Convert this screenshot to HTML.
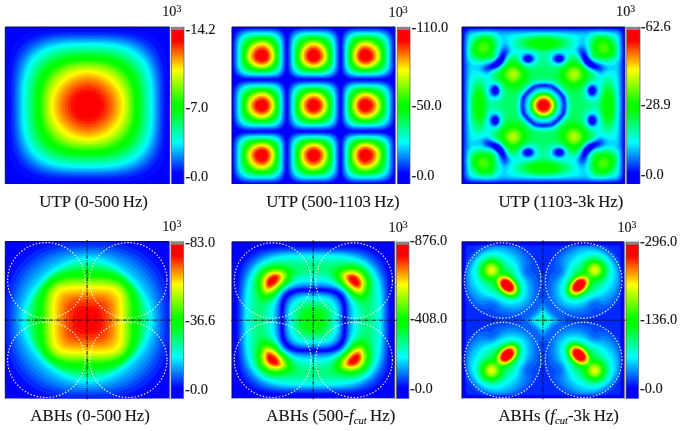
<!DOCTYPE html>
<html><head><meta charset="utf-8"><title>Figure</title>
<style>html,body{margin:0;padding:0;background:#fff}svg{display:block}text{font-family:"Liberation Serif",serif;fill:#141414;stroke:#141414;stroke-width:.12px}</style></head><body>
<svg width="685" height="431" viewBox="0 0 685 431">
<defs><linearGradient id="cb" x1="0" y1="1" x2="0" y2="0">
<stop offset="0.000" stop-color="#00f"/>
<stop offset="0.070" stop-color="#00f"/>
<stop offset="0.270" stop-color="#0ff"/>
<stop offset="0.480" stop-color="#0f0"/>
<stop offset="0.520" stop-color="#0f0"/>
<stop offset="0.740" stop-color="#ff0"/>
<stop offset="0.930" stop-color="#f00"/>
<stop offset="1.000" stop-color="#f00"/>
</linearGradient></defs>
<rect width="685" height="431" fill="#fff"/>
<svg x="5.3" y="27.0" width="164.4" height="157.0" viewBox="0 0 164.4 157.0" overflow="hidden">
<rect width="164.4" height="157.0" fill="#00f"/>
<path fill="#00f" d="M0 .6l.6-.6 163.2 0 .6 .6 0 155.8 -.6 .6 -163.2 0 -.6-.6z"/>
<path fill="#00f" d="M7.3 8.1l2.7-2.5 4-2.5 4-1.8 4-1.3 120.4 0 4 1.3 4 1.8 4 2.5 2 1.7 2.5 2.8 2.7 4 1.8 4 1 3 0 114.8 -1 3 -1.8 4 -2.7 4 -1.8 2 -2.7 2.5 -4 2.5 -4 1.8 -4 1.3 -120.4 0 -4-1.3 -4-1.8 -4-2.5 -2-1.7 -2.5-2.8 -2.7-4 -1.8-4 -1-3 0-114.8 1-3 1.8-4 2.7-4z"/>
<path fill="#000cff" d="M12 13.4l3.8-3.3 3.3-2 4.6-2.1 4.4-1.3 6-1.2 6-.7 8-.5 10-.2 50.2 0 10 .3 8 .6 8 1.2 6.4 1.8 3.7 1.6 2 1 2.2 1.5 2.4 2 3.4 3.7 2 3.2 2 4.4 1.4 4.8 1.2 6 .7 6.1 .3 6 .2 10.1 0 46.3 -.3 10 -.7 8.1 -.9 6 -1.9 6.8 -2.5 5.3 -1.5 2.3 -2 2.4 -3.8 3.3 -3.3 2 -4.6 2.1 -4.4 1.3 -6 1.2 -6 .7 -8 .5 -10 .2 -50.2 0 -10-.3 -8-.6 -8-1.2 -6.4-1.8 -3.7-1.6 -2-1 -2.2-1.5 -2.4-2 -3.4-3.7 -2-3.2 -2-4.4 -1.4-4.8 -1.2-6 -.7-6.1 -.3-6 -.2-10.1 0-46.3 .3-10 .7-8.1 .9-6 1.9-6.8 2.5-5.3 1.5-2.3z"/>
<path fill="#0029ff" d="M18 16.9l4.1-3.2 2-1.2 4-2 6-2.1 6-1.4 6-.8 10-.7 10.1-.2 16-.1 16 .1 10.1 .2 10 .7 6 .8 6 1.4 6 2.1 4 2 2 1.2 4.1 3.2 2.9 3.2 2.8 4.1 1.9 4 2.1 6 1.3 6.1 .7 6 .5 8 .3 10.1 -.1 34.2 -.5 10.1 -.9 8 -1.3 6.1 -2.1 6 -1.9 4 -1.3 2.1 -3.2 4 -3.2 2.9 -4.1 2.7 -4 2 -6 2.1 -6 1.4 -6 .8 -10 .7 -10.1 .2 -38.1-.1 -8-.3 -10-1 -8-1.7 -6-2.1 -4-2 -2-1.2 -4.1-3.2 -2-2.1 -2-2.5 -2.7-4.7 -2.4-6 -1.5-6 -.9-6.1 -.7-10 -.2-8.1 -.1-16.1 .1-16.1 .2-8.1 .7-10 .9-6.1 1.5-6 2.4-6 2.7-4.7 2-2.5z"/>
<path fill="#0046ff" d="M20.1 20.1l4-3.4 2-1.3 4-2.2 6-2.2 6-1.5 6-1 10-.8 10.1-.2 14-.1 14 .1 10.1 .2 10 .8 6 1 6 1.5 6 2.2 4 2.2 2 1.3 4 3.4 3.4 4.1 2.5 4 1.9 4 1.9 6 1.2 6.1 .9 8 .4 10.1 .1 28.2 -.3 10 -.6 8.1 -.8 6 -1.4 6.1 -2.3 6 -2.1 4 -1.4 2 -3.3 4 -4.1 3.5 -2 1.3 -4 2.2 -6 2.2 -6 1.5 -6 1 -10 .8 -8.1 .2 -30 0 -10.1-.2 -10-.8 -6-1 -6-1.5 -6-2.2 -4-2.2 -2-1.3 -4-3.4 -3.4-4.1 -1.4-2 -2.1-4 -2.3-6 -1.4-6.1 -.8-6 -.5-6 -.3-10.1 -.1-14.1 .1-14.1 .3-10.1 .5-6 .8-6 1.4-6.1 2.3-6 2.1-4 1.4-2z"/>
<path fill="#0063ff" d="M22.1 21.8l2-1.9 2.4-1.8 3.2-2 2.4-1.2 6-2.3 6-1.5 6-.9 8-.7 10.1-.4 14 0 14 0 10.1 .4 8 .7 6 .9 6 1.5 6 2.3 2.4 1.2 3.2 2 2.4 1.8 2 1.9 2.1 2.1 1.7 2.3 2.4 4 2.6 6 1.2 4.1 1.2 6 .7 6 .5 8.1 .2 10 -.2 26.2 -.5 8.1 -1 8 -1.5 6.1 -2.2 6 -1.1 2.3 -2 3.3 -1.9 2.4 -1.8 2.1 -2.1 2 -2.3 1.7 -4 2.5 -6 2.6 -6 1.7 -6 1.1 -8 .9 -8.1 .4 -10 .1 -20 0 -10.1-.3 -8-.6 -8-1.1 -6-1.5 -6-2.3 -2.4-1.2 -3.2-2 -2.4-1.8 -2-1.9 -2.1-2.1 -1.7-2.3 -2.4-4 -2.6-6 -1.7-6.1 -1-6 -.7-8.1 -.3-8 -.1-14.1 .1-14.1 .3-8 .7-8.1 1-6 1.7-6.1 2.6-6 2.4-4 1.7-2.3z"/>
<path fill="#0080ff" d="M24.1 23l4-3.3 2.5-1.6 3.5-1.8 6-2.3 6-1.4 6-1 8-.6 8.1-.3 14-.1 14 .1 8.1 .3 8 .6 6 1 6 1.4 6 2.3 3.5 1.8 2.5 1.6 4 3.3 3 3.2 2.8 4 2.3 4.6 1.9 5.5 1.4 6 .8 6 .6 8.1 .2 8 0 18.2 -.2 10 -.6 8.1 -.8 6 -1.4 6 -2.2 6.1 -1.7 3.5 -1.6 2.5 -3.3 4 -3.2 3 -4.5 3.1 -5.5 2.7 -6 1.9 -6 1.3 -6 .8 -8.1 .5 -10 .3 -28-.2 -8.1-.4 -8-1 -4-.8 -4-1 -6-2.3 -3.5-1.8 -2.5-1.6 -4-3.3 -3-3.2 -3.1-4.5 -2.5-5.5 -1.9-6.1 -1.2-6 -.9-8.1 -.3-8 -.1-14.1 .1-14.1 .3-8 .9-8.1 1.2-6 1.9-6.1 2.5-5.5 3.1-4.5z"/>
<path fill="#009dff" d="M28.1 22.3l4-2.7 2.8-1.5 3.2-1.4 6-1.9 6-1.2 8-1 8.1-.4 28-.1 8 .3 6.1 .4 6 .8 6 1.2 6 1.9 4 1.8 4 2.4 4.1 3.3 3.7 4 2.3 3.2 2.4 4.8 1.5 4.1 1.6 6 1 6 .5 6.1 .3 8 .1 18.1 -.2 10.1 -.5 8.1 -.8 6 -1.4 6 -2.1 6.1 -2 4 -1.2 2 -3.3 4.1 -4 3.8 -4 2.7 -4 2 -6 2.2 -6 1.5 -6 .9 -8.1 .6 -8 .3 -28-.1 -8.1-.4 -8-1 -8-1.8 -6-2.2 -4-2 -2-1.3 -4.1-3.3 -2-2 -1.9-2.3 -2.1-2.9 -1.5-2.8 -2.4-6.1 -1.6-6 -1.2-8 -.5-8.1 -.2-10.1 .1-18.1 .3-8 .8-8.1 1.1-6 1.9-6.1 1.7-4 2.3-4 3.3-4.1z"/>
<path fill="#00baff" d="M28.1 24.9l4-3 2.9-1.8 3.1-1.4 6-2.1 6-1.4 8-1.1 8.1-.5 26-.1 8 .2 8.1 .6 6 .9 6 1.4 6 2.1 4 1.9 4 2.7 3.4 2.9 3.5 4 2.6 4 1.9 4 2 6.1 1.3 6 .7 6.1 .5 8 .1 8.1 -.2 22.1 -.6 8.1 -.9 6 -1.5 6 -2.3 6.1 -2.5 4.3 -2 2.8 -2 2.3 -4 3.5 -4 2.7 -4 1.9 -6 2.1 -6 1.4 -6 .9 -8.1 .6 -10 .3 -16 0 -10-.3 -8.1-.6 -8-1.3 -6-1.6 -6-2.4 -4.4-2.5 -2.7-2.1 -2.3-2 -3.5-4 -1.4-2 -2.2-4 -2.3-6.1 -1.5-6 -.9-6 -.6-8.1 -.2-10.1 0-16.1 .3-8 .5-6.1 .9-6 1.5-6 2.3-6.1 2.2-4 3-4z"/>
<path fill="#00d7ff" d="M28.1 27.5l3.9-3.3 4.1-2.6 3-1.5 3-1.2 6-1.7 6-1.2 8.1-.8 8-.4 12 0 12 0 8 .4 8.1 .8 6 1.2 6 1.7 3 1.2 3 1.5 4.1 2.6 3.9 3.3 2 2.1 2 2.6 2 3.2 2.1 4.2 1.6 4.7 1.4 6 .8 6.1 .6 8 .1 8.1 0 14.1 -.2 8 -.7 8.1 -1 6 -1.7 6 -.9 2.7 -1.6 3.4 -2.5 4 -3.3 4 -2.1 2 -2.5 2 -4.1 2.6 -4 1.9 -6 2 -6 1.4 -6 .8 -8.1 .5 -10 .2 -16 0 -8-.3 -8.1-.6 -6-1 -6-1.5 -6-2.4 -3-1.5 -3-2 -4-3.4 -2-2.1 -2-2.6 -2.5-4 -1.8-4.1 -1.9-6 -1.2-6 -.7-6.1 -.4-8 -.1-12.1 .1-12.1 .4-8 .7-6.1 1.2-6 1.9-6 1.8-4.1 2.5-4 2-2.6z"/>
<path fill="#00f4ff" d="M32.1 26.4l4-2.8 2.7-1.5 3.3-1.4 6-1.9 6-1.3 6-.8 8.1-.5 24-.1 8 .3 6.1 .6 6 .9 6 1.4 4 1.4 4 1.8 4 2.4 4.1 3.3 3.7 4 2.2 3.3 2 3.8 2 5 1.1 4 1.1 6 .6 6.1 .4 8 0 16.1 -.1 8.1 -.6 8 -1 6.1 -1.5 6 -2 5 -2.8 5.1 -3.2 4.1 -4 3.7 -3.1 2.2 -3.6 2.1 -5.3 2.2 -6 1.6 -6 1.1 -8.1 .8 -8 .3 -16 0 -10-.2 -8.1-.7 -6-.9 -6-1.4 -6-2.2 -4.9-2.7 -2.9-2 -2.3-2 -2-2 -1.9-2.4 -2-2.9 -1.5-2.7 -2.5-6.1 -1.5-6 -1-6.1 -.6-8 -.1-8.1 0-16.1 .4-8 .6-6.1 1.1-6 1.8-6 1.3-3 1.5-3.1 2.5-3.6 2-2.5z"/>
<path fill="#0fe" d="M32.1 28.8l4-3 2.7-1.6 3.3-1.7 6-2.1 6-1.4 6-.8 8.1-.6 22-.1 8 .2 6.1 .5 6 .8 6 1.4 5.1 1.7 4.9 2.4 4 2.7 3.5 3 3.5 4 2.5 4 1.9 4.1 2 6 1.2 6 .7 6.1 .4 6 .1 8.1 0 12.1 -.3 8 -.6 6 -1 6.1 -1.7 6 -2.2 5 -3 5.1 -3 3.5 -4 3.5 -4 2.7 -4.9 2.4 -5.1 1.7 -6 1.4 -6 .8 -8.1 .6 -8 .1 -14 0 -8-.2 -8.1-.7 -6-1 -6-1.6 -6-2.5 -4.6-2.7 -2.7-2 -2.2-2 -3.5-4 -3-5.1 -2.2-5 -1.7-6 -1-6.1 -.7-8 -.2-8.1 0-14.1 .3-8 .6-6 1-6.1 1.7-6 1.7-4 2.5-4.5 2.6-3.6z"/>
<path fill="#00ffd2" d="M32.1 31.4l3.7-3.2 3.1-2 3.9-2 5.3-2.1 6-1.5 6-.9 6.1-.6 8-.2 14-.1 8 .2 8.1 .7 6 .9 6 1.5 6 2.4 4 2.1 2.3 1.6 2.4 2 3.9 4 2.8 4 2.1 4.1 1.5 4 1.2 4 1.2 6.1 .6 6 .3 8 .1 14.1 -.3 8.1 -.5 6 -.9 6.1 -1.7 6 -1 2.7 -1.5 3.3 -2.5 4.2 -3.2 3.9 -2.8 2.6 -2 1.6 -2.8 1.8 -3.9 2 -5.3 2.1 -4 1.1 -6 1.1 -6.1 .6 -8 .4 -14 .1 -10-.2 -8.1-.7 -6-.9 -6-1.5 -6-2.4 -4-2.1 -2.3-1.6 -2.4-2 -3.9-4 -2.8-4 -2.1-4.1 -1.5-4 -1.7-6 -.9-6.1 -.5-6 -.3-8.1 0-12 .3-8.1 .7-8 1.2-6.1 1.9-6 1.8-4 2.5-4.2 2-2.6z"/>
<path fill="#00ffb7" d="M33.9 32.2l4.2-3.4 4-2.4 5.3-2.2 4.7-1.5 6-1.2 6.1-.8 6-.3 10-.2 10 .1 8 .3 6.1 .6 6 1 6 1.7 5.5 2.3 4.5 2.6 4 3.3 3.8 4.1 2.2 3.4 2.4 4.7 1.5 4 1.1 4 1.1 6.1 .5 6 .3 6 0 12.1 -.2 8.1 -.4 6 -.9 6.1 -1.5 6 -1.9 4.9 -2.8 5.2 -3.2 4.1 -4 3.8 -3 2.1 -3.5 2 -5.5 2.3 -6 1.7 -6 1 -6.1 .6 -8 .3 -14 .1 -8-.3 -8.1-.7 -6-1 -6-1.7 -5.5-2.3 -4.5-2.6 -4-3.3 -3.8-4.1 -2.2-3.4 -2.4-4.7 -1.6-4.5 -1.4-5.5 -.9-6.1 -.4-6 -.2-10.1 0-10.1 .4-8 .7-6 1.3-6.1 2.1-6 2-4 2.6-4.1z"/>
<path fill="#00ff9b" d="M36.1 32.8l4-3.1 4-2.3 6-2.4 6-1.6 6.1-1 8-.6 8-.1 12 0 8 .4 6.1 .6 6 1.2 4 1.1 4 1.5 4 2 4 2.6 3.6 3.1 3.4 4 2.5 4.1 1.9 4 1.3 4 1.1 4 .9 6.1 .5 6 .2 8.1 0 10 -.3 8.1 -.6 6 -1.2 6.1 -1.9 6 -1.9 4 -2.5 4.1 -3 3.5 -4 3.6 -4 2.6 -4.8 2.3 -5.2 1.8 -6 1.4 -6.1 .8 -6 .4 -8 .1 -12 0 -8-.4 -6.1-.6 -6-1.2 -6-1.8 -5.5-2.5 -4.5-2.9 -3.6-3.1 -3.4-4 -2.5-4.1 -1.9-4 -1.9-6 -1.2-6.1 -.6-6 -.3-8.1 0-12 .3-8.1 .6-6 1.2-6.1 1.2-4 1.6-4 2.5-4.5 2.6-3.6z"/>
<path fill="#00ff80" d="M37.2 34.2l2.9-2.3 4-2.5 4-1.9 6-2 6-1.2 6.1-.8 6-.3 10-.1 10 .1 6 .3 6.1 .8 6 1.2 6 2 4 1.9 4 2.5 2.9 2.3 3.1 3.3 2.1 2.8 2.4 4 1.8 4 1.3 4 1.3 6.1 .7 6 .3 6 0 12.1 -.2 8.1 -.6 6 -1 6.1 -1.8 6 -1.8 4 -2.5 4.2 -3.1 3.9 -2.9 2.7 -4 2.9 -4 2.2 -4 1.7 -4 1.2 -6 1.2 -6.1 .8 -8 .4 -12 0 -8-.2 -8-.7 -6.1-1 -6-1.7 -4-1.7 -4-2.2 -2.4-1.6 -2.5-2 -3.8-4 -2.7-4.1 -2.1-4 -2.1-6 -1.3-6.1 -.7-6 -.3-6 -.1-8.1 .1-8.1 .3-6 .7-6 1.3-6.1 2.1-6 2.1-4 2.7-4.1z"/>
<path fill="#00ff64" d="M38.1 35.9l4-3.2 4-2.4 4.9-2.1 5.1-1.6 6.1-1.1 6-.7 6-.2 8-.1 8 .1 6 .2 6 .7 6.1 1.1 5.1 1.6 4.9 2.1 4 2.4 4 3.2 2.3 2.3 3 4.1 2.2 4 1.7 4 1.2 4 1.2 6.1 .6 6 .2 6.1 -.1 16.1 -.5 6 -.9 6 -1.7 6.1 -1.7 4 -2.2 4 -3.3 4.3 -3.9 3.8 -2.8 2 -3.5 2 -5.8 2.4 -4 1.2 -6.1 1.1 -6 .7 -6 .2 -12 .1 -8-.2 -6-.5 -6.1-1 -6-1.6 -5.8-2.4 -4.2-2.5 -4-3.2 -2-2.1 -1.9-2.3 -2.1-3.2 -2.4-4.8 -1.4-4 -1.4-6.1 -.8-6 -.4-6 -.1-8.1 .1-8.1 .4-6 .8-6 1.4-6.1 1.4-4 2.4-4.8 2.1-3.2 1.9-2.3z"/>
<path fill="#00ff48" d="M42.1 34.9l4-2.6 4-2 4-1.4 6-1.5 6.1-.9 6-.4 10-.2 10 .2 6 .4 4 .5 5.7 1.2 4.4 1.3 4 1.7 4 2.3 3.7 2.7 2.1 2 3.3 4.1 2.5 4 1.8 4 1.3 4 .9 4.1 .9 6 .4 6 .1 8.1 -.1 8.1 -.4 6 -.9 6 -.9 4.1 -1.3 4 -1.8 4 -2.5 4 -3.3 4.1 -3.8 3.3 -4 2.6 -4.3 2.1 -5.7 1.9 -6.1 1.3 -6 .7 -6 .3 -8 .1 -8-.1 -6-.3 -6-.7 -6.1-1.3 -5.7-1.9 -4.3-2.1 -4-2.6 -3.8-3.3 -3.3-4.1 -2.5-4 -1.8-4 -1.8-6.1 -1.1-6 -.5-6 -.2-10.1 .2-10.1 .5-6 .7-4 1.5-6.1 1.6-4 2-4 2.5-3.5 2.2-2.6z"/>
<path fill="#00ff2d" d="M42.1 37.2l4-2.9 4-2.2 4-1.5 6-1.7 6.1-.9 6-.5 16-.2 6 .3 6 .6 6.1 1.2 4 1.2 4 1.5 3.9 2.1 2.9 2 3.2 2.8 2.9 3.3 2.7 4 2 4 1.4 4 1 4.1 1 6 .4 6 .1 8.1 -.1 8.1 -.4 6 -1 6 -1 4.1 -1.4 4 -2 4 -2.7 4 -2.9 3.3 -4 3.4 -4 2.5 -4 1.8 -4 1.4 -6.1 1.4 -6 .7 -6 .4 -8 .1 -8-.1 -6-.4 -6-.7 -6.1-1.4 -4-1.4 -4-1.8 -4-2.5 -4-3.4 -2.9-3.3 -2.7-4 -2-4 -2-6.1 -1.1-6 -.6-6 -.2-6.1 0-10 .3-6.1 .8-6 .8-4 1.6-4.9 2-4.4 2-3.3 2.8-3.5z"/>
<path fill="#0f1" d="M42.1 39.5l4-3.2 3.6-2.1 4.4-1.9 4-1.3 4.1-.9 6-.9 6-.4 8-.1 8 .1 6 .4 6 .9 4.1 .9 4 1.3 4.4 1.9 3.6 2.1 4 3.2 2.7 2.8 2.9 4 1.1 2 1.9 4 1.3 4.1 1.3 6 .5 4 .3 6.1 0 10 -.2 6.1 -.6 6 -.8 4 -1.8 6.1 -1.9 4 -2.5 4 -2.2 2.8 -3.4 3.3 -2.8 2 -3.8 2.2 -4.2 1.8 -3.8 1.2 -6.1 1.3 -6 .7 -6 .3 -10 0 -6-.2 -6-.5 -6.1-1.1 -5.8-1.7 -4.2-1.8 -4-2.3 -4-3.2 -2.7-2.8 -2.9-4 -2.1-4 -1.6-4 -1.1-4.1 -1-6 -.5-6 -.2-8.1 .2-8.1 .5-6 1-6 1.1-4.1 1.6-4 2.1-4 2.9-4z"/>
<path fill="#0f0" d="M46.1 38.4l4-2.5 4-1.9 4-1.4 6.1-1.4 4-.6 6-.4 8-.1 8 .1 6 .4 4 .6 4.1 .8 4 1.2 4 1.7 4 2.2 4 2.9 2 1.9 2.1 2.4 2.7 4 2 4 1.4 4.1 1.1 4 .9 6 .4 6.1 0 6 0 6 -.4 6.1 -.9 6 -1.1 4 -1.4 4.1 -2 4 -2.7 4 -2.1 2.4 -4 3.5 -3.4 2.2 -4.6 2.2 -4 1.4 -4.1 1 -6 1 -6 .4 -8 .1 -8-.1 -6-.4 -6-1 -4.1-1 -4-1.4 -4.6-2.2 -3.4-2.2 -4-3.5 -2-2.3 -1.5-2.1 -2.4-4 -1.7-4 -1.2-4.1 -1.1-6 -.6-6 -.1-8.1 .1-8.1 .6-6 .6-4 1.1-4 1.4-4.1 2-4 2.7-4 2.1-2.4z"/>
<path fill="#0f0" d="M46.1 40.6l3.3-2.4 3.6-2 5-2 4.2-1.1 4-.8 6-.6 6-.3 10 .1 6 .3 4 .5 4 .8 4.2 1.1 3.9 1.5 4 2.1 3.6 2.5 2.4 2 2 2.2 2.8 3.8 2.2 4 1.6 4.1 1.1 4 1 6 .5 6.1 0 6 0 6 -.5 6.1 -1 6 -1.1 4 -1.6 4.1 -2.2 4 -2.8 3.8 -2 2.2 -4 3.2 -4 2.4 -4 1.8 -4 1.3 -4.1 .9 -6 .9 -6 .3 -6 .1 -6-.1 -6-.3 -6-.9 -4.1-.9 -4-1.3 -4-1.8 -4-2.4 -4-3.2 -3.5-4 -2.5-4 -1.9-4 -1.3-4.1 -.9-4 -.8-6 -.3-6.1 0-10 .5-6.1 .6-4 .9-4 1.3-4.1 1.9-4 2.5-4 3.5-4z"/>
<path fill="#10ff00" d="M46.6 42.3l3.5-2.7 4-2.2 4-1.7 4.1-1.2 4-.8 6-.7 6-.3 6 0 6 .1 6 .6 4 .7 4.1 1 4 1.4 4 1.9 2.9 1.9 3.1 2.4 2 2 2.9 3.6 2.4 4 1.7 4.1 1.2 4 .8 4 .5 4 .3 6.1 -.1 12.1 -.7 6 -.8 4 -1.2 4 -1.7 4.1 -2.4 4 -3.3 4 -2.1 2 -3.5 2.7 -4 2.2 -4 1.7 -4.1 1.2 -6 1.1 -4 .4 -6 .3 -8 0 -6-.3 -6-.7 -4-.8 -4.1-1.2 -4-1.7 -4-2.2 -4-3.1 -3.4-3.6 -2.6-3.7 -2.2-4.3 -1.4-4.1 -1.1-4 -.8-6 -.3-6.1 -.1-6 .2-6.1 .7-6 .8-4 1.2-4 1.7-4.1 2.4-4 2.9-3.6z"/>
<path fill="#2bff00" d="M50.1 41.5l4-2.4 4-1.8 4.1-1.3 4-1 4-.6 6-.4 12 0 6 .4 4 .6 4 1 4.1 1.3 2.3 .9 3.8 2.1 2.9 2 3 2.6 2.9 3.4 2.6 4 1.9 4.1 1.3 4 .9 4 .6 4 .4 6.1 0 6 -.2 6.1 -.4 4 -.8 4 -1.2 4.4 -1.5 3.7 -2.2 4 -2.3 3.2 -2.7 2.8 -3.3 2.8 -4 2.4 -4 1.8 -4.1 1.3 -4 1 -6 .8 -6 .3 -6 0 -6-.2 -6-.6 -4-.8 -4.1-1.1 -4-1.5 -4-2.1 -3-2.1 -3-2.6 -2.9-3.4 -2.6-4 -1.9-4.1 -1.3-4 -.9-4 -.8-6 -.2-6.1 .1-8 .5-6.1 .8-4 1.1-4 1.6-4.1 2.2-4 2.3-3.2 2.7-2.8z"/>
<path fill="#45ff00" d="M49.1 44.3l3-2.3 4-2.3 4-1.7 4.1-1.2 4-.8 6-.7 6-.2 6 0 6 .4 4 .5 4 .8 4.1 1.2 4 1.7 4 2.3 3 2.3 2.2 2 2.8 3.3 2 3.1 1.8 3.7 1.5 4 1 4 .6 4 .3 4.1 .2 6 -.2 6 -.3 4.1 -.6 4 -1 4 -1.5 4 -1.8 3.7 -2 3.1 -2.8 3.3 -3.2 2.8 -4 2.7 -4 2 -4.1 1.4 -4 1 -4 .7 -6 .5 -6 .1 -6-.1 -6-.5 -4-.7 -4-1 -4.1-1.4 -4-2 -4-2.7 -3.2-2.8 -2.8-3.3 -2-3.1 -1.8-3.7 -1.5-4 -1-4 -.8-6 -.3-6.1 .1-6 .4-6.1 .6-4 1-4 1.3-3.6 2-4.1 1.5-2.4 2.5-3.1z"/>
<path fill="#5fff00" d="M50.1 45.5l2-1.6 4-2.5 4-1.9 4.1-1.3 4-.9 4-.6 6-.4 6 0 6 .2 4 .5 4 .7 4 1.1 4.1 1.6 3.6 1.9 2.9 2 2.4 2 3.1 3.3 2 2.7 2 3.6 1.1 2.5 1.3 4 .9 4 .5 4 .3 6.1 0 6 -.3 4.1 -.5 4 -1.3 5.4 -.9 2.6 -1.9 4.1 -2.6 4 -2.6 3 -3.5 3 -2.9 2 -3.6 1.9 -4.1 1.6 -4 1.1 -4 .7 -4 .5 -6 .2 -6 0 -6-.4 -4-.6 -4-.9 -4.1-1.3 -4-1.9 -4-2.5 -2.9-2.4 -3.1-3.3 -2-2.7 -2.2-4.1 -1.6-4 -1.1-4 -.7-4 -.5-6.1 0-6 .3-6.1 .5-4 .9-4 1.3-4 1.1-2.5 2-3.6 3.1-4z"/>
<path fill="#7aff00" d="M54.1 44.3l4-2.3 4.1-1.7 4-1.2 3.8-.9 4.2-.5 4-.2 6-.1 6 .3 4 .5 4 .9 4 1.2 4.6 2 3.5 2 2.6 2 3.4 3.3 2.1 2.7 2.5 4.1 1.7 4 1.2 4 .8 4 .4 4.1 .2 4 0 6 -.3 4.1 -.6 4 -1 4 -1 2.8 -1.4 3.2 -2.5 4.1 -2.1 2.7 -2 2 -2 1.8 -4 2.7 -4 2 -4.1 1.5 -4 1 -6 .9 -6 .3 -6-.1 -6-.4 -4-.7 -4-1 -4.1-1.5 -2.5-1.2 -3.5-2 -2.6-2 -3.4-3.3 -2.1-2.7 -2.5-4.1 -1.7-4 -1.2-4 -.8-4 -.6-6.1 0-6 .3-6.1 .6-4 1-4 1.5-4 1.5-3.1 1.9-3 2.1-2.7 3.4-3.3z"/>
<path fill="#94ff00" d="M54.1 46.3l3-2 3.9-2 3.2-1.2 4-1.2 4-.7 4-.4 6-.2 6 .2 4 .4 4 .7 4 1.2 3.2 1.2 3.9 2 3 1.9 4 3.6 2.2 2.5 1.8 2.6 1.9 3.5 1.6 4 1.1 4 .7 4 .3 4.1 .1 6 -.2 4 -.5 4.1 -.9 4 -1.3 4 -.9 2 -2.3 4.1 -1.6 2.2 -3.5 3.8 -2.5 2.1 -4 2.5 -4.1 1.9 -4 1.4 -4 .9 -4 .6 -4 .2 -6 .1 -6-.3 -4-.6 -4-.9 -4-1.4 -4.1-1.9 -2-1.2 -4-3 -2-1.9 -2.2-2.5 -2.6-4.1 -2-4 -1.2-3.6 -1-4.4 -.5-4.1 -.2-4 .1-6 .3-4.1 .7-4 1.1-4 1.6-4 1.9-3.5 2-2.8 3.5-3.8z"/>
<path fill="#aeff00" d="M58.1 45.5l2.2-1.2 4.7-2 3.2-1 4-.8 4-.5 4-.2 6 .1 4 .3 4 .7 4 1 5.9 2.4 3.5 2 2.7 2 2.2 2 1.9 2 1.9 2.5 2 3.2 2 4.4 .6 2 1 4 .6 4.1 .2 4 -.1 6 -.4 4.1 -.7 4 -1.2 3.9 -2 4.5 -2.3 3.7 -3.5 4 -2.2 2 -2.7 2 -3.5 2 -3.9 1.7 -4 1.3 -4 .8 -4 .5 -6 .2 -6-.2 -4-.5 -4-.8 -4-1.3 -3.9-1.7 -3.5-2 -2.7-2 -2.2-2 -1.9-2 -1.9-2.5 -2.2-3.6 -1.8-4 -1.2-4 -.8-4.4 -.4-5.7 .1-6 .4-4.1 .7-4 1.2-3.9 1.8-4.1 1.2-2 2.9-4.1 1.9-2 2.2-2z"/>
<path fill="#c9ff00" d="M58.1 47.4l2-1.3 4.1-1.9 4-1.4 4-.9 4-.6 4-.2 4 0 4 .2 6 1 4 1.2 4 1.6 2.3 1.2 3.1 2 2.5 2 2.2 2.1 2 2.4 2 3 2 3.9 1 2.7 1.2 4 .6 4.1 .3 4 0 4 -.3 4 -.6 4.1 -1.2 4 -1 2.7 -1.7 3.3 -2.3 3.6 -2 2.4 -2.2 2.1 -2.5 2 -3.3 2.2 -4.1 1.9 -4 1.4 -4 .9 -4 .6 -4 .2 -4 0 -4-.2 -4-.6 -4-.9 -4-1.4 -4.1-1.9 -2-1.3 -3.8-2.9 -2.2-2.1 -2-2.4 -2.3-3.6 -2-4 -1.4-4 -.8-4 -.5-4.1 -.1-6 .3-4 .6-4.1 1.2-4 1-2.7 2-3.9 2-3 2.1-2.5 2.1-2z"/>
<path fill="#e3ff00" d="M59.8 48.3l3.6-2 5.1-2 3.7-.9 4-.7 4-.3 4 0 4 .3 4 .7 3.7 .9 5.1 2 3.3 1.8 3.1 2.2 2.3 2 2.6 2.8 2 2.7 1.5 2.6 1 2 1.6 4 .9 4 .6 4.1 .1 4 -.1 4 -.6 4.1 -.9 4 -2.1 5.1 -2 3.5 -2 2.7 -2.6 2.8 -2.3 2 -3.1 2.2 -3.3 1.8 -2.8 1.2 -4 1.3 -4 .8 -4 .5 -4 .1 -4-.1 -4-.5 -4-.8 -4-1.3 -2.8-1.2 -3.3-1.8 -3.1-2.2 -2.3-2 -2.6-2.8 -2-2.7 -2-3.5 -1.3-3.1 -1.3-4 -.7-4.1 -.4-4 0-4 .4-4 1.3-6.3 1.5-3.8 2.2-4 2.3-3.3 2-2.2 2.9-2.6z"/>
<path fill="#fdff00" d="M67.8 46.3l4.4-1.3 3.5-.7 6.5-.4 6.5 .4 3.5 .7 4 1.2 4.8 2.1 3.3 2 2.6 2 2.2 2 1.8 2.1 1.5 2 1.9 2.9 2.2 5.1 1.2 4 .6 4.1 .2 4 -.2 4 -1.1 6.1 -.9 2.7 -1.5 3.3 -2.4 4 -1.5 2 -1.8 2.1 -2.8 2.5 -2 1.5 -3.3 2 -4.8 2.1 -4 1.2 -4 .8 -4 .3 -4 0 -4-.3 -4-.8 -4-1.2 -4.8-2.1 -3.3-2 -2.6-2 -3.4-3.3 -2.1-2.8 -1.9-2.9 -2.2-5.1 -1.2-4 -.6-4.1 -.2-4 .2-4.3 .6-3.8 1.4-4.7 1.5-3.3 1.1-2 1.4-2.2 3.2-3.9 2.2-2 2.6-2 3.3-2z"/>
<path fill="#ffe200" d="M68.2 48.2l6-1.8 6-.8 4 0 4 .4 2 .4 4 1.1 2.3 .8 3.7 1.8 4.1 2.7 4 3.7 2 2.4 2.3 3.5 1.7 3.5 .9 2.5 1 4.1 .3 2 .2 6 -.4 3.5 -.5 2.6 -1.3 4 -.9 2 -1.3 2.5 -2 3 -2 2.4 -2.2 2.2 -2.5 2 -3.4 2.2 -3.7 1.8 -2.3 .8 -4 1.1 -4 .7 -4 .1 -4-.1 -3.7-.6 -2.3-.6 -4-1.3 -4.4-2.1 -3.7-2.5 -4-3.7 -2-2.4 -2.3-3.5 -1.7-3.5 -.9-2.5 -1-4.1 -.5-4 0-4 .4-3.5 .5-2.6 1.3-4 2.2-4.5 2-3 2.2-2.5 2-2.1 3.9-2.9 2-1.3z"/>
<path fill="#ffc400" d="M70.2 49.6l4-1.2 2-.4 6-.5 6 .5 2 .4 4 1.2 2 .8 4 2.2 2.5 1.7 2.4 2.1 3.6 4 1.6 2.3 1.9 3.7 .8 2 1.1 4.1 .4 2 .2 4 -.2 4 -.9 4.1 -1.3 3.8 -2.2 4.2 -1.8 2.5 -2 2.4 -4.1 3.5 -2.4 1.7 -3.6 1.9 -2 .8 -4 1.2 -6 .9 -4 0 -4-.5 -2-.4 -4-1.2 -2-.8 -4-2.2 -2.5-1.7 -2.4-2.1 -3.6-4 -1.6-2.3 -1.9-3.7 -.8-2 -1.1-4.1 -.4-2 -.2-4 .2-4 .4-2 1.1-4.1 .8-2 1.9-3.7 1.6-2.3 3.6-4 2.4-2.1 2.5-1.7 4-2.2z"/>
<path fill="#ffa500" d="M72.2 51.2l3.1-.9 2.9-.5 4-.2 2 0 4 .5 2 .5 5 1.7 3 1.6 2 1.3 4.1 3.4 2 2.3 2 2.8 2.3 4.7 1.2 4.1 .4 2 .3 4 -.2 3.6 -.5 2.4 -1.5 4.9 -1.6 3.2 -1.3 2 -1.6 2 -1.8 2 -2.3 2 -2.8 2.1 -4.7 2.4 -4 1.3 -2 .5 -4 .5 -2 0 -2 0 -4-.5 -2-.5 -4-1.3 -4.7-2.4 -2.8-2.1 -2.6-2.2 -2-2.3 -2-2.8 -2.3-4.7 -1.2-4.1 -.6-4 0-4 .2-2 .9-4.1 1.6-4 1.4-2.7 2-2.8 2-2.3 2.1-1.8 4-2.9 3-1.6z"/>
<path fill="#ff8700" d="M78.2 52.1l4-.3 4 .3 4 .9 3.8 1.3 3.7 2.1 2.8 2 2.2 2 1.7 2 2.7 4 1.2 2.6 1.1 3.5 .6 4 0 4 -.6 4 -1.1 3.5 -1.2 2.6 -1.2 2 -1.5 2 -1.7 2 -2.2 2 -2.3 1.7 -4.2 2.4 -3.8 1.3 -4 .9 -4 .3 -4-.3 -4-.9 -3.8-1.3 -3.7-2.1 -2.8-2 -2.2-2 -1.7-2 -2.7-4 -1.2-2.6 -1.1-3.5 -.6-4 0-4 .6-4 1.1-3.5 1.2-2.6 1.2-2 1.5-2 1.7-2 2.2-2 2.3-1.7 4.2-2.4 3.8-1.3z"/>
<path fill="#ff6800" d="M80.2 54.3l4 0 2 .3 4 .9 4 1.7 2 1.1 2 1.4 2.9 2.7 1.7 2 1.5 2.1 2 4.3 .9 3.7 .3 2 0 4 -.3 2 -1.1 4.1 -1.9 4 -1.4 2 -1.7 2 -2.9 2.7 -2 1.4 -2 1.1 -4 1.7 -2 .5 -4 .7 -4 0 -2-.3 -4-.9 -4-1.7 -2-1.1 -2-1.4 -2.9-2.7 -1.7-2 -1.5-2.1 -2-4.3 -.9-3.7 -.3-2 0-4 .3-2 1.1-4.1 1.9-4 1.4-2 1.7-2 2.9-2.7 2-1.4 2-1.1 4-1.7 2-.5z"/>
<path fill="#ff4a00" d="M70.2 60.1l4-1.9 4-1 4-.4 4 .4 4 1 4 1.9 2 1.4 2 1.7 2.8 3.2 1.3 2 1 2 1.2 4.1 .4 4 -.4 4 -1.2 4.1 -1 2 -1.3 2 -1.6 2 -3.2 2.9 -2 1.4 -2 1 -4 1.5 -4 .7 -4 0 -2-.3 -4-1 -4-1.9 -2-1.4 -2-1.7 -2.8-3.2 -1.3-2 -1-2 -1.2-4.1 -.4-4 .4-4 1.2-4.1 1-2 1.3-2 2.8-3.2 2-1.7z"/>
<path fill="#ff2b00" d="M76.2 60.4l4-.8 4 0 3.8 .8 2.2 .8 2.4 1.2 1.6 1 2 1.7 2.8 3.3 1.2 2 .8 2.1 .9 4 0 4 -.9 4 -.8 2.1 -2 3 -2.7 3 -3.3 2.3 -4 1.7 -4 .8 -4 0 -3.8-.8 -2.2-.8 -2.4-1.2 -1.6-1 -2-1.7 -2.8-3.3 -1.2-2 -.8-2.1 -.9-4 0-4 .9-4 .8-2.1 2-3 2.7-3 3.3-2.3z"/>
<path fill="#ff0d00" d="M71.1 66.4l3-2 2.1-.9 2-.6 4-.5 4 .5 2 .6 2 .9 2 1.2 2 1.7 2 2.4 1.6 2.8 .7 2 .4 2 .1 2 -.1 2 -.4 2 -.7 2 -1.6 2.8 -2 2.4 -2 1.7 -2 1.2 -2 .9 -2 .6 -4 .5 -4-.5 -2-.6 -2-.9 -2-1.2 -2-1.7 -2-2.4 -1.6-2.8 -.7-2 -.4-2 -.1-2 .1-2 .4-2 .7-2 1.6-2.8 .9-1.3z"/>
<path fill="#f00" d="M76.2 66.7l2-.7 2-.5 2-.1 2 .1 2 .5 2 .7 2.8 1.7 2 2 1.4 2.1 .9 2 .5 2 .1 2 -.1 2 -.5 2 -1.1 2.3 -2 2.6 -2 1.7 -2 1.2 -2 .7 -2 .5 -2 .1 -2-.1 -2-.5 -2-.7 -2.8-1.7 -2-2 -1.4-2.1 -.9-2 -.5-2 -.1-2 .1-2 .5-2 1.1-2.3 2-2.6 2-1.7z"/>
<path fill="#f00" d="M80.2 68.5l2-.2 2 .2 2 .5 2 1.1 2.6 2.4 1.2 2 .7 2 .2 2 -.2 2 -.7 2 -1.2 2 -2.6 2.4 -2 1.1 -2 .5 -2 .2 -2-.2 -2-.5 -2-1.1 -2.6-2.4 -1.2-2 -.7-2 -.2-2 .2-2 .7-2 1.2-2 2.6-2.4 2-1.1z"/>
<path fill="#f00" d="M79.6 72.5l2.6-.5 2.6 .5 1.4 .7 1.4 1.3 1.1 2 .4 2 -.4 2 -1.1 2 -1.4 1.3 -1.4 .7 -2.6 .5 -2.6-.5 -1.4-.7 -1.4-1.3 -1.1-2 -.4-2 .4-2 1.1-2 1.4-1.3z"/>
</svg>
<path d="M5.3 184.0V27.0H169.7" fill="none" stroke="#0c0c50" stroke-width="1"/>
<path d="M169.7 27.0V184.0" fill="none" stroke="#3c3c46" stroke-width="0.9"/>
<rect x="171.5" y="26.8" width="12.5" height="3.4" fill="#858585"/>
<rect x="171.5" y="30.0" width="12.5" height="154.0" fill="url(#cb)"/>
<path d="M171.5 26.8V184.0M184.0 26.8V184.0" stroke="#5a5a5a" stroke-width="0.7" fill="none"/>
<text transform="translate(185.5 33.7) scale(1.045 1)" font-size="13.8">-14.2</text>
<text transform="translate(185.5 111.7) scale(1.045 1)" font-size="13.8">-7.0</text>
<text transform="translate(185.5 181.0) scale(1.045 1)" font-size="13.8">-0.0</text>
<text transform="translate(162.2 15.9) scale(1.045 1)" font-size="13.6">10<tspan dy="-4.3" font-size="9.4">3</tspan></text>
<text id="cap0" transform="translate(93.6 206.8) scale(1.045 1)" font-size="16.1" text-anchor="middle">UTP (0-500 Hz)</text>
<svg x="232.0" y="27.0" width="163.2" height="157.0" viewBox="0 0 163.2 157.0" overflow="hidden">
<rect width="163.2" height="157.0" fill="#00f"/>
<path fill="#00f" d="M.3 2l2.2-2 50.1 0 1.1 1.1 2 0 1.2-1.1 49.4 0 1.2 1.1 2 0 1.1-1.1 50.1 0 .5 .4 2 2 0 48.2 -2.1 1.7 2.1 2.5 0 47.4 -2.1 2.5 2.1 1.7 0 48.2 -.3 .4 -2.2 2 -50.1 0 -1.1-1.1 -2 0 -1.2 1.1 -49.4 0 -1.2-1.1 -2 0 -1.1 1.1 -50.1 0 -.5-.4 -2-2 0-48.2 2.1-1.7 -2.1-2.5 0-47.4 2.1-2.5 -2.1-1.7 0-48.2zM53 52.3l.7 1 2-.1 .8-.9 -.8-.6 -2 0zM106.7 52.3l.8 .9 2 .1 .7-1 -.7-.6 -2 0zM53 104.7l.7 .6 2 0 .8-.6 -.8-.9 -2-.1zM106.7 104.7l.8 .6 2 0 .7-.6 -.7-1 -2 .1z"/>
<path fill="#00f" d="M2 3.9l2-1.9 2-1.2 2.4-.8 39.5 0 1.9 .8 1.7 1.2 1.6 2 .6 1.2 2-.1 .6-1.1 1.9-2 1.5-1 2.4-1 39 0 2.4 1 1.5 1 1.9 2 .6 1.1 2 .1 .6-1.2 1.6-2 1.7-1.2 1.9-.8 39.5 0 2.4 .8 2.1 1.2 2 2 1.2 2 .7 2 0 38.1 -1.1 2.2 -1.9 2 -1 .7 -2 1 -1.3 .3 1.3 .6 2 1.4 2 1.8 1.5 2.3 .5 1.4 0 37.4 -.5 1.4 -1.5 2.3 -2 1.8 -2 1.4 -1.3 .6 1.3 .3 2 1 1 .7 1.9 2 1.1 2.2 0 38.1 -.7 2 -1.3 2.1 -2 1.9 -2 1.2 -2.4 .8 -39.5 0 -1.9-.8 -1.7-1.2 -1.6-2 -.6-1.2 -2 .1 -.6 1.1 -1.9 2 -1.5 1 -2.4 1 -39 0 -2.4-1 -1.5-1 -1.9-2 -.6-1.1 -2-.1 -.6 1.2 -1.6 2 -1.7 1.2 -1.9 .8 -39.5 0 -2.4-.8 -2.1-1.2 -2-2 -1.2-2 -.7-2 0-38.1 1.1-2.2 1.9-2 1-.7 2-1 1.3-.3 -1.3-.6 -2-1.4 -2-1.8 -1.5-2.3 -.5-1.4 0-37.4 .5-1.4 1.5-2.3 2-1.8 2-1.4 1.3-.6 -1.3-.3 -2-1 -1-.7 -1.9-2 -1.1-2.2 0-38.1 .7-2zM53.7 48.4l-2 2.4 -1.9 1.2 -1.1 .3 1.1 .6 1.9 1.7 1.6 1.8 .4 .8 2 0 .5-.8 1.5-1.7 2-1.6 1.5-.8 -1.5-.5 -2-1.1 -2-2.3zM107.5 48.4l-2 2.3 -2 1.1 -1.5 .5 1.5 .8 2 1.6 1.5 1.7 .5 .8 2 0 .4-.8 1.6-1.8 1.9-1.7 1.1-.6 -1.1-.3 -1.9-1.2 -2-2.4zM53.7 99.8l-.4 .8 -1.6 1.8 -1.9 1.7 -1.1 .6 1.1 .3 1.9 1.2 2 2.4 2 0 2-2.3 2-1.1 1.5-.5 -1.5-.8 -2-1.6 -1.5-1.7 -.5-.8zM107.5 99.8l-.5 .8 -1.5 1.7 -2 1.6 -1.5 .8 1.5 .5 2 1.1 2 2.3 2 0 2-2.4 1.9-1.2 1.1-.3 -1.1-.6 -1.9-1.7 -1.6-1.8 -.4-.8z"/>
<path fill="#000cff" d="M1 10.1l1.6-4.1 1.4-1.6 2-1.7 4-1.6 3.9-.6 6-.2 21.9 .1 4 .5 2 .7 2 1.1 1.4 1.3 1.4 2 .7 2.1 .4 2.6 2-.2 .5-2.4 .8-2.1 1.5-2 1.2-1.1 4-1.8 4-.6 5.9-.2 18 0 3.9 .2 4 .6 4 1.8 1.2 1.1 1.5 2 .8 2.1 .5 2.4 2 .2 .4-2.6 .7-2.1 1.4-2 1.4-1.3 2-1.1 2-.7 2-.4 4-.2 19.9 0 6 .2 3.9 .6 4 1.6 2 1.7 1.4 1.6 1.6 4.1 .5 4 .2 10.1 -.1 14 -.2 4.1 -.4 2 -2.1 4 -.9 .8 -4 2.2 -2 .4 -3.9 .4 -23.9 .2 -8-.4 -2-.5 -2-1.1 -1.9-1.6 -1.6-2.4 -.4-2.3 -2 .1 -.5 2.2 -1.5 2.1 -2 1.7 -2 1.1 -2 .6 -2 .2 -5.9 .2 -18 .1 -5.9-.2 -4-.3 -2-.6 -2-1.1 -2-1.7 -1.5-2.1 -.5-2.2 -2-.1 -.4 2.3 -1.6 2.4 -1.9 1.6 -2 1.1 -2 .5 -6 .3 -17.9 .1 -8-.2 -3.9-.4 -2-.4 -4-2.2 -.9-.8 -2.1-4 -.4-2 -.2-4.1 -.1-14 .2-10.1zM.8 62.4l.7-2 .9-2 1.6-1.8 2-1.6 1.9-.7 2.1-.9 3.9-.7 6-.2 17.9 0 4 .1 4 .5 4 1.8 1.5 1.5 1.5 2 .7 2 .2 1.7 2-.2 .3-1.5 .7-2 1.6-2 1.4-1.2 4-1.9 4-.6 5.9-.2 16 0 7.9 .4 2 .4 4 1.9 1.4 1.2 1.6 2 .7 2 .3 1.5 2 .2 .2-1.7 .7-2 1.5-2 1.5-1.5 4-1.8 4-.5 6-.2 17.9 .1 6 .4 1.9 .5 2.1 .9 1.9 .7 1.8 1.4 1.8 2 .9 2 .7 2 .4 4 .1 12.1 -.1 12.1 -.4 4 -.7 2 -.9 2 -1.6 1.8 -2 1.6 -1.9 .7 -2.1 .9 -3.9 .7 -6 .2 -17.9 0 -4-.1 -4-.5 -4-1.8 -1.5-1.5 -1.5-2 -.7-2 -.2-1.7 -2 .2 -.3 1.5 -.7 2 -1.6 2 -1.4 1.2 -4 1.9 -4 .6 -5.9 .2 -16 0 -7.9-.4 -2-.4 -4-1.9 -1.4-1.2 -1.6-2 -.7-2 -.3-1.5 -2-.2 -.2 1.7 -.7 2 -1.5 2 -1.5 1.5 -4 1.8 -4 .5 -6 .2 -17.9-.1 -6-.4 -1.9-.5 -2.1-.9 -1.9-.7 -1.8-1.4 -1.8-2 -.9-2 -.7-2 -.4-4 -.1-12.1 .1-12.1zM1 112.7l2.1-4 .9-.8 4-2.2 2-.4 3.9-.4 23.9-.2 8 .4 2 .5 2 1.1 1.9 1.6 1.6 2.4 .4 2.3 2-.1 .5-2.2 1.5-2.1 2-1.7 2-1.1 2-.6 2-.2 5.9-.2 18-.1 5.9 .2 4 .3 2 .6 2 1.1 2 1.7 1.5 2.1 .5 2.2 2 .1 .4-2.3 1.6-2.4 1.9-1.6 2-1.1 2-.5 6-.3 17.9-.1 8 .2 3.9 .4 2 .4 4 2.2 .9 .8 2.1 4 .4 2 .2 4.1 .1 14 -.2 10.1 -.5 4 -1.6 4.1 -1.4 1.6 -2 1.7 -4 1.6 -3.9 .6 -6 .2 -21.9-.1 -4-.5 -2-.7 -2-1.1 -1.4-1.3 -1.4-2 -.7-2.1 -.4-2.6 -2 .2 -.5 2.4 -.8 2.1 -1.5 2 -1.2 1.1 -4 1.8 -4 .6 -5.9 .2 -18 0 -3.9-.2 -4-.6 -4-1.8 -1.2-1.1 -1.5-2 -.8-2.1 -.5-2.4 -2-.2 -.4 2.6 -.7 2.1 -1.4 2 -1.4 1.3 -2 1.1 -2 .7 -2 .4 -4 .2 -19.9 0 -6-.2 -3.9-.6 -4-1.6 -2-1.7 -1.4-1.6 -1.6-4.1 -.5-4 -.2-10.1 .1-14 .2-4.1z"/>
<path fill="#0029ff" d="M4.1 6l1.9-1.8 2-1.2 3.9-1.2 2-.3 4-.3 17.9-.1 6 .2 2 .3 2 .5 2 .7 2 1.3 1.5 1.9 1.1 2.1 .8 4 .4 6 0 16.1 -.1 6.1 -.6 4 -.6 2 -1.5 2 -1 1 -2 1 -2 .8 -2 .3 -4 .2 -21.9 0 -6-.4 -1.9-.4 -2-.7 -2-.9 -1.3-.9 -1.6-2 -.9-2 -.5-2 -.3-2 -.2-4.1 0-16.1 .3-6 .3-2 1.1-4zM59.7 4.4l2-1.4 4-1.3 2-.3 3.9-.2 10-.1 10 .1 3.9 .2 2 .3 4 1.3 2 1.4 1.4 1.6 1.1 2.1 .6 2 .5 4 .2 4 .1 16.1 -.2 6.1 -.6 4 -.8 2 -1.5 2 -.8 .7 -2 1.1 -2 .8 -2 .4 -5.9 .3 -10 0 -10 0 -5.9-.3 -2-.4 -2-.8 -2-1.1 -.8-.7 -1.5-2 -.8-2 -.6-4 -.2-6.1 .1-16.1 .2-4 .5-4 .6-2 1.1-2.1zM113.4 4.1l2-1.3 2-.7 2-.5 2-.3 4-.2 13.9 0 8 .2 4 .5 3.9 1.2 2 1.2 1.9 1.8 1.2 2.1 1.1 4 .3 2 .3 4 0 16.1 -.2 6.1 -.3 2 -.5 2 -.9 2 -1.6 2 -1.3 .9 -2 .9 -2 .7 -1.9 .4 -6 .4 -21.9 0 -4-.2 -2-.3 -2-.8 -2-1 -1-1 -1.5-2 -.6-2 -.6-4 -.1-6.1 0-16.1 .4-6 .8-4 1.1-2.1zM4 58.1l2-1.8 2-1 5.9-1.5 4-.3 17.9-.1 6 .2 2 .3 4 1.2 2.1 1.3 1.8 2.3 .9 1.7 .4 2 .6 6 0 10.1 0 10.1 -.6 6 -.4 2 -.9 1.7 -1.8 2.3 -2.1 1.3 -4 1.2 -2 .3 -6 .2 -17.9-.1 -4-.3 -5.9-1.5 -2-1 -2-1.8 -1.3-2.3 -1.1-4 -.4-4 0-10.1 0-10.1 .4-4 1.1-4zM59.7 56.6l2-1.3 4-1.2 2-.4 3.9-.2 10-.1 10 .1 3.9 .2 2 .4 4 1.2 2 1.3 2 2.4 .7 1.4 .5 2 .6 6 .1 10.1 -.1 10.1 -.6 6 -.5 2 -.7 1.4 -2 2.4 -2 1.3 -4 1.2 -2 .4 -3.9 .2 -10 .1 -10-.1 -3.9-.2 -2-.4 -4-1.2 -2-1.3 -2-2.4 -.7-1.4 -.5-2 -.6-6 -.1-10.1 .1-10.1 .6-6 .5-2 .7-1.4zM113.3 56.4l2.1-1.3 4-1.2 2-.3 6-.2 17.9 .1 4 .3 5.9 1.5 2 1 2 1.8 1.3 2.3 1.1 4 .4 4 0 10.1 0 10.1 -.4 4 -1.1 4 -1.3 2.3 -2 1.8 -2 1 -5.9 1.5 -4 .3 -17.9 .1 -6-.2 -2-.3 -4-1.2 -2.1-1.3 -1.8-2.3 -.9-1.7 -.4-2 -.6-6 0-10.1 0-10.1 .6-6 .4-2 .9-1.7zM4.7 108.7l1.3-.9 2-.9 2-.7 1.9-.4 6-.4 21.9 0 4 .2 2 .3 2 .8 2 1 1 1 1.5 2 .6 2 .6 4 .1 6.1 0 16.1 -.4 6 -.8 4 -1.1 2.1 -1.5 1.9 -2 1.3 -2 .7 -2 .5 -2 .3 -4 .2 -13.9 0 -8-.2 -4-.5 -3.9-1.2 -2-1.2 -1.9-1.8 -1.2-2.1 -1.1-4 -.3-2 -.3-4 0-16.1 .2-6.1 .3-2 .5-2 .9-2zM58.9 108.7l.8-.7 2-1.1 2-.8 2-.4 5.9-.3 10 0 10 0 5.9 .3 2 .4 2 .8 2 1.1 .8 .7 1.5 2 .8 2 .6 4 .2 6.1 -.1 16.1 -.2 4 -.5 4 -.6 2 -1.1 2.1 -1.4 1.6 -2 1.4 -4 1.3 -2 .3 -3.9 .2 -10 .1 -10-.1 -3.9-.2 -2-.3 -4-1.3 -2-1.4 -1.4-1.6 -1.1-2.1 -.6-2 -.5-4 -.2-4 -.1-16.1 .2-6.1 .6-4 .8-2zM112.4 108.7l1-1 2-1 2-.8 2-.3 4-.2 21.9 0 6 .4 1.9 .4 2 .7 2 .9 1.3 .9 1.6 2 .9 2 .5 2 .3 2 .2 4.1 0 16.1 -.3 6 -.3 2 -1.1 4 -1.2 2.1 -1.9 1.8 -2 1.2 -3.9 1.2 -2 .3 -4 .3 -17.9 .1 -6-.2 -2-.3 -2-.5 -2-.7 -2-1.3 -1.5-1.9 -1.1-2.1 -.8-4 -.4-6 0-16.1 .1-6.1 .6-4 .6-2z"/>
<path fill="#0046ff" d="M5.4 6l2.6-2 2-.7 1.9-.6 4-.5 6-.2 13.9 0 6 .2 4 .8 2 .8 2 1.6 1.6 2.7 .7 2 .4 2 .4 6 0 20.1 -.3 4.1 -.9 3 -.4 1 -1.5 2 -2 1.2 -2 .7 -2 .4 -6 .4 -13.9 0 -8-.2 -4-.4 -3.9-1.2 -2-1 -1.8-1.9 -1-2 -.9-4 -.2-4.1 0-16.1 .3-6 .8-4 .8-2zM59.7 5.8l2.1-1.8 1.9-.8 2-.5 2-.4 3.9-.3 10-.1 10 .1 3.9 .3 2 .4 2 .5 1.9 .8 2.1 1.8 1.4 2.3 .8 2 .4 2 .5 6 0 20.1 -.4 4.1 -.7 2.6 -.7 1.4 -1.3 1.6 -2 1.3 -2 .8 -2 .5 -5.9 .5 -10 0 -10 0 -5.9-.5 -2-.5 -2-.8 -2-1.3 -1.3-1.6 -.7-1.4 -.7-2.6 -.4-4.1 0-20.1 .5-6 .4-2 .8-2zM113.4 5.4l2-1.6 2-.8 2-.5 6-.5 19.9 .1 6 .6 1.9 .6 2 .7 2 1.5 2 2.6 .8 2 .8 4 .3 4 0 20.1 -.5 4.1 -.6 2 -1 2 -2 2 -1.8 .9 -2 .8 -3.9 .7 -4 .2 -17.9 .1 -6-.2 -4-.6 -2-.7 -2-1.2 -1.5-2 -.4-1 -.9-3 -.3-4.1 0-20.1 .4-6 .4-2 .7-2zM5.1 58.4l.9-.9 1.7-1.1 2.3-.9 3.9-.8 6-.3 15.9-.1 6 .2 4 .8 2 .7 2 1.4 .7 1 1.2 2 .6 2 .3 2 .3 4 .1 10.1 -.1 10.1 -.3 4 -.3 2 -.6 2 -1.2 2 -.7 1 -2 1.4 -2 .7 -2 .5 -6 .4 -19.9 0 -6-.6 -3.9-1.2 -2-1.3 -.9-.9 -1.1-1.5 -1-2.5 -.7-4 -.2-4 -.1-14.1 .3-6.1 .7-4 .7-2zM59.7 57.8l2-1.6 2-.7 2-.5 5.9-.6 10-.1 10 .1 5.9 .6 2 .5 2 .7 2 1.6 1.7 2.6 .7 2 .4 2 .3 4 .1 10.1 -.1 10.1 -.3 4 -.4 2 -.7 2 -1.7 2.6 -2 1.6 -2 .7 -2 .5 -5.9 .6 -10 .1 -10-.1 -5.9-.6 -2-.5 -2-.7 -2-1.6 -1.7-2.6 -.7-2 -.4-2 -.3-4 -.1-10.1 .1-10.1 .3-4 .4-2 .7-2zM113.4 57.4l2-1.4 2-.7 2-.5 6-.4 19.9 0 6 .6 3.9 1.2 2 1.3 .9 .9 1.1 1.5 1 2.5 .7 4 .2 4 .1 14.1 -.3 6.1 -.7 4 -.7 2 -1.4 2 -.9 .9 -1.7 1.1 -2.3 .9 -3.9 .8 -6 .3 -15.9 .1 -6-.2 -4-.8 -2-.7 -2-1.4 -.7-1 -1.2-2 -.6-2 -.3-2 -.3-4 -.1-10.1 .1-10.1 .3-4 .3-2 .6-2 1.2-2zM6 108.8l2-1 3.9-1.2 4-.4 8-.2 13.9 0 6 .4 2 .4 2 .7 2 1.2 1.5 2 .4 1 .9 3 .3 4.1 0 20.1 -.4 6 -.4 2 -.7 2 -1.6 2.7 -2 1.6 -2 .8 -2 .5 -6 .5 -19.9-.1 -6-.6 -1.9-.6 -2-.7 -2-1.5 -2-2.6 -.8-2 -.5-2 -.6-6 -.1-10.1 .1-10 .5-4.1 .6-2 .8-1.7zM59.7 109.1l2-1.3 2-.8 2-.5 5.9-.5 10 0 10 0 5.9 .5 2 .5 2 .8 2 1.3 1.3 1.6 .7 1.4 .7 2.6 .4 4.1 0 20.1 -.5 6 -.4 2 -.8 2 -1.4 2.3 -2.1 1.8 -1.9 .8 -2 .5 -2 .4 -3.9 .3 -10 .1 -10-.1 -3.9-.3 -2-.4 -2-.5 -1.9-.8 -2.1-1.8 -1.4-2.3 -.8-2 -.4-2 -.5-6 0-20.1 .4-4.1 .7-2.6 .7-1.4zM113.4 108.7l2-1.2 2-.7 2-.4 6-.4 13.9 0 8 .2 4 .4 3.9 1.2 2 1 1.8 1.9 1 2 .9 4 .2 4.1 0 16.1 -.3 6 -.8 4 -.8 2 -1.4 2.1 -2.6 2 -2 .7 -1.9 .6 -4 .5 -6 .2 -13.9 0 -6-.2 -4-.8 -2-.8 -2-1.6 -1.6-2.7 -.7-2 -.4-2 -.4-6 0-20.1 .3-4.1 .9-3 .4-1z"/>
<path fill="#0063ff" d="M6 7l2-1.7 2.5-1.3 3.4-.8 6-.5 15.9 0 6 .3 2 .3 2.3 .7 1.7 .9 1.2 1.1 1.4 2.1 .9 2 .4 1.9 .5 4.1 .2 4 0 14.1 -.3 6.1 -.2 2 -.6 2 -1.5 2.7 -2 1.6 -2 .8 -2 .5 -6 .5 -19.9-.1 -4-.3 -2-.3 -3.9-1.4 -2-1.4 -.6-.6 -1.3-2 -.6-2 -.4-2 -.3-4.1 .1-18.1 .4-4 .9-4 1-2zM60.9 6l.8-.7 2-1.1 4-1.1 3.9-.3 10-.1 10 .1 3.9 .3 4 1.1 2 1.1 .8 .7 1.2 1.4 1.3 2.7 .8 4 .3 4 .1 16.1 -.3 6.1 -.3 2 -.6 2 -1.3 2.3 -2 1.7 -2 .9 -2 .5 -2 .4 -3.9 .2 -10 .1 -10-.1 -3.9-.2 -2-.4 -2-.5 -2-.9 -2-1.7 -1.3-2.3 -.6-2 -.3-2 -.3-6.1 .1-16.1 .3-4 .8-4 1.3-2.7zM114.2 6l1.2-1.1 1.7-.9 2.3-.7 4-.5 9.9-.1 10 0 6 .5 3.9 1 2 1.1 1.1 .7 1.7 2.1 1 2 .9 4 .4 4 .1 14.1 -.1 6 -.6 4.1 -.5 1.6 -1.4 2.4 -2.5 2 -2.1 .8 -3.9 .9 -6 .4 -15.9 0 -6-.2 -4-.8 -2.4-1.1 -1.6-1.3 -1.5-2.7 -.6-2 -.2-2 -.3-6.1 0-14.1 .2-4 .5-4.1 .4-1.9 .9-2zM6 58.8l2-1.5 2-.9 1.9-.6 4-.5 6-.3 13.9 0 6 .3 2 .3 2.7 .8 1.3 .6 1.6 1.4 1.4 2 .7 2 .4 2 .4 4 .1 10.1 -.1 10.1 -.4 4 -.4 2 -.7 2 -1.4 2 -1.6 1.4 -1.3 .6 -2.7 .8 -4 .5 -9.9 .1 -10 0 -6-.5 -3.9-.9 -2-.9 -1.6-1.1 -1.6-2 -.9-2 -.8-4 -.3-6.1 0-12 .3-6.1 .9-4.3 .8-1.7zM60.4 58.4l1.3-1 1.9-1 4.1-1 3.9-.3 10-.1 10 .1 3.9 .3 4.1 1 1.9 1 1.3 1 1.4 2 .9 2 .4 2 .4 4 .1 10.1 -.1 10.1 -.4 4 -.4 2 -.9 2 -1.4 2 -1.3 1 -1.9 1 -4.1 1 -3.9 .3 -10 .1 -10-.1 -3.9-.3 -4.1-1 -1.9-1 -1.3-1 -1.4-2 -.9-2 -.4-2 -.4-4 -.1-10.1 .1-10.1 .4-4 .4-2 .9-2zM113.8 58.4l1.6-1.4 1.3-.6 2.7-.8 4-.5 9.9-.1 10 0 6 .5 3.9 .9 2 .9 1.6 1.1 1.6 2 .9 2 .8 4 .3 6.1 0 12 -.3 6.1 -.9 4.3 -.8 1.7 -1.2 1.6 -2 1.5 -2 .9 -1.9 .6 -4 .5 -6 .3 -13.9 0 -6-.3 -2-.3 -2.7-.8 -1.3-.6 -1.6-1.4 -1.4-2 -.7-2 -.4-2 -.4-4 -.1-10.1 .1-10.1 .4-4 .4-2 .7-2zM6 110.1l2-1.4 3.9-1.4 2-.3 4-.3 19.9-.1 6 .5 2 .5 2 .8 2 1.6 1.5 2.7 .6 2 .2 2 .3 6.1 0 14.1 -.2 4 -.5 4.1 -.4 1.9 -.9 2 -1.4 2.1 -1.2 1.1 -1.7 .9 -2.3 .7 -4 .5 -9.9 .1 -10 0 -6-.5 -3.9-1 -2-1.1 -1.1-.7 -1.7-2.1 -1.2-2.6 -.7-3.4 -.5-6 0-14.1 .3-6.1 .4-2 .6-2 1.3-2zM59.7 110.4l2-1.7 2-.9 2-.5 2-.4 3.9-.2 10-.1 10 .1 3.9 .2 2 .4 2 .5 2 .9 2 1.7 1.3 2.3 .6 2 .3 2 .3 6.1 -.1 16.1 -.3 4 -.8 4 -1.3 2.7 -1.2 1.4 -.8 .7 -2 1.1 -4 1.1 -3.9 .3 -10 .1 -10-.1 -3.9-.3 -4-1.1 -2-1.1 -.8-.7 -1.2-1.4 -1.3-2.7 -.8-4 -.3-4 -.1-16.1 .3-6.1 .3-2 .6-2zM113.4 110l2-1.6 2-.8 2-.5 6-.5 19.9 .1 4 .3 2 .3 3.9 1.4 2 1.4 .6 .6 1.3 2 .6 2 .4 2 .3 4.1 -.1 18.1 -.4 4 -.9 4 -1 2 -.8 1.1 -2 1.7 -2.5 1.3 -3.4 .8 -6 .5 -15.9 0 -6-.3 -2-.3 -2.3-.7 -1.7-.9 -1.2-1.1 -1.4-2.1 -.9-2 -.4-1.9 -.5-4.1 -.2-4 0-14.1 .3-6.1 .2-2 .6-2z"/>
<path fill="#0080ff" d="M8 6.6l2-1.3 1.9-.8 2-.4 4-.5 6-.2 11.9 0 6 .4 2 .4 2 .7 2 1.2 1.6 2 1 2 1 4 .3 4 .1 16.1 -.3 6.1 -.4 2 -.6 2 -1.3 2 -1.4 1.3 -1.3 .7 -2.7 .9 -4 .5 -9.9 .2 -10-.1 -6-.5 -3.9-1 -2-1 -1.3-1 -1.5-2 -.8-2 -.5-2 -.3-6.1 0-14.1 .2-4 .7-4 .8-2 .7-1.3zM61.7 6.6l2-1.4 2-.8 2-.4 3.9-.5 10-.1 10 .1 3.9 .5 2 .4 2 .8 2 1.4 1.2 1.5 .8 1.3 1 2.7 .6 4 .2 4 0 14.1 -.3 6.1 -.4 2 -.7 2 -1.4 2 -1 .9 -1.9 1.1 -2.1 .7 -2 .4 -3.9 .4 -10 .1 -10-.1 -3.9-.4 -2-.4 -2.1-.7 -1.9-1.1 -1-.9 -1.4-2 -.7-2 -.4-2 -.3-6.1 0-14.1 .2-4 .6-4 1-2.7 .8-1.3zM115.4 6.1l2-1.2 2-.7 2-.4 6-.4 11.9 0 6 .2 4 .5 2 .4 1.9 .8 2 1.3 2 2.2 .7 1.3 .8 2 .7 4 .2 4 0 14.1 -.3 6.1 -.5 2 -.8 2 -1.5 2 -1.3 1 -2 1 -3.9 1 -6 .5 -10 .1 -9.9-.2 -4-.5 -2.7-.9 -1.3-.7 -1.4-1.3 -1.3-2 -.6-2 -.4-2 -.3-6.1 .1-16.1 .3-4 1-4 1-2zM6 60.4l2-2 2-1.1 1.9-.7 4-.6 4-.3 13.9-.1 6 .2 4.1 .6 1.9 .5 2.3 1.5 1.7 2 .9 2 .5 2 .5 4 .1 10.1 -.1 10.1 -.5 4 -.5 2 -.9 2 -1.7 2 -2.3 1.5 -2 .6 -2 .3 -4 .3 -11.9 .1 -8-.2 -4-.4 -2-.4 -1.9-.7 -2-1.1 -2-2 -1.1-2 -.6-2 -.6-4 -.1-10.1 .1-10.1 .6-4 .6-2zM61.7 58.5l2-1.2 2-.8 2-.4 3.9-.4 10-.1 10 .1 3.9 .4 2 .4 2 .8 2 1.2 2 2.4 .7 1.5 .5 2 .5 4 .2 10.1 -.2 10.1 -.5 4 -.5 2 -.7 1.5 -2 2.4 -2 1.2 -2 .8 -2 .4 -3.9 .4 -10 .1 -10-.1 -3.9-.4 -2-.4 -2-.8 -2-1.2 -2-2.4 -.7-1.5 -.5-2 -.5-4 -.2-10.1 .2-10.1 .5-4 .5-2 .7-1.5zM115.1 58.4l2.3-1.5 2-.6 2-.3 4-.3 11.9-.1 8 .2 4 .4 2 .4 1.9 .7 2 1.1 2 2 1.1 2 .6 2 .6 4 .1 10.1 -.1 10.1 -.6 4 -.6 2 -1.1 2 -2 2 -2 1.1 -1.9 .7 -4 .6 -4 .3 -13.9 .1 -6-.2 -4.1-.6 -1.9-.5 -2.3-1.5 -1.7-2 -.9-2 -.5-2 -.5-4 -.1-10.1 .1-10.1 .5-4 .5-2 .9-2zM6.7 110.7l1.3-1 2-1 3.9-1 6-.5 10-.1 9.9 .2 4 .5 2.7 .9 1.3 .7 1.4 1.3 1.3 2 .6 2 .4 2 .3 6.1 -.1 16.1 -.3 4 -1 4 -1 2 -1.6 2 -2 1.2 -2 .7 -2 .4 -6 .4 -11.9 0 -6-.2 -4-.5 -2-.4 -1.9-.8 -2-1.3 -2-2.2 -.7-1.3 -.8-2 -.7-4 -.2-4 0-14.1 .3-6.1 .5-2 .8-2zM60.7 110.7l1-.9 1.9-1.1 2.1-.7 2-.4 3.9-.4 10-.1 10 .1 3.9 .4 2 .4 2.1 .7 1.9 1.1 1 .9 1.4 2 .7 2 .4 2 .3 6.1 0 14.1 -.2 4 -.6 4 -1 2.7 -.8 1.3 -1.2 1.5 -2 1.4 -2 .8 -2 .4 -3.9 .5 -10 .1 -10-.1 -3.9-.5 -2-.4 -2-.8 -2-1.4 -1.2-1.5 -.8-1.3 -1-2.7 -.6-4 -.2-4 0-14.1 .3-6.1 .4-2 .7-2zM114 110.7l1.4-1.3 1.3-.7 2.7-.9 4-.5 9.9-.2 10 .1 6 .5 3.9 1 2 1 1.3 1 1.5 2 .8 2 .7 4.1 .1 4 0 12.1 -.2 6 -.7 4 -.8 2 -1.2 2 -2.2 2.1 -1.3 .7 -1.9 .8 -4 .7 -4 .3 -13.9 .1 -6-.2 -4-.6 -2-.7 -2-1.2 -1.6-2 -1-2 -1-4 -.3-4 -.1-16.1 .3-6.1 .4-2 .6-2z"/>
<path fill="#009dff" d="M7.8 8.1l2.2-1.7 1.9-.9 2-.6 4-.6 4-.2 13.9 0 6 .4 2 .5 2 .9 2 1.5 1.7 2.7 .7 2 .8 4 .2 6 0 12.1 -.3 6.1 -.5 2 -.6 1.6 -1.7 2.4 -2.3 1.5 -2 .7 -2 .4 -4 .4 -11.9 0 -8-.2 -4-.5 -2-.4 -1.9-.8 -2-1.2 -2-2.4 -.7-1.5 -.6-2 -.4-4.1 0-14.1 .3-6 .9-4 .9-2zM61.7 8l2.5-2 1.5-.7 2-.5 3.9-.6 10-.1 10 .1 3.9 .6 2 .5 1.5 .7 2.5 2 1.4 2.1 .7 2 .5 2 .6 6 0 16.1 -.4 4.1 -.5 2 -.8 2 -1.5 1.8 -2 1.4 -2 .8 -2 .4 -3.9 .5 -10 .1 -10-.1 -3.9-.5 -2-.4 -2-.8 -2-1.4 -1.5-1.8 -.8-2 -.5-2 -.4-4.1 0-16.1 .6-6 .5-2 .7-2zM115.4 7.4l2-1.5 2-.9 2-.5 6-.4 11.9 0 6 .2 4 .6 3.3 1.1 2.6 1.9 1.6 2.2 .9 2 .6 2 .3 2 .3 4 0 16.1 -.4 4.1 -.6 2 -.7 1.5 -2 2.4 -2 1.2 -1.9 .8 -2 .4 -4 .5 -8 .2 -11.9 0 -4-.4 -2-.4 -2-.7 -2.3-1.5 -1.7-2.4 -.6-1.6 -.5-2 -.3-6.1 0-12.1 .2-6 .8-4 .7-2zM7.2 60.4l.8-.7 1.8-1.3 2.1-.9 4-.9 6-.3 13.9 0 6 .3 2 .5 2 .7 2 1.4 1 1.2 1.1 2 .6 2 .4 2 .3 4 .1 8.1 -.1 8.1 -.3 4 -.4 2 -.6 2 -1.1 2 -1 1.2 -2 1.4 -2 .7 -2 .5 -6 .3 -11.9 0 -6-.2 -4-.5 -2-.5 -1.9-.8 -2-1.4 -.8-.7 -1.2-1.9 -.9-2.1 -.7-4 -.1-4.1 0-12 .4-6.1 .4-2 .8-2zM61.7 59.7l2-1.5 2-.9 2-.5 5.9-.5 8 0 8 0 5.9 .5 2 .5 2 .9 2 1.5 1.8 2.7 .7 2 .4 2 .3 4 .1 8.1 -.1 8.1 -.3 4 -.4 2 -.7 2 -1.8 2.7 -2 1.5 -2 .9 -2 .5 -5.9 .5 -8 0 -8 0 -5.9-.5 -2-.5 -2-.9 -2-1.5 -1.8-2.7 -.7-2 -.4-2 -.3-4 -.1-8.1 .1-8.1 .3-4 .4-2 .7-2zM115.4 59.2l2-1.4 2-.7 2-.5 6-.3 11.9 0 6 .2 4 .5 2 .5 1.9 .8 2 1.4 .8 .7 1.2 1.9 .9 2.1 .7 4 .1 4.1 0 12 -.4 6.1 -.4 2 -.8 2 -1.3 2 -.8 .7 -1.8 1.3 -2.1 .9 -4 .9 -6 .3 -13.9 0 -6-.3 -2-.5 -2-.7 -2-1.4 -1-1.2 -1.1-2 -.6-2 -.4-2 -.3-4 -.1-8.1 .1-8.1 .3-4 .4-2 .6-2 1.1-2zM8 110.8l2-1.2 1.9-.8 2-.4 4-.5 8-.2 11.9 0 4 .4 2 .4 2 .7 2.3 1.5 1.7 2.4 .6 1.6 .5 2 .3 6.1 0 12.1 -.2 6 -.8 4 -.7 2 -1.7 2.7 -2 1.5 -2 .9 -2 .5 -6 .4 -11.9 0 -6-.2 -4-.6 -3.3-1.1 -2.6-1.9 -1.6-2.2 -.9-2 -.6-2 -.3-2 -.3-4 0-16.1 .4-4.1 .6-2 .7-1.5zM61.7 110.9l2-1.4 2-.8 2-.4 3.9-.5 10-.1 10 .1 3.9 .5 2 .4 2 .8 2 1.4 1.5 1.8 .8 2 .5 2 .4 4.1 0 16.1 -.6 6 -.5 2 -.7 2 -1.4 2.1 -2.5 2 -1.5 .7 -2 .5 -3.9 .6 -10 .1 -10-.1 -3.9-.6 -2-.5 -1.5-.7 -2.5-2 -1.4-2.1 -.7-2 -.5-2 -.6-6 0-16.1 .4-4.1 .5-2 .8-2zM115.1 110.7l2.3-1.5 2-.7 2-.4 4-.4 11.9 0 8 .2 4 .5 2 .4 1.9 .8 2 1.2 2 2.4 .7 1.5 .6 2 .4 4.1 0 14.1 -.3 6 -.9 4 -.9 2 -1.4 2 -2.2 1.7 -1.9 .9 -2 .6 -4 .6 -4 .2 -13.9 0 -6-.4 -2-.5 -2-.9 -2-1.5 -1.7-2.7 -.7-2 -.8-4 -.2-6 0-12.1 .3-6.1 .5-2 .6-1.6z"/>
<path fill="#00baff" d="M9.2 8.1l2.7-1.7 2-.7 2-.4 6-.5 15.9 0 4 .5 2.4 .7 1.6 .9 1.4 1.2 1.4 2 .9 2 .5 2 .5 4 .2 4 0 12.1 -.2 4 -.3 2.1 -.5 2 -1 2 -.9 1.2 -2 1.5 -2 .8 -2 .5 -6 .5 -11.9 0 -6-.3 -4-.5 -2-.6 -1.9-.9 -2-1.5 -.7-.7 -1.2-2 -.6-2 -.4-2.1 -.2-6 .1-12.1 .3-4 1.1-4 1-2zM62.9 8.1l.8-.7 2-1.2 2-.7 2-.4 3.9-.3 8-.1 8 .1 3.9 .3 2 .4 2 .7 2 1.2 .8 .7 1.6 2 .9 2 1 4 .3 4 .1 12.1 -.3 6 -.3 2.1 -.6 2 -1.5 2.6 -2 1.7 -2 .9 -2 .6 -5.9 .6 -8 .1 -8-.1 -5.9-.6 -2-.6 -2-.9 -2-1.7 -1.5-2.6 -.6-2 -.3-2.1 -.3-6 .1-12.1 .3-4 1-4 .9-2zM116 8.1l1.4-1.2 1.6-.9 2.4-.7 4-.5 15.9 0 6 .5 2 .4 2 .7 2.7 1.7 1.8 2 1 2 1.1 4 .3 4 .1 12.1 -.2 6 -.4 2.1 -.6 2 -1.2 2 -.7 .7 -2 1.5 -1.9 .9 -2 .6 -4 .5 -6 .3 -11.9 0 -6-.5 -2-.5 -2-.8 -2-1.5 -.9-1.2 -1-2 -.5-2 -.3-2.1 -.2-4 0-12.1 .2-4 .5-4 .5-2 .9-2zM8 60.9l2-1.6 1.9-1 2-.6 4-.6 6-.3 11.9 0 6 .5 2 .5 2 .9 2 1.7 1.3 2 .7 2 .5 2 .3 4 .1 8.1 -.1 8.1 -.3 4 -.5 2 -.7 2 -1.3 2 -2 1.7 -2 .9 -2 .5 -4 .4 -9.9 .1 -8-.1 -4-.4 -4-1 -1.9-1 -1.5-1.1 -1.6-2 -.9-2 -.9-4 -.2-4.1 0-12 .2-4.1 .9-4 .9-2zM62.3 60.4l1.4-1.2 1.5-.8 2.5-.9 3.9-.5 10-.2 10 .2 3.9 .5 2.5 .9 1.5 .8 1.4 1.2 1.5 2 .8 2 .5 2 .4 4 .1 8.1 -.1 8.1 -.4 4 -.5 2 -.8 2 -1.5 2 -1.4 1.2 -1.5 .8 -2.5 .9 -3.9 .5 -10 .2 -10-.2 -3.9-.5 -2.5-.9 -1.5-.8 -1.4-1.2 -1.5-2 -.8-2 -.5-2 -.4-4 -.1-8.1 .1-8.1 .4-4 .5-2 .8-2zM115.4 60.4l2-1.7 2-.9 2-.5 4-.4 9.9-.1 8 .1 4 .4 4 1 1.9 1 1.5 1.1 1.6 2 .9 2 .9 4 .2 4.1 0 12 -.2 4.1 -.9 4 -.9 2 -1.1 1.5 -2 1.6 -1.9 1 -2 .6 -4 .6 -6 .3 -11.9 0 -6-.5 -2-.5 -2-.9 -2-1.7 -1.3-2 -.7-2 -.5-2 -.3-4 -.1-8.1 .1-8.1 .3-4 .5-2 .7-2zM8 112l2-1.5 1.9-.9 2-.6 4-.5 6-.3 11.9 0 6 .5 2 .5 2 .8 2 1.5 .9 1.2 1 2 .5 2 .3 2.1 .2 4 0 12.1 -.2 4 -.5 4 -.5 2 -.9 2 -1.4 2 -1.4 1.2 -1.6 .9 -2.4 .7 -4 .5 -15.9 0 -6-.5 -2-.4 -2-.7 -2.7-1.7 -1.8-2 -1-2 -1.1-4 -.3-4 -.1-12.1 .2-6 .4-2.1 .6-2 1.2-2zM61.7 112.1l2-1.7 2-.9 2-.6 5.9-.6 8-.1 8 .1 5.9 .6 2 .6 2 .9 2 1.7 1.5 2.6 .6 2 .3 2.1 .3 6 -.1 12.1 -.3 4 -1 4 -.9 2 -1.6 2 -.8 .7 -2 1.2 -2 .7 -2 .4 -3.9 .3 -8 .1 -8-.1 -3.9-.3 -2-.4 -2-.7 -2-1.2 -.8-.7 -1.6-2 -.9-2 -1-4 -.3-4 -.1-12.1 .3-6 .3-2.1 .6-2zM115.4 111.5l2-1.5 2-.8 2-.5 6-.5 11.9 0 6 .3 4 .5 2 .6 1.9 .9 2 1.5 .7 .7 1.2 2 .6 2 .5 4.1 .1 8 -.1 8.1 -.3 4 -1.1 4 -1.6 2.7 -2 1.9 -2.9 1.5 -3 .7 -6 .5 -11.9 .1 -6-.3 -2-.3 -2-.6 -2-1 -1.4-1.2 -1.4-2 -.9-2 -.5-2 -.5-4 -.2-4 0-12.1 .2-4 .3-2.1 .5-2 1-2z"/>
<path fill="#00d7ff" d="M10 8.6l1.9-1.3 2-.8 2-.5 4-.5 4-.2 11.9 0 4 .3 2 .4 2 .7 2.2 1.4 1.8 2 1 2 .9 4 .4 4 .1 12.1 -.3 6 -.3 2.1 -.6 2 -1.2 2.1 -2.1 1.9 -1.9 .9 -2 .5 -4 .5 -11.9 .1 -8-.3 -4-.7 -2.8-1 -1.1-.7 -1.6-1.3 -1.4-2 -.7-2 -.5-2.1 -.3-6 .1-12.1 .5-4 .4-2 .8-2 1.2-2zM63.7 8.5l2-1.4 2-.8 2-.5 3.9-.4 8-.1 8 .1 3.9 .4 2 .5 2 .8 2 1.4 1.4 1.6 1.1 2 .7 2 .4 2 .4 4 .1 12.1 -.3 6 -.4 2.1 -.6 2 -1.3 2 -1.5 1.4 -.9 .6 -3.1 1.2 -2 .4 -3.9 .3 -8 .1 -8-.1 -3.9-.3 -2-.4 -3.1-1.2 -.9-.6 -1.5-1.4 -1.3-2 -.6-2 -.4-2.1 -.3-6 .1-12.1 .4-4 .4-2 .7-2 1.1-2zM117.2 8.1l2.2-1.4 2-.7 2-.4 4-.3 11.9 0 4 .2 4 .5 2 .5 2 .8 1.9 1.3 1.5 1.5 1.2 2 .8 2 .4 2 .5 4 .1 12.1 -.3 6 -.5 2.1 -.7 2 -1.4 2 -1.6 1.3 -1.1 .7 -2.8 1 -4 .7 -8 .3 -11.9-.1 -4-.5 -2-.5 -1.9-.9 -2.1-1.9 -1.2-2.1 -.6-2 -.3-2.1 -.3-6 .1-12.1 .4-4 .9-4 1-2zM8 62.3l1.8-1.9 2.1-1.3 2-.7 2-.5 4-.4 13.9-.2 6 .3 2 .3 2 .6 2 1.1 .9 .8 1.6 2 .8 2 .8 4 .3 4.1 0 12 -.3 4.1 -.8 4 -1.3 2.8 -2 2 -2 1.1 -2 .6 -2 .3 -4 .3 -11.9 0 -6-.3 -4-.8 -2-.7 -2.1-1.3 -1.9-2 -1.1-2 -.6-2 -.6-4 -.1-8.1 .1-8.1 .6-4 .6-2zM63.4 60.4l2.3-1.5 2-.7 2-.4 3.9-.4 8-.1 8 .1 3.9 .4 2 .4 2 .7 2.3 1.5 1.7 2 .9 2 .6 2 .5 4 .1 8.1 -.1 8.1 -.5 4 -.6 2 -.9 2 -1.7 2 -2.3 1.5 -2 .7 -2 .4 -3.9 .4 -8 .1 -8-.1 -3.9-.4 -2-.4 -2-.7 -2.3-1.5 -1.7-2 -.9-2 -.6-2 -.5-4 -.1-8.1 .1-8.1 .5-4 .6-2 .9-2zM116.5 60.4l.9-.8 2-1.1 2-.6 4-.5 7.9-.1 8 .1 6 .5 2 .5 2 .7 2.1 1.3 1.9 2 1.1 2 .6 2 .6 4 .1 8.1 -.1 8.1 -.6 4 -.6 2 -1.2 2.1 -1.8 1.9 -2.1 1.3 -2 .7 -2 .5 -4 .4 -13.9 .2 -6-.3 -2-.3 -2-.6 -2-1.1 -.9-.8 -1.6-2 -.8-2 -.5-2 -.5-4 -.1-8.1 .1-8.1 .5-4 .5-2 .8-2zM8.4 112.7l1.6-1.3 1.1-.7 2.8-1 4-.7 8-.3 11.9 .1 4 .5 2 .5 1.9 .9 2.1 1.9 1.2 2.1 .6 2 .3 2.1 .3 6 -.1 12.1 -.4 4 -.9 4 -1 2 -1.8 2 -2.2 1.4 -2 .7 -2 .4 -4 .3 -11.9 0 -4-.2 -4-.5 -2-.5 -2-.8 -1.9-1.3 -1.5-1.5 -1.2-2 -.8-2 -.4-2 -.5-4 -.1-12.1 .3-6 .5-2.1 .7-2zM62.2 112.7l1.5-1.4 .9-.6 3.1-1.2 2-.4 3.9-.3 8-.1 8 .1 3.9 .3 2 .4 3.1 1.2 .9 .6 1.5 1.4 1.3 2 .6 2 .4 2.1 .3 6 -.1 12.1 -.4 4 -.4 2 -.7 2 -1.1 2 -1.4 1.6 -2 1.4 -2 .8 -2 .5 -3.9 .4 -8 .1 -8-.1 -3.9-.4 -2-.5 -2-.8 -2-1.4 -1.4-1.6 -1.1-2 -.7-2 -.4-2 -.4-4 -.1-12.1 .3-6 .4-2.1 .6-2zM115.4 112.6l2.1-1.9 1.9-.9 2-.5 4-.5 11.9-.1 8 .3 4 .7 2.8 1 1.1 .7 1.6 1.3 1.4 2 .7 2 .5 2.1 .3 4 0 8 -.1 6.1 -.5 4 -.4 2 -.8 2 -1.2 2 -1.5 1.5 -1.9 1.3 -2 .8 -2 .5 -4 .5 -6 .2 -11.9-.1 -4.1-.6 -1.9-.7 -2.2-1.4 -1.8-2 -1-2 -.9-4 -.4-4 -.1-12.1 .3-6 .3-2.1 .6-2z"/>
<path fill="#00f4ff" d="M10 9.8l2.3-1.7 1.6-.8 2-.6 4-.6 4-.2 11.9 0 4 .4 2 .4 2 .8 2 1.4 1 1.2 1 1.5 .9 2.5 .7 4 .3 4 0 12.1 -.3 4 -.4 2.1 -.7 2 -1.3 2 -1.2 1.1 -1.5 .9 -2.5 .8 -4 .6 -7.9 .1 -8-.1 -6-.5 -2-.5 -2-.8 -2.4-1.6 -1.6-2 -.9-2 -.5-2.1 -.3-4 -.1-10 .2-4.1 .5-4 1.2-3.5zM63.7 9.6l2-1.6 2-.9 2-.6 3.9-.5 8-.1 8 .1 3.9 .5 2 .6 2 .9 2 1.6 1.7 2.5 .8 2 .8 4 .3 6.1 -.1 10 -.3 4 -.4 2.1 -.8 2 -1.4 2 -2.6 1.8 -2 .8 -2 .4 -3.9 .4 -8 .1 -8-.1 -3.9-.4 -2-.4 -2-.8 -2.6-1.8 -1.4-2 -.8-2 -.4-2.1 -.3-4 -.1-10 .3-6.1 .8-4 .8-2zM117.4 8.9l2-1.4 2-.8 2-.4 4-.4 11.9 0 4 .2 4 .6 2 .6 1.6 .8 2.3 1.7 2 2.8 1.2 3.5 .5 4 .2 4.1 -.1 10 -.3 4 -.5 2.1 -.9 2 -1.6 2 -2.4 1.6 -2 .8 -2 .5 -6 .5 -8 .1 -7.9-.1 -4-.6 -2.5-.8 -1.5-.9 -1.2-1.1 -1.3-2 -.7-2 -.4-2.1 -.3-4 0-12.1 .3-4 .7-4 .9-2.5 1-1.5zM8.9 62.4l2.3-2 2.7-1.3 4-.9 4-.3 11.9-.1 6 .4 2 .4 2 .7 2 1.2 1.7 1.9 1 2 .5 2 .6 4 .1 8.1 -.1 8.1 -.6 4 -.5 2 -1 2 -1.7 1.9 -2 1.2 -2 .7 -2 .4 -4 .3 -11.9 0 -6-.3 -4-.9 -2-.8 -1.9-1.4 -1.1-1.1 -.9-1.4 -1.1-2.6 -.4-2 -.3-4.1 0-12 .3-4.1 .4-2 .7-2zM63.7 61.2l2-1.5 2-.8 2-.5 3.9-.4 8-.2 8 .2 3.9 .4 2 .5 2 .8 2 1.5 1.1 1.2 .9 1.6 .8 2.4 .6 4 .2 8.1 -.2 8.1 -.6 4 -.8 2.4 -.9 1.6 -1.1 1.2 -2 1.5 -2 .8 -2 .5 -3.9 .4 -8 .2 -8-.2 -3.9-.4 -2-.5 -2-.8 -2-1.5 -1.1-1.2 -.9-1.6 -.8-2.4 -.6-4 -.2-8.1 .2-8.1 .6-4 .8-2.4 .9-1.6zM117.4 60.5l2-1.2 2-.7 2-.4 4-.3 11.9 0 4 .1 4 .6 2 .5 2 .8 1.9 1.4 1.1 1.1 .9 1.4 1.1 2.6 .4 2 .3 4.1 0 12 -.3 4.1 -.4 2 -.7 2 -1.3 2 -2.3 2 -2.7 1.3 -4 .9 -4 .3 -11.9 .1 -6-.4 -2-.4 -2-.7 -2-1.2 -2-2.4 -.7-1.5 -.5-2 -.6-4 -.1-8.1 .1-8.1 .6-4 .5-2 .7-1.5zM9.5 112.7l2.4-1.6 2-.8 2-.5 6-.5 8-.1 7.9 .1 4 .6 2.5 .8 1.5 .9 1.2 1.1 1.3 2 .7 2 .4 2.1 .3 4 0 12.1 -.3 4 -.7 4 -.9 2.5 -1 1.5 -1 1.2 -2 1.4 -2 .8 -2 .4 -4 .4 -11.9 0 -4-.2 -4-.6 -2-.6 -1.6-.8 -2.3-1.7 -2-2.8 -1.2-3.5 -.5-4 -.2-4.1 .1-10 .3-4 .5-2.1 .9-2zM63.1 112.7l2.6-1.8 2-.8 2-.4 3.9-.4 8-.1 8 .1 3.9 .4 2 .4 2 .8 2.6 1.8 1.4 2 .8 2 .4 2.1 .3 4 .1 10 -.3 6.1 -.8 4 -.8 2 -1.7 2.5 -2 1.6 -2 .9 -2 .6 -3.9 .5 -8 .1 -8-.1 -3.9-.5 -2-.6 -2-.9 -2-1.6 -1.7-2.5 -.8-2 -.8-4 -.3-6.1 .1-10 .3-4 .4-2.1 .8-2zM116.2 112.7l1.2-1.1 1.5-.9 2.5-.8 4-.6 7.9-.1 8 .1 6 .5 2 .5 2 .8 2.4 1.6 1.6 2 .9 2 .5 2.1 .3 4 .1 8 -.2 6.1 -.5 4 -1.2 3.5 -1.6 2.5 -2.3 1.9 -2 .9 -4 1 -4 .3 -11.9 .1 -6-.4 -2-.4 -2-.8 -2-1.4 -1-1.2 -1-1.5 -.9-2.5 -.7-4 -.3-4 0-12.1 .3-4 .4-2.1 .7-2z"/>
<path fill="#0fe" d="M10.9 10.1l1-.9 2-1.1 4-1.1 4-.4 6-.2 7.9 .1 4 .4 2 .5 1.4 .7 2.6 1.8 1.4 2.2 .6 1.1 .8 2.9 .5 4 .1 6.1 0 8 -.4 4 -.4 2.1 -.6 1.6 -1.8 2.4 -2.2 1.5 -2 .8 -2 .4 -6 .4 -9.9-.1 -6-.4 -3.1-.6 -2.9-1.2 -1.9-1.4 -1.2-1.4 -.8-1.5 -.8-2.6 -.4-4 -.1-10 .2-4.1 .6-4 .6-2 1.1-2zM64.4 10.1l1.3-1.1 1.5-.9 2.5-.9 3.9-.6 8-.2 8 .2 3.9 .6 2.5 .9 1.5 .9 1.3 1.1 1.5 2 1.2 2.7 .7 3.3 .3 6.1 0 10 -.4 4 -.6 2.4 -.8 1.7 -1.2 1.5 -2 1.5 -2.2 1 -3.7 .8 -6 .3 -10-.1 -4-.2 -3.9-.9 -2-.9 -1.5-1 -1.7-2 -.9-2 -.5-2.1 -.4-4 -.1-8 .2-6.1 .6-4 .5-2 1-2zM117.4 9.9l2.6-1.8 1.4-.7 2-.5 4-.4 7.9-.1 6 .2 4 .4 4 1.1 2 1.1 1 .9 1.7 2 1.1 2 .6 2 .6 4 .2 4.1 -.1 10 -.4 4 -.8 2.6 -.8 1.5 -1.2 1.4 -1.9 1.4 -2.9 1.2 -3.1 .6 -6 .4 -9.9 .1 -6-.4 -2-.4 -2-.8 -2.2-1.5 -1.8-2.4 -.6-1.6 -.4-2.1 -.4-4 0-8 .1-6.1 .5-4 .8-2.9 .6-1.1zM10 62.4l2.7-2 3.2-1.2 4-.6 4-.2 11.9 0 4 .4 2 .4 2 .8 2 1.5 .8 .9 1.2 2 .6 2 .7 4 .1 8.1 -.1 8.1 -.7 4 -.6 2 -1.2 2 -.8 .9 -2 1.5 -2 .8 -2 .4 -4 .4 -11.9 0 -4-.2 -4-.6 -3.2-1.2 -2.7-2 -1.5-2 -.8-2 -.5-2 -.4-4.1 -.1-6 .1-6 .4-4.1 .5-2 .8-2zM63.7 62.2l2.3-1.8 1.7-.8 2-.6 3.9-.5 8-.1 8 .1 3.9 .5 2 .6 1.7 .8 2.3 1.8 1.4 2.2 .8 2 .4 2 .4 4.1 .1 6 -.1 6 -.4 4.1 -.4 2 -.8 2 -1.4 2.2 -2.3 1.8 -1.7 .8 -2 .6 -3.9 .5 -8 .1 -8-.1 -3.9-.5 -2-.6 -1.7-.8 -2.3-1.8 -1.4-2.2 -.8-2 -.4-2 -.4-4.1 -.1-6 .1-6 .4-4.1 .4-2 .8-2zM117.4 61.5l2-1.5 2-.8 2-.4 4-.4 11.9 0 4 .2 4 .6 3.2 1.2 2.7 2 1.5 2 .8 2 .5 2 .4 4.1 .1 6 -.1 6 -.4 4.1 -.5 2 -.8 2 -1.4 2 -2.8 2 -3.2 1.2 -4 .6 -4 .2 -11.9 0 -4-.4 -2-.4 -2-.8 -2-1.5 -.8-.9 -1.2-2 -.6-2 -.7-4 -.1-8.1 .1-8.1 .7-4 .6-2 1.2-2zM10 113.3l1.9-1.4 2.9-1.2 3.1-.6 6-.4 9.9-.1 6 .4 2 .4 2 .8 2.2 1.5 1.8 2.4 .6 1.6 .4 2.1 .4 4 0 8 -.1 6.1 -.5 4 -.8 2.9 -.6 1.1 -1.4 2.2 -2.6 1.8 -1.4 .7 -2 .5 -4 .4 -7.9 .1 -6-.2 -4-.4 -4-1.1 -2-1.1 -1-.9 -1.7-2 -1.1-2 -.6-2 -.6-4 -.2-4.1 .1-10 .4-4 .8-2.6 .8-1.5zM64.2 112.7l1.5-1 2-.9 3.9-.9 4-.2 10-.1 6 .3 3.7 .8 2.2 1 2 1.5 1.2 1.5 .8 1.7 .6 2.4 .4 4 0 10 -.3 6.1 -.7 3.3 -1.2 2.7 -1.5 2 -1.3 1.1 -1.5 .9 -2.5 .9 -3.9 .6 -8 .2 -8-.2 -3.9-.6 -2.5-.9 -1.5-.9 -1.3-1.1 -1.5-2 -1-2 -.5-2 -.6-4 -.2-6.1 .1-8 .4-4 .5-2.1 .9-2zM117.2 112.7l2.2-1.5 2-.8 2-.4 6-.4 9.9 .1 6 .4 3.1 .6 2.9 1.2 1.9 1.4 1.2 1.4 .8 1.5 .8 2.6 .4 4 0 12.1 -.3 4 -1 4 -1.1 2 -.8 1.1 -1.9 1.8 -2 1.1 -2 .7 -4 .7 -4 .2 -11.9 0 -4-.4 -2-.5 -1.4-.7 -2.6-1.8 -1.4-2.2 -.6-1.1 -.8-2.9 -.5-4 -.1-6.1 0-8 .4-4 .4-2.1 .6-1.6z"/>
<path fill="#00ffd2" d="M11.9 10.2l2-1.2 2-.8 2-.5 4-.6 6-.1 7.9 .1 4 .5 2 .6 2 1 1 .9 1.6 2 1.4 3.1 .6 2.9 .4 6.1 -.1 10 -.4 4 -.5 2.1 -1 2 -1 1.3 -2 1.5 -2 .9 -2 .5 -6 .4 -9.9 0 -4-.3 -4-.6 -2-.7 -2-1 -1.9-1.7 -1.5-2.3 -.6-2.1 -.4-2 -.2-4 .1-10.1 .4-4 .4-2 .8-2 1.1-2zM65.5 10.1l2.2-1.4 2-.8 1.9-.4 4-.4 6-.1 6 .1 4 .4 1.9 .4 2 .8 2.2 1.4 1.8 2 1 2 .7 2 .4 2 .4 4 0 10.1 -.2 4 -.3 2 -.6 2.1 -1.4 2.4 -1.6 1.6 -2.4 1.2 -2 .7 -1.9 .4 -4 .3 -10 0 -6-.3 -1.9-.4 -2-.7 -2.4-1.2 -2-2 -1-2 -.6-2.1 -.5-4 0-8 .2-6.1 .6-4 .7-2 1-2zM118.4 10.1l1-.9 2-1 2-.6 4-.5 7.9-.1 6 .1 4 .6 2 .5 2 .8 2 1.2 1.8 1.9 1.1 2 .8 2 .4 2 .4 4 .1 10.1 -.2 4 -.4 2 -.6 2.1 -1.5 2.3 -1.9 1.7 -2 1 -2 .7 -4 .6 -4 .3 -9.9 0 -6-.4 -2-.5 -2-.9 -2-1.5 -1-1.3 -1-2 -.5-2.1 -.4-4 -.1-10 .4-6.1 .6-2.9 1.4-3.1zM10 63.6l1.9-1.9 2.5-1.3 3.5-1 6-.5 9.9-.1 4 .3 2 .3 3.2 1 .8 .4 1.9 1.6 1.3 2 .8 2 .5 2 .4 4.1 .1 4 -.1 8 -.4 4.1 -.5 2 -.8 2 -1.2 1.9 -2 1.7 -.8 .4 -3.2 1 -4 .5 -11.9 0 -6-.5 -2-.5 -2-.7 -2.8-1.8 -1.7-2 -1-2 -.6-2 -.4-4.1 -.1-10 .2-4.1 .3-2 .6-2zM64.6 62.4l1.1-.9 1.8-1.1 2.2-.7 3.9-.7 8-.2 8 .2 3.9 .7 2.2 .7 1.8 1.1 1.1 .9 1.5 2 .9 2 .5 2 .5 4.1 .1 6 -.1 6 -.5 4.1 -.5 2 -.9 2 -1.5 2 -1.1 .9 -1.8 1.1 -2.2 .7 -3.9 .7 -8 .2 -8-.2 -3.9-.7 -2.2-.7 -1.8-1.1 -1.1-.9 -1.5-2 -.9-2 -.5-2 -.5-4.1 -.1-6 .1-6 .5-4.1 .5-2 .9-2zM117.5 62.4l1.9-1.6 .8-.4 3.2-1 4-.5 5.9-.1 8 .2 4 .4 2 .5 2 .7 2.8 1.8 1.7 2 1 2 .6 2 .4 4.1 .1 10 -.2 4.1 -.3 2 -.6 2 -1.6 2.8 -1.9 1.9 -2.5 1.3 -3.5 1 -6 .5 -9.9 .1 -4-.3 -2-.3 -3.2-1 -.8-.4 -1.9-1.6 -1.3-2 -.8-2 -.5-2 -.4-4.1 -.1-6 .1-6 .4-4.1 .5-2 .8-2zM10 114.4l1.9-1.7 2-1 3.5-1 4.5-.5 9.9-.1 6 .2 4 .7 2 .9 1.2 .8 1.8 2 1 2 .8 4.1 .2 4 0 8 -.4 6.1 -1 4 -1.6 3 -2 1.9 -2.3 1.1 -3.7 .9 -4 .2 -9.9 0 -4-.3 -4-.9 -2-.8 -2-1.2 -1.8-1.9 -1.1-2 -.8-2 -.4-2 -.4-4 -.1-10.1 .2-4 .4-2 .6-2.1zM63.7 114.3l1.6-1.6 2.4-1.2 2-.7 1.9-.4 4-.3 10 0 6 .3 1.9 .4 2 .7 2.4 1.2 2 2 1 2 .6 2.1 .5 4 0 8 -.2 6.1 -.6 4 -.7 2 -1 2 -1.8 2 -2.2 1.4 -2 .8 -1.9 .4 -4 .4 -6 .1 -6-.1 -4-.4 -1.9-.4 -2-.8 -2.2-1.4 -1.8-2 -1-2 -.7-2 -.4-2 -.4-4 0-10.1 .2-4 .3-2 .6-2.1zM117.4 113.4l2-1.5 2-.9 4-.7 4-.2 9.9 0 4 .3 4 .6 2 .7 2 1 2.2 2 1.2 2 .6 2.1 .6 4 0 8 -.2 6.1 -.7 4 -.8 2 -1.1 2 -1.8 1.9 -2 1.2 -2 .8 -2 .5 -4 .6 -9.9 .1 -6-.2 -2-.4 -2-.6 -2-1 -1-.9 -1.6-2 -1.4-3.1 -.6-2.9 -.4-6.1 .1-10 .4-4 .5-2.1 1-2z"/>
<path fill="#00ffb7" d="M11.9 11.3l2-1.4 2-1 4-.9 4-.4 9.9-.1 4 .3 2 .4 2 .8 2 1.2 1.8 1.9 1.1 2 1.1 3.7 .4 4.3 .1 10.1 -.2 4 -.4 2 -.6 2.1 -1.3 2.3 -2 1.8 -2 .9 -2 .6 -4 .5 -9.9 .1 -6-.4 -4-.8 -2.6-1 -1.4-.9 -1.2-1.1 -1.4-2 -.7-2.1 -.5-2 -.3-4 .1-8 .2-4.1 .9-4 1-2.2zM65.7 11l2-1.5 2-.9 1.9-.5 4-.5 6-.1 6 .1 4 .5 1.9 .5 2 .9 2 1.5 1 1.1 1 1.5 1 2.5 .5 2 .4 4 .1 10.1 -.2 4 -.4 2 -.7 2.1 -1.2 2 -1.5 1.4 -2 1.2 -2 .7 -1.9 .4 -4 .4 -10 .1 -4-.2 -3.9-.7 -2-.7 -2-1.2 -2-2.2 -.7-1.2 -.7-2.1 -.6-4 0-6 .1-6.1 .4-4 .5-2 .8-2 1.2-2zM119.4 10.2l2-1.2 2-.8 2-.4 4-.3 9.9 .1 4 .4 4 .9 2 1 2 1.4 1.9 2.6 1 2.2 .9 4 .2 4.1 .1 8 -.3 4 -.5 2 -.7 2.1 -1.4 2 -1.2 1.1 -1.4 .9 -2.6 1 -4 .8 -6 .4 -9.9-.1 -4-.5 -2-.6 -2-.9 -2-1.8 -1.3-2.3 -.6-2.1 -.4-2 -.2-4 .1-10.1 .4-4.3 1.1-3.7 1.1-2zM11.9 62.7l2-1.3 2-.8 2-.6 4-.5 6-.2 7.9 .1 4 .5 2 .7 2 1.1 .9 .7 1.6 2 .9 2 .6 2 .4 4.1 .1 6 -.1 6 -.4 4.1 -.6 2 -.9 2 -1.6 2 -.9 .7 -2 1.1 -2 .7 -4 .5 -7.9 .1 -6-.2 -4-.5 -2-.6 -2-.8 -2-1.3 -1.9-2.3 -.8-1.4 -.7-2 -.6-4.1 -.1-6 .1-6 .6-4.1 .7-2 .8-1.4zM65.6 62.4l2.1-1.3 2-.8 1.9-.5 4-.4 6-.1 6 .1 4 .4 1.9 .5 2 .8 2.1 1.3 1.9 2.3 .8 1.7 .6 2 .5 4.1 .1 6 -.1 6 -.5 4.1 -.6 2 -.8 1.7 -1.9 2.3 -2.1 1.3 -2 .8 -1.9 .5 -4 .4 -6 .1 -6-.1 -4-.4 -1.9-.5 -2-.8 -2.1-1.3 -1.9-2.3 -.8-1.7 -.6-2 -.5-4.1 -.1-6 .1-6 .5-4.1 .6-2 .8-1.7zM118.5 62.4l.9-.7 2-1.1 2-.7 4-.5 7.9-.1 6 .2 4 .5 2 .6 2 .8 2 1.3 1.6 1.7 1.1 2 .7 2 .6 4.1 0 10 -.2 4.1 -.4 2 -.7 2 -1.1 2 -2 2 -1.6 1 -2 .8 -2 .6 -4 .5 -9.9 .2 -6-.3 -2-.3 -2-.7 -2-1.1 -.9-.7 -1.6-2 -.9-2 -.6-2 -.4-4.1 -.1-6 .1-6 .4-4.1 .6-2 .9-2zM11.9 113.6l2-1.2 2-.7 4-.8 4-.3 9.9-.1 4 .3 2 .3 2 .6 2.1 1 1.9 1.7 1.3 2.3 .6 2.1 .4 2 .2 4 -.1 10.1 -.4 4.3 -1.1 3.7 -1.1 2 -1.8 1.9 -2 1.2 -2 .8 -2 .4 -4 .3 -9.9-.1 -4-.4 -4-.9 -2.3-1.2 -2.4-2 -1.4-2 -.8-2 -.5-2 -.5-4 -.2-10.1 .3-4 .5-2 .7-2.1 1.4-2zM65.7 113.3l2-1.2 2-.7 3.9-.7 4-.2 10 .1 4 .4 1.9 .4 2 .7 2 1.2 1.5 1.4 1.2 2 .7 2.1 .4 2 .2 4 -.1 10.1 -.4 4 -.5 2 -1 2.5 -1 1.5 -1 1.1 -2 1.5 -2 .9 -1.9 .5 -4 .5 -6 .1 -6-.1 -4-.5 -1.9-.5 -2-.9 -2-1.5 -1-1.1 -1.2-2 -.8-2 -.5-2 -.4-4 -.1-6.1 0-6 .6-4 .7-2.1 .7-1.2zM117.4 114.4l1.9-1.7 2.1-1 2-.6 2-.3 4-.3 9.9 .1 4 .3 4 .8 2 .7 2 1.2 1.2 1.1 1.4 2 .7 2.1 .5 2 .3 4 -.2 10.1 -.5 4 -.5 2 -.8 2 -1.4 2 -2.4 2 -2.3 1.2 -4 .9 -4 .4 -9.9 .1 -4-.3 -2-.4 -2-.8 -2-1.2 -1.8-1.9 -1.1-2 -1.1-3.7 -.4-4.3 -.1-10.1 .2-4 .4-2 .6-2.1z"/>
<path fill="#00ff9b" d="M12.4 12.1l1.5-1.3 1.3-.7 2.7-1.1 4-.7 4-.2 7.9 0 4 .3 2 .5 2 .8 2 1.5 2 2.6 .9 2.3 .9 4 .2 4.1 .1 8 -.3 4 -.4 2 -.8 2.1 -1.3 2 -1.3 1.2 -1.2 .8 -2.8 1 -4 .6 -5.9 .2 -8-.3 -4-.5 -3.1-1 -3.1-2 -1.7-2.4 -.7-1.7 -.5-2 -.4-4 0-6 .1-4.1 .7-4 .6-2 1-2zM65.7 12.1l2.5-2 1.5-.7 1.9-.6 4-.6 6-.1 6 .1 4 .6 1.9 .6 1.5 .7 2.5 2 1.4 2 .6 1.2 .9 2.8 .5 4 .2 4.1 -.1 6 -.3 4 -.4 2 -.8 2 -1.5 2.1 -2.5 1.9 -2 .8 -3.9 .8 -4 .2 -10 0 -4-.5 -3.7-1.2 -2.2-1.5 -2-2.5 -.8-2.1 -.6-4 -.2-6 .2-6.1 .5-4 .9-2.8 .6-1.2zM119.4 11.2l2-1.5 2-.8 2-.5 4-.3 7.9 0 4 .2 4 .7 2.7 1.1 1.3 .7 1.5 1.3 1.6 2 1 2 .6 2 .7 4 .1 4.1 0 6 -.4 4 -.5 2 -.7 1.7 -1.7 2.4 -3.1 2 -3.1 1 -4 .5 -8 .3 -5.9-.2 -4-.6 -2.8-1 -1.2-.8 -1.3-1.2 -1.3-2 -.8-2.1 -.4-2 -.3-4 .1-8 .2-4.1 .9-4 .9-2.3zM11.9 63.8l1.8-1.4 2.2-1.1 4-1.1 4-.3 9.9-.1 4 .3 2 .4 2 .8 2 1.2 2 2.4 .7 1.5 .7 2 .6 4.1 .1 6 -.1 6 -.6 4.1 -.7 2 -.7 1.5 -2 2.4 -2 1.2 -2 .8 -2 .4 -4 .3 -9.9-.1 -4-.3 -4-1.1 -2.2-1.1 -1.8-1.4 -1.9-2.6 -.8-2 -.7-4.1 -.1-6 .1-6 .7-4.1 .8-2zM65.7 63.4l2-1.5 2-.9 1.9-.6 4-.5 6-.1 6 .1 4 .5 1.9 .6 2 .9 2 1.5 .9 1 1.1 1.8 .8 2.2 .6 4.1 .2 6 -.2 6 -.6 4.1 -.8 2.2 -1.1 1.8 -.9 1 -2 1.5 -2 .9 -1.9 .6 -4 .5 -6 .1 -6-.1 -4-.5 -1.9-.6 -2-.9 -2-1.5 -.9-1 -1.1-1.8 -.8-2.2 -.6-4.1 -.2-6 .2-6 .6-4.1 .8-2.2 1.1-1.8zM119.4 62.5l2-1.2 2-.8 2-.4 4-.3 9.9 .1 4 .3 4 1.1 2.2 1.1 1.8 1.4 1.9 2.6 .8 2 .7 4.1 .1 6 -.1 6 -.7 4.1 -.8 2 -1.9 2.6 -1.8 1.4 -2.2 1.1 -4 1.1 -4 .3 -9.9 .1 -4-.3 -2-.4 -2-.8 -2-1.2 -2-2.4 -.7-1.5 -.7-2 -.6-4.1 -.1-6 .1-6 .6-4.1 .7-2 .7-1.5zM11.7 114.7l3.1-2 3.1-1 4-.5 8-.3 5.9 .2 4 .6 2.8 1 1.2 .8 1.3 1.2 1.3 2 .8 2.1 .4 2 .3 4 -.1 8 -.2 4.1 -.9 4 -.9 2.3 -2 2.6 -2 1.5 -2 .8 -2 .5 -4 .3 -7.9 0 -4-.2 -4-.7 -2.7-1.1 -1.3-.7 -1.5-1.3 -1.6-2 -1-2 -.6-2 -.7-4 -.1-4.1 0-6 .4-4 .5-2 .7-1.7zM65.2 114.7l2.5-1.9 2-.8 3.9-.8 4-.2 10 0 4 .5 3.7 1.2 2.2 1.5 2 2.5 .8 2.1 .6 4 .2 6 -.2 6.1 -.5 4 -.9 2.8 -.6 1.2 -1.4 2 -2.5 2 -1.5 .7 -1.9 .6 -4 .6 -6 .1 -6-.1 -4-.6 -1.9-.6 -1.5-.7 -2.5-2 -1.4-2 -.6-1.2 -.9-2.8 -.5-4 -.2-4.1 .1-6 .3-4 .4-2 .8-2zM118.1 114.7l1.3-1.2 1.2-.8 2.8-1 4-.6 4-.2 7.9 .1 4 .4 2 .3 3.1 1 2.9 1.9 1.9 2.5 .7 1.7 .5 2 .4 4 -.1 10.1 -.7 4 -.8 2.4 -.8 1.6 -1.1 1.6 -2 1.7 -2 1.1 -4 1.1 -4 .4 -9.9 .1 -4-.3 -2-.5 -2-.8 -2-1.5 -2-2.6 -.9-2.3 -.9-4 -.2-4.1 -.1-8 .3-4 .4-2 .8-2.1z"/>
<path fill="#00ff80" d="M13.6 12.1l2.3-1.5 2-.8 2-.6 4-.5 6-.1 3.9 0 4 .5 3 1 1 .5 1.9 1.5 1.4 2 .7 1.2 .9 2.8 .6 4 .1 4.1 0 6 -.4 4 -.4 2 -.8 2 -1.6 2.1 -2.4 1.7 -2 .8 -2 .4 -4 .4 -7.9 0 -6-.5 -3.3-.8 -2.7-1.3 -2-1.6 -.9-1.1 -1-2.1 -.6-2 -.5-4 .1-8 .4-4.1 .6-2.3 .6-1.7 1.1-2zM66.8 12.1l2.9-1.9 1.9-.8 4-.7 6-.1 6 .1 4 .7 1.9 .8 2.9 1.9 1.6 2 1.5 3.2 .6 2.8 .4 4.1 .1 8 -.5 4 -.6 2.3 -.8 1.8 -1.2 1.5 -2 1.6 -1.8 .9 -2.1 .6 -4 .6 -4 .1 -8-.1 -4-.6 -2.1-.6 -1.8-.9 -1.5-1.1 -1.7-2 -.9-2.1 -.5-2 -.5-4 0-6 .2-4.1 .9-4.8 1.5-3.2zM119.5 12.1l1.9-1.5 1-.5 3-1 4-.5 3.9 0 6 .1 4 .5 2 .6 2 .8 2.3 1.5 1.9 2 1.1 2 .6 1.7 .6 2.3 .4 4.1 .1 8 -.5 4 -.6 2 -1 2.1 -.9 1.1 -2 1.6 -2.7 1.3 -3.3 .8 -6 .5 -7.9 0 -4-.4 -3.4-.9 -2.6-1.6 -1.9-2.4 -.9-2.1 -.7-4 -.1-6 .1-6.1 .6-4 .9-2.8 .7-1.2zM12.4 64.4l2.7-2 2.8-1.1 4-.8 4-.2 7.9 0 4 .4 2 .5 2 .8 2 1.5 .8 .9 1.2 1.9 .8 2.1 .4 2 .4 4.1 0 8 -.4 4.1 -.4 2 -.7 2 -1.3 2 -2.2 2 -2.6 1.2 -4 .8 -5.9 .2 -6-.2 -4-.4 -4-1.2 -2-1.1 -1.5-1.3 -1.5-2 -.9-2 -.6-2 -.4-4.1 -.1-4 .1-4 .4-4.1 .6-2 .9-2zM65.7 64.4l2.5-2 1.5-.7 1.9-.7 4-.6 6-.2 6 .2 4 .6 1.9 .7 1.5 .7 2.5 2 1.3 2 .8 2 .5 2 .4 4.1 .1 4 -.1 4 -.4 4.1 -.5 2 -.8 2 -1.3 2 -2.5 2 -1.5 .7 -1.9 .7 -4 .6 -6 .2 -6-.2 -4-.6 -1.9-.7 -1.5-.7 -2.5-2 -1.3-2 -.8-2 -.5-2 -.4-4.1 -.1-4 .1-4 .4-4.1 .5-2 .8-2zM119.4 63.5l2-1.5 2-.8 2-.5 4-.4 7.9 0 4 .2 4 .8 2.8 1.1 2.7 2 1.5 2 .9 2 .6 2 .4 4.1 .1 4 -.1 4 -.4 4.1 -.6 2 -.9 2 -1.5 2 -2.7 2 -2.8 1.1 -4 .8 -4 .2 -7.9 0 -4-.4 -2-.5 -2-.8 -2-1.5 -.8-.9 -1.2-1.9 -.8-2.1 -.7-4.1 -.1-6 .1-6 .7-4.1 .8-2.1 1.2-1.9zM12.9 114.7l3-1.7 4-1.1 4-.4 6-.2 5.9 .2 4 .7 2 .8 2.4 1.7 1.6 2.1 .8 2 .4 2 .4 4 0 6 -.1 4.1 -.6 4 -.9 2.8 -.7 1.2 -1.4 2 -1.9 1.5 -1 .5 -3 1 -4 .5 -3.9 0 -6-.1 -4-.5 -2-.6 -2-.8 -2.3-1.5 -1.9-2 -1.1-2 -.6-1.7 -.9-4.3 -.2-4.1 0-6 .5-4 .6-2 1-2.1zM66.2 114.7l1.5-1.1 1.8-.9 2.1-.6 4-.6 8-.1 4 .1 4 .6 2.1 .6 1.8 .9 2 1.6 1.2 1.5 .8 1.8 .6 2.3 .5 4 -.1 8 -.4 4.1 -.6 2.8 -1.5 3.2 -1.6 2 -2.9 1.9 -1.9 .8 -4 .7 -6 .1 -6-.1 -4-.7 -1.9-.8 -2.9-1.9 -1.6-2 -1.5-3.2 -.9-4.8 -.2-4.1 0-6 .5-4 .5-2 .9-2.1zM119 114.7l2.4-1.7 2-.8 4-.7 5.9-.2 6 .2 4 .4 4 1.1 3 1.7 1.9 2 1 2.1 .6 2 .5 4 -.1 8 -.4 4.1 -.5 2 -.7 2 -1.3 2.3 -2 2 -3.2 1.7 -2.8 .9 -4 .5 -9.9 .1 -4-.5 -3-1 -1-.5 -1.9-1.5 -1.4-2 -.7-1.2 -.9-2.8 -.6-4 -.1-4.1 0-6 .4-4 .4-2 .8-2z"/>
<path fill="#00ff64" d="M13.9 12.9l2-1.5 3.3-1.3 2.7-.6 4-.4 5.9 0 4 .2 2 .4 2 .6 2.8 1.8 1.7 2 1.5 3 .7 3 .4 4.1 .1 8 -.5 4 -.7 2.5 -.8 1.6 -1.2 1.5 -2 1.5 -2 .9 -2 .5 -4 .5 -7.9 0 -4-.3 -4-.8 -2-.8 -1.8-1 -2.2-2 -1.2-2.1 -.7-2 -.3-2 -.3-4 .1-6 .5-3.6 .6-2.5 1.3-2.9zM67.7 12.3l2-1.3 1.9-.9 2-.5 4-.5 4 0 4 0 4 .5 2 .5 1.9 .9 2 1.3 2 2.4 .8 1.4 .8 2 .5 2 .4 4.1 .1 6 -.2 4 -.3 2 -.7 2 -1.4 2.5 -1.5 1.6 -2.5 1.4 -1.9 .7 -2 .4 -4 .4 -8 0 -4-.4 -2-.4 -1.9-.7 -2.5-1.4 -1.9-2 -1-2.1 -.7-2 -.5-4 0-6 .2-4.1 .8-4 .8-2 .8-1.4zM120.6 12.1l2.8-1.8 2-.6 2-.4 4-.2 5.9 0 4 .4 2.7 .6 3.3 1.3 2 1.5 2 2.3 1.3 2.9 .6 2.5 .5 3.6 .1 6 -.3 4 -.3 2 -.7 2 -1.2 2.1 -2 1.9 -2 1.1 -2 .8 -2 .5 -4 .5 -7.9 .1 -4-.2 -4-.8 -2-.9 -1.4-1 -1.8-2 -1-2.1 -.5-2 -.5-4 0-6 .5-6.1 .7-3 1.5-3zM11.9 66.2l1.6-1.8 2.4-1.6 2-.8 4-.9 6-.4 7.9 .2 2 .3 2 .6 2 1 2 1.7 1.3 1.9 .7 1.5 .7 2.5 .5 4.1 0 8 -.5 4.1 -.7 2.5 -.7 1.5 -1.3 1.9 -2 1.7 -2 1 -2 .6 -2 .3 -4 .2 -7.9-.2 -4-.5 -3.1-1 -2.9-1.7 -2-2.1 -1.2-2.2 -.7-2.6 -.5-3.5 -.1-6 .3-4 .4-2.1 .6-2zM66.8 64.4l.9-.8 1.9-1.2 2-.8 4-.7 6-.2 6 .2 4 .7 2 .8 1.9 1.2 .9 .8 1.6 2 1 2 .5 1.9 .5 4.2 .1 4 -.1 4 -.5 4.2 -.5 1.9 -1 2 -1.6 2 -.9 .8 -1.9 1.2 -2 .8 -4 .7 -6 .2 -6-.2 -4-.7 -2-.8 -1.9-1.2 -.9-.8 -1.6-2 -1-2 -.5-1.9 -.5-4.2 -.1-4 .1-4 .5-4.2 .5-1.9 1-2zM119.5 64.4l1.9-1.6 2-1 2-.6 2-.3 4-.2 7.9 .2 4 .5 3.1 1 2.9 1.7 2 2.1 1.2 2.2 .7 2.6 .5 3.5 .1 6 -.3 4 -.4 2.1 -.6 2 -1.2 2.2 -1.6 1.8 -2.4 1.6 -2 .8 -4 .9 -6 .4 -7.9-.2 -2-.3 -2-.6 -2-1 -2-1.7 -1.3-1.9 -.7-1.5 -.7-2.5 -.5-4.1 0-8 .5-4.1 .5-2 .9-2zM11.9 116.7l2-1.9 2-1.1 2-.8 2-.5 4-.5 7.9-.1 4 .2 4 .8 2 .9 1.4 1 1.8 2 1 2.1 .5 2 .3 2 .2 4 -.1 6 -.4 4.1 -.4 2 -.7 2 -1.6 2.7 -2 1.9 -2.8 1.4 -3.2 .8 -4 .2 -7.9-.2 -4-.6 -2-.6 -2-.9 -2-1.5 -2-2.3 -1.3-2.9 -.6-2.5 -.5-3.6 -.1-6 .3-4 .3-2 .7-2zM67.2 114.7l2.5-1.4 1.9-.7 2-.4 4-.4 8 0 4 .4 2 .4 1.9 .7 2.5 1.4 1.5 1.6 1.4 2.5 .7 2 .3 2 .2 4 -.1 6 -.4 4.1 -.5 2 -.8 2 -.8 1.4 -2 2.4 -2 1.3 -1.9 .9 -2 .5 -4 .5 -4 0 -4 0 -4-.5 -2-.5 -1.9-.9 -2-1.3 -2-2.4 -.8-1.4 -.8-2 -.8-4 -.2-4.1 0-6 .5-4 .7-2 1-2.1zM119.4 115.2l2-1.5 2.2-1 3.8-.7 4-.2 7.9 .1 4 .5 2 .5 2 .8 2 1.1 2 1.9 1.2 2.1 .7 2.3 .5 3.7 0 8 -.5 4.1 -.6 2 -.8 2 -1.4 2 -2.1 2 -3 1.6 -2 .6 -4 .6 -7.9 .2 -4-.2 -2-.4 -2-.6 -2.8-1.8 -1.7-2 -1.5-3 -.7-3 -.4-4.1 -.1-8 .5-4 .7-2.5 .8-1.6z"/>
<path fill="#00ff48" d="M13.9 14l2-1.7 2-1 4-1.2 4-.4 5.9-.1 4 .3 2 .4 2 .8 2 1.3 2 2.2 .9 1.5 .8 2 .5 2 .5 4.1 .1 6 -.2 4 -.4 2 -.7 2 -1.5 2.6 -1.6 1.5 -2.4 1.3 -2 .6 -2 .4 -4 .2 -5.9 0 -4.7-.5 -3.3-.9 -2-.8 -2-1.4 -1-.9 -1-1.3 -1.2-2.8 -.7-4 0-4 .1-4 .6-4.1 1.2-3.3zM67.7 13.4l2-1.6 1.9-1 2-.6 4-.5 4-.1 4 .1 4 .5 2 .6 1.9 1 2 1.6 2 2.7 .9 2 .6 2 .5 4.1 .1 6 -.2 4 -.4 2 -.7 2 -1.3 2.1 -2.2 2 -1.3 .7 -1.9 .8 -2 .5 -4 .5 -8 0 -4-.5 -2-.5 -1.9-.8 -2-1.3 -2-2.2 -.8-1.3 -.7-2 -.6-4 .1-8 .5-4.1 .6-2 .9-2zM121.4 12.4l2-1.3 2-.8 2-.4 4-.3 5.9 .1 4 .4 4 1.2 2 1 2 1.7 1.6 2.1 1 2 1 4 .3 4.1 0 6 -.2 2 -.5 2 -.8 2 -1.4 2.1 -2.5 2 -2.5 1.1 -4 1 -6 .4 -5.9-.1 -4-.5 -2-.6 -2-1 -2-1.8 -1.5-2.6 -.7-2 -.4-2 -.2-4 .1-6 .5-4.1 .5-2 .8-2 .9-1.5zM13.9 65.1l2-1.5 2-.9 2-.7 4-.6 4-.2 5.9 0 4 .6 2 .7 2 1.1 .9 .8 1.7 2 1.4 3.3 .5 2.8 .3 6 -.3 6 -.5 2.8 -1.4 3.3 -1.7 2 -.9 .8 -2 1.1 -2 .7 -4 .6 -5.9 0 -4-.2 -4-.6 -2-.7 -2-.9 -2-1.5 -1.2-1.3 -.8-1.2 -1.2-2.8 -.6-4.1 -.1-4 .1-4 .6-4.1 1.2-2.8 .8-1.2zM67.7 64.5l2-1.4 1.9-.8 2-.6 4-.5 4-.1 4 .1 4 .5 2 .6 1.9 .8 2 1.4 2 2.4 .8 1.5 .6 2 .6 4.1 .1 4 -.1 4 -.6 4.1 -.6 2 -.8 1.5 -2 2.4 -2 1.4 -1.9 .8 -2 .6 -4 .5 -4 .1 -4-.1 -4-.5 -2-.6 -1.9-.8 -2-1.4 -2-2.4 -.8-1.5 -.6-2 -.6-4.1 -.1-4 .1-4 .6-4.1 .6-2 .8-1.5zM120.5 64.4l.9-.8 2-1.1 2-.7 4-.6 5.9 0 4 .2 4 .6 2 .7 2 .9 2 1.5 1.2 1.3 1.2 2 .8 2 .6 4.1 .1 6 -.3 4 -.4 2.1 -.8 2 -1.2 2 -2 2 -3.2 1.7 -4 1.1 -4 .4 -5.9 0 -4-.2 -2-.4 -2-.7 -2-1.1 -.9-.8 -1.7-2 -1.4-3.3 -.5-2.8 -.3-6 .3-6 .5-2.8 1.4-3.3zM13.9 115.8l2-1.4 2-.8 3.3-.9 4.7-.5 5.9 0 4 .2 2 .4 2 .6 2.4 1.3 1.6 1.5 1.5 2.6 .7 2 .4 2 .2 4 -.1 6 -.5 4.1 -.5 2 -.8 2 -.9 1.5 -2 2.2 -2 1.3 -2 .8 -2 .4 -4 .3 -5.9-.1 -4-.4 -4-1.2 -2-1 -2-1.7 -2-2.8 -1.2-3.3 -.6-4.1 -.1-4 0-4 .7-4 1.2-2.8 1-1.3zM67.7 115.3l2-1.3 1.9-.8 2-.5 4-.5 8 0 4 .5 2 .5 1.9 .8 1.3 .7 2.2 2 1.3 2.1 .7 2 .4 2 .2 4 -.1 6 -.5 4.1 -.6 2 -.9 2 -2 2.7 -2 1.6 -1.9 1 -2 .6 -4 .5 -4 .1 -4-.1 -4-.5 -2-.6 -1.9-1 -2-1.6 -2-2.7 -.9-2 -.6-2 -.5-4.1 -.1-8 .6-4 .7-2 .8-1.3zM121 114.7l2.4-1.3 2-.6 2-.4 4-.2 7.9 .2 2.7 .3 3.3 .9 2.5 1.1 2.5 2 1.4 2.1 .8 2 .5 2 .2 2 0 6 -.3 4.1 -1 4 -1 2 -1.6 2.1 -2 1.7 -2 1 -4 1.2 -4 .4 -5.9 .1 -4-.3 -2-.4 -2-.8 -2-1.3 -2-2.2 -.9-1.5 -.8-2 -.8-4 -.3-4.1 .1-6 .5-4 .7-2 1.1-2.1z"/>
<path fill="#00ff2d" d="M15 14.1l2.9-2 2-.8 4-.9 4-.3 3.9 0 4 .4 2 .5 2 .9 2 1.4 2 2.5 1 2.3 1 3.8 .2 2.3 .2 6 -.3 4 -.5 2 -.7 2 -1.3 2.1 -2.3 2 -1.3 .7 -2 .7 -4 .6 -3.9 .1 -6-.2 -4-.8 -3.2-1.1 -2.8-2 -2-2.7 -.5-1.4 -.6-2 -.3-4 0-4 .4-4.1 1-3.6 1.3-2.4zM68 14.1l2.7-2 2.9-1.2 4-.7 4-.1 4 .1 4 .7 2.9 1.2 2.7 2 1.5 2 1 2 1.1 4 .3 4.1 .1 4 -.4 4 -.4 2 -.8 2 -1.5 2.1 -2.5 2 -2 .9 -4 .9 -4 .3 -6-.1 -4-.5 -2-.6 -1.9-.9 -2-1.4 -2-2.6 -.9-2.1 -.7-4 -.1-4 .2-4 .6-4.1 .9-2.5 .8-1.5zM120.7 14.1l2.3-2 2.4-1.1 2-.5 2-.3 3.9-.1 6 .3 4 .9 2 .8 2.9 2 1.8 2 1.3 2.4 1 3.6 .4 4.1 0 4 -.3 4 -.6 2 -.5 1.4 -2 2.7 -2 1.5 -2 1 -4 1.1 -4 .4 -5.9 .1 -4-.3 -2-.4 -2-.7 -2-1.2 -2-2.1 -.9-1.5 -.7-2 -.5-2 -.3-4 .2-6 .6-4.1 .6-2 .9-2zM13.9 66.1l2-1.7 2-1 4-1.2 4-.5 5.9-.1 4 .3 2 .5 2 .8 2 1.3 1.8 1.9 1.1 2 .7 2 .7 4.1 0 6 -.3 4 -.4 2.1 -.7 2 -1.1 2 -1.8 1.9 -2 1.3 -2 .8 -4 .7 -5.9 .1 -6-.6 -4-1.2 -2-1 -2.2-2 -1.4-2 -.9-2 -.8-4.1 -.1-6 .4-4 1-3.4zM67.7 65.5l2-1.6 1.9-1 1.6-.5 4.4-.7 4-.1 4 .1 4.4 .7 1.6 .5 1.9 1 2 1.6 .8 .9 1.2 1.9 .8 2.1 .7 4.1 .2 4 -.2 4 -.7 4.1 -.8 2.1 -1.2 1.9 -.8 .9 -2 1.6 -1.9 1 -1.6 .5 -4.4 .7 -4 .1 -4-.1 -4.4-.7 -1.6-.5 -1.9-1 -2-1.6 -.8-.9 -1.2-1.9 -.8-2.1 -.7-4.1 -.2-4 .2-4 .7-4.1 .8-2.1 1.2-1.9zM121.4 64.5l2-1.3 2-.8 2-.5 4-.3 5.9 .1 4 .5 4 1.2 2 1 2 1.7 1.6 2.3 .9 2 .8 4.1 .1 4 -.1 4 -.8 4.1 -.9 2 -1.6 2.3 -2 1.7 -2 1 -4 1.2 -4 .5 -5.9 .1 -4-.3 -2-.5 -2-.8 -2-1.3 -2-2.2 -.9-1.7 -.7-2 -.7-4.1 -.1-4 .1-4 .7-4.1 .7-2 .9-1.7zM13.9 116.7l2-1.5 2-1 4-1.1 4-.4 5.9-.1 4 .3 2 .4 2 .7 2 1.2 2 2.1 .9 1.5 .7 2 .5 2 .3 4 -.2 6 -.6 4.1 -.6 2 -.9 2 -1.4 2 -2.3 2 -2.4 1.1 -2 .5 -2 .3 -3.9 .1 -6-.3 -4-.9 -2-.8 -2.9-2 -1.8-2 -1.3-2.4 -1-3.6 -.4-4.1 0-4 .3-4 .6-2 .5-1.4zM67.7 116.1l2-1.4 1.9-.9 2-.6 4-.5 4-.1 4 .1 4 .5 2 .6 1.9 .9 2 1.4 2 2.6 .9 2.1 .7 4 .1 4 -.2 4 -.6 4.1 -.9 2.5 -.8 1.5 -1.5 2 -2.7 2 -2.9 1.2 -4 .7 -4 .1 -4-.1 -4-.7 -2.9-1.2 -2.7-2 -1.5-2 -.8-1.5 -.9-2.5 -.6-4.1 -.2-4 .1-4 .7-4 .9-2.1zM121.4 115.2l2-1.2 2-.7 2-.4 4-.3 5.9 .1 4 .4 4 1.1 2 1 2 1.5 2 2.7 .5 1.4 .6 2 .3 4 0 4 -.4 4.1 -1 3.6 -1.3 2.4 -1.8 2 -2.9 2 -2 .8 -4 .9 -4 .3 -3.9 0 -4-.4 -2-.5 -2-.9 -2-1.4 -2.1-2.8 -.9-2 -.6-2 -.6-4.1 -.2-4 .1-4 .7-4 .7-2 .9-1.5z"/>
<path fill="#0f1" d="M15.9 14.3l2-1.4 1.7-.8 2.3-.7 4-.7 4-.1 3.9 .2 2 .3 2 .6 2 1 1.8 1.4 1.5 2 1.1 2 1.1 4 .4 4.1 0 4 -.3 4 -.5 2 -.9 2 -1.5 2.1 -2.6 2 -2.1 .8 -4 .8 -3.9 .1 -6-.3 -4-.8 -2-.8 -2.9-1.8 -1.8-2.1 -1.1-2 -.7-2 -.4-4 .1-4 .4-4.1 .6-2 .8-2 1-1.7zM69.1 14.1l2.5-1.8 2-.8 4-.7 4-.2 4 .2 4 .7 2 .8 2.5 1.8 1.8 2 1.6 3.3 .7 2.7 .4 4.1 .1 4 -.4 4 -.8 2.6 -.7 1.4 -1.6 2.1 -2.9 2 -2.7 .9 -4 .7 -4 .1 -4-.1 -4-.7 -2.7-.9 -2.9-2 -1.6-2.1 -.7-1.4 -.8-2.6 -.4-4 .1-4 .4-4.1 .7-2.7 1.6-3.3zM121.4 14.3l2-1.6 2-1 2-.6 2-.3 3.9-.2 4 .1 4 .7 2.3 .7 1.7 .8 2 1.4 1.7 1.8 1.3 2 1 2.4 .7 3.7 .2 6 -.4 4 -.7 2 -1.1 2 -.7 1 -2 1.8 -2.3 1.3 -3.7 1.1 -4 .5 -5.9 .1 -4-.4 -2-.5 -2-.8 -2-1.3 -2-2.4 -1.1-2.4 -.5-2 -.2-2 -.1-4 .1-4 .8-4.1 1-2.9zM14.7 66.4l2.6-2 2.6-1.1 4-.9 4-.3 3.9 0 4 .4 2 .5 2 .9 2 1.5 2 2.5 1 2.5 .5 2.1 .4 4 0 4 -.4 4 -.5 2.1 -.8 2 -1.3 2 -2.1 2 -2.8 1.4 -2.3 .6 -3.7 .3 -5.9-.1 -4-.5 -4-1.4 -2-1.3 -2-1.9 -.8-1.1 -1-2 -.6-2.1 -.4-4 0-4 .4-4 .6-2.1 1-2zM67.7 66.4l2-1.7 1.9-1.1 2-.7 4-.7 6-.1 4 .3 2 .5 2 .7 1.9 1.1 2 1.7 1.3 2 .9 2 .8 4.1 .2 6 -.5 4 -.7 2.6 -.7 1.5 -1.3 2 -2 1.7 -1.9 1.1 -2 .7 -4 .7 -6 .1 -4-.3 -2-.5 -2-.7 -1.9-1.1 -2-1.7 -1.3-2 -.9-2 -.8-4.1 -.2-6 .5-4 .7-2.6 .7-1.5zM121.4 65.4l2-1.5 2-.9 2-.5 4-.4 3.9 0 4 .3 4 .9 2.6 1.1 2.6 2 1.6 2 1.2 2.5 .7 3.6 .2 4 -.2 4 -.7 3.6 -1.2 2.5 -1.6 2 -2.6 2 -2.6 1.1 -4 .9 -4 .3 -3.9 0 -4-.4 -2-.5 -2-.9 -2-1.5 -2-2.5 -1-2.5 -.8-4.1 -.1-4 .1-4 .8-4.1 1-2.5zM15 116.7l2.9-1.8 2-.8 4-.8 6-.3 3.9 .1 4 .8 2.1 .8 2.6 2 1.5 2.1 .9 2 .5 2 .3 4 0 4 -.4 4.1 -1.1 4 -1.1 2 -1.3 1.8 -2 1.6 -2 1 -2 .6 -2 .3 -3.9 .2 -4-.1 -4-.7 -2.3-.7 -1.7-.8 -2-1.4 -2-2.1 -1-1.7 -.8-2 -.6-2 -.4-4.1 -.1-4 .4-4 .7-2 1.1-2zM68 116.7l2.9-2 2.7-.9 4-.7 4-.1 4 .1 4 .7 2.7 .9 2.9 2 1.6 2.1 .7 1.4 .8 2.6 .4 4 -.1 4 -.4 4.1 -.7 2.7 -1.6 3.3 -1.8 2 -2.5 1.8 -2 .8 -4 .7 -4 .2 -4-.2 -4-.7 -2-.8 -2.5-1.8 -1.8-2 -1.6-3.3 -.7-2.7 -.4-4.1 -.1-4 .4-4 .8-2.6 .7-1.4zM120.7 116.7l2.6-2 2.1-.8 4-.8 3.9-.1 6 .3 4 .8 2 .8 2.9 1.8 1.8 2.1 1.1 2 .7 2 .4 4 -.1 4 -.4 4.1 -.6 2 -.8 2 -1.3 2 -1.9 2 -1.8 1.2 -1.7 .8 -2.3 .7 -4 .7 -5.9 .1 -4-.5 -2.9-1 -1.1-.6 -1.8-1.4 -1.5-2 -1.1-2 -1.1-4 -.4-4.1 0-4 .3-4 .5-2 .9-2z"/>
<path fill="#0f0" d="M15.9 15.4l2-1.6 2-1.1 1.7-.6 2.3-.5 4-.5 3.9 0 4 .6 2 .7 2.7 1.7 1.8 2 1.5 2.6 1 3.4 .5 4.1 0 4 -.4 4 -1.1 3.2 -2 2.7 -2 1.5 -2 1 -4 .8 -3.9 .2 -4-.2 -4-.6 -2.1-.5 -1.9-.9 -2-1.2 -2-2 -1.1-2 -.7-2 -.4-2 -.1-4 .2-4 .4-2.1 .6-2 1.1-2.3zM69.7 14.6l1.9-1.4 2.4-1.1 3.6-.8 4-.2 4 .2 3.6 .8 2.4 1.1 1.9 1.4 2 2.3 1.6 3.2 .9 4.1 .2 4 -.1 4 -.6 2.9 -.4 1.1 -1.1 2 -1.8 2.1 -2.6 1.6 -2 .8 -2 .4 -4 .5 -4 0 -4-.5 -3.2-.8 -2.7-1.5 -2-1.9 -1.6-2.7 -.7-2 -.4-4 0-4 .5-4.1 .6-2 1.6-3.2zM122.7 14.1l2.7-1.7 2-.7 4-.6 3.9 0 4 .5 2.3 .5 1.7 .6 2 1.1 2 1.6 2 2.4 1.1 2.3 .6 2 .6 4.1 0 4 -.3 3.4 -.9 2.6 -1.2 2 -2 2.1 -1.9 1.1 -1.9 .9 -2.1 .5 -4 .6 -5.9 .2 -4-.5 -2.7-.8 -1.3-.7 -1.9-1.3 -2.1-2.9 -1.1-3.2 -.4-4 0-4 .5-4.1 1-3.4 1.5-2.6zM15.8 66.4l3-2 3.1-1.1 4-.7 4-.1 3.9 .2 2 .3 2 .7 1.6 .7 2.4 1.9 1.5 2.1 .9 2 .9 4.1 .2 4 -.2 4 -.9 4.1 -.9 2 -1.5 2.1 -2.4 1.9 -1.6 .7 -2 .7 -2 .3 -3.9 .2 -4-.1 -4-.7 -3.1-1.1 -3-2 -1.9-2.1 -1-1.9 -.8-2.1 -.3-2 -.3-4 .3-4 .3-2 .8-2.1 1-1.9zM68.7 66.4l2.7-2 2.2-.9 4-.8 4-.2 4 .2 4 .8 2.2 .9 2.7 2 1.5 2 1.1 2 .4 1.4 .5 2.7 .2 4 -.2 4 -.5 2.7 -.4 1.4 -1.1 2 -1.5 2 -2.7 2 -2.2 .9 -4 .8 -4 .2 -4-.2 -4-.8 -2.2-.9 -2.7-2 -1.5-2 -1.1-2 -.4-1.4 -.5-2.7 -.2-4 .2-4 .5-2.7 .4-1.4 1.1-2zM121.4 66.3l2.4-1.9 1.6-.7 2-.7 2-.3 3.9-.2 4 .1 4 .7 3.1 1.1 2.9 1.9 1.9 2.1 1.1 2 .8 2.1 .3 2 .3 4 -.3 4 -.3 2 -.8 2.1 -1.1 2 -1.8 2 -2.1 1.5 -2 .9 -4 1.1 -4 .4 -5.9-.2 -2-.3 -2-.7 -2-.9 -2-1.7 -1.5-2.1 -.9-2 -.9-4.1 -.2-6 .5-4 1-3.2zM15.9 116.8l2-1.2 1.9-.9 2.1-.5 4-.6 4-.2 3.9 .2 4 .8 2 1 2 1.5 2 2.7 1.1 3.2 .4 4 0 4 -.5 4.1 -1 3.4 -1.5 2.6 -1.8 2 -2.7 1.7 -2 .7 -4 .6 -5.9-.2 -4-.7 -2-.7 -2.5-1.4 -2.2-2 -1.4-2 -1-2 -.6-2 -.6-4.1 0-4 .5-4 .7-2 1.2-2zM69 116.7l2.6-1.6 2-.8 2-.4 4-.5 4 0 4 .5 3.2 .8 2.7 1.5 2 1.9 1.6 2.7 .7 2 .4 4 0 4 -.5 4.1 -.6 2 -1.6 3.2 -2 2.3 -1.9 1.4 -2.4 1.1 -3.6 .8 -4 .2 -4-.2 -3.6-.8 -2.4-1.1 -1.9-1.4 -2-2.3 -1.6-3.2 -.9-4.1 -.2-4 .1-4 .6-2.9 .4-1.1 1.1-2zM121.5 116.7l1.9-1.3 2-1 4-.8 3.9-.2 4 .2 4 .6 2.1 .5 1.9 .9 2 1.2 1.9 2 1.2 2 .7 2 .5 4 0 4 -.6 4.1 -.6 2 -1 2 -1.4 2 -2.2 2 -2.5 1.4 -2 .7 -4 .7 -5.9 .2 -4-.6 -2-.7 -2.7-1.7 -1.8-2 -1.5-2.6 -1-3.4 -.5-4.1 0-4 .4-4 1.1-3.2z"/>
<path fill="#0f0" d="M17.9 14.7l2-1.2 2-.8 2-.6 4-.4 3.9 0 2 .2 2 .4 2 .8 2 1.3 1.7 1.7 1.3 2 .9 2 .5 2 .6 4.1 .1 4 -.5 4 -.7 2 -1.2 2 -1.8 2.1 -2.9 1.7 -2 .6 -2 .4 -3.9 .2 -4-.2 -4-.7 -2-.7 -2.6-1.3 -2.3-2.1 -1.4-2 -.9-2 -.4-2 -.2-4 .3-4 .5-2.1 .7-2 1.1-2 1.6-2zM71.5 14.1l2.1-1.2 2.8-.8 3.2-.4 4 0 3.2 .4 2.8 .8 2.1 1.2 2.3 2 1.5 2.1 .9 1.9 .7 2 .6 4.1 0 4 -.1 2 -.4 2 -.8 2 -1.2 2 -1.7 1.7 -1.9 1.3 -2 .9 -2 .6 -4 .4 -4 0 -4-.4 -2-.6 -2-.9 -1.5-.9 -2.1-2.1 -1.2-2 -.8-2 -.4-2 -.2-4 .3-4 .4-2.1 .7-2 .9-2 2-2.5zM123.4 14.4l2-1.3 2.9-1 3.1-.4 3.9 0 3.6 .4 2.4 .6 3 1.4 2.6 2 1.6 2 1.1 2 .7 2 .7 4.1 .1 4 -.2 2 -.4 2 -.9 2 -1.4 2 -2.3 2.1 -2.6 1.3 -1.9 .7 -2.1 .4 -4 .4 -3.9 .1 -4-.6 -2-.6 -2-1.1 -2-1.7 -1.9-3 -.7-2 -.5-4 .1-4 .6-4.1 .5-2 .9-2 1-1.6zM15.9 67.3l2-1.6 2.6-1.3 3.4-1 4-.4 3.9 0 4 .6 2.3 .8 1.7 1.1 1.1 .9 1.7 2 1 2 .7 2.1 .5 4 0 4 -.5 4 -.7 2.1 -1.8 3 -2 1.9 -2 1.2 -2 .7 -4 .6 -3.9 0 -4-.4 -4-1.2 -3-1.8 -2-2 -1.3-2 -.8-2.1 -.5-2 -.2-2 0-4 .2-2 .5-2 1.1-2.6zM69.7 66.5l1.9-1.4 1.3-.7 2.7-.9 2-.3 4-.3 4 .3 2 .3 2.7 .9 1.3 .7 1.9 1.4 2 2.4 .9 1.5 .7 2.1 .4 2 .3 4 -.3 4 -.4 2 -.7 2.1 -.9 1.5 -2 2.4 -1.9 1.4 -1.3 .7 -2.7 .9 -2 .3 -4 .3 -4-.3 -2-.3 -2.7-.9 -1.3-.7 -1.9-1.4 -2-2.4 -.9-1.5 -.7-2.1 -.4-2 -.3-4 .3-4 .4-2 .7-2.1 .9-1.5zM122.3 66.4l1.1-.9 1.7-1.1 2.3-.8 2-.4 3.9-.3 4 .2 4 .8 2 .7 3 1.8 2 2 1.3 2 .8 2.1 .5 2 .2 2 0 4 -.2 2 -.5 2 -.8 2.1 -1.3 2 -2 2 -3 1.8 -4 1.2 -4 .4 -3.9 0 -4-.6 -2.3-.8 -1.7-1.1 -1.1-.9 -1.7-2 -1.2-2.5 -.9-3.6 -.2-4 .2-4 .9-3.6 1.2-2.5zM15.9 117.8l2-1.4 2-1 1.9-.7 2.1-.4 4-.4 3.9-.1 4 .6 2 .6 2.9 1.7 1.8 2.1 1.2 2 .7 2 .5 4 -.1 4 -.6 4.1 -.5 2 -.9 2 -1.3 2 -2.1 2 -1.6 1 -2 .8 -2 .4 -3.9 .3 -4-.2 -4-.9 -3-1.4 -2.6-2 -1.6-2 -.8-1.3 -1-2.7 -.5-2.1 -.3-4 .2-4 .4-2 1.2-2.7zM69.7 117.1l1.9-1.3 2.5-1.1 3.5-.7 4-.2 4 .2 3.5 .7 2.5 1.1 1.9 1.3 2 2.1 .9 1.6 .8 2 .4 2 .2 4 -.3 4 -.4 2.1 -.7 2 -.9 2 -2 2.5 -1.9 1.6 -2 1.1 -2 .7 -2 .4 -4 .2 -4-.2 -2-.4 -2-.7 -2-1.1 -1.9-1.6 -2-2.5 -.9-2 -.7-2 -.4-2.1 -.3-4 .2-4 .4-2 .8-2 .9-1.6zM122.5 116.7l2.9-1.7 2-.6 4-.6 3.9 .1 4 .4 2.1 .4 1.9 .7 2 1 2 1.4 2 2.3 1.2 2.7 .4 2 .2 4 -.3 4 -.5 2.1 -1 2.7 -.8 1.3 -1.6 2 -2.6 2 -3 1.4 -2.4 .6 -3.6 .4 -3.9 0 -3.1-.4 -2.9-1 -2-1.3 -2-2.1 -1-1.6 -.9-2 -.9-4.1 -.3-4 .2-4 .9-3.8 1.3-2.2z"/>
<path fill="#10ff00" d="M17.4 16.1l2.5-1.8 2-.9 2-.6 4-.6 3.9 0 2 .2 2 .5 2 1 2 1.5 2 2.3 1.2 2.4 .8 2.4 .6 3.7 .1 4 -.2 2 -.5 2 -.7 2 -1.3 2 -2 1.9 -2 1.2 -2 .8 -2 .4 -3.9 .3 -4-.2 -4-.9 -3.4-1.4 -2.6-2 -2-2.8 -.5-1.3 -.6-2 -.2-2 .1-4 .8-4.1 .9-2 1.2-2zM71.6 14.9l2-1.2 2-.8 2-.5 2-.2 4 0 2 .2 2 .5 2 .8 2 1.2 1.9 1.8 1.1 1.4 .9 1.6 1 2.4 .4 2.1 .4 4 -.2 4 -.5 2 -1.1 2.4 -2 2.5 -1.9 1.4 -2 1 -2 .7 -4 .5 -4 0 -3.4-.4 -2.6-.8 -2.4-1.2 -2.3-2.1 -1.4-2 -.9-2 -.5-2 -.2-2 .1-4 .7-4.1 1-2.4 .9-1.6 1.1-1.4zM122.7 16.1l2.3-2 2.4-1.2 2-.5 3.9-.3 4 .3 4 1 2 .9 2.5 1.8 1.8 2 1.2 2 .9 2 .8 4.1 .1 4 -.2 2 -.6 2 -.5 1.3 -2 2.7 -2.6 2.1 -3.4 1.4 -2.2 .6 -3.8 .4 -3.9 0 -3.3-.4 -2.7-1 -2-1.2 -2-1.9 -1.3-2 -.7-2 -.5-2 -.2-2 .1-4 .7-4.1 .7-2 1-2zM17.9 66.6l2-1.2 2-.9 2-.5 4-.6 3.9 0 2 .3 2 .4 2 .9 2.2 1.4 1.8 2 1.2 2 .7 2.1 .5 2 .2 2 0 4 -.6 3.9 -.8 2.2 -1.2 2 -1.8 2 -2.2 1.4 -2 .9 -2 .4 -2 .3 -3.9 0 -4-.6 -2-.5 -2-.9 -1.8-1 -2.2-2 -1.5-2 -.5-1 -1-3.1 -.3-2 0-4 .3-2 .6-2 .9-2.1 1.5-2zM70.9 66.4l2.7-1.6 2-.7 4-.7 4 0 4 .7 2 .7 2 1.1 1.9 1.6 2 2.7 1 2.3 .5 2 .3 4 -.3 4 -.5 2 -1 2.3 -2 2.7 -1.9 1.6 -3 1.5 -3 .7 -4 .3 -4-.3 -3-.7 -3-1.5 -1.9-1.6 -2-2.7 -1-2.3 -.5-2 -.2-2 0-4 .2-2 .5-2 .8-2.1 1.3-2zM123.2 66.4l2.2-1.4 2-.9 2-.4 2-.3 3.9 0 4 .6 2 .5 2 .9 1.8 1 2.2 2 1.5 2 .9 2.1 .6 2 .3 4 -.3 4 -.6 2 -.9 2.1 -1.5 2 -2.2 2 -1.8 1 -2 .9 -2 .5 -4 .6 -3.9 0 -2-.3 -2-.4 -2-.9 -2.2-1.4 -1.8-2 -1.2-2 -.7-2.1 -.5-2 -.3-4 .3-4 .5-2 .7-2.1 1.2-2zM17.9 117.1l2-1.1 2-.7 2-.5 4-.5 3.9 0 3.3 .4 2.7 1 2 1.2 2 1.9 1.3 2 .7 2 .5 2 .2 2 -.1 4 -.6 3.7 -.8 2.4 -1.2 2.4 -2 2.3 -2 1.5 -2 1 -2 .5 -2 .2 -3.9 0 -4-.6 -3.5-1.3 -2.5-1.6 -2-2 -1.5-2.4 -.9-2 -.8-4.1 -.1-4 .2-2 .6-2 .9-2 1.6-2zM71.2 116.7l2.4-1.2 2.6-.8 3.4-.4 4 0 3.4 .4 2.6 .8 2.4 1.2 2.3 2.1 1.4 2 .9 2 .5 2 .2 2 -.1 4 -.7 4.1 -1 2.4 -.9 1.6 -1.1 1.4 -1.9 1.8 -2 1.2 -2 .8 -2 .5 -2 .2 -4 0 -2-.2 -2-.5 -2-.8 -2-1.2 -1.9-1.8 -1.1-1.4 -.9-1.6 -1-2.4 -.7-4.1 -.1-4 .2-2 .5-2 .9-2 1.4-2zM123.4 116.9l2-1.2 2.7-1 3.3-.4 3.9 0 3.8 .4 2.2 .6 3.4 1.4 2.6 2.1 2 2.7 .5 1.3 .6 2 .2 2 -.1 4 -.8 4.1 -.9 2 -1.2 2 -1.8 2 -2.5 1.8 -2 .9 -4 1 -4 .3 -3.9-.3 -2-.5 -2.4-1.2 -2.3-2 -1.5-2 -1-2 -.7-2 -.7-4.1 -.1-4 .2-2 .5-2 .7-2 1.3-2z"/>
<path fill="#2bff00" d="M17.9 16.7l2-1.5 2-1.1 2-.7 2-.5 4-.3 3.9 .4 2 .6 2 1 1.8 1.5 1.7 2 1.1 2 .8 2 .7 4.1 .1 4 -.2 2.1 -.5 1.9 -.9 2 -1.4 2 -2.4 2.1 -2.8 1.3 -2 .5 -3.9 .3 -4-.3 -4-.9 -2.1-.9 -2.9-2.1 -1.8-2 -1.1-2 -.6-2 -.3-2 0-2 .5-4 .6-2.1 1.7-3.2zM71.6 15.8l2-1.4 2-.9 2-.5 4-.4 4 .4 2 .5 2 .9 2.4 1.7 1.5 1.7 1.5 2.3 .9 2 .8 4.1 .1 4 -.2 2 -1.1 3.1 -.5 .9 -1.5 2 -2.7 2.1 -3.2 1.3 -2 .5 -4 .3 -4-.3 -2-.5 -3.2-1.3 -2.7-2.1 -1.5-2 -.5-.9 -1.1-3.1 -.2-2 .1-4 .8-4.1 .9-2 1.5-2.3zM123.6 16.1l1.8-1.5 2-1 2-.6 3.9-.4 4 .3 2 .5 2 .7 2 1.1 2 1.5 1.4 1.4 1.4 2 1.2 2.9 .7 3.2 .1 4 -.3 2 -.6 2 -1.1 2 -.8 1.1 -2 1.8 -1.9 1.2 -2.1 .9 -2 .5 -4 .6 -3.9 0 -2-.2 -2-.5 -2-.9 -2-1.3 -2-2.2 -1.5-3 -.5-2 -.2-4 .4-4 .4-2.1 1.4-3.1zM19.4 66.4l2.5-1.2 2.6-.8 3.4-.5 3.9 0 2 .3 2 .5 2 1 2 1.4 1.2 1.3 1.3 2 .9 2.1 .5 2 .3 2 0 4 -.3 2 -.5 2 -.9 2.1 -1.3 2 -1.2 1.3 -2 1.4 -3 1.3 -3 .5 -3.9 0 -3.4-.5 -2.6-.8 -2-.9 -2-1.4 -2-2 -1.7-3 -.7-2 -.3-2 0-4 .7-3.4 1.3-2.7 1.6-2zM71.6 66.6l2-1.2 2-.8 2-.4 2-.3 4 0 3.1 .5 2.9 1 2 1.2 1.9 1.9 1.5 1.9 .5 1.2 1 2.9 .3 2 0 4 -.3 2 -.6 2 -.9 2.1 -1.5 2 -1.9 1.8 -2 1.2 -2 .8 -2 .4 -2 .3 -4 0 -3.1-.5 -2.9-1 -2-1.2 -1.9-1.9 -1.5-1.9 -.5-1.2 -1-2.9 -.3-2 0-4 .3-2 .6-2 .9-2.1 1.5-2zM124.2 66.4l1.2-.7 2-1 2-.5 2-.3 3.9 0 3.4 .5 2.6 .8 2.5 1.2 2.6 2 1.6 2 1 2.1 .7 2 .3 2 .1 2 -.1 2 -.3 2 -.7 2 -1 2.1 -1.6 2 -2.6 2 -2.5 1.2 -2.6 .8 -3.4 .5 -3.9 0 -3-.5 -3-1.3 -2-1.4 -2-2.4 -1.4-3 -.5-2 -.4-4 .4-4 .5-2 1.4-3 .8-1.1zM19.9 116.7l2-.9 4-.9 4-.3 3.9 .3 2 .5 2.8 1.3 1.2 .9 2 2.2 1.5 3 .5 2 .2 4 -.4 4 -.4 2.1 -.8 2 -1.1 2 -1.5 1.8 -2 1.7 -2 1 -2 .6 -2 .3 -3.9 0 -2-.2 -2-.5 -2-.7 -2-1.1 -2-1.5 -2-2.2 -1.7-3.2 -.6-2.1 -.5-4 0-2 .3-2 .6-2 1.1-2 .8-1.1 2-1.8zM73.6 116.1l2-.7 4-.7 4 0 2 .2 2 .5 2 .7 2 1.1 1.9 1.6 1.5 2 1 2 .6 2 .2 2 -.1 4 -.3 2 -.9 2.9 -1.7 3.2 -1.8 2 -2.4 1.7 -2 .9 -2 .5 -2 .3 -4 0 -2-.3 -3.3-1.1 -2.7-1.7 -1.9-2 -1.5-2.3 -.9-2 -.8-4.1 -.1-4 .2-2 1.1-3.1 .5-.9 1.5-2 1.9-1.6zM125.4 116.3l2-.9 2-.5 2-.2 3.9 0 4 .6 2 .5 2 .9 2 1.2 1 .9 1.8 2 1.1 2 .6 2 .3 2 -.1 4 -.7 3.2 -1.2 2.9 -1.4 2 -2.1 2 -1.3 .9 -2 1.1 -2 .7 -4 .7 -3.9 0 -2-.3 -2-.6 -2-1 -2-1.7 -1.5-1.8 -1.1-2 -.8-2 -.4-2.1 -.4-4 .2-4 .5-2 1.5-3 2-2.2z"/>
<path fill="#45ff00" d="M19.7 16.1l2.2-1.3 2-.8 2-.5 2-.3 3.9 0 2 .3 2 .7 2 1.2 2 1.8 1.9 2.9 .9 2 .6 2.1 .4 4 -.2 4 -.6 2 -1 2 -2 2.4 -2.3 1.7 -1.7 .8 -2 .5 -2 .3 -3.9 0 -4-.7 -2.8-.9 -1.2-.6 -2-1.4 -2-2.1 -1.2-2 -.7-2 -.4-2 .2-4 .4-2 .7-2.1 1-2 1.6-2zM73.6 15.1l2-1 2-.6 2-.3 4 0 2 .3 1.8 .6 2.2 1 2 1.5 1.4 1.5 1.3 2 1 2 .6 2.1 .3 2 .2 4 -.3 2 -.7 2 -1 2 -.9 1.1 -1.9 1.8 -2 1.2 -2 .8 -2 .6 -2 .2 -4 0 -2-.2 -2-.6 -2.1-.8 -1.9-1.2 -1-.9 -1.8-2 -1.1-2.3 -.6-1.7 -.3-2 .2-4 .3-2 .6-2.1 1.8-3.2 1.9-2.3zM125.4 15.4l2-1.2 2-.7 2-.3 3.9 0 4 .8 2 .8 2.2 1.3 2.2 2 1.6 2.1 1 1.9 .7 2.1 .4 2 .2 4 -.4 2 -.7 2 -1.2 2 -2 2 -2 1.5 -2 .9 -2 .6 -2 .5 -4 .3 -3.9-.4 -2-.5 -2-1 -2.4-1.9 -1.6-2 -1-2 -.6-2 -.2-2 .1-4 .3-2 .6-2.1 .9-2 1.9-2.9zM21.9 65.8l2-.7 4-.7 3.9-.1 2 .3 2 .7 2.1 1.1 1.9 1.6 1.9 2.4 1 2.1 .6 2 .3 2 0 4 -.3 2 -.6 2 -1 2.1 -1.9 2.4 -2 1.7 -2 1 -2 .7 -2 .3 -3.9-.1 -2-.2 -2-.5 -2-.7 -2-1 -2.1-1.6 -1.9-2.2 -1.1-1.9 -.7-2 -.4-2 0-4 .4-2 .7-2 1.1-1.9 1.9-2.2 2.1-1.6zM75.6 65.2l2-.6 4-.3 4 .3 2 .6 2 .9 2 1.3 1.1 1 1.6 2 1.2 2.7 .8 3.4 0 4 -.3 2 -.7 2 -1.8 3 -1.9 2.1 -2 1.3 -2 .9 -2 .6 -2 .2 -4 0 -2-.2 -2-.6 -2.5-1.2 -2.6-2 -1.6-2 -1.2-2.7 -.8-3.4 0-4 .3-2 .7-2 1-2.1 1.6-2 2.6-2zM127.4 65.3l2-.7 2-.3 1.9 0 4 .3 2 .5 2 .7 2 1 2.1 1.6 1.9 2.2 1.1 1.9 .7 2 .4 2 0 4 -.4 2 -.7 2 -1.2 2.1 -1.8 2 -2.1 1.6 -2 1 -2 .7 -2 .5 -4 .3 -1.9 0 -2-.3 -2-.7 -2.1-1.1 -1.9-1.6 -1.9-2.4 -1-2.1 -.6-2 -.3-2 0-4 .3-2 .6-2 .9-1.9 1.6-2.2 2.3-2zM17.9 118.8l2-1.5 2-.9 2-.6 2-.5 4-.3 3.9 .4 2 .5 2 1 2.4 1.9 1.6 2 1 2 .6 2 .2 2 -.1 4 -.3 2 -.6 2.1 -.9 2 -1.2 2 -1.8 2 -2.9 1.9 -2 .7 -2 .3 -3.9 0 -4-.8 -2-.8 -2.2-1.3 -2.2-2 -1.6-2.1 -1-1.9 -.7-2.1 -.4-2 -.2-4 .4-2 .7-2 1.2-2zM71.6 117.9l2-1.2 2-.8 2-.6 2-.2 4 0 2 .2 2 .6 2 .8 2 1.2 1.9 1.8 .9 1.1 1 2 .7 2 .3 2 -.2 4 -.9 4.1 -1 2 -1.3 2 -1.4 1.5 -2 1.5 -2 1 -2 .6 -2 .3 -4 0 -2-.3 -1.8-.6 -2.2-1 -2-1.5 -1.4-1.5 -1.3-2 -1-2 -.6-2.1 -.3-2 -.2-4 .3-2 .7-2 1-2 .9-1.1zM123.4 118.4l2-1.5 2-1 2-.5 3.9-.4 4 .3 2 .5 2 .6 2 .9 2 1.5 2 2 1.2 2 .7 2 .4 2 -.2 4 -.4 2 -.7 2.1 -1 1.9 -1.6 2.1 -2.2 2 -2.2 1.3 -2 .8 -4 .8 -3.9 0 -2-.3 -2-.7 -2.9-1.9 -1.8-2 -1.2-2 -.9-2 -.6-2.1 -.4-4 .2-4 .6-2 1-2z"/>
<path fill="#5fff00" d="M21.9 15.5l2-.9 4-.9 3.9 0 2 .4 2 .7 2 1.4 2 1.9 1.4 2 .9 2 .6 2.1 .4 2 .1 4 -.3 2 -.6 2 -1.1 2 -1.4 1.7 -2 1.6 -2 1 -2 .7 -2 .3 -3.9 0 -2-.3 -3.4-.9 -2.6-1.3 -2-1.5 -2-2.3 -.6-1 -.8-2 -.3-2 .1-4 .5-2 1.1-2.8 .8-1.3 1.2-1.5 2-1.8zM75.6 14.7l2-.6 2-.4 4 0 2 .4 2 .6 2.3 1.4 2.3 2 1.4 2 1.1 2 .6 2.1 .5 2 .1 4 -.3 2 -.7 2 -1.4 2.2 -1.7 1.8 -2.2 1.6 -2 .8 -2 .6 -2 .3 -4 0 -2-.3 -2-.6 -2-.8 -2-1.4 -1.9-2 -1.4-2.2 -.7-2 -.3-2 0-2 .4-3.2 .8-2.9 1.2-2.1 1.9-2.5 2-1.6zM127.4 14.8l2-.7 2-.4 3.9 0 2.2 .4 1.8 .5 2 .9 2 1.3 1.5 1.3 1.7 2 1.1 2 .8 2.1 .5 2 .1 4 -.3 2 -.8 2 -.6 1 -2 2.3 -2 1.5 -2.6 1.3 -3.4 .9 -2 .3 -3.9 0 -2-.3 -2-.7 -2-1 -2-1.6 -1.4-1.7 -1.1-2 -.6-2 -.3-2 .1-4 .4-2 .6-2.1 .9-2 1.4-1.9 2-2zM17.9 69.2l2-1.7 2-1.1 2-.8 4-.8 3.9 0 2 .3 2 .7 2 1.2 1.7 1.4 1.6 2 1 2.1 .7 2 .3 2 0 4 -.3 2 -.7 2 -1 2.1 -1.3 1.6 -2 1.8 -2 1.2 -2 .7 -2 .3 -1.9 .1 -4-.4 -2-.5 -2-.8 -2-1.1 -1.2-.9 -1.9-2 -1.3-2.1 -.8-2 -.5-2 -.1-2 .1-2 .5-2 1.2-2.8 .9-1.3zM71.6 68.2l2-1.5 2-1 2-.6 4-.4 4 .4 2 .6 2 1 2.2 1.7 1.7 2 1.2 2.1 .8 2.4 .5 3.6 -.5 3.6 -.8 2.4 -1.2 2.1 -1.7 2 -2.2 1.7 -2 1 -2 .6 -4 .4 -4-.4 -2-.6 -2-1 -2.2-1.7 -1.7-2 -1.2-2.1 -.8-2.4 -.5-3.6 .5-3.6 .8-2.4 1.2-2.1zM123.7 68.4l1.7-1.4 2-1.2 2-.7 2-.3 1.9-.1 4 .4 2 .5 2 .8 2 1.1 1.2 .9 1.9 2 1.3 2.1 .8 2 .5 2 .1 2 -.1 2 -.5 2 -.8 2 -1.3 2.1 -1.1 1.2 -2 1.7 -2 1.1 -2 .8 -2 .5 -2 .3 -3.9 0 -2-.3 -2-.7 -2-1.2 -1.7-1.4 -1.6-2 -1-2.1 -.7-2 -.3-2 0-4 .3-2 .7-2 1-2.1zM19.9 118l2.6-1.3 3.4-.9 2-.3 3.9 0 2 .3 2 .7 2 1 2 1.6 1.4 1.7 1.1 2 .6 2 .3 2 -.1 4 -.4 2 -.6 2.1 -.9 2 -1.4 2 -2 1.9 -2 1.4 -2 .7 -2 .4 -3.9 0 -2-.3 -2-.6 -3-1.5 -2.5-2 -1.7-2 -1.1-2 -.8-2.1 -.5-2 -.1-4 .3-2 .8-2 .6-1 2-2.3zM73.6 117.2l2-.8 2-.6 2-.3 4 0 2 .3 2 .6 2 .8 2.2 1.6 1.9 2 1.2 2 .7 2 .3 2 0 2 -.4 3.2 -.8 2.9 -1.2 2.1 -1.9 2.5 -2 1.6 -2 1.2 -2 .6 -2 .4 -4 0 -2-.4 -2-.6 -2.3-1.4 -2.3-2 -1.3-1.9 -1.2-2.1 -.6-2.1 -.5-2 -.1-4 .3-2 .7-2 1.4-2.2 1.7-1.8zM123.8 118.8l1.6-1.3 2-1 2-.7 2-.3 1.9-.1 4 .4 2 .4 2 .8 2 1 2 1.5 1.3 1.3 1.3 2 .8 2 .3 2 .1 2 -.2 2 -.5 2 -.8 2.1 -1.1 2 -1.2 1.5 -2 1.8 -2 1.3 -2 .9 -4 .9 -3.9 0 -2-.4 -2-.7 -2-1.4 -2-2 -1.4-1.9 -.6-1.4 -.9-2.7 -.5-4 0-2 .3-2 .6-2 1.1-2z"/>
<path fill="#7aff00" d="M25.9 14.6l4-.5 1.9 .1 2 .4 2 .8 2 1.4 2 2.2 .8 1.1 .9 2 .7 2.1 .4 2 .2 4 -.3 2 -.8 2 -1.1 2 -1.9 2 -.9 .8 -2 1 -2 .8 -2 .3 -3.9 0 -2-.3 -4-1.3 -2.2-1.3 -2.3-2 -1.4-2 -.9-2 -.4-2 -.1-2 .2-2 .5-2 .6-1.4 1.5-2.7 1.8-2 2.7-1.9 2-1zM79.6 14.2l2-.2 2 .2 2 .4 2 .7 2 1.2 1.8 1.6 1.6 2 1.1 2 .7 2.1 .7 4 -.1 2 -.3 2 -.8 2 -1.3 2 -2 2 -1.4 1 -2 .9 -2 .7 -2 .3 -4 0 -2-.3 -2-.7 -2-.9 -2-1.4 -1.4-1.6 -1.3-2 -.8-2 -.3-2 .1-4 .5-2 .7-2.1 1.1-2 1.6-2 2.5-2 1.3-.8 2-.7zM131.4 14.2l1.9-.1 4 .5 2 .6 2 1 2 1.3 2 2 1.7 2.6 .9 2.1 .5 2 .2 2 -.1 2 -.4 2 -.9 2 -1.4 2 -2.3 2 -2.2 1.3 -4 1.3 -2 .3 -3.9 0 -2-.3 -2-.8 -2-1 -2-1.8 -.8-1 -1.1-2 -.8-2 -.3-2 .2-4 .8-3.3 1.2-2.8 1.5-2 2.3-2 1-.7 2-.8zM19.9 68.2l2-1.2 2-.9 2-.5 2-.3 3.9-.1 2 .4 2 .8 2 1.2 2 1.9 .7 .9 1.1 2.1 .7 2 .4 2 0 4 -.4 2 -.7 2 -1.1 2.1 -1.7 2 -1 .8 -1.9 1.2 -2.1 .8 -2 .4 -3.9-.1 -2-.3 -2-.5 -2-.9 -2-1.2 -2-1.8 -1.8-2.5 -.9-2 -.4-2 -.2-2 .2-2 .4-2 .9-2 1.4-2.1zM73.6 67.3l2-1 2-.7 2-.4 4 0 2 .4 2 .7 2 1 2 1.6 1.3 1.5 1.3 2.1 .7 2 .5 2 .1 2 -.1 2 -.5 2 -.7 2 -.7 1.1 -1.9 2.5 -2 1.6 -2 1 -2 .7 -2 .4 -4 0 -2-.4 -2-.7 -2-1 -2-1.6 -1.3-1.5 -1.3-2.1 -.7-2 -.5-2 -.1-2 .1-2 .5-2 .7-2 .7-1.1 1.9-2.5zM124.4 68.4l1-.8 1.9-1.2 2.1-.8 2-.4 1.9-.1 4 .5 2 .5 2 .9 2.3 1.4 2.1 2 1.4 2.1 .9 2 .4 2 .2 2 -.2 2 -.4 2 -.9 2 -1.4 2.1 -2.1 2 -2.3 1.4 -2 .9 -2 .5 -2 .3 -3.9 .1 -2-.4 -2-.8 -2-1.2 -2-1.9 -.7-.9 -1.1-2.1 -.7-2 -.4-2 -.1-2 .1-2 .4-2 .7-2 1.1-2.1zM19.7 118.8l2.2-1.3 4-1.3 2-.3 3.9 0 2 .3 2 .8 2 1 2 1.8 .8 1 1.1 2 .8 2 .3 2 -.2 4 -.8 3.3 -1.2 2.8 -1.5 2 -1.3 1.3 -2 1.4 -2 .8 -2 .4 -1.9 .1 -2-.1 -4-1 -1.9-.9 -2.1-1.4 -2-2 -1.7-2.6 -.9-2.1 -.5-2 -.2-2 .1-2 .4-2 .9-2 1.4-2zM73.6 117.8l2-.9 2-.7 2-.3 4 0 2 .3 2 .7 2 .9 2 1.4 1.4 1.6 1.3 2 .8 2 .3 2 -.1 4 -.5 2 -.7 2.1 -1.1 2 -1.6 2 -1.8 1.6 -2 1.2 -2 .7 -2 .4 -2 .2 -2-.2 -2-.4 -2-.7 -1.3-.8 -2.5-2 -1.6-2 -1.1-2 -.7-2.1 -.7-4 .1-2 .3-2 .8-2 .8-1.3 1.9-2.3zM125.4 118l2-1 2-.8 2-.3 3.9 0 2 .3 4 1.3 2.2 1.3 2.3 2 1.4 2 .9 2 .4 2 .1 2 -.2 2 -.5 2 -.9 2.1 -1.7 2.6 -2 2 -2 1.3 -2 1 -2 .6 -4 .5 -1.9-.1 -2-.4 -2-.8 -2-1.4 -1.3-1.3 -1.5-2 -.9-2 -.7-2.1 -.4-2 -.2-4 .3-2 .7-1.9 1.2-2.1 .8-1z"/>
<path fill="#94ff00" d="M19.9 18.3l2-1.5 2-1 2-.7 4-.5 1.9 .1 2 .4 2 1 2 1.4 2 2.4 1.2 2.2 .8 2.1 .4 2 .2 4 -.4 2 -.8 2 -1.4 2.3 -2 1.9 -2 1.2 -2 .7 -2 .4 -1.9 .1 -4-.4 -2-.6 -2-.8 -1.3-.8 -2.5-2 -1.6-2 -.9-2 -.4-2 -.1-2 .3-2 .5-2 .9-2.1 1.3-2zM73.6 17.2l2-1.3 2-.8 2-.4 2-.1 2 .1 2 .4 2 .8 2 1.3 2 1.9 .8 1 1.1 2 .8 2.1 .5 2 .2 2 0 2 -.4 2 -.8 2 -1.4 2 -.8 .9 -2 1.6 -2 1 -2 .6 -2 .4 -2 .1 -2-.1 -2-.4 -2-.6 -2.6-1.5 -2.2-2 -1.4-2 -.8-2 -.4-2 0-2 .2-2 .5-2 .8-2 1.1-2.1 1.8-2zM125.4 17.5l2-1.4 2-1 2-.4 1.9-.1 4 .5 2 .7 2 1 2 1.5 1.8 1.8 1.3 2 .9 2.1 .5 2 .3 2 -.1 2 -.4 2 -.9 2 -1.6 2 -1.8 1.6 -2 1.2 -3.6 1.3 -2.4 .4 -3.9 0 -2-.4 -2-.7 -2.2-1.4 -2-2 -1.2-2 -.8-2 -.4-2 0-2 .2-2 .4-1.9 .8-2.2 1.2-2.2zM21.9 67.6l4-1.6 2-.3 3.9 0 2 .4 2 .8 2 1.3 2.1 2.2 1.2 2.1 .8 2 .4 2 0 4 -.4 2 -.8 2 -1.3 2.2 -2 2.1 -2 1.3 -2 .8 -2 .4 -3.9 0 -3.3-.7 -2.7-1.2 -2-1.3 -2-1.9 -1.2-1.7 -.9-2 -.5-2 -.2-2 .2-2 .6-2.3 .8-1.7 1.2-1.7 2-1.9zM73.6 67.9l2-1.1 2-.7 2-.4 4 0 2.9 .7 3.1 1.5 2.7 2.5 1.3 2.1 .8 2 .5 2 .1 2 -.1 2 -.5 2 -.8 2 -1.3 2.1 -2.1 2 -2.6 1.6 -2 .7 -2 .4 -4 0 -2.9-.7 -3.1-1.5 -2.7-2.5 -1.3-2.1 -.8-2 -.5-2 -.1-2 .1-2 .5-2 .9-2.1 1.2-2zM125.4 68.2l2-1.3 2-.8 2-.4 3.9 0 3.3 .7 2.7 1.2 2 1.3 1.7 1.5 1.5 2.1 .9 2 .5 2 .2 2 -.2 2 -.5 2 -.9 2 -1.5 2.1 -1.7 1.5 -2 1.3 -2.7 1.2 -3.3 .7 -3.9 0 -2-.4 -2-.8 -2.3-1.5 -1.8-2 -1.2-2.1 -.8-2 -.4-2 -.1-2 .1-2 .4-2 .8-2 1.3-2.2zM21.9 118l3.6-1.3 2.4-.4 3.9 0 2 .4 2 .7 2.2 1.4 2 2 1.2 2 .8 2 .4 2 -.2 4 -.4 2 -.8 2.1 -1.2 2.2 -2 2.4 -2 1.4 -2 1 -2 .4 -1.9 .1 -4-.5 -2.7-1 -1.3-.7 -1.8-1.3 -2-2 -1.3-2 -.9-2.1 -.5-2 -.3-2 .1-2 .4-2 .9-2 1.6-2 1.8-1.6zM75.6 117.3l2-.6 2-.4 4 0 2 .4 2 .6 2.6 1.5 2.2 2 1.4 2 .8 2 .4 2 0 2 -.2 2 -.5 2 -.8 2.1 -1.1 2 -.8 1 -2 1.9 -2 1.3 -2 .8 -2 .4 -2 .1 -2-.1 -2-.4 -2.3-1 -1.7-1.1 -1-.9 -1.8-2 -1.1-2 -.8-2.1 -.5-2 -.2-2 0-2 .4-2 .8-2 1.4-2 2.2-2zM127.4 117.4l2-.7 2-.4 3.9 0 2.4 .4 3.6 1.3 1.3 .8 2.5 2 1.6 2 .9 2 .4 2 .1 2 -.3 2 -.5 2 -.9 2.1 -1.3 2 -1.8 1.8 -2 1.5 -2 1 -2 .7 -4 .5 -1.9-.1 -2-.4 -2.1-1 -1.9-1.4 -2.2-2.6 -1-2 -.8-2.1 -.4-2 -.2-4 .4-2 .8-2 1.4-2.3 2-1.9z"/>
<path fill="#aeff00" d="M21.9 17.4l2-1.1 2-.7 2-.4 2-.1 1.9 .1 2 .5 2 1 2 1.5 1.6 1.9 1.1 2 .8 2.1 .5 2.1 .1 3.9 -.3 2 -.8 2 -1.4 2 -1.6 1.6 -2 1.3 -2 .8 -2 .4 -3.9 0 -4-1 -2-.8 -2-1.3 -2-2 -.8-1 -.9-2 -.5-2 0-2 .2-2 .6-2 1.4-2.8 2-2.4zM73.6 17.8l2-1.3 2-.8 2-.5 2-.1 2 .1 2 .5 2 .8 2.3 1.6 1.9 2 1.2 2 .8 2.1 .5 2 .2 2 0 2 -.4 2 -.9 2 -1.6 2.3 -2 1.6 -2 1.1 -2 .7 -1.8 .4 -2.2 .1 -2.2-.1 -1.8-.4 -2-.7 -2-1.1 -2.2-1.9 -1.4-2 -.9-2 -.4-2 0-2 .2-2 .5-2 .8-2.1 1.2-2zM127.4 16.7l2-1 2-.5 1.9-.1 2 .1 2 .4 2 .7 2 1.1 2 1.6 1.1 1.1 1.4 2 .9 2.1 .6 2 .2 2 0 2 -.5 2 -.9 2 -1.7 2 -1.1 1 -2 1.3 -4 1.4 -2 .4 -3.9 0 -2-.4 -2-.8 -2-1.3 -1.6-1.6 -1.4-2 -.8-2 -.3-2 .1-4 .5-2 .8-2.1 .7-1.3 2-2.6zM21.9 68.1l2-.9 2.5-.8 3.5-.4 1.9 .1 2 .5 2 .9 2 1.4 1.5 1.5 1.3 2.1 .8 2 .5 2 .1 2 -.1 2 -.5 2 -.8 2 -1.3 2.1 -2 2 -1.5 .9 -2.6 1.1 -1.4 .3 -3.9 0 -2-.4 -4-1.6 -2-1.4 -2-2.2 -1.5-2.8 -.6-2 -.2-2 .2-2 .6-2 1.5-2.8 2-2.2zM77.6 66.6l2-.5 2-.1 2 .1 2 .5 2 .7 2 1.2 2.1 1.9 1.3 2.1 1 2 .4 2 .2 2 -.2 2 -.4 2 -1 2 -1.3 2.1 -2.1 1.9 -2 1.2 -2 .7 -2 .5 -2 .1 -2-.1 -2-.5 -2-.7 -2-1.2 -2.1-1.9 -1.3-2.1 -1-2 -.4-2 -.2-2 .2-2 .4-2 1-2 1.3-2.1 2.1-1.9 2-1.2zM127.4 67.5l2-.9 2-.5 3.9 0 2 .4 2 .7 2.5 1.2 2.5 2 1.6 2.1 .9 2 .6 2 .2 2 -.2 2 -.6 2 -.9 2 -1.6 2.1 -2.5 2 -2.5 1.2 -2 .7 -2 .4 -3.9 0 -2-.5 -2-.9 -2-1.4 -2-2.2 -.8-1.4 -.8-2 -.5-2 -.1-2 .2-2.4 .4-1.6 .8-2 .8-1.4 2-2.2zM25.9 117.1l2-.4 3.9 0 2 .4 2 .8 2 1.3 1.6 1.6 1.4 2 .8 2 .3 2 -.1 3.9 -.5 2.1 -.8 2.1 -1.1 2 -1.6 1.9 -2 1.5 -2 1 -2 .5 -1.9 .1 -2-.1 -2-.4 -2-.7 -3-1.8 -2.1-2 -1.4-2 -.9-2.1 -.6-2 -.2-2 0-2 .5-2 .9-2 1.7-2 2.7-2 2.4-1.1zM79.6 116.7l4 0 2 .4 2 .7 2 1.1 2.2 1.9 1.4 2 .9 2 .4 2 0 2 -.2 2 -.5 2 -.8 2.1 -1.2 2 -2.2 2.3 -2 1.3 -2 .8 -2 .5 -2 .1 -2-.1 -2-.5 -2-.8 -2-1.3 -2.2-2.3 -1.2-2 -.8-2.1 -.5-2 -.2-2 0-2 .4-2 .9-2 1.4-2 2.2-1.9 2-1.1 2-.7zM129.4 117.1l2-.4 3.9 0 4 1 2 .8 3.1 2.3 1.7 2 .9 2 .5 2 0 2 -.2 2 -.6 2 -.9 2.1 -1.4 2 -1.1 1.1 -2 1.6 -2 1.1 -2 .7 -2 .4 -2 .1 -1.9-.1 -2-.5 -2-1 -2-1.5 -1.6-1.9 -1.1-2 -.8-2.1 -.5-2.1 -.1-3.9 .3-2 .8-2 1.4-2 2.2-2 1.4-.9z"/>
<path fill="#c9ff00" d="M25.9 16.2l2-.5 2-.1 1.9 .1 2 .5 2 1.1 2 1.6 1 1.2 1.2 2 .8 2.1 .5 2 .2 2 0 2 -.4 2 -.8 2 -1.5 2 -1 1 -2 1.4 -2 .8 -2 .4 -1.9 .2 -2-.2 -4-.9 -2-1 -2.4-1.7 -1.8-2 -1-2 -.5-2 0-2 .3-2 .6-2 .9-2.1 1.5-2 2.3-2 2.1-1.2zM75.6 17.1l2-.9 2-.5 2-.1 2 .1 2 .5 2 .9 2 1.4 1.5 1.6 1.3 2 .9 2.1 .5 2 .3 2 -.1 2 -.4 2 -.9 2 -1.1 1.6 -2 1.7 -1.1 .7 -2.9 1.2 -2 .4 -2 .2 -2-.2 -2-.4 -2-.7 -2-1.2 -1.5-1.3 -1.6-2 -.9-2 -.4-2 -.1-2 .6-3.2 1.1-2.9 1.3-2 1.5-1.6zM127.4 17.3l2-1.1 2-.5 1.9-.1 2 .1 2 .5 2 .7 2.1 1.2 2.3 2 1.5 2 .9 2.1 .6 2 .3 2 0 2 -.5 2 -1 2 -2.2 2.4 -2 1.3 -2 1 -4 .9 -2 .2 -1.9-.2 -2-.4 -2-.8 -2-1.4 -1-1 -1.5-2 -.8-2 -.4-2 0-2 .2-2 .5-2 1-2.5 2-2.8zM19.9 70.2l2-1.5 2-1 4-1.1 2-.1 1.9 .1 2 .5 2 .9 2 1.5 .9 .9 1.4 2.1 .8 2 .5 2 .1 2 -.1 2 -.5 2 -.8 2 -1.4 2.1 -.9 .9 -2 1.5 -2 .9 -2 .5 -1.9 .1 -2-.1 -4-1.1 -2-1 -2-1.5 -1.9-2.3 -1.1-2 -.5-2 -.2-2 .2-2 .5-2 1.1-2zM72.2 70.4l1.4-1.3 2-1.2 2-.8 2-.5 2-.1 2 .1 2 .5 2 .8 2 1.2 1.4 1.3 1.5 2.1 .9 2 .5 2 .2 2 -.2 2 -.4 1.7 -1 2.3 -.9 1.4 -2 2 -2 1.2 -2 .8 -2 .5 -2 .1 -2-.1 -2-.5 -2-.8 -2-1.2 -1.4-1.3 -1.5-2.1 -.9-2 -.5-2 -.2-2 .2-2 .5-2 .9-2zM124.5 70.4l.9-.9 2-1.5 2-.9 2-.5 1.9-.1 2 .1 2 .4 2 .7 2 1 2.3 1.7 1.6 2.1 1.1 2 .5 2 .2 2 -.2 2 -.5 2 -1.1 2 -1.6 2.1 -2.3 1.7 -2 1 -2 .7 -2 .4 -2 .1 -1.9-.1 -2-.5 -2.7-1.3 -2.2-2 -1.1-1.6 -1.1-2.5 -.5-2 -.1-2 .1-2 .5-2 .8-2zM19.9 120.4l2-1.3 2-1 4-.9 2-.2 1.9 .2 2 .4 2 .8 2 1.4 1 1 1.5 2 .8 2 .4 2 0 2 -.2 2 -.5 2 -.8 2.1 -2.2 3.2 -2 1.6 -2 1.1 -2 .5 -1.9 .1 -2-.1 -1.8-.4 -2.2-.8 -2-1.1 -2-1.7 -1.9-2.4 -.9-2.1 -.6-2 -.3-2 0-2 .5-2 1-2zM74.7 118.8l2.9-1.2 2-.4 2-.2 2 .2 2 .4 2 .7 2 1.2 1.5 1.3 1.6 2 .9 2 .4 2 .1 2 -.6 3.2 -1.1 2.9 -1.3 2 -1.5 1.6 -2 1.4 -2 .9 -2 .5 -2 .1 -2-.1 -2-.5 -2-.9 -2-1.4 -1.5-1.6 -1.3-2 -.9-2.1 -.5-2 -.3-2 .1-2 .4-2 .9-2 1.1-1.6 2-1.7zM125.4 119.8l2-1.4 2-.8 2-.4 1.9-.2 2 .2 4 .9 2 1 2.4 1.7 1.8 2 1 2 .5 2 0 2 -.3 2 -.6 2 -.9 2.1 -1.9 2.4 -2 1.7 -2 1.1 -2.2 .8 -1.8 .4 -2 .1 -1.9-.1 -2-.5 -2-1.1 -2-1.6 -2.2-3.2 -.8-2.1 -.5-2 -.2-2 0-2 .4-2 .8-2 1.5-2z"/>
<path fill="#e3ff00" d="M27.9 16.3l2-.2 1.9 .1 2 .6 2 1.1 2 1.8 1.7 2.4 .8 2.1 .5 2 .2 2 0 2 -.4 2 -.8 2 -1.6 2 -2.4 1.9 -2 .8 -2 .5 -1.9 .1 -4-.5 -2-.6 -2-1.1 -1.6-1.1 -1.9-2 -1.1-2 -.5-2 0-2 .3-2 .6-2 1-2.1 1.2-1.5 2-1.8 2-1.2 2-.8zM81.6 16.1l2 .2 2 .5 2 .9 2 1.6 2.2 2.8 .9 2.1 .6 2 .3 2 0 2 -.5 2 -1 2 -1.7 2 -2.8 2 -2 .7 -2 .5 -2 .1 -2-.1 -2-.5 -2-.7 -2.8-2 -1.7-2 -1-2 -.5-2 0-2 .3-2 .6-2 .9-2.1 2.2-2.8 2-1.6 2-.9 2-.5zM133.3 16.1l2 .2 2 .5 2 .8 2 1.2 1.6 1.3 1.6 2 1 2.1 .6 2 .3 2 0 2 -.5 2 -1.1 2 -1.9 2 -3.6 2.2 -2 .6 -4 .5 -1.9-.1 -2-.5 -2-.8 -2.4-1.9 -1.6-2 -.8-2 -.4-2 0-2 .2-2 .5-2 .8-2.1 1.7-2.4 2-1.8 2-1.1 2-.6zM20.4 70.4l1.5-1 2-1.2 2-.6 2-.4 2-.2 1.9 .1 2 .5 2 .9 2 1.6 1.8 2.4 .8 2 .5 2 .2 2 -.2 2 -.5 2 -.8 2 -1.5 2.1 -2.3 1.9 -2 .9 -2 .5 -1.9 .1 -2-.2 -2-.4 -2-.6 -2-1.2 -1.5-1 -1.7-2.1 -1.2-2 -.5-2 -.2-2 .2-2 .5-2 1.2-2zM75.5 68.4l2.1-.8 2-.5 2-.1 2 .1 2 .5 2 .8 2 1.4 2.3 2.7 1 2 .5 2 .2 2 -.2 2 -.5 2 -1.3 2.6 -2 2.1 -1.9 1.4 -2.1 .8 -2 .5 -2 .1 -2-.1 -2-.5 -2-.8 -2-1.4 -2.3-2.7 -1-2 -.5-2 -.2-2 .2-2 .5-2 1.3-2.6 2-2.1zM125.1 70.4l2.4-2 1.9-.8 2-.5 1.9-.1 2 .2 2 .4 2 .6 2 1.2 1.5 1 1.7 2.1 1.2 2 .5 2 .2 2 -.2 2 -.5 2 -1.2 2 -1.7 2.1 -1.5 1 -2 1.2 -2 .6 -2 .4 -2 .2 -1.9-.1 -2-.5 -2-.9 -2-1.6 -1.8-2.4 -.8-2 -.5-2 -.2-2 .2-2 .5-2 .8-2zM20.3 120.8l3.6-2.2 2-.6 4-.5 1.9 .1 2 .5 2 .8 2 1.5 2 2.4 .8 2 .4 2 0 2 -.2 2 -.5 2 -.8 2.1 -1.7 2.4 -2 1.8 -2 1.1 -2 .6 -1.9 .1 -2-.2 -2-.5 -2-.8 -2-1.2 -1.6-1.3 -1.6-2 -1-2.1 -.6-2 -.3-2 0-2 .5-2 1.1-2zM73.6 120.1l2-1.3 2-.7 2-.5 2-.1 2 .1 2 .5 2 .7 2.8 2 1.7 2 1 2 .5 2 0 2 -.3 2 -.6 2 -.9 2.1 -2.2 2.8 -2 1.6 -2 .9 -2 .5 -2 .2 -2-.2 -2-.5 -2.5-1.3 -2.3-2 -1.4-2 -.9-2.1 -.6-2 -.2-1.5 -.1-2.5 .5-2 1-2 1.7-2zM127.4 118.9l2-.8 2-.5 1.9-.1 4 .5 2 .6 2 1.1 1.6 1.1 1.9 2 1.1 2 .5 2 0 2 -.3 2 -.6 2 -1 2.1 -1.6 2 -1.6 1.3 -2 1.2 -2 .8 -2 .5 -1.6 .2 -2.3-.1 -2-.6 -2-1.1 -2.4-2.2 -1.3-2 -.8-2.1 -.5-2 -.2-2 0-2 .4-2 .8-2 1.6-2z"/>
<path fill="#fdff00" d="M21.9 19.5l2-1.3 2-.8 2-.5 2-.2 1.9 .2 2 .5 2 1.2 1.7 1.5 1.4 2 .9 2.1 .5 2 .2 2 0 2 -.4 2 -1 2 -1.5 2 -1.8 1.3 -2 1 -2 .4 -1.9 .1 -2-.1 -2.9-.7 -3.1-1.5 -2-1.6 -.8-.9 -1.2-2 -.5-2 0-2 .3-2 .6-2 1.6-2.7zM73.6 20l2.5-1.9 1.5-.7 2-.5 2-.2 2 .2 2 .5 2 1 2 1.6 1.6 2.1 1 2.1 .5 2 .3 2 0 2 -.5 2 -1 2 -1.8 2 -2.1 1.4 -2 .9 -2 .4 -2 .1 -2-.1 -2-.4 -2-.9 -2-1.2 -1.9-2.2 -1-2 -.5-2 0-2 .3-2 .5-2 1-2.1zM127.4 18.6l2-1.2 2-.5 1.9-.2 2 .2 2 .5 2 .8 2 1.3 2 2 1.6 2.7 .6 2 .3 2 0 2 -.5 2 -1.2 2 -2 2 -2.8 1.6 -1.1 .4 -2.9 .7 -2 .1 -1.9-.1 -2-.4 -2-1 -2-1.5 -1.3-1.8 -1-2 -.4-2 0-2 .2-2 .5-2 .9-2.1 1.1-1.6zM21.9 70l2-1.2 2-.7 2-.4 2-.2 1.9 .1 2 .5 2 1.1 2 1.7 1.1 1.6 1 2 .5 2 .2 2 -.2 2 -.5 2 -1 2 -1.5 2.1 -1.6 1.2 -2 1.1 -2 .5 -1.9 .1 -2-.2 -3.1-.7 -2.9-1.6 -2-1.8 -1.7-2.7 -.7-2 -.1-2 .1-2 .7-2 1.2-2zM73.6 70.4l2-1.4 2-.9 2-.4 2-.2 2 .2 2 .4 2 .9 2 1.4 1.7 2.1 1 2 .6 2 .1 2 -.1 2 -.6 2 -1 2 -1.7 2.1 -2 1.4 -2 .9 -2 .4 -2 .2 -2-.2 -2-.4 -2-.9 -2-1.4 -1.7-2.1 -1-2 -.6-2 -.1-2 .1-2 .6-2 1-2zM125.8 70.4l1.6-1.2 2-1.1 2-.5 1.9-.1 2 .2 3.1 .7 3.5 2 1.9 2.1 1.2 2 .7 2 .1 2 -.1 2 -.7 2 -1.2 2 -1.9 2.1 -2.6 1.6 -2 .7 -2 .4 -2 .2 -1.9-.1 -2-.5 -2-1.1 -2-1.7 -1.1-1.6 -1-2 -.5-2 -.2-2 .2-2 .5-2 1-2zM23.9 119.2l2-.7 4-.5 1.9 .1 2 .4 2 1 2 1.5 1.3 1.8 1 2 .4 2 0 2 -.2 2 -.5 2 -.9 2.1 -1.1 1.6 -2 1.9 -2 1.2 -2 .5 -1.9 .2 -2-.2 -2-.5 -2-.8 -2-1.3 -2-2 -1.6-2.7 -.6-2 -.3-2 0-2 .5-2 1.2-2 2-2zM77 118.8l2.6-.7 2-.1 2 .1 2.6 .7 1.4 .6 2.1 1.4 1.8 2 1 2 .5 2 0 2 -.3 2 -1.1 3.4 -2 2.8 -2 1.6 -2 1 -2 .5 -2 .2 -2-.2 -2-.5 -1.5-.7 -2.6-2 -1.5-2 -1-2.1 -.5-2 -.3-2 0-2 .5-2 1-2 1.8-2 2.1-1.4zM127.4 119.5l2-1 2-.4 1.9-.1 4 .5 2 .7 2.8 1.6 2 2 1.2 2 .5 2 0 2 -.3 2 -.6 2 -1.1 2.1 -2.5 2.6 -2 1.3 -2 .8 -2 .5 -2 .2 -1.9-.2 -2-.5 -2-1.2 -2-1.9 -2-3.7 -.5-2 -.2-2 0-2 .4-2 1-2 1.5-2z"/>
<path fill="#ffe200" d="M25.6 18.1l2.3-.6 2-.2 1.9 .2 2 .6 2 1.2 .9 .8 1.5 2 1 2.1 .6 2 .3 2 -.1 2 -.4 2 -1.1 2 -.7 .9 -2 1.8 -2 1 -2 .5 -1.9 .1 -2-.1 -2-.4 -2-.8 -2-1.1 -2.1-1.9 -1.1-2 -.7-2 0-2 .3-2 .8-2 1.1-2.1 1.7-1.8 2-1.3zM75.6 19.2l2-1.2 2-.5 2-.2 2 .2 2.1 .6 1.9 1.1 2 1.8 2 3.2 .5 2 .3 2 0 2 -.8 2.7 -.8 1.3 -2 2 -3.2 1.7 -1.1 .3 -2.9 .4 -2-.2 -2-.5 -2-.9 -2-1.4 -1.2-1.4 -1.1-2 -.5-2 0-2 .3-2 .5-2 1.2-2.1 .8-1.1zM127.4 19.3l2-1.2 2-.6 1.9-.2 2 .2 2 .5 2 1 2 1.3 1.7 1.8 1.1 2.1 .8 2 .3 2 0 2 -.7 2 -1.2 2.1 -2 1.8 -2 1.1 -2 .8 -2 .4 -2 .1 -2.8-.3 -1.1-.3 -2.9-1.7 -1.8-2 -1.1-2 -.4-2 -.1-2 .3-2 .6-2 1.4-2.7zM22.3 70.4l1.6-.9 2.8-1.1 3.2-.4 1.9 .2 2 .5 2 1.2 2 1.9 1.6 2.7 .4 1.5 .3 2.5 -.2 2 -.5 2 -1.1 2 -1.7 2.1 -2.8 1.7 -2 .5 -1.9 .2 -2-.2 -2-.5 -2-.8 -2-1.2 -1.8-1.8 -1.2-2 -.7-2 -.3-2 .3-2 .7-2 1-1.7zM77.6 68.7l2-.5 2-.2 2 .2 2 .5 2 1 2 1.6 .9 1.2 1.2 2 .6 2 .2 2 -.2 2 -.6 2 -1.2 2 -.9 1.2 -2 1.6 -2 1 -2 .5 -2 .2 -2-.2 -2-.5 -2-1 -2-1.6 -.9-1.2 -1.2-2 -.6-2 -.2-2 .2-2 .6-2 1.2-2 .9-1.2 2-1.6zM129.4 68.7l2-.5 1.9-.2 2 .2 2 .5 3.6 1.7 2.4 2.4 1 1.7 .7 2 .3 2 -.3 2 -.7 2 -1 1.7 -2.4 2.4 -1.6 .9 -2.8 1.1 -3.2 .4 -1.9-.2 -2-.5 -2-1.2 -.8-.5 -1.7-2.1 -1.1-2 -.5-2 -.2-2 .3-2.5 .4-1.5 1.6-2.7 2-1.9zM25.9 119l2-.4 2-.1 1.9 .1 2 .5 2 1 2 1.8 .7 .9 1.1 2 .4 2 .1 2 -.3 2 -.6 2 -1 2.1 -1.5 2 -.9 .8 -2 1.2 -2 .6 -1.9 .2 -2-.2 -2.3-.6 -1.7-.9 -2-1.3 -1.7-1.8 -1.1-2.1 -.8-2 -.3-2 0-2 .7-2 1.1-2 2.1-1.9 2-1.1zM77.6 119.1l2-.5 2-.2 2 .2 2 .5 2 .9 2 1.4 1.2 1.4 1.1 2 .5 2 0 2 -.3 2 -.5 2.1 -1.2 2 -1.7 2 -1.1 .9 -2 1.2 -2 .5 -2 .2 -2-.2 -2-.5 -2-1.2 -1.1-.9 -1.7-2 -1.2-2.1 -.5-2 -.3-2 0-2 .5-2 1.1-2 1.2-1.4 2-1.4zM129.4 119.1l2-.5 1.9-.1 2 .1 2 .4 2 .8 2 1.1 2.1 1.9 1.1 2 .7 2 0 2 -.3 2 -.8 2 -1.1 2.1 -1.7 1.8 -2 1.3 -1.7 .9 -2.3 .6 -2 .2 -1.9-.2 -2-.6 -2-1.2 -.9-.8 -1.5-2 -1-2.1 -.6-2 -.3-2 .1-2 .4-2 1.1-2 .7-.9 2-1.8z"/>
<path fill="#ffc400" d="M27.9 18.2l2-.2 1.9 .1 2 .7 2 1.3 2 2.5 .8 1.6 .6 2 .3 2 0 2 -.6 2 -1 2 -2.1 2.1 -2 1 -2 .6 -1.9 .1 -2-.1 -2-.5 -2.7-1.2 -2.5-2 -1.3-2 -.6-2 -.1-2 .4-2 .7-2 1.3-2.1 .8-.8 2-1.6 2-.9zM79.6 18.1l2-.1 2 .1 2 .7 2 1.2 2.1 2.1 1.1 2.1 .8 2 .2 2 0 2 -.6 2 -1.2 2 -2.4 2.2 -2 .9 -2 .6 -2 .1 -2-.1 -2-.6 -2-.9 -2.4-2.2 -1.2-2 -.6-2 0-2 .2-2 .8-2 1.1-2.1 2.1-2.1 2-1.2zM129.4 18.8l2-.7 1.9-.1 2 .2 2 .6 2 .9 2 1.6 2 2.7 .8 2.2 .4 2 -.1 2 -.6 2 -1.3 2 -2.5 2 -2.7 1.2 -2 .5 -2 .1 -1.9-.1 -2-.6 -2-1 -2.1-2.1 -1-2 -.6-2 0-2 .3-2 .6-2 1.1-2.1 1.7-2zM21 72.5l2.9-2.3 2-.9 2-.5 2-.2 1.9 .2 2 .6 2 1.1 2 2.2 .9 1.8 .6 2 .2 2 -.2 2 -.6 2 -1.1 2 -1.9 2.1 -1.9 1 -2 .6 -1.9 .2 -2-.2 -2-.5 -2.5-1.1 -2.4-2.1 -1.4-2 -.7-2 -.2-2 .2-2 .7-2zM75.5 70.4l2.1-1 2-.6 2-.2 2 .2 2 .6 2 1 2.2 2.1 1.2 2 .7 2 .2 2 -.2 2 -.7 2 -1.2 2 -2.1 2.1 -2.1 1 -2 .6 -2 .2 -2-.2 -2-.6 -2-1 -2.2-2.1 -1.2-2 -.7-2 -.2-2 .2-2 .7-2 1.2-2zM125.6 72.5l1.9-2.1 1.9-1 2-.6 1.9-.2 2 .2 2 .5 2 .9 2.9 2.3 1.4 2 .7 2 .2 2 -.2 2 -.7 2 -1.4 2 -.9 .9 -2 1.4 -2 .9 -2 .5 -2 .2 -1.9-.2 -2-.6 -2-1.1 -1.8-2 -1.1-2 -.6-2 -.2-2 .2-2 .6-2zM20.7 122.8l1.2-1.1 2-1.3 2-.8 2-.5 2-.1 1.9 .1 2 .6 2 1 2.1 2.1 1 2 .6 2 0 2 -.3 2 -.6 2 -1.1 2.1 -1.7 2 -2 1.3 -2 .7 -1.9 .1 -2-.2 -2-.6 -2.6-1.3 -2.2-2 -1.3-2.1 -.7-2 -.4-2 .1-2 .6-2zM75.4 120.8l2.2-1.1 2-.6 2-.1 2 .1 2 .6 2 .9 2.4 2.2 1.2 2 .6 2 0 2 -.2 2 -.8 2 -1.1 2.1 -2.1 2.1 -2 1.2 -2 .7 -2 .1 -2-.1 -2-.7 -2-1.2 -2-2 -1.2-2.2 -.8-2 -.2-2 0-2 .6-2 1.2-2zM125.4 122.7l2-2 2-1 2-.6 1.9-.1 2 .1 2 .5 2.7 1.2 2.5 2 1.3 2 .6 2 .1 2 -.4 2 -.8 2.2 -2 2.7 -2 1.6 -2 .9 -2 .6 -2 .2 -1.9-.1 -2-.7 -2-1.3 -1.7-2 -1.1-2.1 -.6-2 -.3-2 0-2 .6-2z"/>
<path fill="#ffa500" d="M22.1 22.1l2.6-2 1.2-.6 2-.6 2-.2 1.9 .1 2 .8 2 1.5 .9 1 1.2 2.1 .7 2 .3 2 -.1 2 -.5 2 -1.2 2 -1.3 1.3 -2 1.2 -2 .6 -1.9 .2 -2-.2 -2-.6 -2-.8 -2-1.5 -1.7-2.2 -.7-2 0-2 .3-2 .9-2zM75.6 20.9l2-1.3 2-.7 2-.2 2 .2 2 .7 2 1.3 1.2 1.2 1.3 2.1 .8 2 .3 2 -.1 2 -.6 2 -1.3 2 -1.6 1.5 -2 1 -2 .6 -2 .2 -2-.2 -2-.6 -2-1 -1.6-1.5 -1.3-2 -.6-2 -.1-2 .3-2 .8-2 1.3-2.1zM127.4 21.1l2-1.5 2-.8 1.9-.1 2 .2 2 .6 2 1.1 1.8 1.5 1.4 2.1 .9 2 .3 2 0 2 -.7 2 -1.4 2 -2.3 1.7 -2 .8 -2 .6 -2 .2 -1.9-.2 -2-.6 -2-1.2 -1.3-1.3 -1.2-2 -.5-2 -.1-2 .3-2 .7-2 1.2-2.1zM22 72.5l1.9-1.5 2-1 2-.5 2-.2 1.9 .1 2 .7 2 1.3 1 1.1 1.3 2 .6 2 .2 2 -.2 2 -.6 2 -1.3 2 -1 1.1 -2 1.3 -2 .7 -1.9 .1 -2-.2 -2-.5 -2-1 -1.9-1.5 -1.5-2 -.8-2 -.3-2 .3-2 .8-2zM75.6 71.2l2-1.1 2-.7 2-.2 2 .2 2 .7 2 1.1 1.3 1.3 1.4 2 .7 2 .2 2 -.2 2 -.7 2 -1.4 2 -1.3 1.3 -2 1.1 -2 .7 -2 .2 -2-.2 -2-.7 -2-1.1 -1.3-1.3 -1.4-2 -.7-2 -.2-2 .2-2 .7-2 1.4-2zM126.4 72.5l1-1.1 1.3-1 2.7-1 1.9-.1 2 .2 2 .5 2 1 2 1.5 1.4 2 .8 2 .3 2 -.3 2 -.8 2 -1.5 2 -1.9 1.5 -2 1 -2 .5 -2 .2 -1.9-.1 -2.7-1 -1.3-1 -1-1.1 -1.3-2 -.6-2 -.2-2 .2-2 .6-2zM23.9 121.1l2-.8 2-.6 2-.2 1.9 .2 2 .6 2 1.2 1.3 1.3 1.2 2 .5 2 .1 2 -.3 2 -.7 2 -1.2 2.1 -.9 1 -2 1.5 -2 .8 -1.9 .1 -2-.2 -2-.6 -2-1.1 -1.8-1.5 -1.4-2.1 -.9-2 -.3-2 0-2 .7-2 1.4-2zM76.6 120.8l3-1.1 2-.2 2 .2 2 .6 2 1 1.6 1.5 1.3 2 .6 2 .1 2 -.3 2 -.8 2 -1.3 2.1 -1.2 1.2 -2 1.3 -2 .7 -2 .2 -2-.2 -2-.7 -2-1.3 -1.2-1.2 -1.3-2.1 -.8-2 -.3-2 .1-2 .6-2 .9-1.6 2-1.9zM127.4 121.5l2-1.2 2-.6 1.9-.2 2 .2 2 .6 2 .8 2.3 1.7 1.4 2 .7 2 0 2 -.3 2 -.9 2 -1.4 2.1 -1.8 1.5 -2 1.1 -2 .6 -2 .2 -1.9-.1 -2-.8 -2-1.5 -.9-1 -1.2-2.1 -.7-2 -.3-2 .1-2 .5-2 1.2-2z"/>
<path fill="#ff8700" d="M25.9 20.3l2-.6 2-.3 1.9 .2 2 .8 2 1.7 1.4 2.1 .8 2 .3 2 -.1 2 -.6 2 -1.3 2 -2.5 1.9 -2 .6 -1.9 .2 -2-.2 -2-.6 -2-1 -1.3-.9 -1.6-2 -.7-2 -.1-2 .4-2 .9-2 1.7-2.1zM77.6 20.4l2-.8 2-.2 2 .2 2 .8 2 1.4 1.7 2.4 .8 2 .4 2 0 2 -.7 2 -1.5 2 -.7 .7 -2 1.2 -2 .6 -2 .2 -2-.2 -1.5-.5 -2.5-1.3 -.7-.7 -1.5-2 -.7-2 0-2 .4-2 .8-2 1.4-2.1zM129.4 20.4l2-.8 1.9-.2 2 .3 2 .6 2 1.2 .7 .6 1.7 2.1 .9 2 .4 2 -.1 2 -.7 2 -1.6 2 -1.3 .9 -2.4 1.1 -1.6 .5 -2 .2 -1.9-.2 -2-.6 -2.5-1.9 -1.3-2 -.6-2 -.1-2 .3-2 .8-2 1.3-2.1zM23.9 71.8l2-1.1 2-.6 2-.2 1.9 .2 2 .7 2.2 1.7 1.4 2 .7 2 .2 2 -.2 2 -.7 2 -1.6 2.2 -2 1.5 -2 .7 -1.9 .2 -2-.2 -2-.6 -2-1.1 -2-1.9 -.6-.8 -.9-2 -.2-2 .2-2 .9-2 1.7-2zM77.6 70.8l2-.7 2-.2 2 .2 2 .7 2 1.3 1.9 2.4 .8 2 .3 2 -.3 2 -.8 2 -1.5 2 -2.4 1.7 -2 .7 -2 .2 -2-.2 -2-.7 -2-1.3 -1.9-2.4 -.8-2 -.3-2 .3-2 .8-2 1.5-2zM129.4 70.8l2-.7 1.9-.2 3.2 .5 .8 .3 2 1.1 .9 .7 1.7 2 .9 2 .2 2 -.2 2 -.9 2 -1.7 2 -.9 .7 -2 1.1 -2 .6 -2 .2 -1.9-.2 -2-.7 -2-1.5 -1.6-2.2 -.7-2 -.2-2 .2-2 .7-2 1.4-2zM23.9 121.9l2.4-1.1 1.6-.5 2-.2 1.9 .2 2 .6 2.5 1.9 1.3 2 .6 2 .1 2 -.3 2 -.8 2 -1.3 2.1 -2.1 1.7 -2 .8 -1.9 .2 -2-.3 -2-.6 -2-1.2 -.7-.6 -1.7-2.1 -.9-2 -.4-2 .1-2 .7-2 1.6-2zM77.6 120.9l2-.6 2-.2 2 .2 1.5 .5 2.5 1.3 .7 .7 1.5 2 .7 2 0 2 -.4 2 -.8 2 -1.4 2.1 -2.3 1.7 -2 .8 -2 .2 -2-.2 -2-.8 -2-1.4 -1.7-2.4 -.8-2 -.4-2 0-2 .7-2 1.5-2 .7-.7zM129.4 120.9l2-.6 1.9-.2 2 .2 2 .6 2 1 1.3 .9 1.6 2 .7 2 .1 2 -.4 2 -.9 2 -1.7 2.1 -2.7 1.8 -2 .6 -2 .3 -1.9-.2 -2-.8 -2-1.7 -1.4-2.1 -.8-2 -.3-2 .1-2 .6-2 1.3-2z"/>
<path fill="#ff6800" d="M29.9 20.1l1.9 .2 2 .9 1.1 .9 1.6 2.1 .8 2 .4 2 -.1 2 -.6 2 -1.2 1.6 -2 1.6 -2 .7 -1.9 .2 -2-.3 -2-.5 -2.2-1.3 -1.9-2 -.8-2 -.1-2 .5-2 1-2 1.5-1.7 2-1.4 2-.7zM81.6 20.1l2 .3 2 .8 1.2 .9 1.7 2.1 .9 2 .4 2 0 2 -.8 2 -1.4 1.9 -2 1.3 -2 .7 -2 .2 -2-.2 -2-.7 -2-1.3 -1.4-1.9 -.8-2 0-2 .4-2 .9-2 1.7-2.1 1.2-.9 2-.8zM133.3 20.1l2 .3 2 .7 2 1.4 1.5 1.7 1 2 .5 2 -.1 2 -.8 2 -1.9 2 -2.2 1.3 -2 .5 -2 .3 -1.9-.2 -2-.7 -2-1.6 -1.2-1.6 -.6-2 -.1-2 .4-2 .8-2 1.6-2.1 1.1-.9 2-.9zM22.2 74.5l1.9-2 1.8-1.1 2-.6 2-.3 1.9 .2 2 .8 2 1.7 .9 1.3 .8 2 .2 2 -.2 2 -.8 2 -1.6 2 -1.3 1 -2 .8 -1.9 .2 -2-.3 -2-.6 -2-1.2 -1.7-1.9 -1-2 -.3-2 .3-2zM75.6 73l2-1.5 2-.7 2-.3 2 .3 2 .7 2 1.5 1.2 1.5 .8 1.8 .3 2.2 -.3 2.2 -.8 1.8 -1.2 1.5 -2 1.5 -2 .7 -2 .3 -2-.3 -2-.7 -2-1.5 -1.2-1.5 -.8-1.8 -.3-2.2 .3-2.2 .8-1.8zM126.5 74.5l1.6-2 1.3-1 2-.8 1.9-.2 2 .3 2 .6 2 1.2 1.7 1.9 1 2 .3 2 -.3 2 -1 2 -1.7 1.9 -2 1.2 -2 .6 -2 .3 -1.9-.2 -2-.8 -1.3-1 -1.6-2 -.8-2 -.2-2 .2-2zM29.9 120.7l1.9 .2 2 .7 2 1.6 1.2 1.6 .6 2 .1 2 -.4 2 -.8 2 -1.6 2.1 -1.1 .9 -2 .9 -1.9 .2 -2-.3 -2-.7 -2-1.4 -1.5-1.7 -1-2 -.5-2 .1-2 .8-2 1.9-2 2.2-1.3 2-.5zM81.6 120.7l2 .2 2 .7 2 1.3 1.4 1.9 .8 2 0 2 -.4 2 -.9 2 -1.7 2.1 -1.2 .9 -2 .8 -2 .3 -2-.3 -2-.8 -1.2-.9 -1.7-2.1 -.9-2 -.4-2 0-2 .8-2 1.4-1.9 2-1.3 2-.7zM133.3 120.7l2 .3 2 .5 2.2 1.3 1.9 2 .8 2 .1 2 -.5 2 -1 2 -1.5 1.7 -2 1.4 -2 .7 -2 .3 -1.9-.2 -2-.9 -1.1-.9 -1.6-2.1 -.8-2 -.4-2 .1-2 .6-2 1.2-1.6 2-1.6 2-.7z"/>
<path fill="#ff4a00" d="M25.9 21.9l2-.7 2-.3 1.9 .2 2 .9 2 2.2 .9 2 .3 2 0 2 -.7 2 -1.8 2 -.7 .5 -2 .8 -1.9 .2 -2-.3 -2-.6 -1.1-.6 -2.1-2 -.9-2 -.1-2 .5-2 1.1-2zM77.6 22l2-.9 2-.2 2 .2 2 .9 2.1 2.2 1 2 .4 2 0 2 -.8 2 -1.9 2 -.8 .5 -2 .7 -2 .3 -2-.3 -2-.7 -.8-.5 -1.9-2 -.8-2 0-2 .4-2 1.1-2.3zM129.2 22.1l2.2-1 1.9-.2 2 .3 2 .7 2 1.6 .6 .7 1.1 2 .5 2 -.2 2.3 -.8 1.7 -1.2 1.3 -2 1.3 -2 .6 -2 .3 -1.9-.2 -2-.8 -2-1.8 -.5-.7 -.7-2 0-2 .3-2 .9-2zM23.9 73.6l2-1.4 2-.7 2-.3 1.9 .2 2.3 1.1 1.9 2 .8 2 .3 2 -.3 2 -1 2.3 -2 2 -2 .8 -1.9 .2 -2-.3 -2.5-1 -2.3-2 -1.1-2 -.4-2 .4-2 1.1-2zM77.3 72.5l2.3-1 2-.3 2 .3 2.3 1 2.1 2 .9 2 .3 2 -.3 2 -.9 2 -2.1 2 -2.3 1 -2 .3 -2-.3 -2.3-1 -2.1-2 -.9-2 -.3-2 .3-2 .9-2zM127.4 74.2l2-2 2-.8 1.9-.2 2 .3 2.5 1 2.3 2 1.1 2 .4 2 -.3 1.6 -1.2 2.4 -2.3 2 -2.5 1 -2 .3 -1.9-.2 -2-.8 -2.2-2.3 -.8-2 -.3-2 .3-2zM23.9 123.5l2-1.3 2-.6 2-.3 1.9 .2 2 .8 2 1.8 .5 .7 .7 2 0 2 -.3 2 -.9 2 -1.8 2.1 -2.2 1 -1.9 .2 -2-.3 -2-.7 -2-1.6 -.6-.7 -1.1-2 -.5-2 .2-2.3 .8-1.7zM76.8 122.8l.8-.5 2-.7 2-.3 2 .3 2 .7 .8 .5 1.9 2 .8 2 0 2 -.4 2 -1.1 2.3 -2 1.9 -2 .9 -2 .2 -2-.2 -2-.9 -2.1-2.2 -1-2 -.4-2 0-2 .8-2zM127.4 124.1l2-1.8 2-.8 1.9-.2 2 .3 2 .6 1.1 .6 2.1 2 .9 2 .1 2 -.5 2 -1.1 2 -2.3 2.1 -2.3 .9 -2 .3 -1.9-.2 -2-.9 -2-2.2 -.9-2 -.3-2 0-2 .7-2z"/>
<path fill="#ff2b00" d="M25.9 22.9l2-1 2-.3 1.9 .2 2 1.2 1.1 1.2 1.1 2 .4 2 -.1 2 -.8 2 -1.7 1.8 -2 .8 -1.9 .2 -2-.2 -2-.7 -2.3-1.9 -1-2 -.1-2 .6-2 .8-1.5zM79.6 21.9l2-.3 2 .3 2 1.1 1.2 1.2 1.2 2 .4 2 -.1 2 -.8 2 -2.3 2 -1.6 .6 -2 .2 -2-.2 -2-.8 -2-1.9 -.7-1.9 -.1-2 .4-2 1.2-2 1.2-1.2zM131.4 21.8l1.9-.2 2.6 .5 1.4 .8 1.5 1.3 1.3 2 .6 2 -.1 2 -1 2 -2.3 1.9 -2 .7 -2 .2 -1.9-.2 -2-.8 -1.7-1.8 -.8-2 -.1-2 .4-2 1.1-2 1.1-1.2zM25.9 73l2-.8 2-.3 1.9 .2 2 1 1.3 1.4 1.1 2 .2 2 -.2 2 -1.1 2 -1.3 1.4 -2 1 -1.9 .2 -2-.3 -2-.8 -2-1.6 -1.1-1.9 -.3-2 .3-2 1.2-2zM79.6 72.1l2-.2 2 .2 2 1 1.5 1.4 1.1 2 .3 2 -.3 2 -1.1 2 -1.5 1.4 -2 1 -2 .2 -2-.2 -2-1 -1.5-1.4 -1.1-2 -.3-2 .3-2 1.1-2 1.5-1.4zM129.4 73.1l2-1 1.9-.2 2 .3 2 .8 1.9 1.5 1.2 2 .3 2 -.3 2 -1.2 2 -1.9 1.5 -2 .8 -2 .3 -1.9-.2 -2-1 -1.3-1.4 -1.1-2 -.2-2 .2-2 1.1-2zM25.9 122.9l2-.7 2-.2 1.9 .2 2 .8 1.7 1.8 .8 2 .1 2 -.4 2 -1.1 2 -1.1 1.2 -2 1.2 -1.9 .2 -2.6-.5 -1.4-.8 -1.5-1.3 -1.3-2 -.6-2 .1-2 1-2zM78 122.8l1.6-.6 2-.2 2 .2 2 .8 2 1.9 .7 1.9 .1 2 -.4 2 -1.2 2 -1.2 1.2 -2 1.1 -2 .3 -2-.3 -2-1.1 -1.2-1.2 -1.2-2 -.4-2 .1-2 .8-2zM129.4 123l2-.8 1.9-.2 2 .2 2 .7 2.3 1.9 1 2 .1 2 -.6 2 -1.3 2 -1.5 1.3 -1.4 .8 -2.6 .5 -1.9-.2 -2-1.2 -1.1-1.2 -.9-1.5 -.6-2.5 .1-2 .8-2z"/>
<path fill="#ff0d00" d="M25.6 24.2l2.3-1.3 2-.4 1.9 .3 2 1.2 1.3 2.2 .6 2 -.1 2 -1 2 -.8 .8 -2 1.2 -1.9 .2 -2-.3 -2-1 -1.2-.9 -1.2-2 -.1-2 .6-2zM77.5 24.2l2.1-1.3 2-.5 2 .5 2 1.1 1.5 2.2 .6 2 -.1 2 -1.1 2 -.9 .8 -2 1.1 -2 .3 -2-.3 -2-1.1 -.9-.8 -1.1-1.9 -.1-2.1 .6-2zM129.2 24.2l2.2-1.4 1.9-.3 2 .4 2.3 1.3 1.6 2 .6 2 -.1 2 -1.2 2 -1.2 .9 -2 1 -2 .3 -1.9-.2 -2-1.2 -.8-.8 -1-2 -.1-2 .6-2zM23.9 76.2l1.3-1.7 2.7-1.5 2-.4 1.9 .3 2 1.2 1.6 2.4 .4 2 -.4 2 -1.6 2.4 -2 1.2 -1.9 .3 -2-.4 -2.7-1.5 -1.5-2 -.3-2zM77.2 74.5l2.4-1.5 2-.4 2 .4 2 1.1 1.8 2.4 .3 2 -.3 2 -1.4 2 -2.4 1.5 -2 .4 -2-.4 -2-1.1 -1.8-2.4 -.3-2 .3-2zM127.8 76.5l1.6-2.4 2-1.2 1.9-.3 2 .4 2.7 1.5 1.3 1.7 .5 2.3 -.3 2 -1.5 2 -2.7 1.5 -2 .4 -1.9-.3 -2-1.2 -1.6-2.4 -.4-2zM27.9 122.9l2-.3 1.9 .2 2 1.2 .8 .8 1 2 .1 2 -.6 2 -1.3 2.2 -2 1.2 -1.9 .3 -2-.4 -2.3-1.3 -1.7-2.2 -.5-1.8 .1-2 .4-.8 .8-1.2 1.2-.9zM79.6 122.9l2-.3 2 .3 2 1.1 .9 .8 1.1 2 .1 2 -.6 2 -1.5 2.2 -2 1.1 -2 .5 -2-.5 -2-1.1 -1.5-2.2 -.6-2 .1-2.1 1.1-1.9 .9-.8zM131.4 122.8l1.9-.2 2 .3 2 1 1.2 .9 1.2 2 .1 2 -.6 2 -1.6 2 -2.3 1.3 -2 .4 -1.9-.3 -2-1.2 -1.3-2.2 -.6-2 .1-2 1-2 .8-.8z"/>
<path fill="#f00" d="M25.9 25.4l2-1.4 2-.5 1.9 .4 .5 .3 1.5 1.4 1 2.6 -.1 2 -.9 1.6 -.3 .4 -1.7 1 -1.9 .3 -2-.4 -1.8-.9 -1.5-2 -.1-2 .8-2zM77.6 25.6l2-1.7 2-.4 2 .4 2 1.7 .4 .6 .7 2 -.2 2 -.9 1.7 -2 1.2 -2 .4 -2-.4 -1.7-.9 -1.2-2 -.2-2 .7-2zM129.4 25.6l2-1.7 1.9-.4 2 .5 2 1.4 .6 .8 .8 2 -.1 2 -1.5 2 -1.8 .9 -2 .4 -1.9-.3 -1.7-1 -1.2-2 -.1-2zM25.9 75.3l1-.8 1-.5 2-.4 1.9 .3 1 .6 1 1 .6 1 .4 2 -.4 2 -.6 1 -1 1 -1 .6 -1.9 .3 -2-.4 -1-.5 -1-.8 -1-1.2 -.5-2 .5-2zM78.7 74.5l.9-.5 2-.4 2 .4 .9 .5 1.1 .9 .7 1.1 .4 2 -.4 2 -.7 1.1 -1.1 .9 -.9 .5 -2 .4 -2-.4 -.9-.5 -1.1-.9 -.7-1.1 -.4-2 .4-2 .7-1.1zM129.4 75.5l1-1 1-.6 1.9-.3 2 .4 1 .5 1 .8 1 1.2 .5 2 -.5 2 -1 1.2 -1 .8 -1 .5 -2 .4 -1.9-.3 -1-.6 -1-1 -.6-1 -.4-2 .4-2zM24.6 126.8l1.5-2 1.8-.9 2-.4 1.9 .3 1.7 1 1.2 2 .1 2 -.6 2 -.4 .6 -2 1.7 -1.9 .4 -2-.5 -2-1.4 -.6-.8 -.8-2zM77.6 125.1l2-1.2 2-.4 2 .4 1.7 .9 1.2 2 .2 2 -.7 2 -.4 .6 -2 1.7 -2 .4 -2-.4 -2-1.7 -.4-.6 -.7-2 .2-2zM129.4 125.2l.3-.4 1.7-1 1.9-.3 2 .4 1.8 .9 1.5 2 .1 2 -.8 2 -.6 .8 -2 1.4 -2 .5 -1.9-.4 -.5-.3 -1.5-1.4 -1-2.6 .1-2z"/>
<path fill="#f00" d="M25.8 28.2l1.1-2 1-.8 2-.6 1.9 .5 1 .9 1 2 -.2 2 -1.8 2 -1.9 .3 -2-.5 -2-1.8zM77.6 28.2l1.1-2 .9-.8 2-.6 2 .6 .9 .8 1.1 2 -.2 2 -1.8 1.9 -2 .4 -2-.4 -1.8-1.9zM129.4 28.2l1-2 1-.9 1.9-.5 2 .6 1 .8 1.1 2 -.1 2 -2 1.8 -2 .5 -1.9-.3 -1.8-2zM26.4 76.5l1.5-1.2 2-.6 1.9 .4 1.4 1.4 .6 1.9 -.6 2.1 -1.4 1.4 -1.9 .4 -2-.6 -1.5-1.2 -.7-2zM78.3 76.5l1.3-1.3 2-.5 2 .5 1.3 1.3 .7 1.8 0 .4 -.7 1.8 -1.3 1.3 -2 .5 -2-.5 -1.3-1.3 -.7-1.8 0-.4zM130 76.5l1.4-1.4 1.9-.4 2 .6 1.5 1.2 .7 2 -.7 2 -1.5 1.2 -2 .6 -1.9-.4 -1.4-1.4 -.6-1.9zM27.9 125l2-.5 1.9 .3 1.8 2 .2 2 -1 2 -1 .9 -1.9 .5 -2-.6 -1-.8 -1-1.7 0-2.3zM79.6 124.9l2-.4 2 .4 1.8 1.9 .2 2 -1.1 2 -.9 .8 -2 .6 -2-.6 -.9-.8 -1.1-2 .2-2zM131.4 124.8l1.9-.3 2 .5 2 1.8 0 2.3 -1 1.7 -1 .8 -2 .6 -1.9-.5 -1-.9 -1-2 .2-2z"/>
<path fill="#f00" d="M27.6 28.2l.3-.5 2-1.3 1.9 1 .4 .8 -.1 2 -.3 .2 -1.9 .7 -2-.9zM79.3 28.2l.3-.6 2-1.2 2 1.2 .3 .6 -.2 2 -2.1 .9 -2-.8zM131.4 27.4l1.9-1 2 1.3 .3 .5 -.2 2 -2.1 .9 -1.9-.7 -.3-.2 -.1-2zM29 76.5l.9-.3 1.1 .3 .8 .6 .6 1.4 -.6 1.4 -.8 .6 -1.1 .3 -.9-.3 -1.1-1 -.4-1 .4-1zM80.6 76.5l1-.3 1 .3 1 .9 .4 1.1 -.4 1.1 -1 .9 -1 .3 -1-.3 -1-.9 -.4-1.1 .4-1.1zM132.2 76.5l1.1-.3 .9 .3 1.1 1 .4 1 -.4 1 -1.1 1 -.9 .3 -1.1-.3 -.8-.6 -.6-1.4 .6-1.4zM27.8 126.8l2.1-.9 1.9 .7 .3 .2 .1 2 -.4 .8 -1.9 1 -2-1.3 -.3-.5zM79.5 126.8l2.1-.9 2 .8 .3 2.1 -.3 .6 -2 1.2 -2-1.2 -.3-.6zM131.1 126.8l.3-.2 1.9-.7 2 .9 .3 2 -.3 .5 -2 1.3 -1.9-1 -.4-.8z"/>
</svg>
<path d="M232.0 184.0V27.0H395.2" fill="none" stroke="#0c0c50" stroke-width="1"/>
<path d="M395.2 27.0V184.0" fill="none" stroke="#3c3c46" stroke-width="0.9"/>
<rect x="397.3" y="26.8" width="12.7" height="3.4" fill="#858585"/>
<rect x="397.3" y="30.0" width="12.7" height="154.0" fill="url(#cb)"/>
<path d="M397.3 26.8V184.0M410.0 26.8V184.0" stroke="#5a5a5a" stroke-width="0.7" fill="none"/>
<text transform="translate(411.6 31.7) scale(1.045 1)" font-size="13.8">-110.0</text>
<text transform="translate(411.6 109.5) scale(1.045 1)" font-size="13.8">-50.0</text>
<text transform="translate(411.6 179.7) scale(1.045 1)" font-size="13.8">-0.0</text>
<text transform="translate(388.6 17.1) scale(1.045 1)" font-size="13.6">10<tspan dy="-4.3" font-size="9.4">3</tspan></text>
<text id="cap1" transform="translate(332.9 206.8) scale(1.045 1)" font-size="16.1" text-anchor="middle">UTP (500-1103 Hz)</text>
<svg x="462.0" y="27.0" width="163.0" height="157.0" viewBox="0 0 163.0 157.0" overflow="hidden">
<rect width="163.0" height="157.0" fill="#00f"/>
<path fill="#00f" d="M.9 2l1.1-1.1 2-.4 5.9-.3 143.2 0 3.9 .1 4 .6 1.1 1.1 .4 2 .3 6.1 0 136.8 -.1 4.1 -.6 4 -1.1 1.1 -2 .4 -5.9 .3 -143.2 0 -3.9-.1 -4-.6 -1.1-1.1 -.4-2 -.3-6.1 0-136.8 .1-4.1zM39.8 30.9l-2 .9 -4.6 4.4 -1.4 2 2 .5 2-.4 2-1.7 2-2.4 .4-2zM63.4 32.2l.2 .3 2 .6 2-.2 .6-.7 -.6-1.7 -.4-.3 -1.6-.3 -.9 .3 -1.1 1.4zM99.6 32.2l-.2-.6 -1.1-1.4 -.9-.3 -1.6 .3 -.4 .3 -.6 1.7 .6 .7 2 .2 2-.6zM123.2 30.9l-.4 1.3 .4 2 2 2.4 2 1.7 2 .4 2-.5 -1.4-2 -4.6-4.4zM31.8 61.7l-.5 .7 0 2 .5 .8 2 .2 .6-1 0-2 -.6-.8zM63.4 124.8l.2 .6 1.1 1.4 .9 .3 1.6-.3 .4-.3 .6-1.7 -.6-.7 -2-.2 -2 .6zM94.8 124.8l.6 1.7 .4 .3 1.6 .3 .9-.3 1.1-1.4 .2-.6 -.2-.3 -2-.6 -2 .2zM131.2 118.8l-2-.5 -2 .4 -2 1.7 -2 2.4 -.4 2 .4 1.3 2-.9 4.6-4.4zM129.2 61.6l-.6 .8 0 2 .6 1 2-.2 .5-.8 0-2 -.5-.7zM31.8 91.8l-.5 .8 0 2 .5 .7 2 .1 .6-.8 0-2 -.6-1zM129.2 91.6l-.6 1 0 2 .6 .8 2-.1 .5-.7 0-2 -.5-.8zM31.8 118.8l1.4 2 4.6 4.4 2 .9 .4-1.3 -.4-2 -2-2.4 -2-1.7 -2-.4z"/>
<path fill="#00f" d="M2 2.2l2-.9 4-.5 15.9-.2 129.2 .1 3.9 .2 2 .4 1.8 .7 .9 2 .4 2 .2 4.1 .1 12 -.1 124.8 -.2 4.1 -.4 2 -.7 1.8 -2 .9 -4 .5 -15.9 .2 -129.2-.1 -3.9-.2 -2-.4 -1.8-.7 -.9-2 -.4-2 -.2-4.1 -.1-12 .1-124.8 .2-4.1 .4-2zM40.5 30.2l-.7-.6 -.5 .6 -1.5 1.1 -5.2 4.9 -.8 1.2 -1 .8 1 1.1 2-.1 2-.6 2-1.5 2.3-2.9 .6-2zM63.7 30.2l-.7 2 .6 .8 2 1 2-.5 1.2-1.3 -.7-2 -.5-.3 -2-.4zM94.2 32.2l1.2 1.3 2 .5 2-1 .6-.8 -.7-2 -1.9-.7 -2 .4 -.5 .3zM122.5 30.2l-.2 2 .6 2 2.3 2.9 2 1.5 2 .6 2 .1 1-1.1 -1-.8 -.8-1.2 -5.2-4.9 -1.5-1.1 -.5-.6zM31.8 61l-.9 1.4 0 2 .9 1.6 2 .4 1.3-2 -.1-2 -1.2-1.7zM63 124.8l.7 2 1.9 .7 2-.4 .5-.3 .7-2 -1.2-1.3 -2-.5 -2 1zM94.2 124.8l.7 2 .5 .3 2 .4 1.9-.7 .7-2 -.6-.8 -2-1 -2 .5zM131.2 117.7l-2 .1 -2 .6 -2.8 2.4 -1.5 2 -.6 2 .2 2 .7 .6 .5-.6 1.5-1.1 5.2-4.9 .8-1.2 1-.8zM131.2 61l-2-.3 -1.2 1.7 -.1 2 1.3 2 2-.4 .9-1.6 0-2zM33.8 90.6l-2 .4 -.9 1.6 0 2 .9 1.4 2 .3 1.2-1.7 .1-2zM129.2 90.6l-1.3 2 .1 2 1.2 1.7 2-.3 .9-1.4 0-2 -.9-1.6zM30.8 118.8l1 .8 .8 1.2 5.2 4.9 1.5 1.1 .5 .6 .7-.6 .2-2 -.6-2 -2.3-2.9 -2-1.5 -2-.6 -2-.1z"/>
<path fill="#000cff" d="M2.1 4l2.1-2 1.8-.5 3.9-.3 111.4 0 19.8-.1 13.9 .2 2 .2 2 .7 2 2 .5 1.8 .3 4.1 0 106.6 .1 20.2 -.2 12 -.2 2.1 -.6 2 -2.1 2 -1.8 .5 -3.9 .3 -111.4 0 -19.8 .1 -13.9-.2 -2-.2 -2-.7 -2-2 -.5-1.8 -.3-4.1 0-106.6 -.1-20.2 .2-12 .2-2.1zM41.7 28.4l-1.9 .3 -1.3 1.5 -.7 .5 -4 4 -4 3.5 -.4 2.1 2.4 0 4-1.4 2-1.4 1.2-1.3 1.5-2 1.3-4zM62.5 32.2l1.1 1.3 2 .9 2-.2 1.8-2 -.7-2 -1.1-.7 -2-.4 -2 .7 -.5 .4zM93.6 32.2l1.8 2 2 .2 2-.9 1.1-1.3 -.6-2 -.5-.4 -2-.7 -2 .4 -1.1 .7zM121.3 28.4l-.1 1.8 1.3 4 1.5 2 1.2 1.3 2 1.4 4 1.4 2.4 0 -.4-2.1 -4-3.5 -4-4 -.7-.5 -1.3-1.5zM29.4 116.7l.4 2.1 4 3.5 4 4 .7 .5 1.3 1.5 1.9 .3 .1-1.8 -1.3-4 -1.5-2 -1.2-1.3 -2-1.4 -4-1.4zM31.8 60.3l-1.4 2.1 0 2 1.4 2.2 2 .2 .6-.4 1.4-2 -.2-2 -1.8-2.2zM62.5 124.8l.6 2 .5 .4 2 .7 2-.4 1.1-.7 .7-2 -1.8-2 -2-.2 -2 .9zM100.5 124.8l-1.1-1.3 -2-.9 -2 .2 -1.8 2 .7 2 1.1 .7 2 .4 2-.7 .5-.4zM129.2 60.2l-1.8 2.2 -.2 2 1.4 2 .6 .4 2-.2 1.4-2.2 0-2 -1.4-2.1zM31.8 90.4l-1.4 2.2 0 2 1.4 2.1 2 .1 1.8-2.2 .2-2 -1.4-2 -.6-.4zM129.2 90.2l-.6 .4 -1.4 2 .2 2 1.8 2.2 2-.1 1.4-2.1 0-2 -1.4-2.2zM133.6 116.7l-2.4 0 -4 1.4 -2 1.4 -1.2 1.3 -1.5 2 -1.3 4 .1 1.8 1.9-.3 1.3-1.5 .7-.5 4-4 4-3.5z"/>
<path fill="#0029ff" d="M3.4 4l.6-.6 2-1.2 2-.4 15.9-.3 17.8 .2 79.6 0 15.9-.2 15.9 .2 3.2 .3 .7 .2 2 1.2 .6 .6 1.2 2 .4 2.1 .2 14 -.2 18.2 0 76.4 .3 16.1 -.2 14.1 -.1 2 -.4 2.1 -1.2 2 -.6 .6 -2 1.2 -2 .4 -15.9 .3 -17.8-.2 -79.6 0 -15.9 .2 -15.9-.2 -3.2-.3 -.7-.2 -2-1.2 -.6-.6 -1.2-2 -.4-2.1 -.2-14 .2-18.2 0-76.4 -.3-16.1 .2-14.1 .1-2 .4-2.1zM41.7 25.9l-1.9 1.7 -.3 .6 -3.6 4 -4.1 3.8 -2 1.6 -1.1 .6 -.9 1.3 -.9 .8 .9 .5 2 .1 2-.2 2-.6 2-.8 2-1.4 2-2 1-1.7 .9-2 .5-2 .3-2 -.5-2zM61.6 69.8l-.3 .6 0 2.1 .3 1.2 .6-3.3zM62.1 32.2l1.5 1.9 2 .6 2-.2 .7-.3 1.6-2 -.6-2 -1.7-1.2 -2-.2 -2 .5 -1 .9zM72.4 60.4l-.8-.4 -.7 .4 .7 .5zM75.5 58.4l2 .3 4 .1 4-.1 2-.3 -6-.4zM90.6 60.4l.8 .5 .7-.5 -.7-.4zM93.7 30.2l-.6 2 1.6 2 .7 .3 2 .2 1.7-.5 1.8-2 -.5-2 -1-.9 -2-.5 -2 .2zM101.4 69.8l-.6 .6 .6 3.3 .3-1.2 0-2.1zM121.3 25.9l-.3 .3 -.5 2 .3 2 .5 2 .9 2 1 1.7 2 2 2 1.4 2 .8 2 .6 2 .2 2-.1 .9-.5 -.9-.8 -.9-1.3 -1.1-.6 -2-1.6 -4.1-3.8 -3.6-4 -.3-.6zM26.9 116.7l.9 .8 .9 1.3 1.1 .6 2 1.6 4.1 3.8 3.6 4 .3 .6 1.9 1.7 .3-.3 .5-2 -.3-2 -.5-2 -.9-2 -1-1.7 -2-2 -2-1.4 -2-.8 -2-.6 -2-.2 -2 .1zM31.8 59.9l-.6 .5 -1.2 2 -.1 2 1.1 2 .8 .7 2 .2 1.2-.9 .8-1.1 .3-.9 -.1-2 -1.3-2 -.9-.6zM61.6 83.3l-.3 1.2 0 2.1 .3 .6 .6-.6zM63.6 67.8l-.4 .6 .4 .4 .3-.4zM63.6 122.9l-1.5 1.9 .5 2 1 .9 2 .5 2-.2 1.7-1.2 .6-2 -1.6-2 -.7-.3 -2-.2zM69.8 62.4l-.2-.4 -.6 .4 .6 .2zM70.9 96.6l.7 .4 .8-.4 -.8-.5zM75.5 98.6l6 .4 6-.4 -2-.3 -4-.1 -4 .1zM92.1 96.6l-.7-.5 -.8 .5 .8 .4zM93.2 62.4l.2 .2 .6-.2 -.6-.4zM93.1 124.8l.6 2 1.7 1.2 2 .2 2-.5 1-.9 .5-2 -1.5-1.9 -2-.6 -2 .2 -.7 .3zM99.4 67.8l-.3 .6 .3 .4 .4-.4zM101.4 83.3l-.6 3.3 .6 .6 .3-.6 0-2.1zM129.2 59.8l-.9 .6 -1.1 1.5 -.2 .5 -.1 2 .3 .9 .8 1.1 1.2 .9 2-.2 .8-.7 1.1-2 -.1-2 -1.2-2 -.6-.5zM31.8 89.9l-.8 .7 -1.1 2 .1 2 1.2 2 .6 .5 2 .1 .9-.6 1.1-1.5 .2-.5 .1-2 -.3-.9 -.8-1.1 -1.2-.9zM63.6 88.2l-.4 .4 .4 .6 .3-.6zM69.8 94.6l-.2-.2 -.6 .2 .6 .4zM93.2 94.6l.2 .4 .6-.4 -.6-.2zM99.4 88.2l-.3 .4 .3 .6 .4-.6zM129.2 89.7l-1.2 .9 -.8 1.1 -.3 .9 .1 2 1.3 2 .9 .6 2-.1 .6-.5 1.2-2 .1-2 -1.1-2 -.8-.7zM136.1 116.7l-.9-.5 -2-.1 -2 .2 -2 .6 -2 .8 -2 1.4 -2 2 -1 1.7 -.9 2 -.5 2 -.3 2 .5 2 .3 .3 1.9-1.7 .3-.6 3.6-4 4.1-3.8 2-1.6 1.1-.6 .9-1.3z"/>
<path fill="#0046ff" d="M4 4.8l.8-.8 1.2-.8 2-.7 1.9-.3 14-.2 17.8 .4 39.8-.2 39.8 .2 11.1-.4 11.6 0 9.1 .2 1.9 .3 2 .7 1.2 .8 1.6 2 .7 2.1 .2 2 .3 12 -.5 18.2 .3 38.2 -.3 38.2 .4 12.1 .1 8.1 -.3 10 -.2 2 -.7 2.1 -.8 1.2 -.8 .8 -1.2 .8 -2 .7 -1.9 .3 -14 .2 -17.8-.4 -39.8 .2 -39.8-.2 -11.1 .4 -11.6 0 -9.1-.2 -1.9-.3 -2-.7 -1.2-.8 -1.6-2 -.7-2.1 -.2-2 -.3-12 .5-18.2 -.3-38.2 .3-38.2 -.4-12.1 -.1-8.1 .3-10 .2-2 .7-2.1zM41.7 24.2l-1.9 2.4 -.9 1.6 -1.6 2 -3.5 3.7 -4 3.2 -2.1 1.1 -2.6 2.1 .7 1.2 2 .4 4-.8 2-.6 2-.9 2-1.3 2-2 1.4-2.1 .9-2 1.1-4 .3-2zM62.1 30.2l-.4 2 1.5 2 2.4 .8 2-.1 1.4-.7 .6-.6 .8-1.4 -.5-2 -2.3-1.6 -2-.2 -2 .5zM73.3 60.4l-1.7-.9 -1.4 .9 -.6 .7 -2 1.3 -2.2 2 -1.8 2 -1.3 2 -.7 .6 -.8 1.4 -.1 2.1 .1 2 .8 2.8 .3-2.8 .8-4.1 2.9-3.5 2-2 4-3.4zM73.6 58.4l1.9 .9 2 0 10 0 1.9-.9 -3.9-.6 -4-.1 -4 .1zM89.7 60.4l1.7 1.1 4 3.4 2 2 2.9 3.5 .8 4.1 .3 2.8 .8-2.8 .1-2 -.1-2.1 -.8-1.4 -.7-.6 -1.3-2 -1.8-2 -2.2-2 -2-1.3 -.6-.7 -1.4-.9zM92.6 32.2l.8 1.4 .6 .6 1.4 .7 2 .1 2.4-.8 1.5-2 -.4-2 -1.5-1.3 -2-.5 -2 .2 -2 1.2 -.3 .4zM121.3 24.2l-1.8 2 .3 2 1.1 4 .9 2 1.4 2.1 2 2 2 1.3 2 .9 2 .6 4 .8 2-.4 .7-1.2 -2.6-2.1 -2.1-1.1 -4-3.2 -3.5-3.7 -1.6-2 -.9-1.6zM25.8 115.5l-.7 1.2 2.6 2.1 2.1 1.1 4 3.2 3.5 3.7 1.6 2 .9 1.6 1.9 2.4 1.8-2 -.3-2 -1.1-4 -.9-2 -1.4-2.1 -2-2 -2-1.3 -2-.9 -2-.6 -4-.8zM31.8 59.5l-1.2 .9 -1.1 2 0 2 .9 2 1.4 1.2 2 .1 2-1.6 .6-1.7 0-2 -.6-1.3 -.6-.7 -1.4-1zM61.6 79.7l-.8 2.8 -.1 2 .1 2.1 .8 1.4 .7 .6 1.3 2 1.8 2 2.2 2 2 1.3 .6 .7 1.4 .9 1.7-.9 -1.7-1.1 -4-3.4 -2-2 -2.9-3.5 -.8-4.1zM73.6 98.6l3.9 .6 4 .1 4-.1 3.9-.6 -1.9-.9 -2 0 -10 0zM101.4 79.7l-.3 2.8 -.8 4.1 -2.9 3.5 -2 2 -4 3.4 -1.7 1.1 1.7 .9 1.4-.9 .6-.7 2-1.3 2.2-2 1.8-2 1.3-2 .7-.6 .8-1.4 .1-2.1 -.1-2zM129.2 59.4l-1.4 1 -.6 .7 -.6 1.3 0 2 .8 2 1.8 1.3 2-.1 1.4-1.2 .9-2 0-2 -1.1-2 -1.2-.9zM31.8 89.4l-1.4 1.2 -.9 2 0 2 1.1 2 1.2 .9 2 .1 1.4-1 .6-.7 .6-1.3 0-2 -.8-2 -1.8-1.3zM61.7 124.8l.4 2 1.5 1.3 2 .5 2-.2 2-1.2 .3-.4 .5-2 -.8-1.4 -.6-.6 -1.4-.7 -2-.1 -2.4 .8zM92.6 124.8l.5 2 .3 .4 2 1.2 2 .2 2-.5 1.5-1.3 .4-2 -1.5-2 -2.4-.8 -2 .1 -1.4 .7 -.6 .6zM129.2 89.3l-2 1.6 -.6 1.7 0 2 .6 1.3 .6 .7 1.4 1 2-.1 1.2-.9 1.1-2 0-2 -.9-2 -1.4-1.2zM137.2 115.5l-2-.4 -4 .8 -2 .6 -2 .9 -2 1.3 -2 2 -1.4 2.1 -.9 2 -1.1 4 -.3 2 1.8 2 1.9-2.4 .9-1.6 1.6-2 3.5-3.7 4-3.2 2.1-1.1 2.6-2.1z"/>
<path fill="#0063ff" d="M4.2 6l1.8-1.8 2-.8 1.9-.4 12-.4 7.9 0 11.9 .6 39.8-.4 39.8 .4 11.9-.6 7.9 0 12 .4 1.9 .4 2 .8 1.8 1.8 .8 2.1 .3 2 .5 12 -.2 8.1 -.5 10.1 .3 38.2 -.3 40.3 .3 2 .4 14.1 -.5 12 -.3 2 -.8 2.1 -1.8 1.8 -2 .8 -1.9 .4 -12 .4 -7.9 0 -11.9-.6 -39.8 .4 -39.8-.4 -11.9 .6 -7.9 0 -12-.4 -1.9-.4 -2-.8 -1.8-1.8 -.8-2.1 -.3-2 -.5-12 .2-8.1 .5-10.1 -.3-38.2 .3-40.3 -.3-2 -.4-14.1 .5-12 .3-2zM43.7 23.1l-2-.2 -1.9 2.4 -1.5 2.9 -1.4 2 -1.8 2 -3.3 3 -2 1.3 -3.5 1.7 -2.6 2.1 .2 2 1.9 .5 2-.1 2-.6 4-1.3 2-.9 2.4-1.7 2-2 1.3-2 .9-2 1.5-4 .4-2 0-2zM63.6 28.4l-2 1.8 -.3 2 1.4 2 .9 .6 2 .5 2-.1 2.1-1 1.1-2 -.4-2 -.8-.9 -2-1.1 -2-.2zM73.5 58l-1.9 1 -2 1.3 -4 3.4 -4.1 4.7 -1.1 2 -.8 4.1 -.2 4 .2 4 .8 4.1 1.1 2 4.1 4.7 4 3.4 3.1 1.9 .8 .4 2 .3 4 .4 6-.1 4-.6 1.9-1 2-1.3 4-3.4 4.1-4.7 1.1-2 .8-4.1 .2-4 -.2-4 -.8-4.1 -1.1-2 -4.1-4.7 -4-3.4 -3.1-1.9 -.8-.4 -2-.3 -4-.4 -6 .1zM99.4 28.4l-2-.4 -2 .2 -2 1.1 -.8 .9 -.4 2 1.1 2 2.1 1 2 .1 2-.5 .9-.6 1.4-2 -.3-2zM119.3 23.1l-.6 1.1 0 2 .4 2 1.5 4 .9 2 1.3 2 2 2 2.4 1.7 2 .9 4 1.3 2 .6 2 .1 1.9-.5 .2-2 -2.6-2.1 -3.5-1.7 -2-1.3 -3.3-3 -1.8-2 -1.4-2 -1.5-2.9 -1.9-2.4zM23.9 114.7l-.2 2 2.6 2.1 3.5 1.7 2 1.3 3.3 3 1.8 2 1.4 2 1.5 2.9 1.9 2.4 2-.2 .6-1.1 0-2 -.4-2 -1.5-4 -.9-2 -1.3-2 -2-2 -2.4-1.7 -2-.9 -4-1.3 -2-.6 -2-.1zM31.8 59l-1.8 1.4 -.9 2 0 2 .8 2 1.9 1.6 2 .2 2-1.4 .3-.4 .7-2 -.1-2 -.9-2 -2-1.4zM61.3 124.8l.3 2.1 2 1.7 2 .4 2-.2 2-1.1 .8-.9 .4-2 -1.2-2.1 -2-.9 -2-.1 -2 .5 -.9 .6zM92.2 124.8l.4 2 .8 .9 2 1.1 2 .2 2-.4 2-1.7 .3-2.1 -1.4-2 -.9-.6 -2-.5 -2 .1 -2 .9zM129.2 59l-2 1.4 -.9 2 -.1 2 1 2.4 2 1.4 2-.2 2-1.7 .7-1.9 0-2 -.9-2 -1.8-1.4zM139.1 114.7l-1.9-.5 -2 .1 -2 .6 -4 1.3 -2 .9 -2.4 1.7 -2 2 -1.3 2 -.9 2 -1.5 4 -.4 2 0 2 .6 1.1 2 .2 1.9-2.4 1.5-2.9 1.4-2 1.8-2 3.3-3 2-1.3 3.5-1.7 2.6-2.1zM31.8 89l-2 1.7 -.7 1.9 0 2 .9 2 1.8 1.4 2 0 2-1.4 .9-2 .1-2 -1-2.4 -2-1.4zM129.2 88.8l-2 1.4 -.3 .4 -.7 2 .1 2 .9 2 2 1.4 2 0 1.8-1.4 .9-2 0-2 -.8-2 -1.9-1.6zM73.5 60.8l2-.6 2-.3 4-.2 4 .2 2 .3 2 .6 1.9 1.2 4 3.4 2 2.2 2.3 2.8 .6 2.1 .3 2 .4 4 -.4 4 -.3 2 -.6 2.1 -2.3 2.8 -2 2.2 -4 3.4 -1.9 1.2 -2 .6 -2 .3 -4 .2 -4-.2 -2-.3 -2-.6 -1.9-1.2 -4-3.4 -2-2.2 -2.3-2.8 -.6-2.1 -.3-2 -.4-4 .4-4 .3-2 .6-2.1 2.3-2.8 2-2.2 4-3.4z"/>
<path fill="#0080ff" d="M5.2 6l.8-.7 2-1.1 1.9-.5 14-.6 13.9 .6 2 .4 9.9-.3 31.8-.3 31.8 .3 9.9 .3 2-.4 10-.5 5.9 0 12 .5 1.9 .5 2 1.1 .8 .7 1 2.1 .4 2 .5 14.1 -.5 12 -.5 2 .3 10.1 .3 30.2 -.3 30.2 -.3 10.1 .5 2 .4 8 .1 6.1 -.5 12 -.4 2 -1 2.1 -.8 .7 -2 1.1 -1.9 .5 -14 .6 -13.9-.6 -2-.4 -9.9 .3 -31.8 .3 -31.8-.3 -9.9-.3 -2 .4 -10 .5 -5.9 0 -12-.5 -1.9-.5 -2-1.1 -.8-.7 -1-2.1 -.4-2 -.5-14.1 .5-12 .5-2 -.3-10.1 -.3-30.2 .3-30.2 .3-10.1 -.5-2 -.4-8 -.1-6.1 .5-12 .4-2zM44.4 22.1l-.7-.5 -2 0 -1.9 2.3 -2.1 4.3 -1.2 2 -1.8 2 -2.9 2.6 -4 2.3 -2.9 1.1 -1 .8 -1.4 1.3 0 2 1.4 1.1 1.9 .2 2-.4 6-2 2-.9 2.8-2.1 1.9-2 1.4-2 2.5-6 .6-2 .3-2zM61.1 30.2l-.2 2 1.3 2 1.4 .9 2 .5 2-.1 2-.8 .6-.5 1.1-2 -.3-2 -1.4-1.5 -2-.9 -2-.3 -2 .5 -2 1.4zM73.5 57.7l-1.9 .8 -2 1.4 -4 3.4 -4 4.5 -1.6 2.6 -.8 4.1 -.2 4 .2 4 .8 4.1 1.1 2 3.4 4 3.1 2.9 2 1.6 2.3 1.5 1.6 .7 6 .7 6-.1 4-.6 1.9-.8 2-1.4 4-3.4 4-4.5 1.6-2.6 .8-4.1 .2-4 -.2-4 -.8-4.1 -1.1-2 -3.4-4 -3.1-2.9 -2-1.6 -2.3-1.5 -1.6-.7 -6-.7 -6 .1zM92 30.2l-.3 2 1.1 2 .6 .5 2 .8 2 .1 2-.5 1.4-.9 1.3-2 -.2-2 -.5-.8 -2-1.4 -2-.5 -2 .3 -2 .9zM118.6 22.1l-.9 2.1 .3 2 .6 2 2.5 6 1.4 2 1.9 2 2.8 2.1 2 .9 6 2 2 .4 1.9-.2 1.4-1.1 0-2 -1.4-1.3 -1-.8 -2.9-1.1 -4-2.3 -2.9-2.6 -1.8-2 -1.2-2 -2.1-4.3 -1.9-2.3 -2 0zM22.5 114.7l0 2 1.4 1.3 1 .8 2.9 1.1 4 2.3 2.9 2.6 1.8 2 1.2 2 2.1 4.3 1.9 2.3 2 0 .7-.5 .9-2.1 -.3-2 -.6-2 -2.5-6 -1.4-2 -1.9-2 -2.8-2.1 -2-.9 -6-2 -2-.4 -1.9 .2zM31.8 58.6l-2 1.3 -.4 .5 -.8 2 0 2 .7 2 .5 .7 2 1.4 2 .1 2-1.2 .7-1 .6-2 -.1-2 -.8-2 -.4-.5 -2-1.3zM60.9 124.8l.2 2 .5 .8 2 1.4 2 .5 2-.3 2-.9 1.4-1.5 .3-2 -1.1-2 -.6-.5 -2-.8 -2-.1 -2 .5 -1.4 .9zM91.7 124.8l.3 2 1.4 1.5 2 .9 2 .3 2-.5 2-1.4 .5-.8 .2-2 -1.3-2 -1.4-.9 -2-.5 -2 .1 -2 .8 -.6 .5zM129.2 58.6l-2 1.3 -.4 .5 -.8 2 -.1 2 .6 2 .7 1 2 1.2 2-.1 2-1.4 .5-.7 .7-2 0-2 -.8-2 -.4-.5 -2-1.3zM31.8 88.5l-2 1.4 -.5 .7 -.7 2 0 2 .8 2 .4 .5 2 1.3 2 0 2-1.3 .4-.5 .8-2 .1-2 -.6-2 -.7-1 -2-1.2zM129.2 88.4l-2 1.2 -.7 1 -.6 2 .1 2 .8 2 .4 .5 2 1.3 2 0 2-1.3 .4-.5 .8-2 0-2 -.7-2 -.5-.7 -2-1.4zM140.5 114.7l-1.4-1.1 -1.9-.2 -2 .4 -6 2 -2 .9 -2.8 2.1 -1.9 2 -1.4 2 -2.5 6 -.6 2 -.3 2 .9 2.1 .7 .5 2 0 1.9-2.3 2.1-4.3 1.2-2 1.8-2 2.9-2.6 4-2.3 2.9-1.1 1-.8 1.4-1.3zM73.5 61.4l4-1 4-.2 4 .2 4 1 3.9 2.8 2 1.8 2.2 2.4 1.8 2.8 .4 1.3 .3 2 .4 4 -.4 4 -.3 2 -.4 1.3 -1.8 2.8 -2.2 2.4 -2 1.8 -3.9 2.8 -4 1 -4 .2 -4-.2 -4-1 -3.9-2.8 -2-1.8 -2.2-2.4 -1.8-2.8 -.4-1.3 -.3-2 -.4-4 .4-4 .3-2 .4-1.3 1.8-2.8 2.2-2.4 2-1.8z"/>
<path fill="#009dff" d="M6.4 6l1.6-.9 1.9-.6 14-.8 3.9 .1 8 .5 4 .8 11.9-.4 29.8-.5 29.8 .5 11.9 .4 4-.8 8-.5 3.9-.1 14 .8 1.9 .6 1.6 .9 1.2 2.1 .6 2 .5 8 .2 6.1 -.6 10 -.5 2 -.3 2 .5 12.1 .4 28.2 -.4 28.2 -.5 12.1 .3 2 .5 2 .5 6 .1 6.1 -.7 12 -.6 2 -1.2 2.1 -1.6 .9 -1.9 .6 -14 .8 -3.9-.1 -8-.5 -4-.8 -11.9 .4 -29.8 .5 -29.8-.5 -11.9-.4 -4 .8 -8 .5 -3.9 .1 -14-.8 -1.9-.6 -1.6-.9 -1.2-2.1 -.6-2 -.5-8 -.2-6.1 .6-10 .5-2 .3-2 -.5-12.1 -.4-28.2 .4-28.2 .5-12.1 -.3-2 -.5-2 -.5-6 -.1-6.1 .7-12 .6-2zM45.7 22.1l-2-1.8 -2 .1 -1.9 2.1 -2.5 5.7 -1.3 2 -1.6 2 -2.6 2.2 -2 1.2 -6.4 2.6 -2.2 2.1 -.1 2 .8 .8 2 1.3 1.9 0 4-1.3 6-2.5 2-1.3 3.1-3.1 1.3-2 3.5-8 .5-2zM60.6 30.2l-.1 2 1.2 2 1.9 1.2 2 .5 2 0 2-.7 1.2-1 1-2 -.3-2 -1.8-2 -2.1-.9 -2-.2 -2 .3 -2 1.3zM91.5 30.2l-.3 2 1 2 1.2 1 2 .7 2 0 2-.5 1.9-1.2 1.2-2 -.1-2 -1-1.5 -2-1.3 -2-.3 -2 .2 -2.1 .9zM117.3 22.1l-.5 2.1 .5 2 3.5 8 1.3 2 3.1 3.1 2 1.3 6 2.5 4 1.3 1.9 0 2-1.3 .8-.8 -.1-2 -2.2-2.1 -6.4-2.6 -2-1.2 -2.6-2.2 -1.6-2 -1.3-2 -2.5-5.7 -1.9-2.1 -2-.1zM21.1 114.7l.1 2 2.2 2.1 6.4 2.6 2 1.2 2.6 2.2 1.6 2 1.3 2 2.5 5.7 1.9 2.1 2 .1 2-1.8 .5-2.1 -.5-2 -3.5-8 -1.3-2 -3.1-3.1 -2-1.3 -6-2.5 -4-1.3 -1.9 0 -2 1.3zM31.8 58.1l-2 1.1 -1 1.2 -.6 2 0 2 .6 2 1 1.4 2 1.3 2 0 2-1.1 1.1-1.6 .5-2 -.1-2 -.7-2 -.8-1 -2-1.2zM71.6 58.1l-4 2.9 -3.6 3.4 -3.4 4 -1 2 -.8 4.1 -.2 4 .2 4 .8 4.1 1 2 1 1.2 4 4.4 4 3.4 2 1.3 1.9 .8 6 .7 4 0 6-.7 1.9-.8 4-2.9 3.6-3.4 3.4-4 1-2 .8-4.1 .2-4 -.2-4 -.8-4.1 -1-2 -1-1.2 -4-4.4 -4-3.4 -2-1.3 -1.9-.8 -6-.7 -4 0 -6 .7zM129.2 58.2l-2 1.2 -.8 1 -.7 2 -.1 2 .5 2 1.1 1.6 2 1.1 2 0 2-1.3 1-1.4 .6-2 0-2 -.6-2 -1-1.2 -2-1.1zM141.9 114.7l-.8-.8 -2-1.3 -1.9 0 -4 1.3 -6 2.5 -2 1.3 -3.1 3.1 -1.3 2 -3.5 8 -.5 2 .5 2.1 2 1.8 2-.1 1.9-2.1 2.5-5.7 1.3-2 1.6-2 2.6-2.2 2-1.2 6.4-2.6 2.2-2.1zM31.8 87.9l-2 1.3 -1 1.4 -.6 2 0 2 .6 2 1 1.2 2 1.1 2-.1 2-1.2 .8-1 .7-2 .1-2 -.5-2 -1.1-1.6 -2-1.1zM60.5 124.8l.1 2 1 1.5 2 1.3 2 .3 2-.2 2.1-.9 1.8-2 .3-2 -1-2 -1.2-1 -2-.7 -2 0 -2 .5 -1.9 1.2zM92.2 122.8l-1 2 .3 2 1.8 2 2.1 .9 2 .2 2-.3 2-1.3 1-1.5 .1-2 -1.2-2 -1.9-1.2 -2-.5 -2 0 -2 .7zM129.2 87.9l-2 1.1 -1.1 1.6 -.5 2 .1 2 .7 2 .8 1 2 1.2 2 .1 2-1.1 1-1.2 .6-2 0-2 -.6-2 -1-1.4 -2-1.3zM73.5 62l2-.6 2-.4 4-.3 4 .3 2 .4 2 .6 3.4 2.4 2.5 2.3 3 3.7 .9 2.1 .6 4 .1 2 -.1 2 -.6 4 -.9 2.1 -3 3.7 -2.5 2.3 -3.4 2.4 -2 .6 -2 .4 -4 .3 -4-.3 -2-.4 -2-.6 -3.4-2.4 -2.5-2.3 -3-3.7 -.9-2.1 -.6-4 -.1-2 .1-2 .6-4 .9-2.1 3-3.7 2.5-2.3z"/>
<path fill="#00baff" d="M7.9 6l2-.7 8-.7 6-.3 5.9 .2 6 .6 2 .9 2 .1 13.9-.6 27.8-.7 27.8 .7 13.9 .6 2-.1 2-.9 6-.6 5.9-.2 6 .3 8 .7 2 .7 1.8 2.1 .6 2 .8 8 .2 6.1 -.1 4 -.6 6 -1.1 2 -.2 2 .7 10.1 .7 20.1 .1 10.1 -.1 10.1 -.7 20.1 -.7 10.1 .2 2 1.1 2 .6 6 .1 6.1 -.2 4 -.8 8 -.6 2 -1.8 2.1 -2 .7 -8 .7 -6 .3 -5.9-.2 -6-.6 -2-.9 -2-.1 -13.9 .6 -27.8 .7 -27.8-.7 -13.9-.6 -2 .1 -2 .9 -6 .6 -5.9 .2 -6-.3 -8-.7 -2-.7 -1.8-2.1 -.6-2 -.8-8 -.2-6.1 .1-4 .6-6 1.1-2 .2-2 -.7-10.1 -.7-20.1 -.1-10.1 .1-10.1 .7-20.1 .7-10.1 -.2-2 -1.1-2 -.6-6 -.1-6.1 .2-4 .8-8 .6-2zM45.7 20.4l-2-1.8 -2 .2 -1.9 2.3 -1.5 3.1 -1.5 4 -1.2 2 -1.6 2 -2.2 1.8 -2 1.2 -5.9 2.1 -1.8 .9 -2.5 2.1 -.2 2 2.5 2.2 2 .9 1.9-.1 10-4.3 2-1.4 2-1.8 1.4-1.6 1.4-2 3.8-8 .7-2 -.3-2.1zM60.1 30.2l0 2 1.1 2 2.4 1.6 2 .4 2 0 2-.6 1.8-1.4 .9-2 -.2-2 -.5-.9 -1-1.1 -1-.7 -2-.7 -2-.2 -2 .3 -2 1zM71.6 57.6l-4 3 -4 3.7 -3.4 4.1 -1.1 2 -.6 4.1 -.2 4 .2 4 .6 4.1 1.1 2 3.4 4.1 4 3.7 4 3 1.9 .7 2 .3 6 .5 6-.5 2-.3 1.9-.7 4-3 4-3.7 3.4-4.1 1.1-2 .6-4.1 .2-4 -.2-4 -.6-4.1 -1.1-2 -3.4-4.1 -4-3.7 -4-3 -1.9-.7 -2-.3 -6-.5 -6 .5 -2 .3zM90.9 30.2l-.2 2 .9 2 1.8 1.4 2 .6 2 0 2-.4 2.4-1.6 1.1-2 0-2 -1.3-2 -2.2-1.3 -2-.3 -2 .2 -2 .7 -1 .7zM117.3 20.4l-1.1 1.7 -.3 2.1 .7 2 3.8 8 1.4 2 1.4 1.6 2 1.8 2 1.4 10 4.3 1.9 .1 2-.9 2.5-2.2 -.2-2 -2.5-2.1 -1.8-.9 -5.9-2.1 -2-1.2 -2.2-1.8 -1.6-2 -1.2-2 -1.5-4 -1.5-3.1 -1.9-2.3 -2-.2zM19.4 114.7l.2 2 2.5 2.1 1.8 .9 5.9 2.1 2 1.2 2.2 1.8 1.6 2 1.2 2 1.5 4 1.5 3.1 1.9 2.3 2 .2 2-1.8 1.1-1.7 .3-2.1 -.7-2 -3.8-8 -1.4-2 -1.4-1.6 -2-1.8 -2-1.4 -10-4.3 -1.9-.1 -2 .9zM31.8 57.7l-2 .8 -1.6 1.9 -.5 2 .1 2 .5 2 1.5 2.2 2 1 2 0 2-1 1.5-2.2 .5-2 -.2-2 -.7-2 -1.1-1.5 -2-1.1zM60.1 124.8l0 2 1.3 2 2.2 1.3 2 .3 2-.2 2-.7 1-.7 1.5-2 .2-2 -.9-2 -1.8-1.4 -2-.6 -2 0 -2 .4 -2 1.2 -.4 .4zM91.6 122.8l-.9 2 .2 2 1.5 2 1 .7 2 .7 2 .2 2-.3 2-1 1.5-2.3 0-2 -1.1-2 -2.4-1.6 -2-.4 -2 0 -2 .6zM129.2 57.8l-2 1.1 -1.1 1.5 -.7 2 -.2 2 .5 2 1.5 2.2 2 1 2 0 2-1 1.5-2.2 .5-2 .1-2 -.5-2 -1.6-1.9 -2-.8zM31.8 87.4l-2 1 -1.5 2.2 -.5 2 -.1 2 .5 2 1.6 1.9 2 .8 2-.1 2-1.1 1.1-1.5 .7-2 .2-2 -.5-2 -1.5-2.2 -2-1zM129.2 87.4l-2 1 -1.5 2.2 -.5 2 .2 2 .7 2 1.1 1.5 2 1.1 2 .1 2-.8 1.6-1.9 .5-2 -.1-2 -.5-2 -1.5-2.2 -2-1zM141.5 112.7l-2.4-1.1 -1.9 .1 -10 4.3 -2 1.4 -1.5 1.4 -1.9 2 -1.4 2 -3.8 8 -.7 2 .3 2.1 1.1 1.7 2 1.8 2-.2 1.9-2.3 1.5-3.1 1.5-4 1.2-2 1.8-2.2 2-1.6 2-1.2 5.9-2.1 1.8-.9 2.5-2.1 .2-2zM74.1 62.4l1.4-.5 2-.3 4-.3 4 .3 2 .3 1.4 .5 3.1 2 2.3 2 3.4 4 .9 2.1 .8 4 0 4.3 -.8 3.7 -.9 2.1 -2.3 2.8 -3.4 3.2 -3.1 2 -1.4 .5 -2 .3 -4 .3 -4-.3 -2-.3 -1.4-.5 -3.1-2 -2.3-2 -3.4-4 -.9-2.1 -.8-4 0-4.3 .8-3.7 .9-2.1 2.3-2.8 3.4-3.2z"/>
<path fill="#00d7ff" d="M8 7.3l1.9-1.1 8-1 6-.4 5.9 .3 6 .7 2 1.5 2 .4 1.9 0 8-1 6-.4 13.9-.7 11.9-.2 9.9 .1 14 .6 7.9 .6 8 1 1.9 0 2-.4 2-1.5 6-.7 5.9-.3 6 .4 8 1 1.9 1.1 .7 .8 1 2 1 8 .3 6.1 -.2 4 -.8 5.9 -1.6 2.1 -.3 2 0 2.1 1 8 .5 8.1 .6 12 .2 10.1 -.2 10.1 -.5 10 -.6 10.1 -1 8 0 2.1 .3 2 1.6 2.1 .8 5.9 .2 6.1 -.5 6 -.8 6 -1 2 -.7 .8 -1.9 1.1 -8 1 -6 .4 -5.9-.3 -6-.7 -2-1.5 -2-.4 -1.9 0 -8 1 -6 .4 -13.9 .7 -11.9 .2 -9.9-.1 -14-.6 -7.9-.6 -8-1 -1.9 0 -2 .4 -2 1.5 -6 .7 -5.9 .3 -6-.4 -8-1 -1.9-1.1 -.7-.8 -1-2 -1-8 -.3-6.1 .2-4 .8-5.9 1.6-2.1 .3-2 0-2.1 -1-8 -.5-8.1 -.6-12 -.2-10.1 .2-10.1 .5-10 .6-10.1 1-8 0-2.1 -.3-2 -1.6-2.1 -.8-5.9 -.2-6.1 .5-6 .8-6 1-2zM45.7 18.4l-2-2 -2 .1 -1.9 2.9 -1.4 2.7 -2 6.1 -1.2 2 -1.4 1.7 -2 1.7 -2 1.2 -2 .7 -3.9 1.1 -3.6 1.6 -3.3 2.1 .1 2 2.4 2 2.4 1.4 2 .8 1.9-.4 2-.9 1.5-.9 6.5-3 2-1.3 2-1.8 1.7-2 1.4-2 5.2-10 -.1-2.1zM60.5 28.2l-.9 2 .1 2 1 2 .9 .8 2 1.1 2 .5 2 0 2-.5 2-1.3 .5-.6 .8-2 -.1-2 -1.3-2 -1.9-1.3 -2-.6 -2-.2 -2 .2 -2 .7zM71.6 57.2l-4 2.9 -4 3.6 -2.4 2.7 -1.4 2 -1.1 2 -.6 4.1 -.2 4 .2 4 .6 4.1 1.1 2 1.4 2 2.4 2.7 4 3.6 4 2.9 1.9 .7 4 .6 4 .2 4-.2 4-.6 1.9-.7 4-2.9 4-3.6 2.4-2.7 1.4-2 1.1-2 .6-4.1 .2-4 -.2-4 -.6-4.1 -1.1-2 -1.4-2 -2.4-2.7 -4-3.6 -4-2.9 -1.9-.7 -4-.6 -4-.2 -4 .2 -4 .6zM102.5 28.2l-1.1-1.2 -2-.7 -2-.2 -2 .2 -2 .6 -1.9 1.3 -1.3 2 -.1 2 .8 2 .5 .6 2 1.3 2 .5 2 0 2-.5 2-1.1 .9-.8 1-2 .1-2zM117.3 18.4l-2.3 3.7 -.1 2.1 5.2 10 1.4 2 1.7 2 2 1.8 2 1.3 6.5 3 1.5 .9 2 .9 1.9 .4 2-.8 2.4-1.4 2.4-2 .1-2 -3.3-2.1 -3.6-1.6 -3.9-1.1 -2-.7 -2-1.2 -2-1.7 -1.4-1.7 -1.2-2 -2-6.1 -1.4-2.7 -1.9-2.9 -2-.1zM17.1 114.7l-.1 2 3.3 2.1 3.6 1.6 3.9 1.1 2 .7 2 1.2 2 1.7 1.4 1.7 1.2 2 2 6.1 1.4 2.7 1.9 2.9 2 .1 2-2 2.3-3.7 .1-2.1 -5.2-10 -1.4-2 -1.7-2 -2-1.8 -2-1.3 -6.5-3 -1.5-.9 -2-.9 -1.9-.4 -2 .8 -2.4 1.4zM29.8 57.8l-.9 .6 -1.1 1.5 -.7 2.5 0 2 .7 2.3 1 1.7 1 1 2 .8 2-.1 2-.8 .8-.9 1.1-2 .5-2 -.1-2 -.8-2 -1.5-2 -2-1.1 -2-.1zM60.7 122.8l-1 2 -.1 2 .9 2 1.1 1.2 2 .7 2 .2 2-.2 2-.6 1.9-1.3 1.3-2 .1-2 -.8-2 -.5-.6 -2-1.3 -2-.5 -2 0 -2 .5 -2 1.1zM90.9 122.8l-.8 2 .1 2 1.3 2 1.9 1.3 2 .6 2 .2 2-.2 2-.7 1.1-1.2 .9-2 -.1-2 -1-2 -.9-.8 -2-1.1 -2-.5 -2 0 -2 .5 -2 1.3zM129.2 57.3l-2 1.1 -1.5 2 -.8 2 -.1 2 .5 2 1.1 2 .8 .9 2 .8 2 .1 2-.8 1-1 1.1-2 .6-2 0-2 -.5-2 -1.3-2 -.9-.6 -2-.6zM145.9 114.7l-2.4-2 -2.4-1.4 -2-.8 -1.9 .4 -2 .9 -1.5 .9 -6.5 3 -2 1.3 -2 1.8 -1.7 2 -1.4 2 -5.2 10 .1 2.1 2.3 3.7 2 2 2-.1 1.9-2.9 1.4-2.7 2-6.1 1.2-2 1.4-1.7 2-1.7 2-1.2 2-.7 3.9-1.1 3.6-1.6 3.3-2.1zM31.8 86.8l-2 .8 -1 1 -1.1 2 -.6 2 0 2 .5 2 1.3 2 .9 .6 2 .6 2-.1 2-1.1 1.5-2 .8-2 .1-2 -.5-2 -1.1-2 -.8-.9 -2-.8zM127.2 87.7l-.8 .9 -1.1 2 -.5 2 .1 2 .8 2 1.5 2 2 1.1 2 .1 2-.6 .9-.6 1.1-1.5 .7-2.5 0-2 -.7-2.3 -1-1.7 -1-1 -2-.8 -2 .1zM75.5 62.6l2-.4 4-.2 4 .2 2 .4 3.4 1.8 2.6 2 1.9 2.1 1.4 1.9 1 2.1 .8 4 .1 2 -.4 4 -.5 2 -.4 1.1 -2 3 -2 2 -2.5 2 -3.4 1.8 -2 .4 -4 .2 -4-.2 -2-.4 -3.4-1.8 -2.6-2 -1.9-2.1 -1.4-1.9 -1-2.1 -.8-4 -.1-2 .4-4 .5-2 .4-1.1 2-3 2-2 2.5-2z"/>
<path fill="#00f4ff" d="M39.5 10.1l.6 2 .1 2 -.9 4 -1.6 4 -1.8 6.1 -1.1 2 -1.8 2 -1.2 1 -2 1.1 -2 .7 -3.9 1 -4 1.5 -4 1.1 -2 .2 -2-.3 -2-.8 -1.8-3.5 -1.6-2 -.8-6 -.1-4.1 .5-6 1.2-6 .7-1.2 .7-.8 1.2-.9 6-1.2 6-.6 5.9 .1 6 .8 2.4 1.8zM47.7 8.5l1.7-.4 4.3-.6 11.9-1 11.9-.5 10 .1 9.9 .4 13.9 1.2 2.3 .4 1.7 .4 3.1 1.6 -.2 2 -.5 2 -.8 2 -3.3 6 0 2.1 3.7 5.3 2.4 4.7 1.4 2 2.1 2.4 4 3.1 5.4 2.6 3.3 2 1.3 1.1 1.9 .5 6-3 4-1.5 2-.4 2 .3 1.1 3 .8 3.7 1.2 12.4 .5 12.1 0 10 -.5 10.1 -1.2 12.4 -.8 3.7 -1.1 3 -2 .3 -2-.4 -2-.7 -8-3.8 -1.9 .5 -1.3 1.1 -3.3 2 -5.4 2.6 -4 3.1 -2.1 2.4 -1.4 2 -2.4 4.7 -3.7 5.3 0 2.1 2.3 4 1.8 4 .5 2 .2 2 -3.1 1.6 -1.7 .4 -4.3 .6 -11.9 1 -11.9 .5 -10-.1 -9.9-.4 -13.9-1.2 -2.3-.4 -1.7-.4 -3.1-1.6 .2-2 .5-2 .8-2 3.3-6 0-2.1 -3.7-5.3 -2.4-4.7 -1.4-2 -2.1-2.4 -4-3.1 -5.4-2.6 -3.3-2 -1.3-1.1 -1.9-.5 -6 3 -4 1.5 -2 .4 -2-.3 -1.1-3 -.8-3.7 -1.2-12.4 -.5-12.1 0-10 .5-10.1 1.2-12.4 .8-3.7 1.1-3 2-.3 2 .4 2 .7 8 3.8 1.9-.5 1.3-1.1 3.3-2 5.4-2.6 4-3.1 2.1-2.4 1.4-2 2.4-4.7 3.7-5.3 0-2.1 -2.3-4 -1.8-4 -.5-2 -.2-2zM99.4 25.6l-2-.1 -2 .2 -2 .6 -2 1 -.9 .9 -.9 2 0 2 .6 2 1.2 1.3 2 1.1 2 .5 2 0 2-.6 2-1 1.4-1.3 1-2 .2-2 -.6-2 -2-2zM129.2 56.9l-2 .9 -1.9 2.6 -.8 2 -.2 2 .4 2 1 2 1.5 1.6 2 .7 2 .1 2-.6 2-2.1 .8-1.7 .5-2 .1-2 -.3-2 -1.1-2.1 -2-1.3 -2-.3zM29.8 57l-2 1.3 -1.1 2.1 -.3 2 .1 2 .5 2 1 2 1.8 1.8 2 .6 2-.1 2-.7 1.5-1.6 1-2 .4-2 -.2-2 -.8-2 -1.9-2.6 -2-.9 -2-.2zM59.6 28.2l-.6 2 .2 2 1 2 1.4 1.3 2 1 2 .6 2 0 2-.5 2-1.1 1.2-1.3 .6-2 0-2 -.9-2 -.9-.9 -2-1 -2-.6 -2-.2 -2 .1 -2 .6zM71.6 56.7l-4 2.8 -4 3.6 -2.9 3.3 -1.5 2 -.9 2 -.6 4.1 -.2 4 .2 4 .6 4.1 .9 2 1.5 2 2.9 3.3 4 3.6 4 2.8 3.9 1 6 .4 6-.4 3.9-1 4-2.8 4-3.6 2.9-3.3 1.5-2 .9-2 .6-4.1 .2-4 -.2-4 -.6-4.1 -.9-2 -1.5-2 -2.9-3.3 -4-3.6 -4-2.8 -3.9-1 -6-.4 -6 .4zM129.2 86.3l-2 .7 -1.5 1.6 -1 2 -.4 2 .2 2 .8 2 1.9 2.6 2 .9 2 .2 2-.3 2-1.3 1.1-2.1 .3-2 -.1-2 -.5-2 -1-2 -1.8-1.8 -2-.6zM33.8 86.3l-2-.1 -2 .6 -1.8 1.8 -1 2 -.5 2 -.1 2 .3 2 1.1 2.1 2 1.3 2 .3 2-.2 2-.9 1.9-2.6 .8-2 .2-2 -.4-2 -1-2 -1.5-1.6zM59.2 124.8l-.2 2 .6 2 2 2 2 .6 2 .1 2-.2 2-.6 2-1 .9-.9 .9-2 0-2 -.6-2 -1.2-1.3 -2-1.1 -2-.5 -2 0 -2 .6 -2 1 -1.4 1.3zM90.2 122.8l-.6 2 0 2 .9 2 .9 .9 2 1 2 .6 2 .2 2-.1 2-.6 2-2 .6-2 -.2-2 -1-2 -1.4-1.3 -2-1 -2-.6 -2 0 -2 .5 -2 1.1zM123.5 10.1l3.3-2 2.4-1.8 6-.8 5.9-.1 6 .6 6 1.2 1.2 .9 .7 .8 .7 1.2 1.2 6 .5 6 -.1 4.1 -.8 6 -1.6 2 -1.8 3.5 -2 .8 -2 .3 -2-.2 -4-1.1 -4-1.5 -3.9-1 -2-.7 -2-1.1 -1.2-1 -1.8-2 -1.1-2 -1.8-6.1 -1.6-4 -.9-4 .1-2zM73.5 64.5l2-1 2-.5 2-.3 4 0 2 .3 2 .5 2 1 1.9 1.4 2 1.7 2 2.4 1.6 2.5 .8 4 .1 2 -.1 2 -.8 4 -2.8 4.1 -2.1 2 -2.6 1.9 -2 1 -2 .5 -2 .3 -4 0 -2-.3 -2-.5 -2-1 -1.9-1.4 -2-1.7 -2-2.4 -1.6-2.5 -.8-4 -.1-2 .1-2 .8-4 2.8-4.1 2.1-2zM9.9 119.3l2-.8 2-.3 2 .2 4 1.1 4 1.5 3.9 1 2 .7 2 1.1 1.2 1 1.8 2 1.1 2 1.8 6.1 1.6 4 .9 4 -.1 2 -.6 2 -3.3 2 -2.4 1.8 -6 .8 -5.9 .1 -6-.6 -6-1.2 -1.2-.9 -.7-.8 -.7-1.2 -1.2-6 -.5-6 .1-4.1 .8-6 1.6-2zM153.1 119.3l1.8 3.5 1.6 2 .8 6 .1 4.1 -.5 6 -1.2 6 -.7 1.2 -.7 .8 -1.2 .9 -6 1.2 -6 .6 -5.9-.1 -6-.8 -2.4-1.8 -3.3-2 -.6-2 -.1-2 .9-4 1.6-4 1.8-6.1 1.1-2 1.8-2 1.2-1 2-1.1 2-.7 3.9-1 4-1.5 4-1.1 2-.2 2 .3z"/>
<path fill="#0fe" d="M33.8 7.1l1.1 1 .9 1.2 1.1 .8 .9 2 .6 2 .1 2 -.3 2 -1.3 4 -1.5 6.1 -1.1 2 -.5 .7 -2 1.8 -2 1.1 -2 .7 -3.9 .8 -4 1.3 -2 .4 -2 .1 -2-.2 -2-.7 -2-1.1 -.5-.9 -1.4-1.2 -.7-.8 -1-6 -.1-4.1 .3-4 .7-4 1.2-4 1.5-1.7 .8-.3 5.2-1.4 4-.6 4-.2 3.9 .2zM128.1 8.1l1.1-1 2-.4 4-.6 3.9-.2 4 .2 4 .6 4 1 2 .7 1.5 1.7 1.2 4 .7 4 .3 6.1 -.3 4 -.8 4 -.7 .8 -1.4 1.2 -.5 .9 -2 1.1 -2 .7 -2 .2 -2-.1 -2-.4 -4-1.3 -3.9-.8 -2-.7 -2-1.1 -2-1.8 -.5-.7 -1.1-2 -1.5-6.1 -1.3-4 -.3-2 .1-2 .6-2 .9-2 1.1-.8zM49.7 10.1l4-1.3 4.3-.7 3.6-.5 10-.8 9.9-.2 9.9 .2 10 .8 3.6 .5 4.3 .7 4 1.3 1.3 2 .5 2 -.2 2 -.6 2 -1 2 -1.5 2 -.2 2.1 3.7 3.4 2 2.8 2.1 3.8 1.3 2 2.5 2.8 2 1.7 2 1.3 4.5 2.3 2.9 2 .6 .8 1.4 1.2 .6 .9 1.9 .7 2.3-1.6 1.7-.9 2-.8 2-.4 2 0 2 .6 2 1.9 1.3 5.6 .8 6.1 .7 8 .3 10.1 -.3 10.1 -.7 8 -.8 6.1 -1.3 5.6 -2 1.9 -2 .6 -2 0 -2-.4 -2-.8 -1.7-.9 -2.3-1.6 -1.9 .7 -.6 .9 -1.4 1.2 -.6 .8 -2.9 2 -4.5 2.3 -2 1.3 -2 1.7 -2.5 2.8 -1.3 2 -2.1 3.8 -2 2.8 -3.7 3.4 .2 2.1 1.5 2 1 2 .6 2 .2 2 -.5 2 -1.3 2 -4 1.3 -4.3 .7 -3.6 .5 -10 .8 -9.9 .2 -9.9-.2 -10-.8 -3.6-.5 -4.3-.7 -4-1.3 -1.3-2 -.5-2 .2-2 .6-2 1-2 1.5-2 .2-2.1 -3.7-3.4 -2-2.8 -2.1-3.8 -1.3-2 -2.5-2.8 -2-1.7 -2-1.3 -4.5-2.3 -2.9-2 -.6-.8 -1.4-1.2 -.6-.9 -1.9-.7 -2.3 1.6 -1.7 .9 -2 .8 -2 .4 -2 0 -2-.6 -2-1.9 -1.3-5.6 -.8-6.1 -.7-8 -.3-10.1 .3-10.1 .7-8 .8-6.1 1.3-5.6 2-1.9 2-.6 2 0 2 .4 2 .8 1.7 .9 2.3 1.6 1.9-.7 .6-.9 1.4-1.2 .6-.8 2.9-2 4.5-2.3 2-1.3 2-1.7 2.5-2.8 1.3-2 2.1-3.8 2-2.8 3.7-3.4 -.2-2.1 -1.5-2 -1-2 -.6-2 -.2-2 .5-2zM59.4 26.2l-.9 2 -.1 2 .3 2 1 2 1.9 1.7 2 1 2 .6 2 0 2-.3 1.9-1 2-2 .7-2 .1-2 -.7-2 -2-1.8 -2-.8 -2-.6 -2-.2 -2-.1 -2 .3zM88.7 30.2l.1 2 .7 2 2 2 1.9 1 2 .3 2 0 2-.6 2-1 1.9-1.7 1-2 .3-2 -.1-2 -.9-2 -2.2-1.2 -2-.3 -4 .3 -4 1.4 -2 1.8zM133.2 56.2l-2-.1 -2 .3 -2 .9 -1.1 1.1 -1.4 2 -.7 2 -.2 2 .3 2 .9 2 2.2 2.3 2 .8 2 .1 2-.4 2-1.7 1.5-3.1 .6-4 -.1-2 -.4-2 -1.6-1.8zM27.8 56.6l-1.6 1.8 -.4 2 -.1 2 .2 2 .4 2 .9 2 .6 1.1 2 1.7 2 .4 2-.1 2-.8 2-1.9 1.1-2.4 .3-2 -.2-2 -.7-2 -1.4-2 -1.1-1.1 -2-.9 -2-.3 -2 .1zM71.6 56.2l-4 2.8 -3.9 3.4 -1.9 2 -3.2 4 -.8 2 -.7 4.1 -.2 4 .2 4 .7 4.1 .8 2 3.2 4 1.9 2 3.9 3.4 4 2.8 1.9 .6 2 .4 6 .4 6-.4 2-.4 1.9-.6 4-2.8 3.9-3.4 1.9-2 3.2-4 .8-2 .7-4.1 .2-4 -.2-4 -.7-4.1 -.8-2 -3.2-4 -1.9-2 -3.9-3.4 -4-2.8 -1.9-.6 -2-.4 -6-.4 -6 .4 -2 .4zM127.2 86.3l-2 1.9 -1.1 2.4 -.3 2 .2 2 .7 2 1.4 2 1.1 1.1 2 .9 2 .3 2-.1 2-.4 1.6-1.8 .4-2 .1-2 -.2-2 -.4-2 -.9-2 -.6-1.1 -2-1.7 -2-.4 -2 .1zM31.8 85.4l-2 .4 -2 1.7 -1.5 3.1 -.4 2 -.2 2 .1 2 .4 2 1.6 1.8 2 .4 2 .1 2-.3 2-.9 1.1-1.1 1.4-2 .7-2 .2-2 -.3-2 -1.1-2.4 -2-1.9 -2-.8zM58.7 124.8l-.3 2 .1 2 .9 2 2.2 1.2 2 .3 4-.3 4-1.4 2-1.8 .7-2 -.1-2 -.7-2 -2-2 -1.9-1 -2-.3 -2 0 -2 .6 -2 1 -1.9 1.7zM89.5 122.8l-.7 2 -.1 2 .7 2 2 1.8 2 .8 2 .6 2 .2 2 .1 2-.3 2.2-1.2 .9-2 .1-2 -.3-2 -1-2 -1.9-1.7 -2-1 -2-.6 -2 0 -2 .3 -1.9 1zM73.5 65.3l4-1.5 2-.4 2-.1 2 .1 2 .4 4 1.5 1.9 1.5 1.8 1.6 1.7 2 1.1 2.1 .8 2 .4 4 -.4 4 -.8 2 -1.1 2.1 -1.7 2 -1.8 1.6 -1.9 1.5 -4 1.5 -2 .4 -2 .1 -2-.1 -2-.4 -4-1.5 -1.9-1.5 -1.8-1.6 -1.7-2 -1.1-2.1 -.8-2 -.4-4 .4-4 .8-2 1.1-2.1 1.7-2 1.8-1.6zM9.9 121.9l2-1.1 2-.7 2-.2 2 .1 2 .4 4 1.3 3.9 .8 2 .7 2 1.1 2 1.8 .5 .7 1.1 2 1.5 6.1 1.3 4 .3 2 -.1 2 -.6 2 -.9 2 -1.1 .8 -.9 1.2 -1.1 1 -2 .4 -4 .6 -3.9 .2 -4-.2 -4-.6 -4-1 -2-.7 -1.5-1.7 -1.2-4 -.7-4 -.3-6.1 .3-4 .8-4 .7-.8 1.4-1.2zM153.1 121.9l.5 .9 1.4 1.2 .7 .8 .8 4 .3 4 -.3 6.1 -.7 4 -1.2 4 -1.5 1.7 -2 .7 -4 1 -4 .6 -4 .2 -3.9-.2 -4-.6 -2-.4 -1.1-1 -.9-1.2 -1.1-.8 -.9-2 -.6-2 -.1-2 .3-2 1.3-4 1.5-6.1 1.1-2 .5-.7 2-1.8 2-1.1 2-.7 3.9-.8 4-1.3 2-.4 2-.1 2 .2 2 .7z"/>
<path fill="#00ffd2" d="M9.9 9.8l2-1.1 2-.8 4-.9 4-.5 5.9 .2 4 .7 2.1 .7 2.4 4 .8 2 .3 2 -.1 2 -1.5 5.8 -.4 2.3 -.6 2 -1 2.1 -2 2 -2 1 -2 .7 -3.9 .6 -4 1.1 -2 .3 -2-.1 -2-.4 -2-.8 -3.5-2.5 -.4-.5 -.4-1.5 -.7-4 -.2-2 .2-4.1 .2-2 .9-3.8 .8-2.2zM54.6 10.1l7-1.6 8-.9 7.9-.4 10 0 7.9 .6 8 1.1 5 1.2 2.9 2 1.4 2 .3 2 -.5 2 -1.2 2.1 -4 3.3 -1.9 .3 -6 .1 -4 .5 -2 .4 -3.2 1.4 -2.1 2 -.4 2 .2 2 .6 2 1.7 2 1.2 .8 2 .8 2 .2 2-.1 2-.5 2-1.1 2.4-2.1 1-2 .8-4 1.7-2.6 2-.1 2 .6 2 .9 2 1.6 2 2.6 1.6 3 1.4 2 1.8 2 3.1 3 2 1.3 3.5 1.8 2.7 2 1.6 2 1 2 .3 2 -1.2 2 -1.9 .8 -4 .7 -2 .9 -1.7 1.7 -1.3 2 -.6 2 -.2 2 .1 2 .7 2 1 1.6 2 1.7 2 .5 2 .2 2-.1 2-1.3 1.5-2.6 1.1-4 .4-4 0-4 .3-2.1 .6-.7 .6-1.3 1.4-1.7 2-1.4 2-.8 2-.2 2 .6 2 1.6 1.2 1.9 .8 1.7 1.2 6.4 .9 8 .4 8.1 -.1 8 -.6 8.1 -1.3 8 -.5 2.4 -.8 1.7 -1.2 1.9 -2 1.6 -2 .6 -2-.2 -2-.8 -2-1.4 -1.4-1.7 -.6-1.3 -.6-.7 -.3-2.1 -.1-6 -.7-4 -.7-2 -1.5-2.6 -2-1.3 -2-.1 -2 .2 -2 .5 -2 1.7 -1 1.6 -.7 2 -.1 2 .2 2 .6 2 1.3 2 1.7 1.7 2 .9 4 .7 1.9 .8 1.2 2 -.3 2 -1 2 -1.6 2 -2.7 2 -3.5 1.8 -2 1.3 -3.1 3 -1.8 2 -1.4 2 -1.6 3 -2 2.6 -2 1.6 -2 .9 -2 .6 -2-.1 -1.7-2.6 -.8-4 -1-2 -2.4-2.1 -2-1.1 -2-.5 -2-.1 -2 .2 -2 .8 -1.2 .8 -1.7 2 -.6 2 -.2 2 .4 2 2.1 2 3.2 1.4 2 .4 4 .5 6 .1 1.9 .3 4 3.3 1.2 2.1 .5 2 -.3 2 -1.4 2 -2.9 2 -7 1.6 -8 .9 -7.9 .4 -10 0 -7.9-.6 -8-1.1 -5-1.2 -2.9-2 -1.4-2 -.3-2 .5-2 1.2-2.1 4-3.3 1.9-.3 6-.1 4-.5 2-.4 3.2-1.4 2.1-2 .4-2 -.2-2 -.6-2 -1.7-2 -1.2-.8 -2-.8 -2-.2 -2 .1 -2 .5 -2 1.1 -2.4 2.1 -1 2 -.8 4 -1.7 2.6 -2 .1 -2-.6 -2-.9 -2-1.6 -2-2.6 -1.6-3 -1.4-2 -1.8-2 -3.1-3 -2-1.3 -3.5-1.8 -2.7-2 -1.6-2 -1-2 -.3-2 1.2-2 1.9-.8 4-.7 2-.9 1.7-1.7 1.3-2 .6-2 .2-2 -.1-2 -.7-2 -1-1.6 -2-1.7 -2-.5 -2-.2 -2 .1 -2 1.3 -1.5 2.6 -1.1 4 -.4 4 0 4 -.3 2.1 -.6 .7 -.6 1.3 -1.4 1.7 -2 1.4 -2 .8 -2 .2 -2-.6 -2-1.6 -1.2-1.9 -.8-1.7 -1.2-6.4 -.9-8 -.4-8.1 .1-8 .6-8.1 1.3-8 .5-2.4 .8-1.7 1.2-1.9 2-1.6 2-.6 2 .2 2 .8 2 1.4 1.4 1.7 .6 1.3 .6 .7 .3 2.1 .1 6 .7 4 .7 2 1.5 2.6 2 1.3 2 .1 2-.2 2-.5 2-1.7 1-1.6 .7-2 .1-2 -.2-2 -.6-2 -1.3-2 -1.7-1.7 -2-.9 -4-.7 -1.9-.8 -1.2-2 .3-2 1-2 1.6-2 2.7-2 3.5-1.8 2-1.3 3.1-3 1.8-2 1.4-2 1.6-3 2-2.6 2-1.6 2-.9 2-.6 2 .1 1.7 2.6 .8 4 1 2 2.4 2.1 2 1.1 2 .5 2 .1 2-.2 2-.8 1.2-.8 1.7-2 .6-2 .2-2 -.4-2 -2.1-2 -3.2-1.4 -2-.4 -4-.5 -6-.1 -1.9-.3 -4-3.3 -1.2-2.1 -.5-2 .3-2 1.4-2zM71.6 55.6l-4 2.8 -4 3.4 -2.5 2.6 -3.1 4 -.8 2 -.4 2.1 -.4 6 .4 6 .4 2.1 .8 2 3.1 4 2.5 2.6 4 3.4 4 2.8 3.9 .9 6 .3 6-.3 3.9-.9 4-2.8 4-3.4 2.5-2.6 3.1-4 .8-2 .4-2.1 .4-6 -.4-6 -.4-2.1 -.8-2 -3.1-4 -2.5-2.6 -4-3.4 -4-2.8 -3.9-.9 -6-.3 -6 .3zM129.1 8.1l2.1-.7 4-.7 5.9-.2 4 .5 4 .9 2 .8 2 1.1 1.1 2.3 .8 2.2 .9 3.8 .2 2 .2 4.1 -.2 2 -.7 4 -.4 1.5 -.4 .5 -3.5 2.5 -2 .8 -2 .4 -2 .1 -2-.3 -4-1.1 -3.9-.6 -2-.7 -2.2-1.1 -1.9-2 -.9-2 -2.5-10.1 -.1-2 .3-2 .8-2zM75.5 64.9l4-.8 2-.2 2 .2 4 .8 3.9 2.6 1 .9 1.7 2 1.2 2.1 .8 2 .5 2 .1 2 -.1 2 -.5 2 -2 4.1 -1.7 2 -1 .9 -3.9 2.6 -4 .8 -2 .2 -2-.2 -4-.8 -3.9-2.6 -1-.9 -1.7-2 -1.2-2.1 -.8-2 -.5-2 -.1-2 .1-2 .5-2 2-4.1 1.7-2 1-.9zM8.4 124.8l3.5-2.5 2-.8 2-.4 2-.1 2 .3 4 1.1 3.9 .6 2 .7 2.2 1.1 1.9 2 .9 2 2.5 10.1 .1 2 -.3 2 -.8 2 -2.4 4 -2.1 .7 -4 .7 -5.9 .2 -4-.5 -4-.9 -2-.8 -2-1.1 -1.1-2.3 -.8-2.2 -.9-3.8 -.2-2 -.2-4.1 .2-2 .7-4 .4-1.5zM129.2 126.7l2-2 2-1 2-.7 3.9-.6 4-1.1 2-.3 2 .1 2 .4 2 .8 3.5 2.5 .4 .5 .9 3.5 .2 2 .2 4.1 -.4 4 -.9 4 -1.7 4 -2.2 1.4 -1.6 .6 -4.4 1.1 -4 .5 -5.9-.2 -2-.3 -4-1 -2.5-4.1 -.8-2 -.3-2 .1-2 1.5-5.8 .4-2.3 .6-2z"/>
<path fill="#00ffb7" d="M11.5 10.1l2.4-1.3 2.2-.7 3.8-.8 4-.3 3.9 .3 4 .9 1.8 1.9 1.4 2 .9 2 .5 2 0 2 -2.1 10.1 -1 2 -1.5 1.5 -2 1.1 -2 .6 -3.9 .5 -4 1 -2 .2 -2-.2 -2-.6 -2-.9 -2-1.5 -1.6-1.7 -.5-2 -.5-4 .1-4.1 .3-2 1.2-4 .9-2zM58.9 10.1l6.7-1.4 7.9-.8 8-.2 8 .2 7.9 .8 6.7 1.4 3.2 1.5 2 1.6 .8 .9 .7 2 -.3 2 -1.5 2 -1.7 1.1 -3.9 1.3 -6 .8 -4 .8 -2 .7 -3.1 1.4 -1.9 2 -.1 2 1.1 4 1.4 2 2.6 1.7 2 .6 2 .1 2-.3 2-.5 2-.9 2-1.6 1-1.1 1.7-4 1.2-2 2-.9 2 .1 2 .7 2 1.5 2 2.5 1.1 2.1 1.5 2 1.7 2 3.6 3.4 2 1.4 2.5 1.3 2.7 2 1.4 2 .6 2 -.2 2 -1 1.2 -1 .8 -3 .9 -2.3 1.2 -2 2 -1.2 2 -.7 2 -.4 2 .1 2 .7 2 1.1 2 .7 .9 2 1.5 4 1 2 .1 2-1.1 2-3.4 .9-3 1.8-10 .7-2.1 1.3-2 1.2-1.1 2-.9 2 .1 2 1 2 2.4 1.2 2.6 .7 2 1.1 6 .8 8.1 .1 8 -.4 8.1 -.8 6 -.8 4 -.7 2 -1.2 2.6 -2 2.4 -2 1 -2 .1 -2-.9 -1.2-1.1 -1.3-2 -.7-2.1 -1.3-8 -1.1-4 -.9-2 -1.4-2.4 -2-1.1 -2 .1 -2 .5 -2 .5 -2 1.5 -.7 .9 -1.1 2 -.7 2 -.1 2 .4 2 .7 2 1.2 2 2 2 2.3 1.2 3 .9 1 .8 1 1.2 .2 2 -.6 2 -1.4 2 -2.7 2 -2.5 1.3 -2 1.4 -3.6 3.4 -1.7 2 -1.5 2 -1.1 2.1 -2 2.5 -2 1.5 -2 .7 -2 .1 -2-.9 -1.2-2 -1.7-4 -1-1.1 -2-1.6 -2-.9 -2-.5 -2-.3 -2 .1 -2 .6 -2.6 1.7 -1.4 2 -1.1 4 .1 2 1.9 2 3.1 1.4 2 .7 4 .8 6 .8 2 .5 1.9 .8 1.7 1.1 1.5 2 .3 2 -.7 2 -2 2 -4 2 -6.7 1.4 -7.9 .8 -8 .2 -8-.2 -7.9-.8 -6.7-1.4 -3.2-1.5 -2-1.6 -.8-.9 -.7-2 .3-2 1.5-2 1.7-1.1 3.9-1.3 6-.8 4-.8 2-.7 3.1-1.4 1.9-2 .1-2 -1.1-4 -1.4-2 -2.6-1.7 -2-.6 -2-.1 -2 .3 -2 .5 -2 .9 -2 1.6 -1 1.1 -1.7 4 -1.2 2 -2 .9 -2-.1 -2-.7 -2-1.5 -2-2.5 -1.1-2.1 -1.5-2 -1.7-2 -3.6-3.4 -2-1.4 -2.5-1.3 -2.7-2 -1.4-2 -.6-2 .2-2 1-1.2 1-.8 3-.9 2.3-1.2 2-2 1.2-2 .7-2 .4-2 -.1-2 -.7-2 -1.1-2 -.7-.9 -2-1.5 -4-1 -2-.1 -2 1.1 -2 3.4 -.9 3 -1.8 10 -.7 2.1 -1.3 2 -1.2 1.1 -2 .9 -2-.1 -2-1 -2-2.4 -1.2-2.6 -.7-2 -1.1-6 -.8-8.1 -.1-8 .4-8.1 .8-6 .8-4 .7-2 1.2-2.6 2-2.4 2-1 2-.1 2 .9 1.2 1.1 1.3 2 .7 2.1 1.3 8 1.1 4 .9 2 1.4 2.4 2 1.1 2-.1 2-.5 2-.5 2-1.5 .7-.9 1.1-2 .7-2 .1-2 -.4-2 -.7-2 -1.2-2 -2-2 -2.3-1.2 -3-.9 -1-.8 -1-1.2 -.2-2 .6-2 1.4-2 2.7-2 2.5-1.3 2-1.4 3.6-3.4 1.7-2 1.5-2 1.1-2.1 2-2.5 2-1.5 2-.7 2-.1 2 .9 1.2 2 1.7 4 1 1.1 2 1.6 2 .9 2 .5 2 .3 2-.1 2-.6 2.6-1.7 1.4-2 1.1-4 -.1-2 -1.9-2 -3.1-1.4 -2-.7 -4-.8 -6-.8 -2-.5 -1.9-.8 -1.7-1.1 -1.5-2 -.3-2 .7-2 2-2zM71.6 54.9l-4 2.7 -4 3.5 -3.2 3.3 -3.1 4 -.7 2 -.4 2.1 -.4 6 .4 6 .4 2.1 .7 2 3.1 4 3.2 3.3 4 3.5 4 2.7 5.9 1 4 .2 4-.2 5.9-1 4-2.7 4-3.5 3.2-3.3 3.1-4 .7-2 .4-2.1 .4-6 -.4-6 -.4-2.1 -.7-2 -3.1-4 -3.2-3.3 -4-3.5 -4-2.7 -5.9-1 -4-.2 -4 .2zM131.2 8.2l2-.6 4-.5 1.9-.1 4 .3 3.8 .8 2.2 .7 2.4 1.3 1.6 1.7 1 2.3 .7 2 .5 2 .4 4 -.2 4.1 -.5 2.7 -.3 1.3 -1.6 1.7 -2 1.5 -2 .9 -2 .6 -2 .2 -2-.2 -4-1 -3.9-.5 -2-.6 -2-1.1 -1.5-1.5 -1-2 -.5-2 -.2-2 -1.1-4.1 -.3-2 0-2 .5-2 .9-2 1.4-2zM75.5 65.4l2-.5 4-.4 4 .4 2 .5 3.9 2.8 2 2.2 1.4 2.1 1.3 4 .2 2 -.2 2 -1.3 4 -1.4 2.1 -2 2.2 -3.9 2.8 -2 .5 -4 .4 -4-.4 -2-.5 -3.9-2.8 -2-2.2 -1.4-2.1 -1.3-4 -.2-2 .2-2 1.3-4 1.4-2.1 2-2.2zM9.9 125.1l2-1.5 2-.9 2-.6 2-.2 2 .2 4 1 3.9 .5 2 .6 2 1.1 1.5 1.5 1 2 .5 2 .2 2 1.1 4.1 .3 2 0 2 -.5 2 -.9 2 -1.4 2 -1.8 1.9 -2 .6 -4 .5 -1.9 .1 -4-.3 -3.8-.8 -2.2-.7 -2.4-1.3 -1.6-1.7 -1-2.3 -.7-2 -.5-2 -.4-4 .2-4.1 .5-2.7 .3-1.3zM153.1 125.1l1.6 1.7 .3 1.3 .5 2.7 .2 4.1 -.4 4 -.5 2 -.7 2 -1 2.3 -1.6 1.7 -2.4 1.3 -2.2 .7 -3.8 .8 -4 .3 -1.9-.1 -4-.5 -2-.6 -1.8-1.9 -1.4-2 -.9-2 -.5-2 0-2 .3-2 1.1-4.1 .2-2 .5-2 1-2 1.5-1.5 2-1.1 2-.6 3.9-.5 4-1 2-.2 2 .2 2 .6 2 .9z"/>
<path fill="#00ff9b" d="M13.3 10.1l2.6-1.2 2-.6 2-.4 4-.3 3.9 .3 2 .5 2 .7 .9 1 2.2 4 .5 2 .1 2 -.2 2 -1 4.1 -.5 4 -1.2 2 -.8 .8 -2 1.3 -2 .5 -3.9 .4 -4 .9 -2 .1 -2-.3 -2-.6 -4-2.3 -.7-.8 -.7-2 -.6-4 .1-3.2 .4-2.9 .5-2 1-2.5 2-2.4zM131.2 9.1l2-.7 2-.5 2-.2 3.9-.1 3 .5 3 .8 2.6 1.2 1.4 1.1 2.2 2.9 .8 2 .9 4 .1 4.1 -.2 2 -.4 2 -.7 2 -.7 .8 -4 2.3 -2 .6 -2 .3 -2-.1 -4-.9 -3.9-.4 -2-.5 -2-1.3 -.8-.8 -1.2-2 -.5-4 -1-4.1 -.2-2 .1-2 .5-2 2.2-4zM62.8 10.1l6.8-1.2 5.9-.5 8-.1 7.9 .4 6 .8 4 1 3.7 1.6 2.5 2 1 2 -.4 2 -1.9 2 -2.9 1.2 -8 1.7 -4.6 1.2 -4.9 2 -2.2 2 .6 2 1.1 2 .4 2 1.7 2.4 2 1.5 1.9 .9 2 .4 2 .1 2-.4 4-1.7 1.6-1.2 2-2 2.3-4.3 2-1.2 2-.1 2 .5 2 1.4 4.2 5.7 3.7 4.1 4 3.3 1.4 .7 2.7 2 1.3 2 .4 2 -.5 2 -1.3 1.2 -1.5 .8 -2.5 1 -2 1.8 -1.1 1.3 -1.1 2 -.9 2 -.3 2 0 2 .4 2 .9 2 2.1 2.6 2 1.3 2 .4 4 1.7 2-1.1 2-3.7 1.1-3.2 1-4 1.3-6 .5-1.9 1.3-2.2 .7-.8 2-1.1 2 .2 2.3 1.7 1.7 2.6 1.3 3.5 .6 2 .9 6 .5 6.1 0 8 -.5 6.1 -.8 5.9 -.7 2.1 -1.3 3.5 -2 2.9 -2 1.4 -2 .2 -2-1.1 -.7-.8 -1.3-2.2 -.5-1.9 -1.7-8 -1.7-5.2 -2-3.7 -2-1.1 -4 1.7 -2 .4 -2 1.3 -2.1 2.6 -.9 2 -.4 2 0 2 .3 2 2 4 1.1 1.3 2 1.8 2.5 1 1.5 .8 1.3 1.2 .5 2 -.4 2 -1.3 2 -2.7 2 -1.4 .7 -2 1.6 -3.9 3.7 -3.4 4.1 -.6 1.2 -2 2.5 -2 1.4 -2 .5 -2-.1 -2-1.2 -2.3-4.3 -2-2 -1.6-1.2 -4-1.7 -2-.4 -2 .1 -2 .4 -1.9 .9 -2.4 1.9 -1.3 2 -.4 2 -1.1 2 -.6 2 2.2 2 5.5 2.2 4 1 6 1.2 4 1.2 .9 .5 1.9 2 .4 2 -1 2 -2.5 2 -1.7 .9 -3.2 1.1 -6.8 1.2 -5.9 .5 -8 .1 -7.9-.4 -6-.8 -4-1 -3.7-1.6 -2.5-2 -1-2 .4-2 1.9-2 2.9-1.2 8-1.7 4.6-1.2 4.9-2 2.2-2 -.6-2 -1.1-2 -.4-2 -1.7-2.4 -2-1.5 -1.9-.9 -2-.4 -2-.1 -2 .4 -4 1.7 -1.6 1.2 -2 2 -2.3 4.3 -2 1.2 -2 .1 -2-.5 -2-1.4 -4.2-5.7 -3.7-4.1 -4-3.3 -1.4-.7 -2.7-2 -1.3-2 -.4-2 .5-2 1.3-1.2 1.5-.8 2.5-1 2-1.8 1.1-1.3 1.1-2 .9-2 .3-2 0-2 -.4-2 -.9-2 -2.1-2.6 -2-1.3 -2-.4 -4-1.7 -2 1.1 -2 3.7 -1.1 3.2 -1 4 -1.3 6 -.5 1.9 -1.3 2.2 -.7 .8 -2 1.1 -2-.2 -2.3-1.7 -1.7-2.6 -1.3-3.5 -.6-2 -.9-6 -.5-6.1 0-8 .5-6.1 .8-5.9 .7-2.1 1.3-3.5 2-2.9 2-1.4 2-.2 2 1.1 .7 .8 1.3 2.2 .5 1.9 1.7 8 1.7 5.2 2 3.7 2 1.1 4-1.7 2-.4 2-1.3 2.1-2.6 .9-2 .4-2 0-2 -.3-2 -2-4 -1.1-1.3 -2-1.8 -2.5-1 -1.5-.8 -1.3-1.2 -.5-2 .4-2 1.3-2 2.7-2 1.4-.7 2-1.6 3.9-3.7 3.4-4.1 .6-1.2 2-2.5 2-1.4 2-.5 2 .1 2 1.2 2.3 4.3 2 2 1.6 1.2 4 1.7 2 .4 2-.1 2-.4 1.9-.9 2.4-1.9 1.3-2 .4-2 1.1-2 .6-2 -2.2-2 -5.5-2.2 -4-1 -6-1.2 -4-1.2 -.9-.5 -1.9-2 -.4-2 1-2 2.5-2 1.7-.9zM71.6 54.3l-2 1.1 -2 1.5 -4 3.5 -4 4 -3.2 4 -.5 2 -.7 4.1 -.2 4 .2 4 .7 4.1 .5 2 3.2 4 4 4 4 3.5 2 1.5 2 1.1 3.9 .9 6 .4 6-.4 3.9-.9 2-1.1 2-1.5 4-3.5 4-4 3.2-4 .5-2 .7-4.1 .2-4 -.2-4 -.7-4.1 -.5-2 -3.2-4 -4-4 -4-3.5 -2-1.5 -2-1.1 -3.9-.9 -6-.4 -6 .4zM75.5 65.9l2-.7 2-.3 4 0 2 .3 2 .7 2 1.2 1.9 1.6 1.6 1.7 1.4 2.1 .7 2 .5 2 .2 2 -.2 2 -.5 2 -.7 2 -1.4 2.1 -1.6 1.7 -1.9 1.6 -2 1.2 -2 .7 -2 .3 -4 0 -2-.3 -2-.7 -2-1.2 -1.9-1.6 -1.6-1.7 -1.4-2.1 -.7-2 -.5-2 -.2-2 .2-2 .5-2 .7-2 1.4-2.1 1.6-1.7 1.9-1.6zM9.9 126l4-2.3 2-.6 2-.3 2 .1 4 .9 3.9 .4 2 .5 2 1.3 .8 .8 1.2 2 .5 4 1 4.1 .2 2 -.1 2 -.5 2 -2.2 4 -.9 1 -2 .7 -2 .5 -2 .2 -3.9 .1 -3-.5 -3-.8 -2.6-1.2 -1.4-1.1 -2.2-2.9 -.8-2 -.9-4 -.1-4.1 .2-2 .4-2 .7-2zM131.2 126l2-1.3 2-.5 3.9-.4 4-.9 2-.1 2 .3 2 .6 4 2.3 .7 .8 .7 2 .4 2 .2 2 -.1 4.1 -.9 4 -.8 2 -2.2 2.9 -1.4 1.1 -2.6 1.2 -3 .8 -3 .5 -3.9-.1 -2-.2 -2-.5 -2-.7 -.9-1 -2.2-4 -.5-2 -.1-2 .2-2 1-4.1 .5-4 1.2-2z"/>
<path fill="#00ff80" d="M11.9 12.7l2-1.8 2-1.2 2-.7 4-.8 3.9 .1 2 .3 2 .6 2 .9 .8 2 1.2 2 .7 2 .2 2 -.2 2 -.5 2 -1 6.1 -1.1 2 -2.1 1.4 -2 .6 -3.9 .3 -4 .9 -2 0 -2-.4 -2-.7 -2-1.4 -2-1 -.6-1.7 -.5-2 -.3-2 .2-4.1 .3-2 .9-2.7zM56.6 16.1l1.2-2 1.8-1.3 2-1.1 4-1.4 4-.7 3.9-.5 8-.3 8 .3 3.9 .5 4 .7 4 1.4 2 1.1 1.8 1.3 1.2 2 -.5 2 -2.5 2.1 -4 1.1 -8 1.9 -7.9 2.5 -2 .2 -2-.2 -7.9-2.5 -8-1.9 -4-1.1 -2.5-2.1zM131.2 10.1l2-.9 2-.6 2-.3 3.9-.1 4 .8 2 .7 2 1.2 1.4 1.2 1.7 2 .9 1.3 .9 2.7 .3 2 .2 4.1 -.3 2 -.5 2 -.6 1.7 -2 1 -2 1.4 -2 .7 -2 .4 -2 0 -4-.9 -3.9-.3 -2-.6 -2-1.3 -1.2-2.1 -1-6.1 -.5-2 -.2-2 .2-2 .7-2 1.2-2zM49.7 30.1l2-.4 2 .3 2 1.5 1.5 2.7 2 2 2.4 1.8 2 1.1 2 .7 4 .7 2-.2 1.9-.5 2.8-1.6 2.4-2 .8-1.2 1.3-.8 .7-1.3 .7 1.3 1.3 .8 .8 1.2 3.2 2.5 2 1.1 1.9 .5 2 .2 4-.7 2-.7 2-1.1 2.4-1.8 2-2 1.5-2.7 2-1.5 2-.3 2 .4 2 1.4 3.6 4.7 2.4 2.7 3.9 3.7 4.9 3.7 1.4 2 .2 2 -.8 2 -3.7 2.2 -2.1 1.9 -1.7 2 -1.3 2 -1.4 4 -.3 2 .3 2 .7 2 1.1 2.1 2.7 3.2 1.3 .8 .7 1.1 1.9 .9 -1.9 .9 -.7 1.1 -1.3 .8 -2.7 3.2 -1.1 2.1 -.7 2 -.3 2 .3 2 1.4 4 1.3 2 1.8 2.2 2 1.7 3.7 2.2 .8 2 -.2 2 -1.4 2 -4.9 3.7 -2 1.7 -4.3 4.7 -3.6 4.7 -2 1.4 -2 .4 -2-.3 -2-1.5 -1.5-2.7 -2-2 -2.4-1.8 -2-1.1 -2-.7 -4-.7 -2 .2 -1.9 .5 -2.8 1.6 -2.4 2 -.8 1.2 -1.3 .8 -.7 1.3 -.7-1.3 -1.3-.8 -.8-1.2 -3.2-2.5 -2-1.1 -1.9-.5 -2-.2 -4 .7 -2 .7 -2 1.1 -2.4 1.8 -2 2 -1.5 2.7 -2 1.5 -2 .3 -2-.4 -2-1.4 -3.6-4.7 -2.4-2.7 -3.9-3.7 -4.9-3.7 -1.4-2 -.2-2 .8-2 3.7-2.2 2.1-1.9 1.7-2 1.3-2 1.4-4 .3-2 -.3-2 -.7-2 -1.1-2.1 -2.7-3.2 -1.3-.8 -.7-1.1 -1.9-.9 1.9-.9 .7-1.1 1.3-.8 2.7-3.2 1.1-2.1 .7-2 .3-2 -.3-2 -1.4-4 -1.3-2 -1.8-2.2 -2-1.7 -3.7-2.2 -.8-2 .2-2 1.4-2 4.9-3.7 2-1.7 4.3-4.7 3.6-4.7zM71.6 53.3l-2 1.2 -2 1.5 -5 4.4 -4 4 -1.7 2 -1.4 2 -.6 2 -.3 2.1 -.4 6 .4 6 .3 2.1 .6 2 1.4 2 1.7 2 4 4 5 4.4 2 1.5 2 1.2 3.9 .7 6 .4 6-.4 3.9-.7 2-1.2 2-1.5 5-4.4 4-4 1.7-2 1.4-2 .6-2 .3-2.1 .4-6 -.4-6 -.3-2.1 -.6-2 -1.4-2 -1.7-2 -4-4 -5-4.4 -2-1.5 -2-1.2 -3.9-.7 -6-.4 -6 .4zM17.9 54.6l2 1.3 1.4 2.5 .6 1.5 2 8.2 2.8 8.4 .3 2 -.3 2 -2.8 8.4 -2 8.2 -.6 1.5 -1.4 2.5 -2 1.3 -2-.2 -2-1.6 -1.2-2 -1-2 -1.2-4 -.6-2.4 -.6-5.7 -.2-6 .2-6 .6-5.7 .6-2.4 1.2-4 1-2 1.2-2 2-1.6zM145.1 54.6l2 .2 2 1.6 1.2 2 1 2 1.2 4 .6 2.4 .6 5.7 .2 6 -.2 6 -.6 5.7 -.6 2.4 -1.2 4 -1 2 -1.2 2 -2 1.6 -2 .2 -2-1.3 -1.4-2.5 -.6-1.5 -2-8.2 -2.8-8.4 -.3-2 .3-2 2.8-8.4 2-8.2 .6-1.5 1.4-2.5zM73.5 67.5l4-1.9 2-.4 4 0 2 .4 4 1.9 1.9 1.7 1.2 1.2 1.4 2.1 .8 2 .4 2 .2 2 -.2 2 -.4 2 -.8 2 -1.4 2.1 -1.2 1.2 -1.9 1.7 -4 1.9 -2 .4 -4 0 -2-.4 -4-1.9 -1.9-1.7 -1.2-1.2 -1.4-2.1 -.8-2 -.4-2 -.2-2 .2-2 .4-2 .8-2 1.4-2.1 1.2-1.2zM9.9 127.1l2-1 2-1.4 2-.7 2-.4 2 0 4 .9 3.9 .3 2 .6 2 1.3 1.2 2.1 1 6.1 .5 2 .2 2 -.2 2 -.7 2 -1.2 2 -.8 2 -2 .9 -2 .6 -2 .3 -3.9 .1 -4-.8 -2-.7 -2-1.2 -1.4-1.2 -1.7-2 -.9-1.3 -.9-2.7 -.3-2 -.2-4.1 .3-2 .5-2zM131.2 126.7l2-1.3 2-.6 3.9-.3 4-.9 2 0 2 .4 2 .7 2 1.4 2 1 .6 1.7 .5 2 .3 2 -.2 4.1 -.3 2 -.9 2.7 -2 2.7 -2 1.8 -2 1.2 -2 .7 -4 .8 -3.9-.1 -2-.3 -2-.6 -2-.9 -.8-2 -1.2-2 -.7-2 -.2-2 .2-2 .5-2 1-6.1zM56.6 140.9l.5-2 2.5-2.1 4-1.1 8-1.9 7.9-2.5 2-.2 2 .2 7.9 2.5 8 1.9 4 1.1 2.5 2.1 .5 2 -1.2 2 -1.8 1.3 -2 1.1 -4 1.4 -4 .7 -3.9 .5 -8 .3 -8-.3 -3.9-.5 -4-.7 -4-1.4 -2-1.1 -1.8-1.3z"/>
<path fill="#00ff64" d="M11.9 14.1l2-2.1 2-1.4 2-.9 2-.5 4-.4 1.9 .1 2 .4 2.2 .8 2.8 4 .8 2 .3 2 -.1 2 -.9 4.1 -.2 2 -.5 2 -.4 .8 -1 1.2 -1 .6 -2 .6 -3.9 .4 -4 .8 -2 0 -2-.5 -2-.9 -2-1.4 -2-1.9 -.5-1.7 -.2-2 -.1-2.1 .2-2 .6-2.7 .7-1.3zM58.9 16.1l1.3-2 3.4-2 2-.7 6-1.4 3.9-.4 6-.2 6 .2 3.9 .4 6 1.4 2 .7 3.4 2 1.3 2 -.5 2 -3.1 2 -13 3.5 -4 .8 -2 .2 -2-.2 -4-.8 -13-3.5 -3.1-2zM133 10.1l2.2-.8 2-.4 3.9 0 2 .3 3 .9 3 2 2 2 1.3 2 .9 2 .4 2 .1 4.1 -.2 2 -.7 2 -3.8 3 -2 .9 -2 .5 -2 0 -4-.8 -3.9-.4 -2-.6 -1-.6 -1-1.2 -.4-.8 -1.6-8.1 -.1-2 .3-2 .8-2zM47.7 32.5l2-1.3 2-.4 2 .5 2 1.8 .6 1.1 3.3 3.1 4 2.5 4 1.9 2 .4 2 .2 1.9-.2 2-.6 4-2 2-.4 2 .4 4 2 2 .6 1.9 .2 2-.2 2-.4 4-1.9 4-2.5 1.3-1.1 2-2 .6-1.1 2-1.8 2-.5 2 .4 2 1.3 3 3.7 4.9 5.3 2 1.9 1.2 .9 .8 .9 1.6 1.1 1.3 2 .1 2 -1.3 2 -1.7 1 -2 1.8 -2.8 3.3 -2.5 4 -1.3 4 -.1 2 .5 2 .7 2.1 2.2 4 .5 2 -.5 2 -2.2 4 -.7 2.1 -.5 2 .1 2 1.3 4 2.5 4 1.6 2 3.2 3.1 1.7 1 1.3 2 -.1 2 -1.3 2 -1.6 1.1 -.8 .9 -1.2 .9 -2 1.9 -4.9 5.3 -3 3.7 -2 1.3 -2 .4 -2-.5 -2-1.8 -.6-1.1 -3.3-3.1 -4-2.5 -4-1.9 -2-.4 -2-.2 -1.9 .2 -2 .6 -4 2 -2 .4 -2-.4 -4-2 -2-.6 -1.9-.2 -2 .2 -2 .4 -4 1.9 -4 2.5 -1.3 1.1 -2 2 -.6 1.1 -2 1.8 -2 .5 -2-.4 -2-1.3 -3-3.7 -4.9-5.3 -2-1.9 -1.2-.9 -.8-.9 -1.6-1.1 -1.3-2 -.1-2 1.3-2 1.7-1 2-1.8 2.8-3.3 2.5-4 1.3-4 .1-2 -.5-2 -.7-2.1 -2.2-4 -.5-2 .5-2 2.2-4 .7-2.1 .5-2 -.1-2 -1.3-4 -2.5-4 -1.6-2 -3.2-3.1 -1.7-1 -1.3-2 .1-2 1.3-2 1.6-1.1 .8-.9 1.2-.9 2-1.9 4.9-5.3zM73.5 51.6l-3.9 1.6 -10.1 9.2 -3.7 4 -1.6 2 -.5 3.2 -.8 2.9 -.3 4 .3 4 .8 2.9 .5 3.2 1.6 2 3.7 4 10.1 9.2 3.9 1.6 2 .5 2 .2 4 .2 4-.2 2-.2 2-.5 3.9-1.6 10.1-9.2 3.7-4 1.6-2 .5-3.2 .8-2.9 .3-4 -.3-4 -.8-2.9 -.5-3.2 -1.6-2 -3.7-4 -10.1-9.2 -3.9-1.6 -2-.5 -2-.2 -4-.2 -4 .2 -2 .2zM17.9 56.8l2 1.5 2 4.8 3.1 11.4 .4 2 .1 2 -.1 2 -.4 2 -3.1 11.4 -2 4.8 -2 1.5 -2-.2 -2-1.8 -2-4 -1-3.6 -.7-4 -.4-4.1 -.1-4 .1-4 .4-4.1 .7-4 1-3.6 2-4 2-1.8zM145.1 56.8l2 .2 2 1.8 2 4 1 3.6 .7 4 .4 4.1 .1 4 -.1 4 -.4 4.1 -.7 4 -1 3.6 -2 4 -2 1.8 -2 .2 -2-1.5 -2-4.8 -3.1-11.4 -.4-2 -.1-2 .1-2 .4-2 3.1-11.4 2-4.8zM73.5 67.9l2-1.1 2-.9 2-.4 2-.1 2 .1 2 .4 2 .9 2 1.1 2.7 2.5 1.3 2.1 1 2 .4 2 .2 2 -.2 2 -.4 2 -1 2 -1.3 2.1 -2.7 2.5 -2 1.1 -2 .9 -2 .4 -2 .1 -2-.1 -2-.4 -2-.9 -2-1.1 -2.7-2.5 -1.3-2.1 -1-2 -.4-2 -.2-2 .2-2 .4-2 1-2 1.3-2.1zM10.1 128.8l3.8-3 2-.9 2-.5 2 0 4 .8 3.9 .4 2 .6 1 .6 1 1.2 .4 .8 1.6 8.1 .1 2 -.3 2 -.8 2 -2.8 4 -2.2 .8 -2 .4 -3.9 0 -2-.3 -3-.9 -3-2 -2-2 -1.3-2 -.9-2 -.4-2 -.1-4.1 .2-2zM149.1 125.8l3.8 3 .7 2 .2 2 -.1 4.1 -.4 2 -.9 2 -1.3 2 -2 2 -2 1.5 -2 .9 -2 .5 -4 .4 -1.9-.1 -2-.4 -2.2-.8 -2.8-4 -.8-2 -.3-2 .1-2 .9-4.1 .2-2 .5-2 .4-.8 1-1.2 1-.6 2-.6 3.9-.4 4-.8 2 0 1.8 .4zM58.9 140.9l.5-2 3.1-2 13-3.5 4-.8 2-.2 2 .2 4 .8 13 3.5 3.1 2 .5 2 -1.3 2 -3.4 2 -2 .7 -6 1.4 -3.9 .4 -6 .2 -6-.2 -3.9-.4 -6-1.4 -2-.7 -3.4-2z"/>
<path fill="#00ff48" d="M13.9 13.2l2-1.6 2-1.1 2-.7 2-.3 3.9 .1 2.2 .5 1.8 1 2.1 3 .8 2 .4 2 -.1 2 -.9 4.1 -.3 2.2 -.6 1.8 -1.4 1.6 -2 .7 -3.9 .6 -2 .5 -2 .3 -2-.1 -2-.5 -2-1.1 -2.7-2 -1-2 -.4-2 -.1-2.1 .2-2 .6-2 1-2zM61.1 16.1l1.5-2 3-1.6 2-.7 5.9-1.3 4-.4 4-.1 4 .1 4 .4 5.9 1.3 2 .7 3 1.6 1.5 2 -.7 2 -3.6 2 -10.1 2.7 -4 .7 -2 .1 -2-.1 -4-.7 -10.1-2.7 -3.6-2zM133.2 11.1l1.8-1 2.2-.5 3.9-.1 2 .3 2 .7 2 1.1 2 1.6 2.4 2.9 1 2 .6 2 .2 2 -.1 2.1 -.4 2 -1 2 -2.7 2 -2 1.1 -2 .5 -2 .1 -2-.3 -2-.5 -3.9-.6 -2-.7 -1.4-1.6 -.6-1.8 -.3-2.2 -.9-4.1 -.1-2 .4-2 .8-2zM51.7 32l2 .7 3.7 3.5 4.2 3.3 6 4.1 1.4 .7 .6 .5 2 1.2 1 .3 0 2 -1 .7 -1.2 1.3 -.8 .6 -1 1.4 -1.9 2 -7.1 6.7 -3.9 3.3 -3.3 2.1 -.7 .8 -2 1.2 -2-1.7 -1.4-2.3 -.6-.6 -2.4-3.4 -5.5-6.6 -1.5-1.5 -1.5-2 -.1-2 1.1-2 1.8-2 10.1-10.5 2-1.4zM111.3 32l2 .4 2 1.4 10.1 10.5 1.8 2 1.1 2 -.1 2 -1.5 2 -1.5 1.5 -5.5 6.6 -2.4 3.4 -.6 .6 -1.4 2.3 -2 1.7 -2-1.2 -.7-.8 -3.3-2.1 -3.9-3.3 -7.1-6.7 -1.9-2 -1-1.4 -.8-.6 -1.2-1.3 -1-.7 0-2 1-.3 2-1.2 .6-.5 1.4-.7 6-4.1 4.2-3.3 3.7-3.5zM17.9 59l2 1.8 2 5.2 2.1 8.5 .5 4 -.5 4 -2.1 8.5 -2 5.2 -2 1.8 -2-.2 -2-2.1 -1.4-3.1 -.7-2 -.8-4 -.5-4.1 -.1-4 .1-4 .5-4.1 .8-4 .7-2 1.4-3.1 2-2.1zM145.1 59l2 .2 2 2.1 1.4 3.1 .7 2 .8 4 .5 4.1 .1 4 -.1 4 -.5 4.1 -.8 4 -.7 2 -1.4 3.1 -2 2.1 -2 .2 -2-1.8 -2-5.2 -2.1-8.5 -.5-4 .5-4 2.1-8.5 2-5.2zM77.5 66.3l2-.5 2-.1 2 .1 2 .5 2 .8 2 1.2 2.3 2.1 1.4 2.1 .9 2 .5 2 .2 2 -.2 2 -.5 2 -.9 2 -1.4 2.1 -2.3 2.1 -2 1.2 -2 .8 -2 .5 -2 .1 -2-.1 -2-.5 -2-.8 -2-1.2 -2.3-2.1 -1.4-2.1 -.9-2 -.5-2 -.2-2 .2-2 .5-2 .9-2 1.4-2.1 2.3-2.1 2-1.2zM49.7 88.6l2 1.2 .7 .8 3.3 2.1 3.9 3.3 7.1 6.7 1.9 2 1 1.4 .8 .6 1.2 1.3 1 .7 0 2 -1 .3 -2 1.2 -.6 .5 -1.4 .7 -6 4.1 -4.2 3.3 -3.7 3.5 -2 .7 -2-.4 -2-1.4 -10.1-10.5 -1.8-2 -1.1-2 .1-2 1.5-2 1.5-1.5 5.5-6.6 2.4-3.4 .6-.6 1.4-2.3zM113.3 88.6l2 1.7 1.4 2.3 .6 .6 2.4 3.4 5.5 6.6 1.5 1.5 1.5 2 .1 2 -1.1 2 -1.8 2 -10.1 10.5 -2 1.4 -2 .4 -2-.7 -3.7-3.5 -4.2-3.3 -6-4.1 -1.4-.7 -.6-.5 -2-1.2 -1-.3 0-2 1-.7 1.2-1.3 .8-.6 1-1.4 1.9-2 7.1-6.7 3.9-3.3 3.3-2.1 .7-.8zM11.2 128.8l2.7-2 2-1.1 2-.5 2-.1 2 .3 2 .5 3.9 .6 2 .7 1.4 1.6 .6 1.8 .3 2.2 .9 4.1 .1 2 -.4 2 -.8 2 -2.1 3 -1.8 1 -2.2 .5 -3.9 .1 -2-.3 -2-.7 -2-1.1 -2-1.6 -2.4-2.9 -1-2 -.6-2 -.2-2 .1-2.1 .4-2zM133.2 127.2l2-.7 3.9-.6 2-.5 2-.3 2 .1 2 .5 2 1.1 2.7 2 1 2 .4 2 .1 2.1 -.2 2 -.6 2 -1 2 -2.4 2.9 -2 1.6 -2 1.1 -2 .7 -2 .3 -3.9-.1 -2.2-.5 -1.8-1 -2.1-3 -.8-2 -.4-2 .1-2 .9-4.1 .3-2.2 .6-1.8zM61.1 140.9l.7-2 3.6-2 10.1-2.7 4-.7 2-.1 2 .1 4 .7 10.1 2.7 3.6 2 .7 2 -1.5 2 -3 1.6 -2 .7 -5.9 1.3 -4 .4 -4 .1 -4-.1 -4-.4 -5.9-1.3 -2-.7 -3-1.6z"/>
<path fill="#00ff2d" d="M12.5 16.1l1.7-2 1.7-1.5 2-1.2 2-.8 2-.4 2-.1 1.9 .2 2 .7 1.7 1.1 2.3 3.9 .4 2.1 0 2 -1.3 6.1 -.9 2 -2.2 1.4 -5.9 1.2 -2 .3 -2-.2 -2-.5 -2-1.1 -1.5-1.1 -1.2-2 -.6-2 -.1-2.1 .3-2 .6-2zM63.4 16.1l1.7-2 4.7-2 5.7-1 6-.4 6 .4 5.7 1 4.7 2 1.7 2 -.8 2 -4.1 2 -9.2 2.3 -4 .3 -4-.3 -9.2-2.3 -4.1-2zM133.5 12.1l1.7-1.1 2-.7 1.9-.2 2 .1 2 .4 2 .8 2 1.2 1.7 1.5 1.7 2 1.1 2 .6 2 .3 2 -.1 2.1 -.6 2 -1.2 2 -1.5 1.1 -2 1.1 -2 .5 -2 .2 -2-.3 -5.9-1.2 -2-1.2 -1.1-2.2 -1.3-6.1 0-2 .4-2.1zM51.7 33.6l2 .7 2 1.4 8.2 6.6 1.9 2 1.4 2 .4 2 -.4 2 -1.1 2 -1.4 2 -3.1 3.3 -2 1.8 -3.9 2.6 -2 1 -2 .6 -2-.1 -2-1 -2-1.4 -2-1.9 -5.8-6.9 -1.2-2 -.2-2 .7-2 1.3-2 7.2-7.6 2-1.8 2-1.1zM111.3 33.6l2 .2 2 1.1 2 1.8 7.2 7.6 1.3 2 .7 2 -.2 2 -1.2 2 -5.8 6.9 -2 1.9 -2 1.4 -2 1 -2 .1 -2-.6 -2-1 -3.9-2.6 -2-1.8 -3.1-3.3 -1.4-2 -1.1-2 -.4-2 .4-2 1.4-2 1.9-2 8.2-6.6 2-1.4zM17.9 61.2l2 2.2 2 5.4 1.3 5.7 .3 4 -.3 4 -1.3 5.7 -2 5.4 -2 2.2 -2-.3 -2-2.3 -1.6-4.6 -.5-2 -.5-4.1 -.2-4 .2-4 .5-4.1 .5-2 1.6-4.6 2-2.3zM145.1 61.2l2 .3 2 2.3 1.6 4.6 .5 2 .5 4.1 .2 4 -.2 4 -.5 4.1 -.5 2 -1.6 4.6 -2 2.3 -2 .3 -2-2.2 -2-5.4 -1.3-5.7 -.3-4 .3-4 1.3-5.7 2-5.4zM77.5 66.6l2-.5 2-.1 2 .1 2 .5 2 .8 2 1.3 1.9 1.7 1.4 2.1 1 2 .5 2 .2 2 -.2 2 -.5 2 -1 2 -1.4 2.1 -1.9 1.7 -2 1.3 -2 .8 -2 .5 -2 .1 -2-.1 -2-.5 -2-.8 -2-1.3 -1.9-1.7 -1.4-2.1 -1-2 -.5-2 -.2-2 .2-2 .5-2 1-2 1.4-2.1 1.9-1.7 2-1.3zM51.7 93.4l2 .6 2 1 3.9 2.6 2 1.8 3.1 3.3 1.4 2 1.1 2 .4 2 -.4 2 -1.4 2 -1.9 2 -8.2 6.6 -2 1.4 -2 .7 -2-.2 -2-1.1 -2-1.8 -7.2-7.6 -1.3-2 -.7-2 .2-2 1.2-2 5.8-6.9 2-1.9 2-1.4 2-1zM111.3 93.4l2 .1 2 1 2 1.4 2 1.9 5.8 6.9 1.2 2 .2 2 -.7 2 -1.3 2 -7.2 7.6 -2 1.8 -2 1.1 -2 .2 -2-.7 -2-1.4 -8.2-6.6 -1.9-2 -1.4-2 -.4-2 .4-2 1.1-2 1.4-2 3.1-3.3 2-1.8 3.9-2.6 2-1zM12.4 128.8l1.5-1.1 2-1.1 2-.5 2-.2 2 .3 5.9 1.2 2 1.2 1.1 2.2 1.3 6.1 0 2 -.4 2.1 -2.3 3.9 -1.7 1.1 -2 .7 -1.9 .2 -2-.1 -2-.4 -2-.8 -2-1.2 -1.7-1.5 -1.7-2 -1.1-2 -.6-2 -.3-2 .1-2.1 .6-2zM145.1 126.1l2 .5 2 1.1 1.5 1.1 1.2 2 .6 2 .1 2.1 -.3 2 -.6 2 -1.1 2 -1.7 2 -1.7 1.5 -2 1.2 -2 .8 -2 .4 -2 .1 -1.9-.2 -2-.7 -2-1.4 -2-3.7 -.4-2 0-2 1.3-6.1 .9-2 2.2-1.4 7.9-1.5zM63.4 140.9l.8-2 4.1-2 9.2-2.3 4-.3 4 .3 9.2 2.3 4.1 2 .8 2 -1.7 2 -4.7 2 -5.7 1 -6 .4 -6-.4 -5.7-1 -4.7-2z"/>
<path fill="#0f1" d="M15.9 13.6l2-1.3 2-.8 2-.4 2-.1 1.9 .3 2 .8 1.9 2 1.2 2 .5 2 0 2 -1.5 6.1 -1.6 2 -2.5 .9 -3.9 1 -2 .2 -2-.2 -2-.7 -2.3-1.2 -1.4-2 -.6-2 -.2-2.1 .3-2 .7-2 1.1-2zM65.9 16.1l1.9-2 3.8-1.4 3.9-.8 6-.4 6 .4 3.9 .8 3.8 1.4 1.9 2 -1 2 -4.4 2 -6.2 1.4 -4 .3 -4-.3 -6.2-1.4 -4.4-2zM135.2 12.1l2-.8 1.9-.3 2 .1 2 .4 2 .8 2 1.3 2 2 1.5 2.5 .7 2 .3 2 -.2 2.1 -.6 2 -1.4 2 -2.3 1.2 -2 .7 -2 .2 -2-.2 -3.9-1 -2.5-.9 -1.6-2 -1.5-6.1 0-2 .5-2 1.1-1.8zM49.7 35.1l2-.2 2 .6 2 1.2 4.5 3.6 2.2 2 1.6 2 1 2 .3 2 -.2 2 -.9 2 -1.3 2 -1.9 2.1 -3.4 2.7 -1.9 1.1 -2 .8 -2 .3 -2-.2 -2-.7 -2-1.1 -2-1.7 -3-3.3 -1.5-2 -1-2 -.3-2 .5-2 1.1-2 1.6-2 4.6-4.8 2-1.5zM111.3 34.9l2 .2 2 .9 2 1.5 2 1.9 2.6 2.9 1.6 2 1.1 2 .5 2 -.3 2 -1 2 -1.5 2 -3 3.3 -2 1.7 -2 1.1 -2 .7 -2 .2 -2-.3 -2-.8 -1.9-1.1 -3.4-2.7 -1.9-2.1 -1.3-2 -.9-2 -.2-2 .3-2 1-2 1.6-2 2.2-2 4.5-3.6 2-1.2zM17.9 63.7l2 2.4 2 6 .4 2.4 .4 4 -.4 4 -.4 2.4 -2 6 -2 2.4 -2-.2 -2-2.8 -1.5-5.8 -.5-6 .5-6 1.5-5.8 2-2.8zM145.1 63.7l2 .2 2 2.8 1.5 5.8 .5 6 -.5 6 -1.5 5.8 -2 2.8 -2 .2 -2-2.4 -2-6 -.4-2.4 -.4-4 .4-4 .4-2.4 2-6zM79.5 66.4l2-.1 2 .1 2 .5 2 .8 1.1 .7 2.4 2 1.5 2.1 1 2 .5 2 .2 2 -.2 2 -.5 2 -1 2 -1.1 1.5 -1.9 2 -2 1.3 -2 .8 -2 .5 -2 .1 -2-.1 -2-.5 -2-.8 -1.1-.7 -2.4-2 -1.5-2.1 -1-2 -.5-2 -.2-2 .2-2 .5-2 1-2 1.1-1.5 1.9-2 2-1.3 2-.8zM51.7 95.7l2 .3 2 .8 1.9 1.1 3.4 2.7 1.9 2.1 1.3 2 .9 2 .2 2 -.3 2 -1 2 -1.6 2 -2.2 2 -4.5 3.6 -2 1.2 -2 .6 -2-.2 -2-.9 -2-1.5 -2-1.9 -2.6-2.9 -1.6-2 -1.1-2 -.5-2 .3-2 1-2 1.5-2 3-3.3 2-1.7 2-1.1 2-.7zM111.3 95.7l2 .2 2 .7 2 1.1 2 1.7 3 3.3 1.5 2 1 2 .3 2 -.5 2 -1.1 2 -1.6 2 -2.6 2.9 -2 1.9 -2 1.5 -2 .9 -2 .2 -2-.6 -2-1.2 -4.5-3.6 -2.2-2 -1.6-2 -1-2 -.3-2 .2-2 .9-2 1.3-2 1.9-2.1 3.4-2.7 1.9-1.1 2-.8zM13.6 128.8l2.3-1.2 2-.7 2-.2 2 .2 3.9 1 2.5 .9 1.6 2 1.5 6.1 0 2 -.5 2 -1.1 1.8 -2 2.2 -2 .8 -1.9 .3 -2-.1 -2-.4 -2-.8 -2-1.3 -2-2 -1.5-2.5 -.7-2 -.3-2 .2-2.1 .6-2zM149.1 128.6l1.7 2.2 .6 2 .2 2.1 -.3 2 -.7 2 -1.5 2.5 -2 2 -2 1.3 -2 .8 -2 .4 -2 .1 -1.9-.3 -2-.8 -2-2.2 -1.1-1.8 -.5-2 0-2 1.5-6.1 1.6-2 2.5-.9 3.9-1 2-.2 2 .2zM65.9 140.9l1-2 4.4-2 6.2-1.4 4-.3 4 .3 6.2 1.4 4.4 2 1 2 -1.9 2 -3.8 1.4 -3.9 .8 -6 .4 -6-.4 -3.9-.8 -3.8-1.4z"/>
<path fill="#0f0" d="M27.8 13.3l.8 .8 1.3 2 .6 2 0 2 -1 4.1 -.9 2 -.8 .9 -2 1.1 -3.9 1 -2 .2 -2-.3 -2-.8 -2-1.4 -.5-.7 -.8-2 -.3-2.1 .3-2 .7-2 .6-1 2-2.3 2-1.5 2-.9 2-.5 2 0 1.9 .4zM135.2 13.3l2-1 1.9-.4 2 0 2 .5 2 .9 2 1.5 2 2.3 .6 1 .7 2 .3 2 -.3 2.1 -.8 2 -.5 .7 -2 1.4 -2 .8 -2 .3 -2-.2 -3.9-1 -2-1.1 -.8-.9 -.9-2 -1-4.1 0-2 .6-2 1.3-2zM68.8 16.1l2.4-2 4.3-1.1 6-.5 6 .5 4.3 1.1 2.4 2 -1.1 2 -5.1 2 -2.5 .5 -4 .3 -4-.3 -2.5-.5 -5.1-2zM51.7 36.2l2 .5 2 1 3.3 2.6 2.1 2 1.4 2 .8 2 .3 2 -.2 2 -.8 2 -1.4 2 -1.6 1.7 -2 1.6 -1.9 1.1 -2 .7 -2 .2 -2-.1 -2-.6 -2-1.1 -2-1.6 -1.7-1.9 -1.5-2 -1-2 -.4-2 .4-2 1-2 1.4-2 1.8-2.1 2-1.8 2-1.4 2-.7zM111.3 36.2l2 .1 2 .7 2 1.4 2 1.8 1.8 2.1 1.4 2 1 2 .4 2 -.4 2 -1 2 -1.5 2 -1.7 1.9 -2 1.6 -2 1.1 -2 .6 -2 .1 -2-.2 -2-.7 -1.9-1.1 -2-1.6 -1.6-1.7 -1.4-2 -.8-2 -.2-2 .3-2 .8-2 1.4-2 2.1-2 3.3-2.6 2-1zM17.9 66.5l2 2.8 1.4 5.2 .5 4 -.5 4 -1.4 5.2 -2 2.8 -2-.2 -2-3.7 -.7-4.1 -.2-4 .2-4 .7-4.1 2-3.7zM72.4 70.4l1.1-1 2-1.3 2-.9 2-.5 2-.1 2 .1 2 .5 2 .9 2 1.3 1.1 1 1.5 2.1 1 2 .6 2 .2 2 -.2 2 -.6 2 -1.7 3 -1.9 2.1 -2 1.3 -2 .9 -2 .5 -2 .1 -2-.1 -2-.5 -2-.9 -2-1.3 -1.9-2.1 -1.7-3 -.6-2 -.2-2 .2-2 .6-2 1-2zM145.1 66.5l2 .2 2 3.7 .7 4.1 .2 4 -.2 4 -.7 4.1 -2 3.7 -2 .2 -2-2.8 -1.4-5.2 -.5-4 .5-4 1.4-5.2zM49.7 97.5l2-.1 2 .2 2 .7 1.9 1.1 1.6 1.2 2 2.1 1.4 2 .8 2 .2 2 -.3 2 -.8 2 -1.4 2 -2.1 2 -3.3 2.6 -2 1 -2 .5 -2-.1 -2-.7 -2-1.4 -2-1.8 -1.8-2.1 -1.4-2 -1-2 -.4-2 .4-2 1-2 1.5-2 1.7-1.9 2-1.6 2-1.1zM109.3 97.6l2-.2 2 .1 2 .6 2 1.1 2 1.6 1.7 1.9 1.5 2 1 2 .4 2 -.4 2 -1 2 -1.4 2 -1.8 2.1 -2 1.8 -2 1.4 -2 .7 -2 .1 -2-.5 -2-1 -1.9-1.5 -3.5-3.1 -1.4-2 -.8-2 -.3-2 .2-2 .8-2 1.4-2 1.6-1.7 2-1.6 1.9-1.1zM13.9 130.1l2-1.4 2-.8 2-.3 2 .2 3.9 1 2 1.1 .8 .9 .9 2 1 4.1 0 2 -.6 2 -1.3 2 -.8 .8 -2 1 -1.9 .4 -2 0 -2-.5 -2-.9 -2-1.5 -2-2.3 -.6-1 -.7-2 -.3-2 .3-2.1 .8-2zM135.2 129.9l2-1.1 3.9-1 2-.2 2 .3 2 .8 2 1.4 .5 .7 .8 2 .3 2.1 -.3 2 -.7 2 -1.3 2 -1.3 1.3 -2 1.5 -2 .9 -2 .5 -2 0 -1.9-.4 -2-1 -.8-.8 -1.3-2 -.6-2 0-2 1-4.1 .9-2zM68.8 140.9l1.1-2 5.1-2 2.5-.5 4-.3 4 .3 2.5 .5 5.1 2 1.1 2 -2.4 2 -4.3 1.1 -6 .5 -6-.5 -4.3-1.1z"/>
<path fill="#0f0" d="M17.9 14.4l2-1 2-.5 2 0 1.9 .5 1.3 .7 .7 .7 .9 1.3 .8 2 .1 2 -1.2 4.1 -.6 1.1 -.7 .9 -1.3 .8 -3.9 1.4 -2 .1 -2.1-.3 -1.9-1 -1.2-1 -1.1-2 -.3-2.1 .3-2 .8-2 1.4-2zM72.7 16.1l2.8-1.6 1.1-.4 4.9-.4 4.9 .4 1.1 .4 2.8 1.6 -1.3 2 -3.5 1 -4 .5 -4-.5 -3.5-1zM135.2 14.8l.7-.7 1.3-.7 1.9-.5 2 0 2 .5 1.5 .7 2.5 1.9 1.5 2.1 .8 2 .3 2 -.3 2.1 -1.1 2 -1.2 1 -1.9 1 -2.1 .3 -2-.1 -3.9-1.4 -1.3-.8 -.7-.9 -.6-1.1 -1.2-4.1 .1-2 .8-2zM49.7 37.3l2-.1 2 .5 2 1 1.9 1.4 2.3 2.2 1.3 2 .8 2 .2 2 -.3 2 -.8 2 -1.5 2 -2 1.8 -1.9 1.2 -2 .7 -2 .2 -2-.1 -2-.5 -2-1.1 -2.5-2.2 -1.5-2 -1-2 -.4-2 .2-2 .9-2 1.4-2 2.9-3 2-1.3zM111.3 37.2l2 .1 2 .7 2 1.3 2.9 3 1.4 2 .9 2 .2 2 -.4 2 -1 2 -2 2.6 -2 1.6 -2 1.1 -2 .5 -2 .1 -2-.2 -2-.7 -1.9-1.2 -2-1.7 -1.5-2.1 -.8-2 -.3-2 .2-2 .8-2 1.3-2 2.1-2 2.1-1.6 2-1zM75.5 68.4l2-.9 2-.5 2-.1 2 .1 2 .5 2 .9 2.7 2 1.6 2.1 1 2 .6 2 .2 2 -.2 2 -.6 2 -1.4 2.5 -1.9 2.2 -2 1.4 -2 .9 -2 .5 -2 .1 -2-.1 -2-.5 -2-.9 -2.7-2 -1.6-2.1 -1-2 -.6-2 -.2-2 .2-2 .6-2 1.4-2.5 1.9-2.2zM17.9 70.2l2 3.7 .5 4.6 -.5 4.6 -2 3.7 -2-.4 -1.2-3.9 -.5-4 .5-4 1.2-3.9zM145.1 70.2l2 .4 1.2 3.9 .5 4 -.5 4 -1.2 3.9 -2 .4 -2-3.7 -.5-4.6 .5-4.6zM49.7 98.9l2-.1 2 .2 2 .7 1.9 1.2 2 1.8 1.5 2 .8 2 .3 2 -.2 2 -.8 2 -1.3 2 -2.1 2 -2.1 1.6 -2 1 -2 .5 -2-.1 -2-.7 -2-1.3 -2.9-3 -1.4-2 -.9-2 -.2-2 .4-2 1-2 2-2.6 2-1.6 2-1.1zM107.3 99.7l2-.7 2-.2 2 .1 2 .5 2 1.1 2 1.6 2 2.6 1 2 .4 2 -.2 2 -.9 2 -1.4 2 -2.9 3 -2 1.3 -2 .7 -2 .1 -2-.5 -2-1 -1.9-1.4 -2.3-2.2 -1.3-2 -.8-2 -.2-2 .3-2 .8-2 1.5-2.1 2-1.7zM14.7 130.8l1.2-1 1.9-1 2.1-.3 2 .1 3.9 1.4 1.3 .8 .7 .9 .6 1.1 1.2 4.1 -.1 2 -.8 2 -.9 1.3 -.7 .7 -1.3 .7 -1.9 .5 -2 0 -2-.5 -1.5-.7 -2.5-1.9 -1.5-2.1 -.8-2 -.3-2 .3-2.1zM145.1 128.8l2 1 1.2 1 1.1 2 .3 2.1 -.3 2 -.8 2 -1.5 2.1 -2 1.6 -2 1 -2 .5 -2 0 -1.9-.5 -1.3-.7 -.7-.7 -.9-1.3 -.8-2 -.1-2 1.2-4.1 .6-1.1 .7-.9 1.3-.8 3.2-1.2 2.7-.3zM72.7 140.9l1.3-2 3.5-1 4-.5 4 .5 3.5 1 1.3 2 -2.8 1.6 -1.1 .4 -4.9 .4 -4.9-.4 -1.1-.4z"/>
<path fill="#10ff00" d="M25.8 14.7l1.5 1.4 1 2 .2 2 -.4 2 -.9 2.1 -1.4 1.5 -.7 .5 -3.2 1.1 -2 .1 -2-.5 -1.6-.7 -.4-.4 -1-1.6 -.4-2.1 .3-2 1.1-2.4 2-2.1 2-1.1 1.4-.4 2.6-.1zM135.7 16.1l1.5-1.4 1.9-.7 2 0 2 .5 2.6 1.6 1.7 2 .8 2 .3 2 -.4 2.1 -1 1.6 -2 1.1 -2 .5 -2-.1 -2-.6 -1.9-1 -1.4-1.5 -.6-1.4 -.7-2.7 .2-2zM49.7 38.3l2-.1 2 .5 2.8 1.6 2.2 2 1.4 2 .8 2 .1 2 -.4 2 -.9 2 -2.1 2.4 -1.9 1.3 -2 .8 -2 .3 -2-.1 -2-.6 -2-1.1 -2-1.8 -.9-1.2 -1-2 -.5-2 .2-2 .8-2 1.4-2 2-2 2-1.3zM111.3 38.2l2 .1 2 .7 2 1.3 2 2 1.4 2 .8 2 .2 2 -.5 2 -1 2 -1.8 2 -1.1 1 -2 1.1 -2 .6 -2 .1 -2-.3 -2-.8 -2.3-1.7 -1.7-2 -.9-2 -.4-2 .1-2 .8-2 1.4-2 3-2.6 2-1zM75.5 68.7l2-.9 2-.5 2-.1 2 .1 2 .5 2 .9 2.2 1.7 1.7 2.1 1.1 2 .6 2 .2 2 -.2 2 -.6 2 -1.1 2 -1.7 2.1 -2.2 1.7 -2 .9 -2 .5 -2 .1 -2-.1 -2-.5 -2-.9 -2.2-1.7 -1.7-2.1 -1.1-2 -.6-2 -.2-2 .2-2 .6-2 1.1-2 1.7-2.1zM49.7 100l2-.1 2 .3 2 .8 1.9 1.3 2.1 2.4 .9 2 .4 2 -.1 2 -.8 2 -1.4 2 -3 2.6 -2 1 -2 .5 -2-.1 -2-.7 -2-1.3 -2-2 -1.4-2 -.8-2 -.2-2 .5-2 1-2 .9-1.2 2-1.8 2-1.1zM109.3 100.2l2-.3 2 .1 2 .6 2 1.1 2 1.8 .9 1.2 1 2 .5 2 -.2 2 -.8 2 -1.4 2 -2 2 -2 1.3 -2 .7 -2 .1 -2-.5 -2.8-1.6 -2.2-2 -1.4-2 -.8-2 -.1-2 .4-2 .9-2 2.1-2.4 1.9-1.3zM15.9 131.2l2-1.1 2-.5 2 .1 2 .6 1.9 1 1.4 1.5 .6 1.4 .7 2.7 -.2 2 -1 2 -1.5 1.4 -1.9 .7 -2 0 -2-.5 -2.6-1.6 -1.7-2 -.8-2 -.3-2 .4-2.1zM137.2 131.3l1.9-1 2-.6 2-.1 2 .5 2 1.1 1 1.6 .4 2.1 -.3 2 -.8 2 -1.7 2 -2.6 1.6 -2 .5 -2 0 -1.9-.7 -1.5-1.4 -1-2 -.2-2 .7-2.7 .6-1.4z"/>
<path fill="#2bff00" d="M23.9 15.5l1.5 .6 .4 .4 1 1.6 .4 2 -.5 2 -.9 1.7 -1.9 1.5 -2 .8 -2 .1 -2-.8 -1.4-1.2 -.7-2.1 .3-2 1-2 .8-.8 2-1.4 2-.5zM137.2 16.5l.4-.4 1.5-.6 2-.1 2 .5 2 1.4 .8 .8 1 2 .3 2 -.7 2.1 -1.4 1.2 -2 .8 -2-.1 -2-.8 -1.6-1.1 -1.2-2.1 -.5-2 .4-2zM47.7 39.9l2-.7 2-.1 2 .5 2 1.1 1.8 1.6 1.5 2 .7 2 .2 2 -.5 2 -1.1 2 -.7 .8 -1.9 1.6 -2 .9 -2 .4 -2-.1 -2-.6 -2-1.3 -1.7-1.7 -1.2-2 -.5-2 .2-2 .8-2 1.5-2 .9-1zM109.3 39.6l2-.5 2 .1 2 .7 2 1.4 .9 1 1.5 2 .8 2 .2 2 -.5 2 -.9 1.6 -2 2.1 -2 1.3 -2 .6 -2 .1 -2-.4 -2-.9 -1.9-1.6 -.7-.8 -1.1-2 -.5-2 .2-2 .7-2 1.5-2 1.8-1.6zM75.5 69.1l2-1 2-.5 2-.2 2 .2 2 .5 2 1 2 1.5 1.6 1.9 1.1 2 .6 2 .2 2 -.2 2 -.6 2 -1.1 2 -1.6 1.9 -2 1.5 -2 1 -2 .5 -2 .2 -2-.2 -2-.5 -2-1 -2-1.5 -1.6-1.9 -1.1-2 -.6-2 -.2-2 .2-2 .6-2 1.1-2 1.6-1.9zM45.7 103l2-1.3 2-.6 2-.1 2 .4 2 .9 1.9 1.6 .7 .8 1.1 2 .5 2 -.2 2 -.7 2 -1.5 2 -2.6 2 -1.2 .7 -2 .5 -2-.1 -2-.7 -2-1.4 -.9-1 -1.5-2 -.8-2 -.2-2 .5-2 .9-1.6zM107.3 102.3l2-.9 2-.4 2 .1 2 .6 2 1.3 1.7 1.7 1.2 2 .5 2 -.2 2 -.8 2 -1.5 2 -.9 1 -2 1.4 -2 .7 -2 .1 -2-.5 -2-1.1 -1.8-1.6 -1.5-2 -.7-2 -.2-2 .5-2 1.1-2 .7-.8zM16.5 132.8l1.4-1.2 2-.8 2 .1 2 .8 1.6 1.1 1.2 2.1 .5 2 -.4 2 -1 1.6 -.4 .4 -1.5 .6 -2 .1 -2-.5 -2-1.4 -.8-.8 -1-2 -.3-2zM145.1 131.6l1.4 1.2 .7 2.1 -.3 2 -1 2 -.8 .8 -1.5 1.2 -2.5 .7 -2-.1 -1.5-.6 -.4-.4 -1-1.6 -.4-2 .5-2 1.2-2.1 1.6-1.1 2-.8 2-.1z"/>
<path fill="#45ff00" d="M21.9 17.4l2 .3 .4 .4 .8 2 -.6 2 -.6 .9 -1.8 1.2 -2.2 0 -2-2 .2-2.1 1.5-2zM138.7 18.1l.4-.4 2-.3 2 .5 1.8 2.2 .2 2.1 -1.9 2 -2.3 0 -1.8-1.2 -.6-.9 -.6-2zM49.7 40.1l2 0 2 .5 2 1.2 2.2 2.5 .8 2 .1 2 -.5 2 -1.4 2 -1.2 1.2 -1.7 .8 -2.3 .6 -2-.1 -2-.7 -2-1.3 -1.8-2.5 -.6-2 .2-2 .8-2 1.4-1.9 2-1.5zM111.3 40.1l2.3 .2 1.7 .6 1.9 1.4 1.5 2 .8 2 .2 2 -.6 2 -1.4 2 -2.4 1.8 -2 .7 -2 .1 -2-.4 -2-1 -1.2-1.2 -1.4-2 -.5-2 .1-2 .8-2 1.6-2 2.6-1.7zM77.5 68.5l2-.6 2-.2 2 .2 2 .6 2 .9 2 1.6 1.2 1.5 1.2 2 .6 2 .2 2 -.2 2 -.6 2 -1.2 2 -1.2 1.5 -2 1.6 -2 .9 -2 .6 -2 .2 -2-.2 -2-.6 -2-.9 -2-1.6 -1.2-1.5 -1.2-2 -.6-2 -.2-2 .2-2 .6-2 1.2-2 1.2-1.5 2-1.6zM47.7 102.9l2-.7 2-.1 2 .4 2 1 1.2 1.2 1.4 2 .5 2 -.1 2 -.8 2 -1.6 2 -2.6 1.7 -2 .5 -2 0 -2-.8 -2-1.5 -1.4-1.9 -.8-2 -.2-2 .6-2 1.4-2zM111.3 102.1l2 .1 2 .7 2 1.3 1.8 2.5 .6 2 -.2 2 -.8 2 -1.4 1.9 -2 1.5 -2 .8 -2 0 -2-.5 -2-1.2 -2.2-2.5 -.8-2 -.1-2 .5-2 1.4-2 1.2-1.2 1.7-.8zM19.8 132.8l2.3 0 1.8 1.2 .6 .9 .6 2 -.8 2 -.4 .4 -2 .3 -2-.5 -1.8-2.2 -.2-2.1zM143.1 132.8l2 2 -.2 2.1 -1.8 2.2 -2 .5 -2-.3 -.4-.4 -.8-2 .6-2 .6-.9 1.8-1.2z"/>
<path fill="#5fff00" d="M47.2 42.3l2.5-1.2 2-.1 2 .6 1.1 .7 1.9 2 .9 2 .1 2 -.7 2 -1.6 2 -1.7 1.1 -2 .4 -2-.1 -2-.7 -2-1.7 -.7-1 -.6-2 .1-2 .8-2zM107.3 43l2-1.4 2-.6 2 .1 2.5 1.2 1.9 2 .8 2 .1 2 -.6 2 -.7 1 -2 1.7 -2 .7 -2 .1 -2-.4 -1.7-1.1 -1.6-2 -.7-2 .1-2 .9-2zM77.5 68.8l2-.6 2-.2 2 .2 2 .6 2 .9 2 1.7 .9 1.1 1.1 2 .7 2 .2 2 -.2 2 -.7 2 -1.1 2 -.9 1.1 -2 1.7 -2 .9 -2 .6 -2 .2 -2-.2 -2-.6 -2-.9 -2-1.7 -.9-1.1 -1.1-2 -.7-2 -.2-2 .2-2 .7-2 1.1-2 .9-1.1 2-1.7zM45.7 105.7l2-1.7 2-.7 2-.1 2 .4 1.7 1.1 1.6 2 .7 2 -.1 2 -.9 2 -1.9 2 -1.1 .7 -2 .6 -2-.1 -2-.8 -2.4-2.4 -.8-2 -.1-2 .6-2zM107.6 104.7l1.7-1.1 2-.4 2 .1 2 .7 2 1.7 .7 1 .6 2 -.1 2 -.8 2 -1.9 2 -2.5 1.2 -2 .1 -2-.6 -1.1-.7 -1.9-2 -.9-2 -.1-2 .7-2z"/>
<path fill="#7aff00" d="M47.7 43.2l2-1.1 2-.1 2 .7 1.8 1.6 1 2 0 2 -.7 2 -2.1 1.9 -2 .6 -2-.1 -2-1 -1.4-1.4 -.9-2 .1-2 1.1-2zM111.3 42l2 .1 2 1.1 1.1 1.1 1.1 2 .1 2 -.9 2 -1.4 1.4 -2 1 -2 .1 -2-.6 -2.1-1.9 -.7-2 0-2 1-2 1.8-1.6zM79.5 68.5l2-.2 2 .2 2 .6 2 1 2.5 2.4 1.2 2 .7 2 .2 2 -.2 2 -.7 2 -1.2 2 -2.5 2.4 -2 1 -2 .6 -2 .2 -2-.2 -2-.6 -2-1 -2.5-2.4 -1.2-2 -.7-2 -.2-2 .2-2 .7-2 1.2-2 2.5-2.4 2-1zM47.7 105.3l2-1 2-.1 2 .6 2.1 1.9 .7 2 0 2 -1 2 -1.8 1.6 -2 .7 -2-.1 -2-1.1 -1.1-1.1 -1.1-2 -.1-2 .9-2zM111.3 104.2l2 .1 2 1 1.4 1.4 .9 2 -.1 2 -1.1 2 -1.1 1.1 -2 1.1 -2 .1 -2-.7 -1.8-1.6 -1-2 0-2 .7-2 2.1-1.9z"/>
<path fill="#94ff00" d="M47.7 44.6l2-1.2 2-.2 2.3 1.1 1.2 2 .1 2 -1.2 2 -.4 .4 -2 .8 -2-.1 -1.9-1.1 -1.1-2 .1-2zM109 44.3l2.3-1.1 2 .2 1.7 .9 1.2 2 .1 2 -1.1 2 -1.9 1.1 -2 .1 -2-.8 -.4-.4 -1.2-2 .1-2zM75.5 70.4l2-1 2-.6 2-.2 2 .2 2 .6 2 1 2.2 2.1 1.2 2 .7 2 .2 2 -.2 2 -.7 2 -1.2 2 -2.2 2.1 -2 1 -2 .6 -2 .2 -2-.2 -2-.6 -2-1 -2.2-2.1 -1.2-2 -.7-2 -.2-2 .2-2 .7-2 1.2-2zM47.8 106.7l1.9-1.1 2-.1 2 .8 .4 .4 1.2 2 -.1 2 -1.2 2 -2.3 1.1 -2-.2 -1.7-.9 -1.2-2 -.1-2zM108.9 106.7l.4-.4 2-.8 2 .1 1.9 1.1 1.1 2 -.1 2 -.9 1.7 -2 1.2 -2 .2 -2.3-1.1 -1.2-2 -.1-2z"/>
<path fill="#aeff00" d="M48.4 46.3l1.3-1.4 2-.2 2 1.6 .1 2 -2.1 1.8 -2-.3 -1.4-1.5zM109.3 46.3l2-1.6 2 .2 1.3 1.4 .1 2 -1.4 1.5 -2 .3 -2.1-1.8zM75.5 70.8l2-1.1 2-.6 2-.2 2 .2 2 .6 1.4 .7 2.6 2.3 1 1.8 .8 2 .2 2 -.2 2 -.8 2 -1 1.8 -2 1.9 -2 1.1 -2 .6 -2 .2 -2-.2 -2-.6 -1.4-.7 -2.6-2.3 -1-1.8 -.8-2 -.2-2 .2-2 .8-2 1-1.8zM48.3 108.7l1.4-1.5 2-.3 2.1 1.8 -.1 2 -2 1.6 -2-.2 -1.3-1.4zM109.2 108.7l2.1-1.8 2 .3 1.4 1.5 -.1 2 -1.3 1.4 -2 .2 -2-1.6z"/>
<path fill="#c9ff00" d="M76.7 70.4l2.8-1 2-.2 2 .2 2 .6 2 1.2 1.3 1.3 1.4 2 .7 2 .3 2 -.3 2 -.7 2 -.7 1.2 -2 2.1 -1.2 .8 -2.8 1 -2 .2 -2-.2 -2-.6 -2-1.2 -1.3-1.3 -1.4-2 -.7-2 -.3-2 .3-2 .7-2 .7-1.2 2-2.1z"/>
<path fill="#e3ff00" d="M77.3 70.4l2.2-.6 2-.2 2 .2 2 .5 2 1.3 .9 .9 1.4 2 .8 2 .2 2 -.2 2 -.8 2 -1.4 2 -2.7 2.1 -2.2 .6 -2 .2 -2-.2 -2-.5 -2-1.3 -.9-.9 -1.4-2 -.8-2 -.2-2 .2-2 .8-2 1.4-2z"/>
<path fill="#fdff00" d="M77.5 70.7l2-.6 2-.2 2 .2 2 .6 2 1.4 2 2.4 .7 2 .2 2 -.2 2 -.7 2 -1.6 2 -2.4 1.8 -2 .6 -2 .2 -2-.2 -2-.6 -2-1.4 -2-2.4 -.7-2 -.2-2 .2-2 .7-2 1.6-2z"/>
<path fill="#ffe200" d="M79.5 70.4l2-.2 2 .2 2 .8 2 1.3 1.5 2 .8 2 .3 2 -.3 2 -.8 2 -1.6 2 -1.9 1.3 -2 .8 -2 .2 -2-.2 -2-.8 -2-1.3 -1.5-2 -.8-2 -.3-2 .3-2 .8-2 1.6-2 1.9-1.3z"/>
<path fill="#ffc400" d="M75.5 73.1l2-1.5 2-.8 2-.2 2 .2 2 .8 1.3 .9 1.8 2 .9 2 .2 2 -.2 2.1 -.9 1.9 -1.1 1.4 -2 1.5 -2 .8 -2 .2 -2-.2 -2-.8 -1.3-.9 -1.8-2 -.9-2 -.2-2 .2-2.1 .9-1.9z"/>
<path fill="#ffa500" d="M76.8 72.5l.7-.5 2-.8 2-.2 2 .2 2 .8 .7 .5 1.9 2 .9 2 .4 2 -.4 2 -.9 2 -1.9 2 -.7 .5 -2 .8 -2 .2 -2-.2 -2-.8 -.7-.5 -1.9-2 -.9-2 -.4-2 .4-2 .9-2z"/>
<path fill="#ff8700" d="M77.5 72.5l2-.9 2-.2 2 .2 2 .9 2.2 2 .9 2 .3 2 -.3 2 -.9 2 -2.2 2 -2 .9 -2 .2 -2-.2 -2-.9 -2.2-2 -.9-2 -.3-2 .3-2 .9-2z"/>
<path fill="#ff6800" d="M79.5 72l2-.2 2 .2 2 1 1.6 1.5 1 2 .4 2 -.4 2 -1 2 -1.6 1.5 -2 1 -2 .2 -2-.2 -2-1 -1.6-1.5 -1-2 -.4-2 .4-2 1-2 1.6-1.5z"/>
<path fill="#ff4a00" d="M79.5 72.5l2-.3 2 .3 2 1.1 .9 .9 1.3 2 .3 2 -.3 2 -1.3 2 -.9 .9 -2 1.1 -2 .3 -2-.3 -2-1.1 -.9-.9 -1.3-2 -.3-2 .3-2 1.3-2 .9-.9z"/>
<path fill="#ff2b00" d="M77.2 74.5l2.3-1.4 2-.4 2 .4 2.3 1.4 1.3 2 .4 2 -.4 2 -1.3 2 -2.3 1.4 -2 .4 -2-.4 -2.3-1.4 -1.3-2 -.4-2 .4-2z"/>
<path fill="#ff0d00" d="M78.1 74.5l1.4-.8 2-.4 2 .4 1.4 .8 .6 .5 .9 1.5 .5 2 -.5 2 -.9 1.5 -.6 .5 -1.4 .8 -2 .4 -2-.4 -1.4-.8 -.6-.5 -.9-1.5 -.5-2 .5-2 .9-1.5z"/>
<path fill="#f00" d="M79.5 74.3l2-.3 2 .3 2 1.7 .3 .5 .4 2 -.4 2 -.3 .5 -2 1.7 -2 .3 -2-.3 -2-1.7 -.3-.5 -.4-2 .4-2 .3-.5z"/>
<path fill="#f00" d="M78.3 76.5l1.2-1.1 2-.7 2 .7 1.2 1.1 .8 1.8 -.8 2.2 -1.2 1.1 -2 .7 -2-.7 -1.2-1.1 -.8-1.8z"/>
<path fill="#f00" d="M79.9 76.5l1.6-.5 1.6 .5 .4 .3 .6 1.7 -.6 1.7 -.4 .3 -1.6 .5 -1.6-.5 -.4-.3 -.6-1.7 .6-1.7z"/>
</svg>
<path d="M462.0 184.0V27.0H625.0" fill="none" stroke="#0c0c50" stroke-width="1"/>
<path d="M625.0 27.0V184.0" fill="none" stroke="#3c3c46" stroke-width="0.9"/>
<rect x="626.7" y="26.8" width="13.3" height="3.4" fill="#858585"/>
<rect x="626.7" y="30.0" width="13.3" height="154.0" fill="url(#cb)"/>
<path d="M626.7 26.8V184.0M640.0 26.8V184.0" stroke="#5a5a5a" stroke-width="0.7" fill="none"/>
<text transform="translate(640.8 31.1) scale(1.045 1)" font-size="13.8">-62.6</text>
<text transform="translate(640.8 109.2) scale(1.045 1)" font-size="13.8">-28.9</text>
<text transform="translate(640.8 178.7) scale(1.045 1)" font-size="13.8">-0.0</text>
<text transform="translate(616.1 15.9) scale(1.045 1)" font-size="13.6">10<tspan dy="-4.3" font-size="9.4">3</tspan></text>
<text id="cap2" transform="translate(560.9 206.8) scale(1.045 1)" font-size="16.1" text-anchor="middle">UTP (1103-3k Hz)</text>
<svg x="5.3" y="241.5" width="164.0" height="157.1" viewBox="0 0 164.0 157.1" overflow="hidden">
<rect width="164.0" height="157.1" fill="#00f"/>
<path fill="#00f" d="M0 0l164 0 0 157.1 -164 0z"/>
<path fill="#00f" d="M5.4 9.9l2.6-2.5 3.9-3.4 5.4-4 129.4 0 3.3 2.3 4 3.2 4.6 4.4 3.4 4 2 2.7 0 123.9 -3.7 4.7 -3.7 3.9 -2.6 2.5 -4 3.2 -3.3 2.3 -129.4 0 -3.3-2.3 -4-3.2 -4.6-4.4 -3.4-4 -2-2.7 0-123.9 2-2.7z"/>
<path fill="#000cff" d="M14 15.3l4-3.7 6-4.4 4-2.4 4-2 4-1.7 3.2-1.1 85.6 0 3.2 1.1 4 1.7 4 2 6 3.8 6 4.8 4.5 4.5 4.6 6 3.5 5.9 1.9 4 1.5 3.8 0 81.9 -1.5 3.8 -3 6 -2.4 3.9 -4.6 6 -2.5 2.6 -3.6 3.4 -6.4 4.7 -4 2.4 -4 2 -4 1.7 -3.2 1.1 -85.6 0 -3.2-1.1 -4-1.7 -4-2 -6-3.8 -6-4.8 -4.5-4.5 -4.6-6 -3.5-5.9 -1.9-4 -1.5-3.8 0-81.9 2.4-5.8 3.3-5.9 4.2-6z"/>
<path fill="#0029ff" d="M22 15.7l6-4.4 6.1-3.3 3.9-1.8 4-1.4 8-2.3 8-1.4 10-.9 3.7-.2 20.6 0 9.7 .6 8 1.1 8 1.8 6 1.9 6 2.6 6 3.3 6 4.4 4 3.6 4 4.6 2.9 3.9 3.4 6 2.6 6 1.9 5.9 1.8 8 1 7.9 .4 7.1 0 19.7 -.3 5.1 -.5 5.9 -.6 4 -1.8 8 -1.2 3.9 -1.5 4 -2.9 6 -3.7 5.9 -3.1 4 -2.4 2.6 -4 3.6 -6 4.4 -6 3.3 -6 2.6 -6 1.9 -8 1.8 -8 1.1 -9.7 .6 -20.6 0 -5.7-.3 -10-1.1 -8-1.6 -8-2.4 -4-1.7 -4-1.9 -4-2.3 -3.8-2.6 -2.5-2 -3.7-3.4 -2.4-2.6 -3.1-4 -3.7-5.9 -2.9-6 -1.5-4 -1.2-3.9 -1.8-8 -.6-4 -.5-5.9 -.3-5.1 0-19.7 .6-9 1.2-8 2-8 2.1-5.9 2.9-6 3.7-5.9 3.1-4 1.9-2z"/>
<path fill="#0046ff" d="M30 15.8l6-3.5 4-1.9 4-1.6 6-1.9 8-1.7 8-1 10-.5 12 0 10 .5 6 .7 8 1.5 8 2.4 4 1.6 6 2.9 6 3.9 4 3.3 4 4 2.8 3.3 2.8 4 3.3 6 2.5 5.9 1.9 6 1.7 8 .7 5.9 .4 10 0 11.9 -.6 10 -.9 5.9 -1.9 8 -2 5.9 -1.8 4 -2.1 4 -2.5 4 -3.1 3.9 -5.2 5.4 -3.1 2.6 -2.9 2.1 -6 3.5 -4 1.9 -4 1.6 -6 1.9 -8 1.7 -8 1 -10 .5 -14 0 -10-.7 -6-.8 -8-1.7 -6-1.9 -6-2.5 -6-3.2 -6-4.3 -3.5-3.1 -2.5-2.6 -2.8-3.3 -2.8-4 -3.3-6 -2.5-5.9 -1.3-4 -1.1-4 -1.4-8 -.7-7.9 -.3-13.9 .5-12 .7-5.9 1.7-8 2.6-7.9 2.8-6 1.1-2 2.5-4 4.3-5.3 4.7-4.6z"/>
<path fill="#0063ff" d="M32 19l6-3.7 6-2.9 4-1.5 4-1.2 6-1.5 6-1 8-.7 10-.2 10 .2 8 .7 6 1 6 1.5 6.7 2.2 5.3 2.4 6 3.4 5.7 4.2 4.3 4 2 2.1 3 3.8 3.8 6 2.9 5.9 2.3 6.4 1.8 7.6 1.2 7.9 .4 8 0 9.9 -.4 8 -.8 5.9 -1.7 8 -2 6 -2.6 5.9 -3.5 6 -4.4 5.8 -4 4.1 -6 4.9 -6 3.7 -4 2 -4 1.7 -6 1.9 -8 1.8 -8 1.1 -8 .5 -10 0 -8-.3 -8-.9 -8-1.6 -8-2.5 -6-2.7 -6-3.4 -5.7-4.2 -4.3-4 -2-2.1 -3-3.8 -3.8-6 -2-4 -1.7-3.9 -2-6 -1.7-8 -.9-7.9 -.4-10 .4-11.9 .9-7.9 1.7-8 2-6 2.6-5.9 3.5-6 4.4-5.8 4-4.1z"/>
<path fill="#0080ff" d="M36.8 19.9l5.2-3 6.4-3 5.8-2 8.4-2 7.4-1 8-.4 10 0 8 .6 6 1 7.8 1.8 5.8 2 4.6 2 3.8 2 6.1 4 4.8 4 5.1 5.2 4 5.2 3.2 5.5 2.8 5.8 2.1 6.1 1.8 7.9 .8 6 .5 8 -.2 9.9 -.8 8 -1.1 5.9 -1.6 6 -2.3 6 -3.2 6.2 -3.8 5.7 -4.2 5 -4 3.8 -6 4.6 -6 3.5 -6.4 3 -7.6 2.5 -8 1.7 -8 .9 -8 .4 -10-.2 -8-.8 -8-1.5 -3.8-1 -4.2-1.4 -6-2.5 -4-2.1 -6.1-4 -4.8-4 -5.1-5.2 -4-5.2 -2-3.2 -2-3.7 -2.8-6.5 -1.2-3.7 -1.1-4.3 -1.4-7.9 -.6-8 0-9.9 .6-8 1.4-7.9 1.6-6 2.3-6 3.2-6.2 3.8-5.7 4.2-5 5.3-4.9z"/>
<path fill="#009dff" d="M48 17.6l6-2.5 6-1.9 6-1.3 8-1.1 6-.3 8 .1 8 .9 6 1.2 6 1.7 6 2.3 6.3 3.2 5.7 3.6 5.5 4.3 4.1 4 4.4 5.3 3.2 4.7 3.3 5.9 2.5 6 1.8 6 1.6 7.9 .5 6 .1 7.9 -.6 8 -1.1 6 -1.7 5.9 -2.2 6 -3 6 -2.5 3.9 -3.9 5.2 -4.4 4.8 -4.5 3.9 -5.5 4 -3.3 2 -3.7 2 -6.6 2.8 -6 1.9 -8 1.7 -8 .9 -8 .1 -8-.5 -6.4-.9 -7.6-1.9 -6-2.1 -6-2.7 -6-3.5 -5.1-3.8 -4.9-4.3 -5-5.6 -4.2-6 -3.3-5.9 -1.7-4 -1.4-4 -1.7-5.9 -1.3-8 -.5-8 .3-7.9 1.1-8 1.4-5.9 2.1-6 2.7-6 3.6-5.9 4.5-6 3.8-4 5.6-4.8 6-4.1z"/>
<path fill="#00baff" d="M64 14.8l8-1.7 6-.6 6-.1 6 .4 8 1.5 5.8 1.6 6.2 2.4 6 2.9 6 3.7 4 3 6 5.4 4 4.5 4.4 5.9 3.5 6 2.7 6 2.1 5.9 1.4 6 .8 6 .2 5.9 -.4 6 -.6 4 -.9 4 -1.8 5.9 -2.5 6 -2.9 5.5 -4 5.9 -4 4.9 -4 4 -6 5 -4 2.8 -6 3.4 -6 2.8 -6 2.1 -8 1.9 -6 .8 -6 .2 -8-.4 -8-1.5 -5.8-1.6 -6.2-2.4 -6-2.9 -6-3.7 -4-3 -6-5.4 -4-4.5 -4.4-5.9 -3.5-6 -2.7-6 -2.1-5.9 -1-4 -.7-4 -.6-6 0-5.9 .6-6 1.2-6 1.8-5.9 2.5-6 3.2-6 3.7-5.4 4-4.9 4-4 6-5 6-4 6-3.2 6-2.5z"/>
<path fill="#00d7ff" d="M76 14.5l6-.4 6 .4 6 1 6 1.7 6 2.2 6 2.9 6 3.6 6 4.4 6 5.5 3.7 4 4.5 5.9 3.6 6 2.9 6 2.2 5.9 1.4 6 .8 6 .1 3.9 -.5 6 -1.3 6 -1.9 5.9 -2.6 6 -3.4 6 -4.2 5.9 -3.4 4 -3.9 4 -6 5.1 -6 4.1 -6 3.4 -6 2.6 -6 2.1 -6 1.4 -6 .8 -6 .1 -6-.6 -8-1.7 -6-2.1 -6-2.6 -6-3.4 -6-4.1 -3.8-3.1 -4.2-4 -5.3-6 -4.2-5.9 -2.3-4 -2.9-6 -2.2-5.9 -1.4-6 -.8-6 -.1-3.9 .5-6 1.3-6 1.9-5.9 2.6-6 3.4-6 4.2-5.9 3.4-4 3.9-4 6-5.1 6-4.1 4-2.3 6-2.9 6-2.2 6-1.7z"/>
<path fill="#00f4ff" d="M82 15.8l4 .3 6 .9 6 1.6 6 2.2 4 1.8 4 2.2 4 2.5 4 2.8 6 5.1 4.5 4.6 4.9 5.9 3.9 6 2.1 4 1.9 4 2.1 5.9 1.4 6 .7 6 -.4 5.9 -1.2 6 -1.1 4 -1.5 3.9 -1.9 4 -2.1 4 -3.9 6 -4.9 5.9 -3.9 4 -6.6 5.7 -4 2.8 -4 2.5 -4 2.2 -4 1.8 -6 2.2 -6 1.6 -6 .9 -4 .3 -4-.3 -6-.9 -6-1.6 -6-2.2 -4-1.8 -4-2.2 -4-2.5 -4-2.8 -6-5.1 -4.5-4.6 -4.9-5.9 -3.9-6 -2.1-4 -1.9-4 -2.1-5.9 -1.4-6 -.7-6 .4-5.9 1.2-6 1.1-4 1.5-3.9 1.9-4 2.1-4 3.9-6 4.9-5.9 3.9-4 6.6-5.7 4-2.8 4-2.5 4-2.2 4-1.8 6-2.2 6-1.6 6-.9z"/>
<path fill="#0fe" d="M82 17.5l4 .2 6 .9 6 1.7 6 2.2 4 1.9 4 2.2 4 2.6 4 2.9 6 5.3 2.3 2.4 5.1 5.9 4 6 2.2 4 1.9 4 2.1 5.9 1.5 6 .7 6 -.2 3.9 -.9 6 -1.7 6 -2.4 5.9 -3.2 6 -2.6 4 -3 4 -5.8 6.3 -6 5.3 -4 2.9 -4 2.6 -4 2.2 -4 1.9 -6 2.2 -6 1.7 -6 .9 -4 .2 -4-.2 -6-.9 -6-1.7 -6-2.2 -4-1.9 -4-2.2 -4-2.6 -4-2.9 -6-5.3 -2.3-2.4 -5.1-5.9 -4-6 -2.2-4 -1.9-4 -2.1-5.9 -1.5-6 -.7-6 .2-3.9 .9-6 1.7-6 2.4-5.9 3.2-6 2.6-4 3-4 5.8-6.3 6-5.3 4-2.9 4-2.6 4-2.2 4-1.9 6-2.2 6-1.7 6-.9z"/>
<path fill="#00ffd2" d="M78 19.2l6-.2 6 .7 6 1.3 6 2 4 1.7 4 2 6 3.7 6 4.7 4.9 4.7 3.5 3.9 3.1 4 3.7 6 2 4 1.6 3.9 1.3 4 1.4 6 .7 6 -.2 3.9 -.8 6 -1.7 6 -2.3 5.9 -2 4 -3.7 6 -4.7 5.9 -2.8 3 -4 3.7 -6 4.7 -6 3.7 -4 2 -4 1.7 -6 2 -6 1.3 -6 .7 -4 0 -6-.7 -6-1.3 -6-2 -4-1.7 -4-2 -4-2.4 -6-4.4 -4-3.4 -4.8-4.9 -4.7-5.9 -3.7-6 -2-4 -1.6-3.9 -1.9-6 -.8-4 -.7-6 .2-3.9 .8-6 1.7-6 2.3-5.9 2-4 3.7-6 3.1-4 3.5-3.9 4.9-4.7 6-4.7 6-3.7 4-2 4-1.7 6-2 6-1.3z"/>
<path fill="#00ffb7" d="M74 21.1l6-.6 4 0 6 .6 6 1.2 6 1.9 6 2.6 4 2.1 6 3.9 4 3.3 5.7 5.7 3.3 3.9 4 6 2.1 4 2.5 5.9 1.7 6 1.1 6 .3 4 -.3 5.9 -1.1 6 -1 4 -1.4 3.9 -1.8 4 -2.1 4 -2.6 4 -3 4 -3.6 3.9 -5.8 5.4 -2 1.6 -6 3.9 -4 2.1 -4 1.8 -4 1.5 -6 1.7 -6 1 -6 .4 -4-.2 -6-.8 -6-1.5 -6-2.1 -4-1.8 -6-3.4 -4-2.6 -2-1.6 -5.8-5.4 -3.6-3.9 -3-4 -2.6-4 -2.1-4 -2.5-5.9 -1.7-6 -1.1-6 -.3-4 .3-5.9 1.1-6 1-4 1.4-3.9 1.8-4 2.1-4 2.6-4 3-4 3.6-3.9 5.8-5.4 2-1.6 6-3.9 4-2.1 4-1.8 4-1.5 4-1.2z"/>
<path fill="#00ff9b" d="M80 21.9l6 .1 6 .7 4 .8 6 1.7 6 2.5 6 3.2 4 2.8 4 3.2 4.9 4.9 3.2 3.9 2.8 4 3.2 6 2.3 5.9 1.7 6 .6 4 .5 6 -.2 5.9 -.9 6 -1.7 6 -1.4 3.9 -1.9 4 -2.2 4 -4.3 6 -3.6 3.9 -5 4.6 -6 4.3 -4 2.2 -4 1.9 -4 1.6 -6 1.7 -6 1.1 -6 .5 -6-.1 -6-.7 -4-.8 -6-1.7 -6-2.5 -6-3.2 -4-2.8 -4-3.2 -4.9-4.9 -3.2-3.9 -2.8-4 -3.2-6 -2.3-5.9 -1.7-6 -.6-4 -.5-6 .2-5.9 .9-6 1.7-6 1.4-3.9 1.9-4 2.2-4 4.3-6 3.6-3.9 5-4.6 6-4.3 4-2.2 4-1.9 4-1.6 6-1.7 6-1.1z"/>
<path fill="#00ff80" d="M64 25.7l6-1.4 4-.6 6-.4 6 .1 5.2 .5 4.8 .8 4 1 6 2 4 1.8 6 3.5 4 3 4.3 3.8 3.5 3.9 2.9 4 3.5 6 1.7 4 2 5.9 .8 4 .6 4 .4 6 -.2 5.9 -.8 6 -.8 4 -2 5.9 -1.7 4 -3.5 6 -2.9 4 -3.5 3.9 -4.3 3.8 -4 3 -6 3.5 -4 1.8 -6 2 -6 1.4 -6 .8 -6 .2 -6-.2 -6-.8 -6-1.4 -6-2 -4-1.8 -6-3.5 -4-3 -4.3-3.8 -3.5-3.9 -2.9-4 -3.5-6 -1.7-4 -2-5.9 -1.2-6 -.5-6 0-5.9 .5-6 1.2-6 1.9-5.7 1.8-4.2 3.5-6 2.9-4 3.5-3.9 4.3-3.8 6-4.3 4-2.2 4-1.8z"/>
<path fill="#00ff64" d="M52 31.4l4-1.9 4.5-1.7 5.5-1.4 6-1 6-.5 6-.1 6 .3 6 .8 7.5 1.9 4.5 1.7 4 1.9 4 2.3 4 3.1 3.4 3 3.6 3.9 3 4 2.2 4 1.9 4 2 5.9 1.2 6 .7 6 .1 5.9 -.3 6 -.8 6 -1 4.3 -1.9 5.6 -1.9 4 -2.2 4 -3 4 -3.6 3.9 -3.4 3 -4 3.1 -4 2.3 -6 2.6 -4 1.4 -6.6 1.5 -7.4 .9 -6 .2 -6-.2 -7.4-.9 -6.6-1.5 -4-1.4 -6-2.6 -4-2.3 -4-3.1 -3.4-3 -3.6-3.9 -3-4 -2.2-4 -1.9-4 -2-5.9 -1.2-6 -.7-6 -.1-7.9 .5-6 1-6 1.1-3.9 1.5-4.2 2-4.2 2-3.6 2-2.7 2.7-3.2 4.1-4 5.2-4.1z"/>
<path fill="#00ff48" d="M46 36l4-2.6 4-2 4-1.6 7.3-2 4.7-.7 6-.5 8-.2 6 .3 6 .7 4 .7 6 1.7 4 1.6 4 2 4 2.6 4 3.3 2.4 2.5 3.3 3.9 2.5 4 1.9 4 1.9 5.2 1.2 4.7 .8 6 .4 6 0 5.9 -.4 6 -.8 6 -1.2 4.7 -1.9 5.2 -1.9 4 -2.5 4 -3.3 3.9 -2.4 2.5 -4 3.3 -4 2.6 -4 2 -3.9 1.6 -2.1 .6 -6 1.5 -6 .8 -6 .4 -8 0 -6-.4 -6-.8 -6-1.5 -4-1.4 -4-1.8 -5.7-3.4 -2.6-2 -4.1-4 -3.3-3.9 -2.5-4 -1.9-4 -2.1-6 -1.3-5.9 -.7-6 -.2-7.9 .4-8 .8-6 1.2-4.7 1.9-5.2 1.9-4 2.5-4 3.3-3.9 2.4-2.5z"/>
<path fill="#00ff2d" d="M44 38.6l3.8-2.8 4.2-2.4 4-1.7 6-1.8 4-.7 6-.8 6-.2 8 0 6 .2 6 .8 4 .7 6 1.8 4 1.7 4 2.2 3 2.2 3 2.6 3.1 3.3 2.8 4 2.2 4 1.5 4 1.2 4 1.2 5.9 .4 4 .2 6 0 7.9 -.4 6 -.9 6 -1 3.9 -2.2 6 -2.1 3.9 -2 2.9 -2.6 3.1 -3.4 3.2 -3.8 2.8 -4.2 2.4 -4 1.7 -6 1.8 -4 .7 -6 .8 -6 .2 -8 0 -6-.2 -6-.8 -6-1.2 -4.3-1.4 -5.7-2.7 -4-2.5 -4-3.4 -3.1-3.3 -2.8-4 -2.2-4 -2.2-6 -1.3-5.9 -.8-6 -.2-6 0-7.9 .4-6 .9-6 1.7-5.9 1.5-4 2.2-4 1.9-2.8 2.6-3.1z"/>
<path fill="#0f1" d="M48 36.8l4-2.2 4-1.6 4-1.2 6-1.2 6-.5 6-.3 10 .1 6 .3 6 .8 4 .8 4 1.2 4 1.6 2.3 1.2 3.7 2.4 2 1.6 3.9 3.9 2.8 4 2.1 4 1.5 4 1.4 5.9 .6 4 .5 6 .1 9.9 -.2 6 -.6 6 -.8 3.9 -1 4 -1.5 4 -1 2 -2.4 4 -3.3 3.9 -2.1 2 -4 3 -4 2.2 -4 1.6 -6 1.7 -6 .9 -6 .5 -8 .1 -8-.1 -6-.5 -4-.6 -6-1.3 -4-1.4 -4-1.9 -4-2.6 -2-1.6 -3.9-3.9 -2.8-4 -2.1-4 -1.5-4 -1.4-5.9 -.8-6 -.3-6 0-9.9 .5-8 .6-4 .9-3.9 1.2-4 1.8-4 2.4-4 3.3-3.9 2.1-2.1z"/>
<path fill="#0f0" d="M45.6 39.8l2.4-1.7 4-2.2 4-1.6 6-1.5 4-.7 6-.5 16-.1 6 .3 6 .6 4 .8 4 1.1 4 1.6 3.5 1.9 2.5 1.7 2.7 2.3 1.8 1.9 2.9 4 2 4 1.5 4 1 4 .8 5.9 .4 6 .1 6 -.1 7.9 -.4 6 -.8 5.9 -1 4 -1.5 4 -2 4 -2.9 4 -1.8 1.9 -2.7 2.3 -4 2.6 -4 1.9 -4 1.3 -4 .9 -6 .9 -6 .4 -8 0 -8 0 -6-.4 -6-.9 -4-.9 -4-1.3 -4-1.9 -4-2.6 -2.7-2.3 -3.3-3.8 -2-3.2 -2.2-4.9 -1.2-4 -.8-3.9 -.7-6 -.3-8 .1-9.9 .4-6 .8-5.9 1-4 1.5-4 2-4 1.4-2.1 2-2.4z"/>
<path fill="#0f0" d="M44.9 41.8l3.1-2.4 4-2.3 4-1.5 4-1.1 6-.9 4-.4 6-.2 12 0 6 .2 4 .4 4 .5 4 .9 4 1.3 4 1.8 4 2.7 2 1.8 2.7 3.1 2.5 4 1.7 4 .6 2 .9 4 .6 3.9 .4 4 .2 6 -.1 13.9 -.5 6 -.6 3.9 -1.5 6 -1.7 4 -2.5 4 -1.6 2 -3.1 2.9 -4 2.7 -4 1.8 -6 1.8 -4 .7 -6 .6 -6 .2 -12 0 -6-.2 -4-.4 -6-.9 -6-1.8 -4-1.8 -4-2.7 -2-1.8 -2.7-3.1 -2.5-4 -1.7-4 -1.1-4 -.8-3.9 -.6-6 -.2-6 0-9.9 .2-6 .6-6 .8-3.9 1.1-4 1.7-4 2.5-4 1.6-2z"/>
<path fill="#10ff00" d="M44.3 43.7l2.1-1.9 3.6-2.5 2-1 4-1.6 4-.9 4-.7 4-.4 6-.3 18 .1 6 .3 4 .6 6 1.3 4 1.6 4 2.2 2 1.6 1.7 1.6 1.8 2 1.4 2 2 4 1.3 4 .9 4 .6 3.9 .3 6 0 17.9 -.3 6 -.6 3.9 -.9 4 -1.3 4 -2 4 -2.9 3.7 -2.4 2.2 -3.6 2.5 -2 1 -4 1.6 -4 .9 -4 .7 -4 .4 -6 .3 -18-.1 -6-.3 -4-.6 -6-1.3 -4-1.6 -4-2.2 -2-1.6 -2-1.9 -2.9-3.7 -2-4 -.7-2 -1.1-4 -.7-3.9 -.4-4 -.3-6 0-11.9 .2-6 .5-6 .7-3.9 1.1-4 1.7-4 1-2 1.4-2z"/>
<path fill="#2bff00" d="M46 43.2l2-1.6 4-2.3 4-1.5 4-1 4-.6 6-.4 18-.1 10 .3 4 .5 4 .8 4 1.2 2 .8 4 2.3 2.5 2.1 1.8 2 2.6 4 1.6 4 .6 2 .8 4 .5 3.9 .3 6 .1 8 -.2 13.9 -.7 5.9 -.8 4 -.6 2 -1.6 4 -2.6 4 -1.8 2 -2.5 2.1 -4 2.3 -2 .8 -4 1.2 -4 .8 -6 .6 -14 .3 -14-.3 -6-.6 -4-.8 -4-1.2 -2-.8 -4-2.3 -2.5-2.1 -1.8-2 -2.6-4 -1.6-4 -1.1-4 -.6-3.9 -.5-6 -.1-15.9 .4-10 .5-3.9 .8-4 .6-2 1.6-4 2.6-4z"/>
<path fill="#45ff00" d="M46 44.4l2-1.7 2-1.3 2-1.1 4-1.5 4-.9 4-.5 10-.5 18 0 6 .3 4 .4 4 .7 4 1.2 4 1.9 3.3 2.3 1.9 2 1.5 2 1.3 2.3 1.5 3.7 1.3 6 .6 7.9 .1 19.9 -.3 6 -.4 3.9 -.8 4 -1.2 4 -2.1 4 -1.5 2 -1.9 2 -3.3 2.3 -2 1.1 -4 1.5 -4 .9 -4 .5 -8 .5 -20 0 -6-.3 -4-.4 -4-.7 -4-1.2 -4-1.9 -3.3-2.3 -1.9-2 -1.5-2 -1.3-2.3 -1.5-3.7 -1-4 -.5-3.9 -.5-10 .1-17.9 .4-6 .5-3.9 1-4 1.6-4 1.9-3z"/>
<path fill="#5fff00" d="M46 45.6l2-1.8 2-1.4 2-1.1 4-1.5 6-1.1 8-.6 22 0 6 .2 4 .4 4 .6 4 1.2 2.9 1.3 3.1 2 2.1 1.9 1.5 2 1.2 2 1.6 4 1.3 6 .5 7.9 .1 19.9 -.2 6 -.4 3.9 -.7 4 -1.3 4 -1.7 3.4 -1.9 2.6 -2.1 1.9 -2 1.4 -2 1.1 -4 1.5 -6 1.1 -8 .6 -22 0 -6-.2 -4-.4 -4-.6 -4-1.2 -2.9-1.3 -3.1-2 -2.1-1.9 -1.5-2 -1.2-2 -1.6-4 -1.3-6 -.5-7.9 -.1-19.9 .2-6 .4-3.9 .7-4 1.3-4 1.7-3.4z"/>
<path fill="#7aff00" d="M47.2 45.7l2.4-2 2.4-1.3 2-.9 4-1.1 4-.7 4-.3 16-.2 16 .2 4 .3 4 .7 4 1.1 2 .9 2.4 1.3 2.4 2 1.7 2 1.2 2 1.6 4 .7 2.6 .5 3.4 .4 3.9 .2 14 -.1 13.9 -.3 4 -.4 3.9 -1 4 -1.3 3.4 -1.5 2.6 -1.7 2 -2.4 2 -2.4 1.3 -2 .9 -4 1.1 -4 .7 -4 .3 -16 .2 -16-.2 -4-.3 -4-.7 -4-1.1 -2-.9 -2.4-1.3 -2.4-2 -1.7-2 -1.2-2 -1.6-4 -.7-2.6 -.5-3.4 -.4-3.9 -.2-14 .1-13.9 .3-4 .4-3.9 1-4 1.3-3.4 1.5-2.6z"/>
<path fill="#94ff00" d="M48 46.4l2-1.7 2-1.2 4-1.5 2-.5 4-.6 4-.4 16-.2 16 .2 4 .4 4 .6 2 .5 4 1.5 2 1.2 2 1.7 2 2.5 1.5 2.8 .7 2 .9 4 .5 3.9 .2 4 .1 12 -.1 13.9 -.2 4 -.5 3.9 -.9 4 -.7 2 -1.5 2.8 -2 2.5 -2 1.7 -2 1.2 -4 1.5 -2 .5 -4 .6 -4 .4 -16 .2 -16-.2 -4-.4 -4-.6 -2-.5 -4-1.5 -2-1.2 -2-1.7 -2-2.5 -1.5-2.8 -.7-2 -.9-4 -.5-3.9 -.2-4 -.1-12 .1-13.9 .2-4 .5-3.9 .9-4 .7-2 1.5-2.8z"/>
<path fill="#aeff00" d="M48.3 47.7l1.7-1.6 2-1.3 2-1 2-.7 6-1.1 6-.4 24-.1 6 .2 4 .3 4 .6 3.9 1.1 2.1 1.1 2 1.3 1.7 1.6 1.5 2 1.1 2 .7 2 1 4.4 .6 7.5 .1 21.9 -.2 6 -.3 3.9 -.7 4 -1.2 4 -1.1 2 -1.5 2 -1.7 1.6 -2 1.3 -2 1 -2 .7 -6 1.1 -6 .4 -24 .1 -6-.2 -4-.3 -4-.6 -3.9-1.1 -2.1-1.1 -2-1.3 -1.7-1.6 -1.5-2 -1.1-2 -.7-2 -1-4.4 -.6-7.5 -.1-21.9 .2-6 .3-3.9 .7-4 1.2-4 1.1-2z"/>
<path fill="#c9ff00" d="M50 47.7l2-1.5 2-1 4-1.4 2-.3 8-.7 14-.1 14 .1 8 .7 2 .3 4 1.4 2 1 2 1.5 1.7 2 1.1 2 1.2 3 .6 3 .5 3.9 .2 4 .1 12 -.1 13.9 -.2 4 -.5 3.9 -.6 3 -1.2 3 -1.1 2 -1.7 2 -2 1.5 -2 1 -4 1.4 -2 .3 -8 .7 -14 .1 -14-.1 -8-.7 -2-.3 -4-1.4 -2-1 -2-1.5 -1.7-2 -1.1-2 -1.2-3 -.6-3 -.5-3.9 -.2-4 -.1-12 .1-13.9 .2-4 .5-3.9 .6-3 1.2-3 1.1-2z"/>
<path fill="#e3ff00" d="M50.1 49.7l2.2-2 1.7-1 2.2-1 1.8-.5 4-.7 6-.4 24 0 8 .2 4 .5 3.8 .9 2.2 1 2 1.2 2 1.9 1.2 1.9 1 2 .6 2 .7 4 .5 5.9 0 21.9 -.2 8 -.6 3.9 -1 4 -1 2 -1.3 2 -2.2 2 -1.7 1 -2.2 1 -1.8 .5 -4 .7 -6 .4 -24 0 -8-.2 -4-.5 -3.8-.9 -2.2-1 -2-1.2 -2-1.9 -1.2-1.9 -1-2 -.6-2 -.7-4 -.5-5.9 0-21.9 .2-8 .6-3.9 1-4 1-2z"/>
<path fill="#fdff00" d="M52 50.2l2-1.6 1.6-.9 4.4-1.3 4.6-.7 7.4-.2 20 0 8 .3 4 .6 4 1.1 2 1.1 1.5 1.1 1.7 2 .8 1.2 1.1 2.8 .5 2 .6 3.9 .3 8 0 19.9 -.5 7.9 -.9 4 -.7 2 -1.2 2 -1.2 1.5 -2 1.6 -1.6 .9 -4.4 1.3 -4.6 .7 -7.4 .2 -20 0 -8-.3 -4-.6 -4-1.1 -2-1.1 -1.5-1.1 -1.7-2 -.8-1.2 -1.1-2.8 -.5-2 -.6-3.9 -.3-8 0-19.9 .5-7.9 .9-4 .7-2 1.2-2z"/>
<path fill="#ffe200" d="M53.5 51.7l2.6-2 3.9-1.4 4-.8 8-.3 20 0 8 .3 4 .8 2 .6 2 .9 2 1.4 2.1 2.5 .9 2 .7 2 .7 3.9 .4 8 0 17.9 -.4 8 -.4 2.6 -1 3.3 -1 2.1 -1.5 1.9 -2.6 2 -3.9 1.4 -4 .8 -8 .3 -20 0 -8-.3 -4-.8 -2-.6 -2-.9 -2-1.4 -2.1-2.5 -.9-2 -.7-2 -.7-3.9 -.4-8 0-17.9 .4-8 .4-2.6 1-3.3 1-2.1z"/>
<path fill="#ffc400" d="M55.1 53.7l.9-.9 2-1.4 2-.8 2-.6 4-.6 6-.3 18 0 8 .3 4 .6 2 .6 2 .8 2 1.4 .9 .9 1.5 2 .9 2 .6 2 .6 3.9 .2 6 0 17.9 -.2 6 -.5 3.4 -.7 2.5 -.9 2 -1.5 2 -.9 .9 -2 1.4 -2 .8 -2 .6 -4 .6 -6 .3 -18 0 -8-.3 -4-.6 -2-.6 -2-.8 -2-1.4 -.9-.9 -1.5-2 -.9-2 -.6-2 -.6-3.9 -.2-6 0-17.9 .2-6 .5-3.4 .7-2.5 .9-2z"/>
<path fill="#ffa500" d="M57.1 55.7l2.4-2 2.5-1.1 4-.9 6-.4 18-.1 6 .3 4 .5 2 .6 2 .8 2 1.4 2 2.3 1.2 2.6 .9 3.9 .4 6 0 17.9 -.4 6 -.9 3.9 -.9 2 -1.4 2 -2.4 2 -2.5 1.1 -4 .9 -6 .4 -18 .1 -6-.3 -4-.5 -2-.6 -2-.8 -2-1.4 -2-2.3 -1.2-2.6 -.9-3.9 -.4-6 0-17.9 .4-6 .9-3.9 .9-2z"/>
<path fill="#ff8700" d="M59.2 57.7l2.5-2 2.3-1 4-.9 6-.3 16 0 6 .3 4 .9 2 .8 2 1.4 2 2.4 1 2.3 .9 4 .3 6 0 13.9 -.3 6 -.9 4 -.8 1.9 -1.4 2 -2.5 2 -2.3 1 -4 .9 -6 .3 -16 0 -6-.3 -4-.9 -2-.8 -2-1.4 -2-2.4 -1-2.3 -.9-4 -.3-6 0-13.9 .3-6 .9-4 .8-1.9z"/>
<path fill="#ff6800" d="M61.5 59.7l2.5-2 2-.8 4-.9 6-.3 12 0 6 .3 4 .9 2 .8 2 1.4 2 2.5 .8 2 .8 4 .2 6 0 11.9 -.2 4 -.8 4 -.8 2 -1.5 1.9 -2.5 2 -2 .8 -4 .9 -6 .3 -12 0 -6-.3 -4-.9 -2-.8 -2-1.4 -2-2.5 -.8-2 -.8-4 -.2-6 0-11.9 .2-4 .8-4 .8-2z"/>
<path fill="#ff4a00" d="M64 61.7l2-1.5 1.1-.5 2.9-.9 4-.5 6-.1 10 .1 4 .5 2.9 .9 1.1 .5 2 1.4 1.4 2 .6 1.3 .7 2.7 .5 4 .1 6 -.1 7.9 -.5 4 -.7 2.7 -.6 1.3 -1.4 1.9 -2 1.5 -1.1 .5 -2.9 .9 -4 .5 -6 .1 -10-.1 -4-.5 -2.9-.9 -1.1-.5 -2-1.4 -1.4-2 -.6-1.3 -.7-2.7 -.5-4 -.1-6 .1-7.9 .5-4 .7-2.7 .6-1.3z"/>
<path fill="#ff2b00" d="M67.7 63.6l2.3-1.2 2-.7 2-.3 4-.3 10 .1 3.7 .4 2.3 .8 2.3 1.2 1.7 1.8 1.1 2.2 .6 2 .3 2 .2 4 0 7.9 -.5 4 -.6 2 -1.1 2.2 -1.7 1.8 -2.3 1.2 -2 .7 -2 .3 -4 .3 -10-.1 -3.7-.4 -2.3-.8 -2.3-1.2 -1.7-1.8 -1.1-2.2 -.6-2 -.3-2 -.2-4 0-7.9 .5-4 .6-2 1.1-2.2z"/>
<path fill="#ff0d00" d="M70 67.7l2-1.6 2-.8 4-.7 4-.1 4 .1 4 .7 2 .8 1.9 1.5 1.4 2 .8 2 .4 2 .2 4 -.1 3.9 -.5 4 -.8 2 -1.3 1.9 -2 1.6 -2 .8 -4 .7 -4 .1 -4-.1 -4-.7 -2-.8 -1.9-1.5 -1.4-2 -.8-2 -.4-2 -.2-4 .1-3.9 .5-4 .8-2z"/>
<path fill="#f00" d="M74 69.7l2-1 2-.6 4-.2 4 .2 2 .6 1.8 .9 1.9 2 .9 2 .4 2 .1 2 -.1 3.9 -.4 2 -.9 2 -1.7 1.9 -2 1 -2 .6 -4 .2 -4-.2 -2-.6 -1.8-.9 -1.9-2 -.9-2 -.4-2 -.1-2 .1-3.9 .4-2 .9-2z"/>
<path fill="#f00" d="M76 72.7l2-1.3 2-.4 2-.1 2 .1 2 .4 2 1.3 .8 .9 .9 2 .3 2 0 1.9 -.3 2 -.9 2 -.8 .9 -2 1.3 -2 .4 -2 .1 -2-.1 -2-.4 -2-1.3 -.8-.9 -.9-2 -.3-2 0-1.9 .3-2 .9-2z"/>
<path fill="#f00" d="M78.4 75.6l1.6-1.1 2-.2 2 .2 1.6 1.1 .8 2 0 1.9 -.8 2 -1.6 1.1 -2 .2 -2-.2 -1.6-1.1 -.8-2 0-1.9z"/>
</svg>
<path d="M5.3 398.6V241.5H169.3" fill="none" stroke="#0c0c50" stroke-width="1"/>
<path d="M169.3 241.5V398.6" fill="none" stroke="#3c3c46" stroke-width="0.9"/>
<ellipse cx="46.3" cy="280.3" rx="38.7" ry="37.7" fill="none" stroke="#fbfbea" stroke-opacity="0.92" stroke-width="1.2" stroke-dasharray="1.5 1.75"/>
<ellipse cx="46.3" cy="359.8" rx="38.7" ry="37.7" fill="none" stroke="#fbfbea" stroke-opacity="0.92" stroke-width="1.2" stroke-dasharray="1.5 1.75"/>
<ellipse cx="128.3" cy="280.3" rx="38.7" ry="37.7" fill="none" stroke="#fbfbea" stroke-opacity="0.92" stroke-width="1.2" stroke-dasharray="1.5 1.75"/>
<ellipse cx="128.3" cy="359.8" rx="38.7" ry="37.7" fill="none" stroke="#fbfbea" stroke-opacity="0.92" stroke-width="1.2" stroke-dasharray="1.5 1.75"/>
<path d="M87.1 240.0V399.4M4.5 320.1H170.8" stroke="#0a0a26" stroke-width="0.95" stroke-dasharray="4.1 1.1 1.1 1.1" fill="none"/>
<rect x="171.0" y="241.3" width="12.6" height="3.4" fill="#858585"/>
<rect x="171.0" y="244.5" width="12.6" height="154.1" fill="url(#cb)"/>
<path d="M171.0 241.3V398.6M183.6 241.3V398.6" stroke="#5a5a5a" stroke-width="0.7" fill="none"/>
<text transform="translate(185.1 247.1) scale(1.045 1)" font-size="13.8">-83.0</text>
<text transform="translate(185.1 324.9) scale(1.045 1)" font-size="13.8">-36.6</text>
<text transform="translate(185.1 393.7) scale(1.045 1)" font-size="13.8">-0.0</text>
<text transform="translate(162.2 230.9) scale(1.045 1)" font-size="13.6">10<tspan dy="-4.3" font-size="9.4">3</tspan></text>
<text id="cap3" transform="translate(90.1 420.6) scale(1.045 1)" font-size="16.1" text-anchor="middle">ABHs (0-500 Hz)</text>
<svg x="232.0" y="241.8" width="162.7" height="156.8" viewBox="0 0 162.7 156.8" overflow="hidden">
<rect width="162.7" height="156.8" fill="#00f"/>
<path fill="#00f" d="M8 8.5l2-1.7 2.1-1.4 2.6-1.4 3.4-1.3 4-1 4-.8 7.4-.9 95.7 0 7.4 .9 4 .8 4 1 3.4 1.3 2.6 1.4 3.6 2.6 1.8 2.1 1.4 2 2 4 .7 2 1.5 6 1.1 8.2 0 92.2 -1.1 8.2 -1.5 6 -1.4 3.6 -1.3 2.4 -1.4 2 -1.3 1.6 -2 1.7 -2.1 1.4 -2.6 1.4 -3.4 1.3 -4 1 -4 .8 -7.4 .9 -95.7 0 -7.4-.9 -4-.8 -4-1 -3.4-1.3 -2.6-1.4 -3.6-2.6 -1.8-2.1 -1.4-2 -2-4 -.7-2 -1.5-6 -1.1-8.2 0-92.2 1.1-8.2 1.5-6 1.4-3.6 1.3-2.4 1.4-2z"/>
<path fill="#00f" d="M10 12l2.1-2 2-1.5 2-1.2 4-1.7 5.5-1.6 4.5-.8 6.1-.6 8-.4 10-.3 50.2 0 14.1 .3 8 .4 8.1 1 6 1.3 3.3 1.1 2.7 1.3 2 1.2 2.1 1.6 2 2 1.5 2 1.2 2 1.8 4 1.2 4 1.1 6.1 .6 6 .4 6 .2 10.1 .1 48.2 -.3 14.1 -.6 8 -1.1 8.1 -1.6 6 -1.8 4 -1.2 2 -1.5 2.1 -2.1 2 -2 1.5 -2 1.2 -4 1.7 -5.5 1.6 -4.5 .8 -6.1 .6 -8 .4 -10 .3 -50.2 0 -14.1-.3 -8-.4 -8.1-1 -6-1.3 -3.3-1.1 -2.7-1.3 -2-1.2 -2.1-1.6 -2-2 -1.5-2 -1.2-2 -1.8-4 -1.2-4 -1.1-6.1 -.6-6 -.4-6 -.2-10.1 -.1-48.2 .3-14.1 .6-8 1.1-8.1 1.6-6 1.8-4 1.2-2zM50.2 63.4l-.1 2.9 .1 3.3 .2-5.3zM52.2 57.8l-.1 .5 .1 .3zM54.2 54.1l-.1 .2 .1 .3 .3-.3zM56.1 52.3l.1 .2 .3-.2 -.3-.2zM59.8 50.3l.5 .1 .5-.1 -.5-.2zM66.5 48.2l1.8 .2 26.1 0 1.8-.2 -3.8-.1 -22.1 0zM102.9 50.3l-.5-.2 -.5 .2 .5 .1zM106.6 52.3l-.1-.2 -.3 .2 .3 .2zM108.5 54.1l-.3 .2 .3 .3 .1-.3zM110.5 57.8l0 .8 .1-.3zM112.5 63.4l-.2 .9 .2 5.3 .1-3.3zM50.2 87.2l-.1 3.3 .1 2.9 .2-.9zM52.2 98.2l-.1 .3 .1 .5zM54.2 102.2l-.1 .3 .1 .2 .3-.2zM56.1 104.5l.1 .2 .3-.2 -.3-.2zM59.8 106.5l.5 .2 .5-.2 -.5-.1zM66.5 108.6l3.8 .1 22.1 0 3.8-.1 -1.8-.2 -26.1 0zM102.9 106.5l-.5-.1 -.5 .1 .5 .2zM106.6 104.5l-.1-.2 -.3 .2 .3 .2zM108.5 102.2l-.3 .3 .3 .2 .1-.2zM110.5 98.2l0 .8 .1-.5zM112.5 87.2l-.2 5.3 .2 .9 .1-2.9z"/>
<path fill="#000cff" d="M14.1 13.3l2-1.7 2-1.4 4-2 2-.8 4-1.2 6-1.1 6.1-.7 10-.4 30.1-.2 32.2 .2 10 .4 6.1 .7 6 1.1 4 1.2 2 .8 4 2 2 1.4 2 1.7 2.5 2.8 2.6 4 1.7 4 1.5 6.1 1 6 .4 6 .5 18.1 -.1 42.2 -.3 10.1 -.5 8 -1 6 -1.5 6.1 -1.7 4 -1 1.8 -1.6 2.2 -1.7 2 -2.8 2.5 -4 2.5 -4 1.7 -6 1.6 -6.1 1 -6 .5 -10 .4 -10.1 .1 -44.2 0 -12-.4 -8-.6 -6.1-1 -6-1.6 -4-1.7 -1.7-1 -2.3-1.5 -2-1.7 -2.5-2.8 -2.6-4 -1.7-4 -.6-2 -1.3-6.1 -.8-6 -.4-8 -.2-12.1 -.1-20.1 .1-20.1 .2-12.1 .4-8 .8-6 1.3-6.1 .6-2 1.7-4 2.6-4zM50.2 60.6l-.4 1.7 -.3 2 -.1 26.2 .4 4 .4 1.7 .9-1.7 -.4-16.1 .4-16.1zM62.3 49.5l-2-.1 -2 .6 -2.1 1.4 -2 1.8 -2.4 3.1 -.6 2 1 2 1.8-4 .2-.2 1.4-1.8 .6-.7 4.1-2.4 2.6-.9zM63.5 48.2l.8 .7 2 .2 14-.3 16.1 .3 2-.2 .8-.7 -2.8-.5 -6-.2 -22.1 0 -2 .2zM100.4 49.5l-.6 .8 2.6 .9 4.1 2.4 .6 .7 1.4 1.8 .2 .2 1.8 4 1-2 -.6-2 -2.4-3.1 -2-1.8 -2.1-1.4 -2-.6zM112.5 60.6l-.9 1.7 .4 16.1 -.4 16.1 .9 1.7 .4-1.7 .3-2 .1-26.2 -.4-4zM52.2 96.5l-1 2 .6 2 2.4 3.1 2 1.8 2.1 1.4 2 .6 2-.1 .6-.8 -2.6-.9 -4.1-2.4 -.6-.7 -1.4-1.8 -.2-.2zM63.5 108.6l2.8 .5 6 .2 22.1 0 2-.2 2.8-.5 -.8-.7 -2-.2 -14 .3 -16.1-.3 -2 .2zM110.5 96.5l-1.8 4 -.2 .2 -1.4 1.8 -.6 .7 -4.1 2.4 -2.6 .9 .6 .8 2 .1 2-.6 2.1-1.4 2-1.8 2.4-3.1 .6-2z"/>
<path fill="#0029ff" d="M15.7 16.1l2.4-2.2 4-2.7 4-1.9 6-1.8 6.1-1 8-.7 8-.4 12.1-.1 40.2 .1 10 .4 8 .7 6.1 1 6 1.8 2 .9 3.5 1.9 2.5 1.8 2 1.8 2.2 2.4 2.7 4 1.9 4 1.8 6.1 1 6 .6 8 .4 18.1 -.2 40.2 -.5 10.1 -.6 6 -1.2 6 -1.3 4.1 -.7 1.8 -2.4 4.2 -1.5 2 -1.8 2 -2.4 2.2 -4 2.7 -4 1.9 -6 1.8 -6.1 1 -8 .7 -8 .4 -12.1 .1 -40.2-.1 -10-.4 -8-.7 -6.1-1 -6-1.8 -2-.9 -3.5-1.9 -2.5-1.8 -2-1.8 -2.2-2.4 -2.7-4 -1.9-4 -1.8-6.1 -1-6 -.6-8 -.4-18.1 .2-40.2 .5-10.1 .6-6 1.2-6 1.3-4.1 .7-1.8 2.4-4.2 1.5-2zM54.2 52.3l-1.8 2 -1.3 2 -1.5 4 -.4 2 -.5 6 -.1 10.1 .1 10.1 .5 6 .4 2 1.5 4 1.3 2 1.8 2 2 1.7 2.1 1.3 6 1.9 6 .5 10 .1 12.1-.1 6-.5 6-1.9 2.1-1.3 2-1.7 1.8-2 1.3-2 1.5-4 .4-2 .5-6 .1-10.1 -.1-10.1 -.5-6 -.4-2 -1.5-4 -1.3-2 -1.8-2 -2-1.7 -2.1-1.3 -6-1.9 -6-.5 -10-.1 -12.1 .1 -6 .5 -6 1.9 -2.1 1.3zM56.2 54.8l2.1-1.6 2-1.3 4-1.5 2-.5 2-.2 8-.3 12.1 0 8 .5 2 .5 4 1.5 3.5 2.4 2.6 3.2 2 4.8 .6 4 .3 6.1 0 12 -.5 8.1 -.4 2 -1.6 4 -2.4 3.5 -2.1 1.6 -2 1.3 -4 1.5 -2 .5 -2 .2 -8 .3 -12.1 0 -8-.5 -2-.5 -4-1.5 -3.5-2.4 -2.6-3.2 -2-4.8 -.6-4 -.3-6.1 0-12 .5-8.1 .4-2 1.6-4z"/>
<path fill="#0046ff" d="M17.4 18.1l2.7-2.4 4-2.8 4-2 6-1.9 6.1-1.2 6-.6 8-.4 10.1-.1 42.2 .1 8 .3 8 .7 6.1 1.2 6 1.9 2.5 1.2 3.4 2 4.1 3.3 2.5 2.7 2.8 4 1.9 4 1.9 6.1 1.1 6 .5 6 .5 16.1 -.1 38.2 -.4 10.1 -.5 6 -1.1 6 -1.9 6.1 -1.2 2.5 -2 3.4 -3.3 4.1 -2.7 2.4 -4 2.8 -4 2 -6 1.9 -6.1 1.2 -6 .6 -8 .4 -10.1 .1 -42.2-.1 -8-.3 -8-.7 -6.1-1.2 -6-1.9 -2.5-1.2 -3.4-2 -4.1-3.3 -2.5-2.7 -2.8-4 -1.9-4 -1.9-6.1 -1.1-6 -.5-6 -.5-16.1 .1-38.2 .4-10.1 .5-6 1.1-6 1.9-6.1 1.2-2.5 2-3.4zM54.2 51.3l-2 2.1 -1.8 2.9 -1.4 4 -.4 2 -.5 4 -.3 6.1 0 14 .8 8.1 .4 2 1.4 4 1.2 2 1.6 2 2.3 2 2.8 1.7 4 1.3 2 .5 4 .4 6 .3 16.1-.1 8-.6 2-.5 4-1.3 2.8-1.7 2.3-2 1.6-2 1.2-2 1.4-4 .4-2 .7-6 .1-10.1 -.1-10.1 -.7-6 -.4-2 -1.4-4 -1.2-2 -1.6-2 -2.3-2 -2.8-1.7 -4-1.3 -4-.7 -8-.5 -16.1 .1 -8 .6 -2 .5 -4 1.3 -2.1 1.2zM58 54.3l3.3-2 3-1.1 2-.5 4-.5 10-.2 10.1 .1 2.9 .2 3.1 .4 2 .5 3 1.1 3.3 2 2 2 1.4 2 .9 2 1.2 4 .3 2 .3 4.1 0 14 -.3 6.2 -.8 3.9 -.7 2 -.9 2 -1.6 2.3 -2.1 1.9 -2 1.3 -2 .9 -4 1.2 -3.1 .4 -2.9 .2 -14.1 .1 -8-.4 -4-.8 -3-1.1 -3.3-2 -1.8-1.7 -1.6-2.3 -1.6-4 -.8-3.9 -.2-2.1 -.1-10.1 .1-10.1 .2-2.1 .8-3.9 1.6-4 1.6-2.3z"/>
<path fill="#0063ff" d="M20.1 18.7l4-3.2 4-2.4 6-2.4 6.1-1.3 6-.8 8-.5 26.1-.2 28.2 .2 8 .5 6 .8 6.1 1.3 6 2.4 4 2.4 4 3.2 3.2 3.4 2.7 4 2 4.1 1.4 4 1 4 .9 6 .4 6.1 .2 8 0 40.2 -.3 10.1 -.6 6 -1.1 6 -1.1 4 -1.7 4.1 -2.3 4 -3.3 4 -3.4 3.1 -4 2.8 -4 2 -4 1.5 -6.1 1.3 -6 .8 -6 .4 -10.1 .2 -42.1 0 -10.1-.4 -6-.6 -6-1.2 -4.1-1.2 -4-1.7 -4-2.4 -4-3.2 -2-2.1 -2-2.4 -3-4.9 -1.7-4.1 -1.6-6 -.9-6 -.5-8.1 -.2-26.1 .2-26.1 .5-8.1 .9-6 1.6-6 1.7-4.1 3-4.9 2-2.4zM52.2 52.2l-2 3 -1.3 3.1 -1.4 6 -.4 8.1 .1 16.1 .7 6 1 4 1.8 4 1.5 2 2 2 3.4 2.1 2.7 1 2 .6 4 .7 4 .4 4 .1 16.1 0 6-.5 4-.7 2-.6 4.1-1.7 2-1.4 2-1.9 2-3 1.3-3.1 1.4-6 .4-8.1 -.1-16.1 -.7-6 -1-4 -1.8-4 -1.5-2 -2-2 -3.4-2.1 -2.7-1 -2-.6 -4-.7 -4-.4 -4-.1 -16.1 0 -6 .5 -4 .7 -2 .6 -4.1 1.7 -2 1.4zM57.1 56.3l2.3-2 4-2 4.9-1.1 6-.5 14.1 0 6 .5 4.9 1.1 3.1 1.4 2 1.5 2.1 2.2 2 3.7 .8 3.2 .4 2 .4 6.1 0 12 -.4 6.1 -.4 2 -.8 3.2 -1.4 2.8 -1.5 2 -2.3 2 -4 2 -4.9 1.1 -6 .5 -14.1 0 -6-.5 -4.9-1.1 -3.1-1.4 -2-1.5 -2.1-2.2 -2-3.7 -.8-3.2 -.4-2 -.4-6.1 0-12 .4-6.1 .4-2 .8-3.2 1.4-2.8z"/>
<path fill="#0080ff" d="M20.1 21.4l4-3.6 4-2.7 4-1.9 4.1-1.4 4-1 6-.9 6-.5 8.1-.3 42.1 0 8.1 .3 8 .7 6 1.1 6.1 2 4 1.9 1.5 1 4.5 3.4 2.7 2.6 3.1 4 2.2 4.1 1.7 4 1.1 4 .7 4 .7 6 .4 8.1 .1 40.2 -.2 8 -.7 8.1 -1 6 -1.9 6 -1.9 4.1 -1 1.6 -3.3 4.4 -2.7 2.6 -4 3.1 -4 2.3 -4 1.7 -4.1 1.2 -6 1.1 -6 .6 -8.1 .4 -42.1 0 -10.1-.3 -6-.5 -4-.5 -4-.8 -6.1-2 -4-1.9 -1.5-1 -4.5-3.4 -2.7-2.6 -3.1-4 -2.2-4.1 -1.7-4 -1.1-4 -1-6 -.5-6.1 -.3-8 0-40.2 .3-8 .8-8.1 1.2-6 1.4-4 .9-2 2.2-4.1 1.8-2.4zM52.2 51.3l-2 2.5 -1.3 2.5 -.8 2 -1 4 -.5 4 -.2 4.1 0 16 .4 6.1 .7 4 .6 2 1.8 4 1.5 2 1.9 2 2.8 2.1 2.2 1 4 1.3 4 .8 6 .4 16.1 .1 8-.5 6-1.3 4.2-1.8 1.9-1.3 2-1.8 2-2.5 1.3-2.5 .8-2 1-4 .5-4 .2-4.1 0-16 -.4-6.1 -.7-4 -.6-2 -1.8-4 -1.5-2 -1.9-2 -2.8-2.1 -2.2-1 -4-1.3 -4-.8 -6-.4 -16.1-.1 -8 .5 -6 1.3 -4.2 1.8 -1.9 1.3zM58.4 56.3l2.8-2 3.1-1.4 2-.6 6-.8 8-.1 10.1 .1 5.8 .8 4.2 1.4 2 1.2 1.9 1.4 2.2 2.8 1.4 3.2 .6 1.8 .6 4.2 .3 8.1 -.1 10 -.8 6.1 -1.4 4 -1.1 2 -1.6 1.8 -2.9 2.2 -3.1 1.4 -2 .6 -6 .8 -6 .1 -12.1-.1 -5.8-.8 -4.2-1.4 -2-1.2 -1.9-1.4 -2.2-2.8 -1.4-3.2 -.6-2 -.8-6.1 -.1-8 .1-8 .8-6.1 .6-2 1.4-3.2z"/>
<path fill="#009dff" d="M22.1 21.7l4-3.4 2-1.3 4-2.2 4.1-1.6 6-1.5 6-.9 6-.4 10.1-.3 16 0 26.2 .2 8 .5 6 .9 6 1.5 4.1 1.6 4 2.2 2 1.3 4 3.4 2.2 2.4 3 4 2.1 4.1 2.1 6 .9 4 .8 6 .4 8.1 .1 10 -.1 34.2 -.4 8.1 -.8 6 -1.5 6 -1.5 4 -2.1 4.1 -1.4 2 -3.4 4 -2.4 2.2 -4 2.9 -4 2.2 -6.1 2.2 -6 1.3 -6 .7 -8.1 .4 -10 .1 -36.1-.1 -8.1-.4 -6-.7 -6-1.3 -6.1-2.2 -4-2.2 -2-1.3 -4-3.4 -2.2-2.4 -1.6-2 -2.5-4.1 -1.8-4 -1.8-6 -1-6 -.4-6.1 -.3-8 0-18.1 0-18.1 .3-8 .4-6.1 1-6 1.8-6 1.8-4 2.5-4.1 1.6-2zM52.3 50.3l-1.8 2 -1.3 2 -1.1 2 -1.4 4 -1.1 6 -.2 4.1 -.1 6 .1 12.1 .5 4 .8 4 1.4 4 1.1 2 1.3 2 1.7 2 2 1.6 2 1.2 2.1 1 4 1.4 4 .8 4 .4 10 .3 10.1-.2 4-.3 4-.5 4-1.1 2-.8 3.4-1.7 2.7-2.1 1.7-2 1.3-2 1.1-2 1.4-4 .8-4 .5-4 .1-10.1 -.1-10.1 -.5-4 -.8-4 -1.4-4 -1.1-2 -1.3-2 -1.7-2 -2-1.6 -2-1.2 -2.1-1 -4-1.4 -4-.8 -4-.4 -10-.3 -10.1 .2 -4 .3 -4 .5 -4 1.1 -2 .8 -3.4 1.7zM60 56.3l3.4-2 2.9-1 2-.4 5-.6 7-.2 9.1 .2 5 .6 2 .4 2.9 1 3.4 2 2 2 1.3 2 .9 2 1.1 4 .5 6.1 0 12 -.5 6.1 -.5 2 -1 3.1 -2.1 3.2 -2 1.9 -2 1.3 -2 .9 -4 1 -6 .7 -12.1 0 -6-.3 -4-.8 -2-.6 -2-.9 -2.3-1.5 -1.7-1.7 -1.6-2.3 -.9-2 -.6-2 -.5-2 -.5-4.1 -.1-8 .1-8 .5-4.1 .5-2 .6-2 .9-2 1.6-2.3z"/>
<path fill="#00baff" d="M23.7 22.1l4.4-3.5 4-2.2 2-1 4.1-1.4 6-1.5 6-.8 6-.4 24.1-.3 18.1 .1 8.1 .2 6 .4 6 .8 6 1.5 4.1 1.4 2 1 4 2.2 4.4 3.5 2 2 1.6 2 2.7 4.1 1.9 4 1.4 3.9 1.1 4.1 .9 6 .4 6.1 .2 6 0 36.2 -.3 8 -.6 6.1 -1.1 6 -2 6 -1.9 4 -1.2 2.1 -3.5 4.4 -2 2 -2 1.6 -4 2.7 -4 2 -4.1 1.4 -4 1.1 -6 1 -6 .5 -10.1 .3 -38.1 0 -8.1-.4 -6-.7 -6-1.2 -6.1-2 -4-2 -2-1.2 -4.4-3.5 -2-2 -1.6-2 -2.7-4.1 -1.9-4 -.8-2 -1.7-6 -.9-6 -.4-6.1 -.2-8 -.1-16.1 .1-16.1 .2-8 .4-6.1 .9-6 1.7-6 .8-2 1.9-4 2.7-4.1 1.6-2zM51.6 50.3l-1.8 2 -2.4 4 -.8 2 -1.3 4 -.5 2 -.5 4 -.2 14.1 .4 8.1 .8 4 .5 2 1.6 4 1.1 2 1.3 2 2.4 2.7 2 1.6 4.1 2.2 4 1.5 4 1 6 .7 14.1 .1 4-.1 4-.3 6-1.4 4-1.5 2.1-1 2-1.2 2.6-2.3 1.8-2 2.4-4 .8-2 1.3-4 .5-2 .5-4 .2-14.1 -.4-8.1 -.8-4 -.5-2 -1.6-4 -1.1-2 -1.3-2 -2.4-2.7 -2-1.6 -4.1-2.2 -4-1.5 -4-1 -6-.7 -14.1-.1 -4 .1 -4 .3 -6 1.4 -4 1.5 -2.1 1 -2 1.2zM60.3 57.6l2-1.5 2-1 2-.8 2-.5 6-.6 6-.1 8.1 .1 6 .6 2 .5 2 .8 2 1 2 1.5 2.3 2.7 1.8 4 .8 4 .3 6.1 0 10 -.6 6.1 -.5 2 -.8 2 -1 2 -1.6 2 -2.7 2.2 -4 1.8 -4 .8 -6 .4 -12.1-.1 -6-.6 -2-.5 -2-.8 -2-1 -2-1.5 -2.3-2.7 -1.8-4 -.5-2 -.5-4.1 -.1-8 .1-8 .5-4.1 .5-2 1.8-4z"/>
<path fill="#00d7ff" d="M24.1 23.4l4-3.2 4-2.4 6.1-2.5 6-1.6 6-.9 8.1-.6 22-.2 24.1 .2 8.1 .6 6 .9 6 1.6 6.1 2.5 4 2.4 4 3.2 2.5 2.7 2.7 4.1 2 4 2.1 6 .9 4 .8 6.1 .4 6 .2 10 -.1 32.2 -.5 8 -.8 6.1 -1.5 6 -2.4 6 -2.4 4.1 -3.2 4 -2.7 2.5 -2 1.4 -4 2.4 -4.1 1.8 -6 1.9 -4 .8 -6 .7 -8.1 .5 -8 .1 -34.1-.1 -8.1-.5 -6-.7 -6-1.4 -6.1-2.1 -4-2.1 -2-1.3 -4-3.2 -2.5-2.7 -1.4-2 -2.4-4.1 -2.4-6 -1.3-5 -.8-5 -.6-8.1 -.2-22.1 .2-22.1 .6-8.1 .8-5 1.3-5 2.4-6 2.4-4.1 1.4-2zM52.2 48.9l-2 2 -2.4 3.4 -1.1 2 -1.8 4 -1.2 4 -.5 2 -.5 6.1 .1 14 .4 4.1 .5 2 1.2 4 1.8 4 2.4 4 1.7 2 2.3 2.1 3.1 2.1 4.1 1.9 4 1.5 4 .9 2 .3 4 .3 6 .1 8.1-.1 4-.3 2-.3 4-.9 4-1.5 4.1-1.9 3.1-2.1 2.3-2.1 1.7-2 2.4-4 2.5-6 .5-2 .7-4 .3-4.1 0-6 0-6 -.3-4.1 -.7-4 -.5-2 -2.5-6 -2.4-4 -1.7-2 -2.3-2.1 -3.1-2.1 -2.1-1 -4-1.7 -2-.7 -4-.9 -4-.5 -4-.2 -14.1 .2 -4 .5 -2 .4 -4 1.2 -4 1.7 -4.1 2.3zM61.4 58.3l3-2 3.9-1.3 4-.7 8-.3 8.1 .1 4 .4 4 1 1.9 .8 3 2 1.9 2 1.2 2 .8 2 1 4 .4 4.1 .1 10 -.5 6.1 -1 4 -.8 2 -2 2.9 -2 1.8 -2 1.3 -2 .8 -4 1 -6 .5 -10.1 0 -6-.5 -4-1 -1.9-.8 -3-2 -1.9-2 -1.2-2 -1.4-4 -.7-4.1 -.2-8 .2-8 .7-4.1 1.4-4 1.2-2z"/>
<path fill="#00f4ff" d="M25.1 24.1l3-2.5 2-1.4 4-2 6.1-2.2 6-1.4 4-.7 8.1-.6 22-.2 24.1 .2 8.1 .6 4 .7 6 1.4 6.1 2.2 4 2 2 1.4 3 2.5 1.9 2 2.9 4.1 2 4 2.2 6 1.3 6 .7 5.4 .5 12.7 0 32.2 -.4 8 -.5 4.1 -1.6 8 -2.2 6 -2 4 -1.3 2.1 -2.5 3 -2 1.9 -2 1.6 -4 2.5 -4.1 1.8 -4 1.3 -6 1.4 -4 .7 -8.1 .6 -8 .2 -34.1-.1 -8.1-.4 -5.2-.5 -6.8-1.3 -6-1.9 -4.1-1.8 -4-2.5 -3-2.5 -1.9-2 -1.6-2 -2.4-4.1 -2.5-6 -1.5-6 -1-6.1 -.4-6 -.3-22.1 .3-22.1 .4-6 1-6.1 1.5-6 2.5-6 2.4-4.1 1.6-2zM56.2 45.5l-4 2.7 -2 2 -3.1 4.1 -2.2 4 -1.8 4 -1.2 4 -.5 4.1 -.2 6 .1 8 .3 4.1 .3 2 1.2 4 1.8 4 2.2 4 3 4 2.1 2.1 2 1.5 4.1 2.3 4 1.9 4 1.5 2 .5 6 .7 14.1 0 6-.7 4-1.2 6-2.7 4.1-2.3 2-1.5 2.1-2.1 1.6-2 2.5-4 2-4 .9-2 1.2-4 .3-2 .3-4.1 0-12 -.3-4.1 -.3-2 -1.2-4 -1.8-4 -2.2-4 -3-4 -2.1-2.1 -2-1.5 -2-1.2 -4.1-2.1 -6-2.4 -2-.5 -4-.6 -4-.2 -12.1 .1 -4 .4 -4 .8 -2 .7 -4 1.7zM62.3 59.4l2-1.5 2-1 2-.7 2-.4 4-.5 6-.2 8.1 .2 4 .5 2 .4 2 .7 2 1 2 1.5 .9 .9 1.5 2 1.6 3.7 .8 4.4 .3 4 0 8 -.5 6.1 -.5 2 -.7 2 -1 2 -1.5 2 -2.9 2.4 -3.7 1.6 -4.3 .8 -4 .3 -10.1 0 -6-.6 -2-.4 -2-.7 -2-1 -2-1.5 -.9-.9 -1.5-2 -1-2 -.7-2 -.5-2 -.4-4.1 -.1-6 .1-6 .4-4.1 .5-2 .7-2 1-2 1.5-2z"/>
<path fill="#0fe" d="M26.1 24.6l2-1.7 2-1.4 4-2.1 6.1-2.1 4-1 6-1 8.1-.7 8-.2 14-.1 22.1 .2 8.1 .6 6 .8 6 1.4 6.1 2.1 4 2.1 2 1.4 2 1.7 3.1 3.5 2.5 4.1 1.7 4 1.3 4 .9 4 .9 6.1 .5 6 .2 8 0 32.2 -.5 8 -.6 5.2 -1.4 6.9 -1.3 4 -.8 2 -2 4 -1.4 2.1 -1.6 2 -3.5 3.2 -4 2.5 -4.1 1.8 -4 1.3 -6 1.4 -6 .8 -6.1 .5 -8 .2 -34.1-.1 -8.1-.4 -6-.7 -6-1.1 -6-1.9 -4.1-1.8 -2-1.1 -2-1.4 -2-1.7 -3.1-3.5 -2.5-4.1 -1.7-4 -1.3-4 -.9-4 -.9-6.1 -.5-6 -.2-8 -.1-14.1 .1-14.1 .2-8 .5-6 .9-6.1 .9-4 1.3-4 1.7-4 2.5-4.1zM68.3 39.1l-4 1.6 -6 3 -4.1 2.4 -2 1.6 -2.7 2.6 -1.6 2 -1.4 2 -3.5 6 -1.9 4 -.6 2 -.4 2 -.4 4.1 -.1 8 .2 6 .7 4.1 .6 2 1.9 4 3.5 6 1.4 2 2.3 2.8 2 1.8 4 2.9 8.1 4.1 4 1.6 2 .4 6 .5 8.1 0 6-.2 4-.7 2-.7 4-1.8 4-2.1 4.1-2.4 2.7-2.1 2-2.1 3-4 2.4-4 3-6 1-4 .5-6.1 0-8 -.2-4 -.7-4.1 -.6-2 -1.9-4 -2.3-4 -2.6-4 -1.6-2 -2-2.1 -2.7-2.1 -4.1-2.4 -4-2.1 -4-1.8 -2-.7 -4-.7 -6-.2 -8.1 0 -4 .2zM64.3 59.8l2-1.3 2-.8 4-1 6-.4 8.1 .1 4 .3 4 1 2 .8 2 1.3 2 1.9 1.8 2.6 .8 2 .6 2 .3 2.1 .4 4 0 8 -.4 4 -.9 4.1 -.8 2 -1.2 2 -1.9 2 -3.2 2 -3.5 1.2 -2 .4 -6 .4 -8.1-.1 -4-.3 -4-1 -2-.8 -2-1.3 -2-1.9 -2-3.2 -1.2-3.4 -.3-2.1 -.4-6 .1-8 .6-4.1 .6-2 .8-2 1.8-2.6z"/>
<path fill="#00ffd2" d="M26.1 26l2-1.8 2-1.5 4-2.2 4.1-1.5 6-1.4 6-.8 8.1-.6 22-.2 24.1 .2 8.1 .6 6 .8 6 1.4 4.1 1.5 4 2.2 2 1.5 2 1.8 2 2.4 2.4 3.8 1 2 1.4 4 .9 4 1 6 .5 6.1 .3 18.1 -.2 26.1 -.4 8 -.8 6.1 -1.3 6 -1.4 4 -2.1 4 -1.5 2.1 -1.7 2 -2.1 1.9 -2 1.5 -4 2.2 -4.1 1.5 -6 1.4 -6 .8 -6 .5 -6.3 .2 -11.8 .1 -28.1-.1 -8.1-.5 -6-.7 -6-1.2 -2-.5 -4.1-1.5 -4-2.2 -2-1.5 -2-1.8 -2-2.4 -2.4-3.8 -1-2 -1.4-4 -.9-4 -1-6 -.5-6.1 -.2-8 -.1-16.1 .1-16.1 .2-8 .5-6.1 1-6 .9-4 1.4-4 1-2 2.4-3.8zM68.3 37.6l-4 1.8 -8.1 4.8 -2.9 2 -2.4 2 -2 2.1 -3.1 4 -5.1 8 -1.8 4 -.5 2 -.5 4.1 0 12 .5 4.1 .5 2 1.8 4 5.1 8 3.1 4 2 2.1 3.3 2.6 10.1 6.2 4 1.8 2 .5 4 .5 6 .2 8.1-.2 4-.5 2-.5 4-1.8 8.1-4.8 2.9-2 2.4-2 2-2.1 3.1-4 5.1-8 1.8-4 .5-2 .5-4.1 0-12 -.5-4.1 -.5-2 -1.8-4 -5.1-8 -3.1-4 -2-2.1 -3.3-2.6 -10.1-6.2 -4-1.8 -2-.5 -4-.5 -6-.2 -8.1 .2 -4 .5zM64.3 61.9l2-1.6 2-1 2-.7 4-.8 6-.3 6.1 .1 5 .7 3 1 2 1 2 1.6 2 2.5 1 1.9 .7 2 .7 4.1 .2 4 -.2 8 -.7 4.1 -.7 2 -1 1.9 -1.5 2.1 -2.5 2 -2 1 -2 .7 -4 .8 -4 .3 -8.1-.1 -4-.5 -4-1.2 -2-1 -2-1.6 -2-2.5 -1-1.9 -.7-2 -.7-4.1 -.2-6 .2-6 .7-4.1 .7-2 1-1.9z"/>
<path fill="#00ffb7" d="M27.3 26.1l2.8-2.3 2-1.2 4.1-1.9 4-1.1 4-.8 4-.5 12.1-.3 46.2 0 10 .5 6 1.1 4 1.1 4.1 1.9 2 1.2 2.8 2.3 1.9 2 1.5 2.1 1.1 2 1.8 4 1 4 .7 4 .4 4 .2 6.1 0 46.2 -.3 10.1 -.6 4 -1.4 6 -1.8 4 -1.1 2 -2.2 2.9 -2 2 -2 1.5 -2 1.2 -4.1 1.9 -4 1.1 -4 .8 -6 .6 -6 .2 -48.2 0 -6.1-.1 -6-.4 -6-1.1 -4-1.1 -4.1-1.9 -2-1.2 -2.8-2.3 -1.9-2 -2.6-4.1 -1.8-4 -.6-2 -.8-4 -.6-4 -.3-6.1 0-50.2 .2-6.1 .4-4 1.1-6 1.4-4 2.1-4 1.5-2.1zM70.3 35.3l-2 .6 -2 .9 -2 1.3 -2.8 2.1 -7.3 4.8 -4 3.2 -3.5 4.1 -4.5 6.3 -3 3.7 -1.2 2 -1 2 -.8 4.1 -.3 4 0 6 .1 4 .5 4.1 .5 2 1 2 1.2 2 3 3.7 6.1 8.3 1.9 2.1 2.4 2 13.7 9.4 2 .9 2 .6 4 .6 12.1 .1 4-.3 2-.4 2-.6 2-.9 2-1.3 2.8-2.1 7.3-4.8 4-3.2 3.5-4.1 4.5-6.3 3-3.7 1.2-2 1-2 .8-4.1 .3-4 0-6 -.1-4 -.5-4.1 -.5-2 -1-2 -1.2-2 -3-3.7 -6.1-8.3 -1.9-2.1 -2.4-2 -13.7-9.4 -2-.9 -2-.6 -4-.6 -12.1-.1 -4 .3zM66.1 62.3l2.2-1.4 2-.9 4-.9 4-.3 8.1 .1 4 .6 2.7 .8 1.3 .6 2 1.3 2 2 1.4 2.1 .8 2 .5 2.1 .5 4 0 8 -.5 4 -.7 2.5 -.6 1.6 -1.3 2 -1.9 2 -2.2 1.4 -2 .9 -4 .9 -4 .3 -8.1-.1 -4-.6 -2.7-.8 -1.3-.6 -2-1.3 -2-2 -1.4-2.1 -.8-2 -.5-2.1 -.5-4 0-8 .5-4 .7-2.5 .6-1.6 1.3-2z"/>
<path fill="#00ff9b" d="M26.5 28.1l1.6-1.6 2-1.7 2-1.3 4.1-1.8 2-.7 4-.8 4-.5 4-.2 16.1 .8 12 .2 16.1-.1 16.1-.9 6 .2 6 .8 4 1.2 4.1 1.8 2 1.3 2 1.7 1.6 1.6 1.6 2.1 2.1 4 1.4 4 .4 2 .5 4 .2 4 0 4.1 -.8 12 -.2 12.1 .2 14.1 .8 16 -.2 6.1 -.5 4 -.4 2 -1.4 4 -2.1 4 -1.6 2.1 -1.6 1.6 -2 1.7 -2 1.3 -4.1 1.8 -2 .7 -4 .8 -4 .5 -4 .2 -16.1-.8 -12-.2 -16.1 .1 -16.1 .9 -6-.2 -6-.8 -4-1.2 -4.1-1.8 -2-1.3 -2-1.7 -1.6-1.6 -1.6-2.1 -2.1-4 -1.4-4 -.4-2 -.5-4 -.2-4 0-4.1 .8-12 .2-12.1 -.2-14.1 -.8-16 .2-6.1 .5-4 .4-2 1.4-4 2.1-4zM70.3 33.2l-2 .8 -2 1 -2 1.5 -4.2 3.7 -7.9 5.8 -2 1.7 -2.4 2.6 -5.6 7.1 -4.7 4.9 -1.4 2 -1.1 2 -.6 2 -.6 4.1 -.1 10 .3 4 .4 2.1 .6 2 1.1 2 1.4 2 4.7 4.9 3.9 5.1 3.6 4.1 2.5 2.2 7.9 5.8 4.2 3.7 2 1.5 2 1 2 .8 4 .6 6 .2 6.1-.1 4-.3 2-.4 2-.8 2-1 2-1.5 4.2-3.7 7.9-5.8 2-1.7 2.4-2.6 5.6-7.1 4.7-4.9 1.4-2 1.1-2 .6-2 .6-4.1 .1-10 -.3-4 -.4-2.1 -.6-2 -1.1-2 -1.4-2 -4.7-4.9 -3.9-5.1 -3.6-4.1 -2.5-2.2 -7.9-5.8 -4.2-3.7 -2-1.5 -2-1 -2-.8 -4-.6 -6-.2 -6.1 .1 -4 .3zM66.3 64.3l2.6-2 3.4-1.4 4-.7 4-.2 6.1 .2 4 .7 3.4 1.4 2.6 2 2 2.8 1.3 3.3 .6 4 .1 4 -.1 4 -.6 4 -1.3 3.3 -2 2.8 -2.6 2 -3.4 1.4 -4 .7 -4 .2 -6.1-.2 -4-.7 -3.4-1.4 -2.6-2 -2-2.8 -1.3-3.3 -.6-4 -.1-4 .1-4 .6-4 1.3-3.3z"/>
<path fill="#00ff80" d="M27.5 28.1l2.6-2.3 2-1.3 4.1-1.9 4-1.2 2-.3 6-.4 6 .4 14.1 1.8 12 .3 12.1-.2 6-.5 12.1-1.6 4-.2 4 .2 4 .5 2 .5 4.1 1.5 4 2.4 2 1.8 2.2 2.6 1.2 2 1.8 4 .5 2 .7 4 .2 4 -.2 4.1 -1.7 12 -.4 4 -.2 12.1 .2 12.1 .4 4 1.7 12 .2 6.1 -.5 4 -.9 4 -1.8 4 -1.2 2 -1.6 2.1 -2.6 2.3 -2 1.3 -4.1 1.9 -4 1.2 -2 .3 -6 .4 -6-.4 -14.1-1.8 -12-.3 -12.1 .2 -6 .5 -12.1 1.6 -4 .2 -4-.2 -4-.5 -2-.5 -4.1-1.5 -4-2.4 -2-1.8 -2.2-2.6 -1.2-2 -1.8-4 -.5-2 -.7-4 -.2-4 .2-4.1 1.7-12 .4-4 .2-12.1 -.2-12.1 -.4-4 -1.7-12 -.2-6.1 .5-4 .9-4 1.8-4 1.2-2zM72.3 30.2l-2 .5 -2 .8 -2 1.3 -2 1.8 -5.3 5.6 -6.8 5.3 -3.1 2.7 -1.9 2.1 -5 6 -6.7 6 -1.8 2 -1.3 2 -.8 2 -.4 2.1 -.3 8 .3 8 .4 2.1 .8 2 1.3 2 1.8 2 6.7 6 5 6 1.9 2.1 3.1 2.7 6.8 5.3 5.3 5.6 2 1.8 2 1.3 2 .8 4 .7 4 .2 6.1 0 6-.4 2-.5 2-.8 2-1.3 2-1.8 5.3-5.6 6.8-5.3 3.1-2.7 1.9-2.1 5-6 6.7-6 1.8-2 1.3-2 .8-2 .4-2.1 .3-8 -.3-8 -.4-2.1 -.8-2 -1.3-2 -1.8-2 -6.7-6 -5-6 -1.9-2.1 -3.1-2.7 -6.8-5.3 -5.3-5.6 -2-1.8 -2-1.3 -2-.8 -4-.7 -4-.2 -6.1 0zM68.3 64.8l2-1.4 2-.9 2-.6 4-.5 6.1 0 4 .5 2 .6 2 .9 1.5 .9 2.1 2 1.2 2 .9 2.1 .5 2 .4 4 -.1 6 -.8 4 -.9 2.1 -1.2 2 -1.6 1.5 -2 1.4 -2 .9 -2 .6 -4 .5 -6.1 0 -4-.5 -2-.6 -2-.9 -1.5-.9 -2.1-2 -1.2-2 -.9-2.1 -.5-2 -.4-4 .1-6 .8-4 .9-2.1 1.2-2z"/>
<path fill="#00ff64" d="M67.9 26.1l0 2 -1.6 1.2 -4.9 6.9 -3.5 4 -5.7 4.7 -3.6 3.3 -6.4 7.2 -2 1.8 -6.1 4.3 -1.4 .8 -2.6 2 -2 1.9 -2-3.3 -2-7.1 -1.1-5.5 -.5-6.1 .3-4 .4-2 1.3-4 1-2 1.3-2 1.8-2.1 1.5-1.4 2-1.4 4.1-1.9 4-1.1 4-.5 4 0 6 .7 7.5 1.6zM94.8 26.1l6.2-2 7.5-1.6 6-.7 4 0 4 .5 4 1.1 4.1 1.9 2 1.4 1.5 1.4 1.8 2.1 1.3 2 1 2 1.3 4 .4 2 .3 4 -.5 6.1 -1.1 5.5 -2 7.1 -2 3.3 -2-1.9 -2.6-2 -1.4-.8 -6.1-4.3 -2-1.8 -6.4-7.2 -3.6-3.3 -5.7-4.7 -3.5-4 -4.9-6.9 -1.6-1.2zM69 66.3l1.3-1 1.6-1 2.4-.8 2-.5 4-.2 4.1 0 4 .7 2.4 .8 1.6 1 1.3 1 1.7 2 1 2.1 .7 2 .5 4 0 4 -.5 4 -.7 2.1 -1 2 -1 1.2 -2 1.8 -2 1.2 -2 .6 -2 .5 -4 .2 -4.1 0 -4-.7 -2.4-.8 -1.6-1 -1.3-1 -1.7-2 -1-2.1 -.7-2 -.3-2 -.2-4 .2-4 .3-2 .7-2 1-2.1zM28.1 90.6l2 1.9 2.6 2 1.4 .8 6.1 4.3 2 1.8 6.4 7.2 3.6 3.3 5.7 4.7 3.5 4 4.9 6.9 1.6 1.2 0 2 -6.2 2 -7.5 1.6 -6 .7 -4 0 -4-.5 -4-1.1 -4.1-1.9 -2-1.4 -1.5-1.4 -1.8-2.1 -1.3-2 -1-2 -1.3-4 -.4-2 -.3-4 .5-6.1 1.1-5.5 2-7.1zM134.6 90.6l2 3.3 2 7.1 1.1 5.5 .5 6.1 -.3 4 -.4 2 -1.3 4 -1 2 -1.3 2 -1.8 2.1 -1.5 1.4 -2 1.4 -4.1 1.9 -4 1.1 -4 .5 -4 0 -6-.7 -7.5-1.6 -6.2-2 0-2 1.6-1.2 4.9-6.9 3.5-4 5.7-4.7 3.6-3.3 6.4-7.2 2-1.8 6.1-4.3 1.4-.8 2.6-2z"/>
<path fill="#00ff48" d="M61.1 26.1l1.9 2 0 2.1 -.6 2 -1 2 -2.7 4 -1.7 2 -8.8 7.9 -6 6.4 -4 3.1 -4.1 2.2 -2 .7 -2 .2 -2-.6 -2-3.1 -1.5-4.7 -1-6.1 -.1-4 .6-4 1.3-4 1-2 1.4-2 1.8-2.1 2.5-1.9 2-1.2 2.1-.8 4-1.1 4-.5 4 .1 4 .5 4 1zM101.6 26.1l2.8-1.2 4.1-1.2 6-1 4-.1 4 .5 4 1.1 2.1 .8 2 1.2 2.5 1.9 1.8 2.1 1.4 2 1 2 1.3 4 .6 4 -.1 4 -1 6.1 -1.5 4.7 -2 3.1 -2 .6 -2-.2 -2-.7 -4.1-2.2 -4-3.1 -5.9-6.3 -2.1-2 -4.7-4 -2.1-2 -1.7-2 -2.7-4 -1-2 -.6-2 0-2.1zM70.3 67.4l2-1.5 2-.9 2-.5 4-.4 4.1 .1 2 .3 2 .5 2 .9 2 1.5 .9 .9 1.4 2.1 .8 2 .6 4 0 4 -.6 4 -.8 2 -1.4 2.1 -2.2 2 -2.7 1.3 -2 .5 -4 .4 -4.1-.1 -2-.3 -2-.5 -2-.9 -2-1.5 -2-2.5 -1.1-2.5 -.4-2 -.3-4 .3-4 .4-2 1.1-2.5zM28.1 96.7l2-.6 2 .2 2 .7 4.1 2.2 4 3.1 5.9 6.3 2.1 2 4.7 4 2.1 2 1.7 2 2.7 4 1 2 .6 2 0 2.1 -1.9 2 -2.8 1.2 -4.1 1.2 -6 1 -4 .1 -4-.5 -4-1.1 -2.1-.8 -2-1.2 -2.5-1.9 -1.8-2.1 -1.4-2 -1-2 -1.3-4 -.6-4 .1-4 1-6.1 1.5-4.7zM134.6 96.7l2 3.1 1.5 4.7 1 6.1 .1 4 -.6 4 -1.3 4 -1 2 -1.4 2 -1.8 2.1 -2.5 1.9 -2 1.2 -2.1 .8 -4 1.1 -4 .5 -4-.1 -6-1 -4.1-1.2 -2.8-1.2 -1.9-2 0-2.1 .6-2 1-2 2.7-4 1.7-2 2.1-2 4.7-4 2.1-2 5.9-6.3 4-3.1 4.1-2.2 2-.7 2-.2z"/>
<path fill="#00ff2d" d="M60.2 28.1l.8 2.1 -.1 2 -1.8 4 -1.3 2 -1.6 2 -2 2 -6 5.4 -6 6.2 -2 1.6 -4 2.2 -2.1 .8 -2 .5 -2-.5 -2-1.3 -1.6-2.8 -1.3-4 -.7-4.1 -.2-4 .5-4 .6-2 .8-2 1.9-3.3 2-2.3 2-1.6 2-1.2 2.1-.9 4-1.1 4-.4 4 .2 6 1.2 3.4 1.3zM102.5 28.1l2.6-2 3.4-1.3 6-1.2 4-.2 4 .4 4 1.1 2.1 .9 2 1.2 2 1.6 2 2.3 1.9 3.3 .8 2 .6 2 .5 4 -.2 4 -.7 4.1 -1.3 4 -1.6 2.8 -2 1.3 -2 .5 -2-.5 -2.1-.8 -4-2.2 -2-1.6 -6-6.2 -6-5.4 -2-2 -1.6-2 -1.3-2 -1.8-4 -.1-2zM71.9 68.3l2.4-1.4 2-.7 4-.4 4.1 .1 2 .3 2 .7 2 1.1 2 2.1 1.2 2.3 .6 2 .3 2 0 4 -.3 2 -.6 2 -1 2 -1.8 2.1 -2.4 1.4 -2 .7 -4 .4 -4.1-.1 -2-.3 -2-.7 -2-1.1 -2-2.1 -1.2-2.3 -.6-2 -.3-2 0-4 .3-2 .6-2 1-2zM28.1 99.7l2-1.3 2-.5 2 .5 2.1 .8 4 2.2 2 1.6 6 6.2 6 5.4 2 2 1.6 2 1.3 2 1.8 4 .1 2 -.8 2.1 -2.6 2 -3.4 1.3 -6 1.2 -4 .2 -4-.4 -4-1.1 -2.1-.9 -2-1.2 -2-1.6 -2-2.3 -1.9-3.3 -.8-2 -.6-2 -.5-4 .2-4 .7-4.1 1.3-4zM134.6 99.7l1.6 2.8 1.3 4 .7 4.1 .2 4 -.5 4 -.6 2 -.8 2 -1.9 3.3 -2 2.3 -2 1.6 -2 1.2 -2.1 .9 -4 1.1 -4 .4 -4-.2 -6-1.2 -3.4-1.3 -2.6-2 -.8-2.1 .1-2 1.8-4 1.3-2 1.6-2 2-2 6-5.4 6-6.2 2-1.6 4-2.2 2.1-.8 2-.5 2 .5z"/>
<path fill="#0f1" d="M58.1 28.1l1.3 2.1 .3 2 -.7 2 -2 4 -1.6 2 -1.9 2 -3.3 2.9 -8 7.9 -2 1.5 -2 1.2 -4.1 1.6 -2 .2 -2-.9 -2-1.9 -1.2-2.4 -1.3-4.1 -.5-4 .1-4 .9-4 .8-2 1.1-2 2.1-2.6 2-1.8 2-1.2 2.1-.9 2-.7 4-.7 4 0 2 .1 4 .8 4 1.6zM104.6 28.1l1.9-1.3 4-1.6 4-.8 2-.1 4 0 4 .7 2 .7 2.1 .9 2 1.2 2 1.8 2.1 2.6 1.1 2 .8 2 .9 4 .1 4 -.5 4 -1.3 4.1 -1.2 2.4 -2 1.9 -2 .9 -2-.2 -4.1-1.6 -2-1.2 -2-1.5 -8-7.9 -3.3-2.9 -1.9-2 -1.6-2 -2-4 -.7-2 .3-2zM74.3 69.9l2-1.1 2-.5 2-.2 4.1 .2 2 .5 2 1.1 2 2.1 1.2 2.4 .4 2 0 4 -.4 2 -.9 2 -1.8 2 -2.5 1.6 -2 .5 -2 .2 -4.1-.2 -2-.5 -2-1.1 -2-2.1 -1.2-2.4 -.4-2 0-4 .4-2 .9-2zM28.1 102.1l2-1.9 2-.9 2 .2 4.1 1.6 2 1.2 2 1.5 8 7.9 3.3 2.9 1.9 2 1.6 2 2 4 .7 2 -.3 2 -1.3 2.1 -1.9 1.3 -4 1.6 -4 .8 -2 .1 -4 0 -4-.7 -2-.7 -2.1-.9 -2-1.2 -2-1.8 -2.1-2.6 -1.1-2 -.8-2 -.9-4 -.1-4 .5-4 1.3-4.1zM133 100.5l1.8 2 1 2 .7 2 .9 4.1 .2 4 -.5 4 -1.3 4 -1.1 2 -2.1 2.6 -2 1.8 -2 1.2 -2.1 .9 -2 .7 -4 .7 -4 0 -2-.1 -4-.8 -4-1.6 -1.9-1.3 -1.3-2.1 -.3-2 .7-2 2-4 1.6-2 1.9-2 3.3-2.9 8-7.9 2-1.5 2-1.2 4.1-1.6 2-.2z"/>
<path fill="#0f0" d="M56.3 28.1l1.7 2.1 .5 2 -1.2 4 -1.2 2 -1.4 2 -1.9 2 -8.6 8.3 -4 3.3 -2 1.1 -2 .8 -2.1 .6 -2-.1 -2-1.1 -.8-.8 -1.2-1.7 -1-2.3 -1-4.1 -.3-4 .5-4 .5-2 .9-2 1.1-2 1.7-2 2.4-2.1 3.3-1.7 4-1.2 2-.2 4-.1 4 .6 4 1.4zM106.4 28.1l2.1-1.2 4-1.4 4-.6 4 .1 2 .2 4 1.2 3.3 1.7 2.4 2.1 1.7 2 1.1 2 .9 2 .5 2 .5 4 -.3 4 -1 4.1 -1 2.3 -1.2 1.7 -.8 .8 -2 1.1 -2 .1 -2.1-.6 -2-.8 -2-1.1 -4-3.3 -8.6-8.3 -1.9-2 -1.4-2 -1.2-2 -1.2-4 .5-2zM76.3 73.2l2-1.2 2-.4 2.1 0 2 .4 2 1.2 1 1.2 .9 2 .2 2 -.2 2 -.9 2 -1 1.2 -2 1.2 -2 .4 -2.1 0 -2-.4 -2-1.2 -1-1.2 -.9-2 -.2-2 .2-2 .9-2zM30.1 101.7l2-1.1 2-.1 2.1 .6 2 .8 2 1.1 4 3.3 8.6 8.3 1.9 2 1.4 2 1.2 2 1.2 4 -.5 2 -1.7 2.1 -2.1 1.2 -4 1.4 -4 .6 -4-.1 -2-.2 -4-1.2 -3.3-1.7 -2.4-2.1 -1.7-2 -1.1-2 -.9-2 -.5-2 -.5-4 .3-4 1-4.1 1-2.3 1.2-1.7zM132.6 101.7l.8 .8 1.2 1.7 1 2.3 1 4.1 .3 4 -.5 4 -.5 2 -.9 2 -1.1 2 -1.7 2 -2.4 2.1 -3.3 1.7 -4 1.2 -2 .2 -4 .1 -4-.6 -4-1.4 -2.1-1.2 -1.7-2.1 -.5-2 1.2-4 1.2-2 1.4-2 1.9-2 8.6-8.3 4-3.3 2-1.1 2-.8 2.1-.6 2 .1z"/>
<path fill="#0f0" d="M56.7 30.2l.9 2 -.4 2 -.8 2 -1 2 -1.4 2 -1.9 2 -7.9 7.7 -2 1.8 -2 1.4 -4 1.8 -2.1 .5 -2-.2 -2-1.5 -1.1-1.4 -1-2 -.7-2.1 -.5-2 -.3-4 .4-4 .6-2 .9-2 1.2-2 1.8-2 2.6-2.1 2.2-1.1 4-1.1 4-.4 4 .4 4 1.1 2.4 1.1zM108.1 28.1l2.4-1.1 4-1.1 4-.4 4 .4 4 1.1 2.2 1.1 2.6 2.1 1.8 2 1.2 2 .9 2 .6 2 .4 4 -.3 4 -.5 2 -.7 2.1 -1 2 -1.1 1.4 -2 1.5 -2 .2 -2.1-.5 -4-1.8 -2-1.4 -2-1.8 -7.9-7.7 -1.9-2 -1.4-2 -1-2 -.8-2 -.4-2 .9-2zM30.1 103.1l2-1.5 2-.2 2.1 .5 4 1.8 2 1.4 2 1.8 7.9 7.7 1.9 2 1.4 2 1 2 .8 2 .4 2 -.9 2 -2.1 2.1 -2.4 1.1 -4 1.1 -4 .4 -4-.4 -4-1.1 -2.2-1.1 -2.6-2.1 -1.8-2 -1.2-2 -.9-2 -.6-2 -.4-4 .3-4 .5-2 .7-2.1 1-2zM132.6 103.1l1.1 1.4 1 2 .7 2.1 .5 2 .3 4 -.4 4 -.6 2 -.9 2 -1.2 2 -1.8 2 -2.6 2.1 -2.2 1.1 -4 1.1 -4 .4 -4-.4 -4-1.1 -2.4-1.1 -2.1-2.1 -.9-2 .4-2 .8-2 1-2 1.4-2 1.9-2 7.9-7.7 2-1.8 2-1.4 4-1.8 2.1-.5 2 .2z"/>
<path fill="#10ff00" d="M54.2 29l1.3 1.2 1.1 2 -.3 2 -.6 2 -1 2 -1.4 2 -3.8 4 -7.3 6.8 -2 1.4 -2 1 -4.1 1.2 -2-.5 -2-1.7 -1.3-2.1 -1.3-4.1 -.3-2 0-4 .4-2 .6-2 .9-2 1.3-2 1.7-1.9 2-1.5 2.1-1.1 2-.7 4-.8 4 .1 2 .2 2 .5 2 .8zM107.2 30.2l1.3-1.2 1.3-.9 2.7-1.1 2-.5 4-.3 4 .3 2 .5 2 .7 2.1 1.1 2 1.5 1.7 1.9 1.3 2 .9 2 .6 2 .4 2 0 4 -.3 2 -1.3 4.1 -1.3 2.1 -2 1.7 -2 .5 -4.1-1.2 -2-1 -2-1.4 -2-1.7 -7.3-7.1 -1.8-2 -1.4-2 -1-2 -.6-2 -.3-2zM30.1 104.4l2-1.7 2-.5 4.1 1.2 2 1 2 1.4 2 1.7 7.3 7.1 1.8 2 1.4 2 1 2 .6 2 .3 2 -1.1 2 -1.3 1.2 -1.3 .9 -2.7 1.1 -2 .5 -4 .3 -4-.3 -2-.5 -2-.7 -2.1-1.1 -2-1.5 -1.7-1.9 -1.3-2 -.9-2 -.6-2 -.4-2 0-4 .3-2 1.3-4.1zM132.6 104.4l1.3 2.1 1.3 4.1 .3 2 0 4 -.4 2 -.6 2 -.9 2 -1.3 2 -1.7 1.9 -2 1.5 -2.1 1.1 -2 .7 -2 .5 -4 .3 -4-.3 -2-.5 -2.7-1.1 -1.3-.9 -1.3-1.2 -1.1-2 .3-2 .6-2 1-2 1.4-2 1.8-2 7.3-7.1 2-1.7 2-1.4 2-1 4.1-1.2 2 .5z"/>
<path fill="#2bff00" d="M54.2 30l1.6 2.2 -.2 2 -.6 2 -1 2 -1.3 2 -1.8 2 -4.7 4.7 -4 3.5 -2 1.4 -2 1 -2 .6 -2.1 .4 -2-.6 -1-.9 -1.5-2 -.9-2.1 -.9-4 -.1-2 .2-2 .9-4 1.3-2.6 2-2.5 2-1.6 2.1-1.1 2-.8 4-.8 4 .1 2 .3 2 .5 2 .9zM108.3 30.2l2.2-1.6 2-.9 2-.5 2-.3 4-.1 4 .8 2 .8 2.1 1.1 2 1.6 2 2.5 1.3 2.6 .9 4 .2 2 -.1 2 -.9 4 -.9 2.1 -1.5 2 -1 .9 -2 .6 -2.1-.4 -2-.6 -2-1 -2-1.4 -4-3.5 -4.7-4.7 -1.8-2 -1.3-2 -1-2 -.6-2 -.2-2zM31.1 104.5l1-.9 2-.6 2.1 .4 2 .6 2 1 2 1.4 4 3.5 4.7 4.7 1.8 2 1.3 2 1 2 .6 2 .2 2 -1.4 2 -2.2 1.6 -2 .9 -2 .5 -2 .3 -4 .1 -4-.8 -2-.8 -2.1-1.1 -2-1.6 -2-2.5 -1.3-2.6 -.9-4 -.2-2 .1-2 .9-4 .9-2.1zM130.6 103.6l2 2.1 1.4 2.9 .9 4 .1 2 -.2 2 -.9 4 -1.3 2.6 -2 2.5 -2 1.6 -2.1 1.1 -2 .8 -4 .8 -4-.1 -2-.3 -2-.5 -2-.9 -2.2-1.6 -1.4-2 .2-2 .6-2 1-2 1.3-2 1.8-2 6.7-6.5 2-1.7 2-1.4 2-1 2-.6 2.1-.4z"/>
<path fill="#45ff00" d="M53.2 30.2l1.8 2 -.1 2 -.6 2 -.9 2 -1.4 2 -1.7 2 -6.1 6 -2 1.6 -2 1.3 -2 1 -2 .6 -2.1 .4 -2-.9 -1.7-1.9 -1-2.1 -.6-2 -.5-4 .1-2 .4-2 .6-2 1.1-2 1.6-2.2 2-1.8 2.1-1.2 2-.8 2-.6 2-.3 4 .1 2 .4 2 .6 2 1zM109.5 30.2l1-.8 2-1 2-.6 2-.4 4-.1 2 .3 2 .6 2 .8 2.1 1.2 2 1.8 1.6 2.2 1.1 2 .6 2 .4 2 .1 2 -.5 4 -.6 2 -1 2.1 -1.7 1.9 -2 .9 -2.1-.4 -2-.6 -2-1 -2-1.3 -2-1.6 -6.1-6 -1.7-2 -1.4-2 -.9-2 -.6-2 -.1-2zM32.1 104.6l2-.9 2.1 .4 2 .6 2 1 2 1.3 2 1.6 6.1 6 1.7 2 1.4 2 .9 2 .6 2 .1 2 -1.8 2 -1 .8 -2 1 -2 .6 -2 .4 -4 .1 -2-.3 -2-.6 -2-.8 -2.1-1.2 -2-1.8 -1.6-2.2 -1.1-2 -.6-2 -.4-2 -.1-2 .5-4 .6-2 1-2.1zM130.6 104.6l1.7 1.9 1 2.1 .6 2 .5 4 -.1 2 -.4 2 -.6 2 -1.1 2 -1.6 2.2 -2 1.8 -2.1 1.2 -2 .8 -2 .6 -2 .3 -4-.1 -2-.4 -2-.6 -2-1 -1-.8 -1.8-2 .1-2 .6-2 .9-2 1.4-2 1.7-2 6.1-6 2-1.6 2-1.3 2-1 2-.6 2.1-.4z"/>
<path fill="#5fff00" d="M52.2 30.2l1.9 2 .1 2 -.6 2 -.9 2 -1.3 2 -1.6 2 -5.6 5.4 -2 1.6 -2 1.3 -2 1 -2 .5 -2.1 .3 -2-1 -.8-1 -1.2-2.1 -.7-2 -.4-2 -.1-2 .1-2 .4-2 .7-2 1-2 1.6-2 1.4-1.3 2.1-1.3 2-.9 4-.8 2-.1 4 .6 2 .7zM108.6 32.2l1.9-2 2-1.1 2-.7 4-.6 2 .1 4 .8 2 .9 2.1 1.3 1.4 1.3 1.6 2 1 2 .7 2 .4 2 .1 2 -.1 2 -.4 2 -.7 2 -1.2 2.1 -.8 1 -2 1 -2.1-.3 -2-.5 -2-1 -2-1.3 -2-1.6 -3.6-3.4 -3.6-4 -1.3-2 -.9-2 -.6-2zM32.1 105.5l2-1 2.1 .3 2 .5 2 1 2 1.3 2 1.6 3.6 3.4 3.6 4 1.3 2 .9 2 .6 2 -.1 2 -1.9 2 -2 1.1 -2 .7 -4 .6 -2-.1 -4-.8 -2-.9 -2.1-1.3 -1.4-1.3 -1.6-2 -1-2 -.7-2 -.4-2 -.1-2 .1-2 .4-2 .7-2.1 1.2-2zM130.6 105.5l.8 1 1.2 2 .7 2.1 .4 2 .1 2 -.1 2 -.4 2 -.7 2 -1 2 -1.6 2 -1.4 1.3 -2.1 1.3 -2 .9 -4 .8 -2 .1 -4-.6 -2-.7 -2-1.1 -1.9-2 -.1-2 .6-2 .9-2 1.3-2 3.6-4 3.6-3.4 2-1.6 2-1.3 2-1 2-.5 2.1-.3z"/>
<path fill="#7aff00" d="M52.2 31l1.1 1.2 .2 2 -.5 2 -.9 2 -1.3 2 -1.6 2 -3 3 -4 3.5 -2 1.2 -2 1 -2 .5 -2.1 .3 -2-1.4 -1.3-2.1 -.8-2 -.4-2 -.2-2 .1-2 .4-2 .7-2 1.2-2 1.7-2 2.7-2 2-.9 2-.6 2-.3 4 .2 2 .4 2 .7zM109.4 32.2l1.1-1.2 2-1.3 2-.7 4-.6 4 .3 2 .6 2 .9 2.1 1.4 2 2.1 1.5 2.5 .7 2 .4 2 .1 2 -.2 2 -.4 2 -.8 2 -1.3 2.1 -2 1.4 -2.1-.3 -2-.5 -2-1 -2-1.2 -2-1.6 -5-4.9 -1.6-2 -1.3-2 -.9-2 -.5-2zM32.1 106.5l2-1.4 2.1 .3 2 .5 2 1 2 1.2 2 1.6 5 4.9 1.6 2 1.3 2 .9 2 .5 2 -.2 2 -1.1 1.2 -2 1.3 -2 .7 -4 .6 -4-.3 -2-.6 -2-.9 -2.1-1.4 -2-2.1 -1.5-2.5 -.7-2 -.4-2 -.1-2 .2-2 .4-2 .8-2zM130.6 106.5l1.3 2.1 .8 2 .4 2 .2 2 -.1 2 -.4 2 -.7 2 -1.5 2.5 -2 2.1 -2.1 1.4 -2 .9 -2 .6 -4 .3 -4-.6 -2-.7 -2-1.3 -1.1-1.2 -.2-2 .5-2 .9-2 1.3-2 1.6-2 5-4.9 2-1.6 2-1.2 2-1 2-.5 2.1-.3z"/>
<path fill="#94ff00" d="M52.5 32.2l.4 2 -.5 2 -.9 2 -1.3 2 -1.6 2 -4.4 4.3 -2 1.6 -2 1.3 -2 .9 -2 .5 -2.1 .2 -1-.7 -1-1 -.6-1.1 -.9-2 -.4-2 -.2-2 .1-2 .4-2 .7-2 1.2-2 1.9-2 1.9-1.4 2-1 2-.6 2-.3 2 0 2 .2 2 .4 2 .9zM110.2 32.2l2.3-1.8 2-.9 2-.4 2-.2 2 0 2 .3 2 .6 2 1 1.9 1.4 1.9 2 1.2 2 .7 2 .4 2 .1 2 -.2 2 -.4 2 -.9 2 -.6 1.1 -1 1 -1 .7 -2.1-.2 -2-.5 -2-.9 -2-1.3 -2-1.6 -4.4-4.3 -1.6-2 -1.3-2 -.9-2 -.5-2zM32.1 107.5l1-1 1-.7 2.1 .2 2 .5 2 .9 2 1.3 2 1.6 4.4 4.3 1.6 2 1.3 2 .9 2 .5 2 -.4 2 -2.3 1.8 -2 .9 -2 .4 -2 .2 -2 0 -2-.3 -2-.6 -2-1 -1.9-1.4 -1.9-2 -1.2-2 -.7-2 -.4-2 -.1-2 .2-2 .4-2 .9-2zM129.6 106.5l1.6 2.1 .9 2 .4 2 .2 2 -.1 2 -.4 2 -.7 2 -1.2 2 -1.7 1.9 -2.1 1.5 -2 1 -2 .6 -2 .3 -2 0 -2-.2 -2-.4 -2-.9 -2.3-1.8 -.4-2 .5-2 .9-2 1.3-2 1.6-2 2.4-2.5 4-3.4 2-1.3 2-.9 2-.5 2.1-.2z"/>
<path fill="#aeff00" d="M51.7 32.2l.5 2 -.4 2 -.9 2 -1.2 2 -1.7 2 -3.8 3.8 -2 1.5 -2 1.3 -2 .9 -2 .5 -2.1 .1 -2-2.1 -.9-2 -.5-2 -.2-2 .1-2 .4-2 .8-2 1.3-2 2-2 1.1-.8 2-1 2-.6 2-.3 2-.1 2 .2 2 .5 2 .9zM111 32.2l1.5-1.2 2-.9 2-.5 2-.2 2 .1 2 .3 2 .6 2 1 1.1 .8 2 2 1.3 2 .8 2 .4 2 .1 2 -.2 2 -.5 2 -.9 2 -2 2.1 -2.1-.1 -2-.5 -2-.9 -2-1.3 -2-1.5 -3.8-3.8 -1.7-2 -1.2-2 -.9-2 -.4-2zM32.1 108.6l2-2.1 2.1 .1 2 .5 2 .9 2 1.3 2 1.5 3.8 3.8 1.7 2 1.2 2 .9 2 .4 2 -.5 2 -1.5 1.2 -2 .9 -2 .5 -2 .2 -2-.1 -2-.3 -2-.6 -2-1 -1.1-.8 -2-2 -1.3-2 -.8-2 -.4-2 -.1-2 .2-2 .5-2zM130.6 108.6l.9 2 .5 2 .2 2 -.1 2 -.4 2 -.8 2 -1.3 2 -2 2 -1.1 .8 -2 1 -2 .6 -2 .3 -2 .1 -2-.2 -2-.5 -2-.9 -1.5-1.2 -.5-2 .4-2 .9-2 1.2-2 1.7-2 3.8-3.8 2-1.5 2-1.3 2-.9 2-.5 2.1-.1z"/>
<path fill="#c9ff00" d="M50.9 32.2l.7 2 -.4 2 -.9 2 -1.2 2 -1.6 2 -3.3 3.2 -2 1.6 -2 1.2 -2 .9 -2 .5 -2.1 0 -1.3-1.4 -1-2 -.6-2 -.2-2 .1-2 .5-2 .8-2 1.7-2.5 2.1-1.7 2-1.1 2-.6 2-.3 2-.1 2 .2 2 .6zM111.8 32.2l2.7-1.5 2-.6 2-.2 2 .1 2 .3 2 .6 2 1.1 2.1 1.7 1.7 2.5 .8 2 .5 2 .1 2 -.2 2 -.6 2 -1 2 -1.3 1.4 -2.1 0 -2-.5 -2-.9 -2-1.2 -2-1.6 -3.3-3.2 -1.6-2 -1.2-2 -.9-2 -.4-2zM32.8 108.6l1.3-1.4 2.1 0 2 .5 2 .9 2 1.2 2 1.6 3.3 3.2 1.6 2 1.2 2 .9 2 .4 2 -.7 2 -2.7 1.5 -2 .6 -2 .2 -2-.1 -2-.3 -2-.6 -2-1.1 -2.1-1.7 -1.7-2.5 -.8-2 -.5-2 -.1-2 .2-2 .6-2zM128.6 107.2l1.3 1.4 1 2 .6 2 .2 2 -.1 2 -.5 2 -.8 2 -1.7 2.5 -2.1 1.7 -2 1.1 -2 .6 -2 .3 -2 .1 -2-.2 -2-.6 -2.7-1.5 -.7-2 .4-2 .9-2 1.2-2 1.6-2 3.3-3.2 2-1.6 2-1.2 2-.9 2-.5z"/>
<path fill="#e3ff00" d="M50 32.2l1 2 -.4 2 -.8 2 -1.3 2 -1.6 2 -2.7 2.6 -2 1.6 -2 1.3 -2 .9 -2 .5 -2.1-.2 -.6-.7 -1.2-2 -.6-2 -.2-2 .1-2 .5-2 .9-2 1.4-2 1.8-1.6 2-1.1 2-.7 2-.4 2 0 2 .2 2 .6zM112.7 32.2l1.8-1 2-.6 2-.2 2 0 2 .4 2 .7 2 1.1 1.8 1.6 1.4 2 .9 2 .5 2 .1 2 -.2 2 -.6 2 -1.2 2 -.6 .7 -2.1 .2 -2-.5 -2-.9 -2-1.3 -2-1.6 -2.7-2.6 -1.6-2 -1.3-2 -.8-2 -.4-2zM34.1 107.9l2.1-.2 2 .5 2 .9 2 1.3 2 1.6 2.7 2.6 1.6 2 1.3 2 .8 2 .4 2 -1 2 -1.8 1 -2 .6 -2 .2 -2 0 -2-.4 -2-.7 -2-1.1 -1.8-1.6 -1.4-2 -.9-2 -.5-2 -.1-2 .2-2 .6-2 1.2-2zM128.6 107.9l.6 .7 1.2 2 .6 2 .2 2 -.1 2 -.5 2 -.9 2 -1.4 2 -1.8 1.6 -2 1.1 -2 .7 -2 .4 -2 0 -2-.2 -2-.6 -1.8-1 -1-2 .4-2 .8-2 1.3-2 1.6-2 2.7-2.6 2-1.6 2-1.3 2-.9 2-.5z"/>
<path fill="#fdff00" d="M48.9 32.2l1.5 2 -.4 2 -.8 2 -1.3 2 -1.6 2 -2.1 2.1 -2 1.6 -2 1.2 -2 .9 -2 .5 -2.1-.3 -1.2-2 -.7-2 -.2-2 .1-2 .5-2 1-2 1.5-2 1.1-.9 2-1.3 2-.7 2-.4 2 0 2 .2zM113.8 32.2l2.7-1.1 2-.2 2 0 2 .4 2 .7 2 1.3 1.1 .9 1.5 2 1 2 .5 2 .1 2 -.2 2 -.7 2 -1.2 2 -2.1 .3 -2-.5 -2-.9 -2-1.2 -2-1.6 -2.1-2.1 -1.6-2 -1.3-2 -.8-2 -.4-2zM34.1 108.6l2.1-.3 2 .5 2 .9 2 1.2 2 1.6 2.1 2.1 1.6 2 1.3 2 .8 2 .4 2 -1.5 2 -2.7 1.1 -2 .2 -2 0 -2-.4 -2-.7 -2-1.3 -1.1-.9 -1.5-2 -1-2 -.5-2 -.1-2 .2-2 .7-2zM128.6 108.6l1.2 2 .7 2 .2 2 -.1 2 -.5 2 -1 2 -1.5 2 -1.1 .9 -2 1.3 -2 .7 -2 .4 -2 0 -2-.2 -2.7-1.1 -1.5-2 .4-2 .8-2 1.3-2 1.6-2 2.1-2.1 2-1.6 2-1.2 2-.9 2-.5z"/>
<path fill="#ffe200" d="M48.2 32.4l1.6 1.8 -.4 2 -.8 2 -1.2 2 -1.7 2 -2.1 2 -3.4 2.4 -2 .8 -2 .6 -2.1-.7 -.6-1.1 -.8-2 -.2-2 .1-2 .5-2 1-2 1.8-2 2.3-1.6 2-.8 2-.4 2-.1 2 .4zM114.5 32.4l2-.7 2-.4 2 .1 2 .4 2 .8 2.3 1.6 1.8 2 1 2 .5 2 .1 2 -.2 2 -.8 2 -.6 1.1 -2.1 .7 -2-.6 -2-.8 -3.4-2.4 -2.1-2 -1.7-2 -1.2-2 -.8-2 -.4-2zM34.1 109.5l2.1-.7 2 .6 2 .8 3.4 2.4 2.1 2 1.7 2 1.2 2 .8 2 .4 2 -1.6 1.8 -2 .7 -2 .4 -2-.1 -2-.4 -2-.8 -2.3-1.6 -1.8-2 -1-2 -.5-2 -.1-2 .2-2 .8-2zM128.6 109.5l.6 1.1 .8 2 .2 2 -.1 2 -.5 2 -1 2 -1.8 2 -2.3 1.6 -2 .8 -2 .4 -2 .1 -2-.4 -2-.7 -1.6-1.8 .4-2 .8-2 1.2-2 1.7-2 2.1-2 3.4-2.4 2-.8 2-.6z"/>
<path fill="#ffc400" d="M48.2 33.1l1 1.1 -.4 2 -.7 2 -1.3 2 -2.6 2.9 -2 1.7 -2 1.2 -2 .9 -2 .5 -2.1-1 -.8-2.2 -.3-2 .1-2 .6-2 1-2 1.5-1.6 2-1.5 2-.8 2-.5 2 0 2 .4zM113.5 34.2l1-1.1 2-.9 2-.4 2 0 2 .5 2 .8 1.6 1.1 1.9 2 1 2 .6 2 .1 2 -.3 2 -.8 2.2 -2.1 1 -2-.5 -2-.9 -2.7-1.8 -2.2-2 -1.1-1.3 -1.9-2.7 -.7-2zM34.1 110.4l2.1-1 2 .5 2 .9 2.7 1.8 2.2 2 1.1 1.3 1.9 2.7 .7 2 .4 2 -1 1.1 -2 .9 -2 .4 -2 0 -2-.5 -2-.8 -1.6-1.1 -1.9-2 -1-2 -.6-2 -.1-2 .3-2zM128.6 110.4l.8 2.2 .3 2 -.1 2 -.6 2 -1 2 -1.9 2 -1.6 1.1 -2 .8 -2 .5 -2 0 -2-.4 -2-.9 -1-1.1 .4-2 .7-2 1.9-2.7 1.1-1.3 2.2-2 2.7-1.8 2-.9 2-.5z"/>
<path fill="#ffa500" d="M48.2 33.8l.3 .4 -.2 2 -.8 2 -1.3 2 -2 2.3 -2 1.7 -2 1.3 -2 .8 -2 .5 -1.2-.6 -.9-1.1 -.3-.9 -.3-2 .1-2 .6-2 1.1-2 .9-1 2-1.6 2-.8 2-.5 2 0 2 .4zM114.5 33.8l2-1.1 2-.4 2 0 2 .5 2 .8 2 1.6 .9 1 1.1 2 .6 2 .1 2 -.3 2 -.3 .9 -.9 1.1 -1.2 .6 -2-.5 -2-.8 -2-1.3 -2-1.7 -2-2.3 -1.3-2 -.8-2 -.2-2zM35 110.6l1.2-.6 2 .5 2 .8 2 1.3 2 1.7 2 2.3 1.3 2 .8 2 .2 2 -.3 .4 -2 1.1 -2 .4 -2 0 -2-.5 -2-.8 -2-1.6 -.9-1 -1.1-2 -.6-2 -.1-2 .3-2 .3-.9zM127.7 110.6l.9 1.1 .3 .9 .3 2 -.1 2 -.6 2 -1.1 2 -.9 1 -2 1.6 -2 .8 -2 .5 -2 0 -2-.4 -2-1.1 -.3-.4 .2-2 .8-2 1.3-2 2-2.3 2-1.7 2-1.3 2-.8 2-.5z"/>
<path fill="#ff8700" d="M47.7 34.2l0 2 -.8 2 -1.3 2 -1.4 1.6 -2 1.8 -2 1.3 -2 .9 -2.1 .4 -1.7-2 -.4-2 .1-2 .6-2 1.5-2.3 2-1.7 2-.9 2-.5 2 0 2 .4zM115 34.2l1.5-1 2-.4 2 0 2 .5 2 .9 2 1.7 1.5 2.3 .6 2 .1 2 -.4 2 -1.7 2 -2.1-.4 -2-.9 -2-1.3 -2-1.8 -1.4-1.6 -1.3-2 -.8-2zM36.1 110.6l2.1 .4 2 .9 2 1.3 2 1.8 1.4 1.6 1.3 2 .8 2 0 2 -1.5 1 -2 .4 -2 0 -2-.5 -2-.9 -2-1.7 -1.5-2.3 -.6-2 -.1-2 .4-2zM126.6 110.6l1.7 2 .4 2 -.1 2 -.6 2 -1.5 2.3 -2 1.7 -2 .9 -2 .5 -2 0 -2-.4 -1.5-1 0-2 .8-2 1.3-2 1.4-1.6 2-1.8 2-1.3 2-.9z"/>
<path fill="#ff6800" d="M46.9 34.2l.2 2 -.8 2 -2.1 2.9 -2 1.9 -2 1.3 -2 .9 -2 .3 -1.2-1.3 -.5-2 .1-2 .7-2 1.3-2 1.6-1.4 2-1 2-.5 2 0 2 .5zM115.8 34.2l.7-.4 2-.5 2 0 2 .5 2 1 1.6 1.4 1.3 2 .7 2 .1 2 -.5 2 -1.2 1.3 -2-.3 -2-.9 -2-1.3 -2-1.9 -2.1-2.9 -.8-2zM36.2 111.3l2 .3 2 .9 2 1.3 2 1.9 2.1 2.9 .8 2 -.2 2 -.7 .4 -2 .5 -2 0 -2-.5 -2-1 -1.6-1.4 -1.3-2 -.7-2 -.1-2 .5-2zM126.5 111.3l1.2 1.3 .5 2 -.1 2 -.7 2 -1.3 2 -1.6 1.4 -2 1 -2 .5 -2 0 -2-.5 -.7-.4 -.2-2 .8-2 2.1-2.9 2-1.9 2-1.3 2-.9z"/>
<path fill="#ff4a00" d="M45.8 34.2l.4 .5 .4 1.5 -.9 2 -1.5 2.2 -2 2 -2 1.3 -2 1 -2 .1 -.6-.6 -.6-2 .1-2 .7-2 1.5-2 .9-.8 2.3-1.2 1.7-.4 2 0zM116.9 34.2l1.6-.4 2 0 1.7 .4 2.3 1.2 .9 .8 1.5 2 .7 2 .1 2 -.6 2 -.6 .6 -2-.1 -2-1 -2-1.3 -2-2 -1.5-2.2 -.9-2 .4-1.5zM36.2 112l2 .1 2 1 2 1.3 2 2 1.5 2.2 .9 2 -.4 1.5 -.4 .5 -1.6 .4 -2 0 -1.7-.4 -2.3-1.2 -.9-.8 -1.5-2 -.7-2 -.1-2 .6-2zM126.5 112l.6 .6 .6 2 -.1 2 -.7 2 -1.5 2 -.9 .8 -2.3 1.2 -1.7 .4 -2 0 -1.6-.4 -.4-.5 -.4-1.5 .9-2 1.5-2.2 2-2 2-1.3 2-1z"/>
<path fill="#ff2b00" d="M44.2 34.3l1.7 1.9 -.8 2 -1.4 2 -1.5 1.5 -2 1.4 -2 1 -2-.1 -.6-1.8 .1-2 .7-2 1.6-2 2.2-1.4 2-.5zM118.5 34.3l2 0 2 .5 2.2 1.4 1.6 2 .7 2 .1 2 -.6 1.8 -2 .1 -2-1 -2-1.4 -1.5-1.5 -1.4-2 -.8-2zM36.2 112.8l2-.1 2 1 2 1.4 1.5 1.5 1.4 2 .8 2 -1.7 1.9 -2 0 -2-.5 -2.2-1.4 -1.6-2 -.7-2 -.1-2zM126.5 112.8l.6 1.8 -.1 2 -.7 2 -1.6 2 -2.2 1.4 -2 .5 -2 0 -1.7-1.9 .8-2 1.4-2 1.5-1.5 2-1.4 2-1z"/>
<path fill="#ff0d00" d="M44.2 35.1l1 1.1 -.7 2 -2.3 2.8 -2 1.5 -2 1 -2-1 0-2.3 .8-2 1.2-1.4 2-1.4 2-.5zM117.5 36.2l1-1.1 2-.2 2 .5 1.3 .8 .7 .6 1.2 1.4 .8 2 0 2.3 -2 1 -2.4-1.3 -2.3-2 -1.3-1.6zM36.2 114.3l2-1 2.4 1.3 2.3 2 1.3 1.6 1 2.4 -1 1.1 -2 .2 -2-.5 -1.3-.8 -.7-.6 -1.2-1.4 -.8-2zM126.5 114.3l0 2.3 -.8 2 -1.2 1.4 -.7 .6 -1.3 .8 -2 .5 -2-.2 -1-1.1 1-2.4 1.3-1.6 2.3-2 2.4-1.3z"/>
<path fill="#f00" d="M44.2 35.9l.3 .3 -.7 2 -1.6 2 -2 1.7 -2 .9 -1.1-.6 -.2-2 .8-2 .5-.6 2-1.6 2-.6zM118.2 36.2l.3-.3 2-.5 2.3 .8 2.2 2 .8 2 -.2 2 -1.1 .6 -2-.9 -2-1.7 -1.6-2zM37.1 114.6l1.1-.6 2 .9 2 1.7 1.6 2 .7 2 -.3 .3 -2 .5 -2.3-.8 -2.2-2 -.8-2zM125.6 114.6l.2 2 -.8 2 -2.2 2 -2.3 .8 -2-.5 -.3-.3 .7-2 1.6-2 2-1.7 2-.9z"/>
<path fill="#f00" d="M42.9 36.2l.1 2 -.8 1.1 -2 1.8 -2 .9 -.7-1.8 1-2 1.7-1.4 2-.8zM119.8 36.2l.7-.2 2 .8 1.7 1.4 1 2 -.7 1.8 -2-.9 -2-1.8 -.8-1.1zM38.2 114.8l2 .9 2 1.8 .8 1.1 -.1 2 -.7 .2 -2-.8 -1.7-1.4 -1-2zM124.5 114.8l.7 1.8 -1 2 -1.7 1.4 -2 .8 -.7-.2 -.1-2 .8-1.1 2-1.8z"/>
<path fill="#f00" d="M38.2 40.2l1.2-2 .8-.6 2 .2 .1 .4 -2.1 2.2zM120.5 37.8l2-.2 .8 .6 1.2 2 -2 .2 -2.1-2.2zM38.2 116.6l2-.2 2.1 2.2 -.1 .4 -2 .2 -.8-.6zM124.5 116.6l-1.2 2 -.8 .6 -2-.2 -.1-.4 2.1-2.2z"/>
</svg>
<path d="M232.0 398.6V241.8H394.7" fill="none" stroke="#0c0c50" stroke-width="1"/>
<path d="M394.7 241.8V398.6" fill="none" stroke="#3c3c46" stroke-width="0.9"/>
<ellipse cx="272.7" cy="280.5" rx="38.4" ry="37.6" fill="none" stroke="#fbfbea" stroke-opacity="0.92" stroke-width="1.2" stroke-dasharray="1.5 1.75"/>
<ellipse cx="272.7" cy="359.9" rx="38.4" ry="37.6" fill="none" stroke="#fbfbea" stroke-opacity="0.92" stroke-width="1.2" stroke-dasharray="1.5 1.75"/>
<ellipse cx="354.0" cy="280.5" rx="38.4" ry="37.6" fill="none" stroke="#fbfbea" stroke-opacity="0.92" stroke-width="1.2" stroke-dasharray="1.5 1.75"/>
<ellipse cx="354.0" cy="359.9" rx="38.4" ry="37.6" fill="none" stroke="#fbfbea" stroke-opacity="0.92" stroke-width="1.2" stroke-dasharray="1.5 1.75"/>
<path d="M313.2 240.3V399.4M231.2 320.2H396.2" stroke="#0a0a26" stroke-width="0.95" stroke-dasharray="4.1 1.1 1.1 1.1" fill="none"/>
<rect x="396.4" y="241.6" width="12.5" height="3.4" fill="#858585"/>
<rect x="396.4" y="244.8" width="12.5" height="153.8" fill="url(#cb)"/>
<path d="M396.4 241.6V398.6M408.9 241.6V398.6" stroke="#5a5a5a" stroke-width="0.7" fill="none"/>
<text transform="translate(410.0 245.2) scale(1.045 1)" font-size="13.8">-876.0</text>
<text transform="translate(410.0 323.3) scale(1.045 1)" font-size="13.8">-408.0</text>
<text transform="translate(410.0 392.5) scale(1.045 1)" font-size="13.8">-0.0</text>
<text transform="translate(388.6 232.1) scale(1.045 1)" font-size="13.6">10<tspan dy="-4.3" font-size="9.4">3</tspan></text>
<text id="cap4" transform="translate(330.8 420.6) scale(1.045 1)" font-size="16.1" text-anchor="middle">ABHs (500-<tspan font-style="italic">f</tspan><tspan font-style="italic" font-size="10.2" dy="3">cut</tspan><tspan dy="-3"> Hz)</tspan></text>
<svg x="462.0" y="241.8" width="162.2" height="156.8" viewBox="0 0 162.2 156.8" overflow="hidden">
<rect width="162.2" height="156.8" fill="#00f"/>
<path fill="#00f" d="M2.8 2l1.2-.7 34-.5 28.1 .4 32 0 20-.4 12.1 0 28 .5 1.2 .7 .8 .8 .7 1.2 .4 32.2 -.3 26.1 0 32.2 .3 26.1 -.4 32.2 -.7 1.2 -.8 .8 -1.2 .7 -34 .5 -28.1-.4 -32 0 -20 .4 -12.1 0 -28-.5 -1.2-.7 -.8-.8 -.7-1.2 -.4-32.2 .3-26.1 0-32.2 -.3-26.1 .4-32.2 .7-1.2z"/>
<path fill="#00f" d="M4 2.4l34-.8 32.1 .6 28 0 28.1-.6 18 .6 14 .2 1.6 1.6 .1 12.1 .6 20.1 -.6 30.1 0 28.2 .5 20.1 0 10 -.5 16.1 -.1 12.1 -1.6 1.6 -34 .8 -32.1-.6 -28 0 -28.1 .6 -18-.6 -14-.2 -1.6-1.6 -.1-12.1 -.6-20.1 .6-30.1 0-28.2 -.5-20.1 0-10 .5-16.1 .1-12.1z"/>
<path fill="#000cff" d="M3.3 4l.7-.7 2-.2 8-.1 14-.6 8-.2 12.1 .2 18 .6 14 .1 16-.1 18-.6 12.1-.2 8 .2 14 .6 8 .1 2 .2 .7 .7 .2 2 0 8.1 .6 12 .2 10.1 -.8 32.1 0 24.2 .7 20.1 .1 10 -.2 8.1 -.6 12 -.2 10.1 -.7 .7 -2 .2 -8 .1 -14 .6 -8 .2 -12.1-.2 -18-.6 -14-.1 -16 .1 -18 .6 -12.1 .2 -8-.2 -14-.6 -8-.1 -2-.2 -.7-.7 -.2-2 0-8.1 -.6-12 -.2-10.1 .8-32.1 0-24.2 -.7-20.1 -.1-10 .2-8.1 .6-12z"/>
<path fill="#0029ff" d="M5.1 4l8.9-.2 16-1 8-.1 10.1 .2 16 .9 32 .1 18-1 12.1-.2 10 .3 12 .8 8.9 .2 1.1 1.7 .1 8.4 .9 12 .2 10.1 -.2 10 -.8 14.1 -.2 6 0 26.2 1.1 20.1 .1 12 -.2 6.1 -.9 12 -.1 8.4 -1.1 1.7 -8.9 .2 -16 1 -8 .1 -10.1-.2 -16-.9 -32-.1 -18 1 -12.1 .2 -10-.3 -12-.8 -8.9-.2 -1.1-1.7 -.1-8.4 -.9-12 -.2-10.1 .2-10 .8-14.1 .2-6 0-26.2 -1.1-20.1 -.1-12 .2-6.1 .9-12 .1-8.4z"/>
<path fill="#0046ff" d="M10 10.6l2-1.9 3.6-2.7 2.4-1.1 2.6-.9 9.4-.7 10-.2 12.1 .5 4.6 .4 5.5 2 3.9 3.1 2.9 3 1.6 2 2.6 4 1.8 4 3.1 8.1 2 3.4 2 0 2-3.4 3.1-8.1 1.8-4 2.6-4 3.5-4 3-2.7 1.9-1.4 5.5-2 4.6-.4 12.1-.5 10 .2 9.4 .7 2.6 .9 2.4 1.1 1.6 1.1 3.4 3 1.9 2 2.7 3.3 1.1 2.7 .9 2.9 .7 11.2 -.1 12 -.6 9.3 -1.4 4.8 -.9 2 -3.6 4 -4.1 3.6 -2 1.4 -4 2.1 -8.3 3 -4.9 2 -2.1 2 2.1 2 4.9 2 8.3 3 4 2.1 2 1.4 4 3.5 4 4.6 1.8 5.5 .3 2 .7 12.1 -.2 12.1 -.6 7.1 -.9 2.9 -1.1 2.7 -2.7 3.3 -3.3 3.4 -3.6 2.7 -2.4 1.1 -2.6 .9 -9.4 .7 -8 .2 -10.1-.3 -8.6-.6 -5.5-2 -3.9-3.1 -2.9-3 -1.6-2 -2.6-4 -1.8-4 -3.1-8.1 -2-3.4 -2 0 -2 3.4 -3.1 8.1 -1.8 4 -2.6 4 -3.5 4 -3 2.7 -1.9 1.4 -5.5 2 -4.6 .4 -12.1 .5 -10-.2 -9.4-.7 -2.6-.9 -2.4-1.1 -1.6-1.1 -3.4-3 -1.9-2 -2.7-3.3 -1.1-2.7 -.9-2.9 -.7-11.2 .1-12 .6-9.3 1.4-4.8 .9-2 3.6-4 4.1-3.6 2-1.4 4-2.1 8.3-3 4.9-2 2.1-2 -2.1-2 -4.9-2 -8.3-3 -4-2.1 -2-1.4 -4-3.5 -4-4.6 -2-6.3 -.4-5.3 -.4-12 .1-6 .7-9.2 .9-2.9 1.1-2.7 .9-1.3z"/>
<path fill="#0063ff" d="M11.9 12.1l2.2-2 3.9-3 2-1.1 2-.8 4.2-1.2 5.8-.4 6-.1 11.8 .5 4.3 1.2 2.2 .8 1.8 1 4 3.1 2.1 2 1.7 2 1.5 2 1.1 2 .7 2 .4 2 0 2 -1.6 4 2.1 2.1 2 1.2 1.8 2.8 .8 2 1 4 .6 4 .3 4 .1 8.1 1.4 2 2-1.5 2 0 2 1.5 1.4-2 .1-8.1 .3-4 .6-4 1-4 .8-2 1.8-2.8 2-1.2 2.1-2.1 -1.6-4 0-2 .4-2 .7-2 1.1-2 1.5-2 1.7-2 2.1-2 2.6-2.1 3.2-2 2.2-.8 4.3-1.2 11.8-.5 11.8 .5 2.2 .6 4 1.4 4 2.5 4 3.4 3.6 4.2 2.4 3.6 .9 2.4 1.1 4.7 .4 9.4 -.4 10.4 -.8 3.7 -1.2 3.8 -1.4 2.2 -2.6 3.3 -2 2.1 -2 1.7 -2 1.4 -2 1.1 -2 .8 -2 .5 -2 .1 -2-.4 -2-.9 -2 .2 -1.4 2.1 -2 2.1 -2.6 1.3 -2 .7 -4.1 .9 -4 .5 -4 .2 -8 .1 -2 .3 .3 2 2.5 2 -2.5 2 -.3 2 2 .3 8 .1 4 .2 4 .5 4.1 .9 2 .7 2.6 1.3 2 2.1 1.4 2.1 2 .2 2-.9 2-.4 2 .1 2 .5 2 .8 2 1.1 2 1.4 2 1.7 3.1 3.4 2.9 4.2 1.2 3.8 .8 3.7 .4 10.4 -.3 8.1 -.7 4 -1.4 4.4 -2.4 3.6 -3.5 4 -2.2 2 -3.9 3 -2 1.1 -2 .8 -4.2 1.2 -5.8 .4 -6 .1 -11.8-.5 -4.3-1.2 -2.2-.8 -1.8-1 -4-3.1 -2.1-2 -1.7-2 -1.5-2 -1.1-2 -.7-2 -.4-2 0-2 1.6-4 -2.1-2.1 -2-1.2 -1.8-2.8 -.8-2 -1-4 -.6-4 -.3-4 -.1-8.1 -1.4-2 -2 1.5 -2 0 -2-1.5 -1.4 2 -.1 8.1 -.3 4 -.6 4 -1 4 -.8 2 -1.8 2.8 -2 1.2 -2.1 2.1 1.6 4 0 2 -.4 2 -.7 2 -1.1 2 -1.5 2 -1.7 2 -2.1 2 -2.6 2.1 -3.2 2 -2.2 .8 -4.3 1.2 -11.8 .5 -11.8-.5 -2.2-.6 -4-1.4 -4-2.5 -4-3.4 -3.6-4.2 -2.4-3.6 -.9-2.4 -1.1-4.7 -.4-9.4 .4-10.4 .8-3.7 1.2-3.8 1.4-2.2 2.6-3.3 2-2.1 2-1.7 2-1.4 2-1.1 2-.8 2-.5 2-.1 2 .4 2 .9 2-.2 1.4-2.1 2-2.1 2.6-1.3 2-.7 4.1-.9 4-.5 4-.2 8-.1 2-.3 -.3-2 -2.5-2 2.5-2 .3-2 -2-.3 -8-.1 -4-.2 -4-.5 -4.1-.9 -2-.7 -2.6-1.3 -2-2.1 -1.4-2.1 -2-.2 -2 .9 -2 .4 -2-.1 -2-.5 -2-.8 -2-1.1 -2-1.4 -2-1.7 -3.1-3.4 -2.9-4.2 -1.2-3.8 -.8-3.7 -.4-10.4 .3-8.1 .7-4 1.4-4.4 2.4-3.6z"/>
<path fill="#0080ff" d="M16 10.5l2-1.4 4-2.3 4-1.5 4-.8 4-.5 8.1 .1 6 1 4 1.2 3.2 1.7 2.8 1.9 2.4 2.2 1.9 2 1.4 2 .9 2 .3 2 -.4 2 -.5 1.2 -.8 2.8 -.1 2 .6 2.1 2.3 2.8 3.8 3.2 1.4 2 .8 2 .6 2 .5 4 -.2 6.1 -.3 2 -1.1 4 -.9 2 -1.1 2 -1.6 2 -1.9 1.8 -2 1.4 -4 1.8 -4 1 -6 .5 -6-.5 -2-.4 -2.1-.7 -2-1.1 -5.6-5.8 -2.4-1 -2-.2 -2 .4 -4 1.1 -2 .2 -2-.5 -2-1 -2-1.4 -2-1.8 -3.1-3.8 -1.3-2 -1.6-3.1 -1.1-5 -.5-4 -.2-4 .2-4 .5-4.1 .9-4 .8-2 2.3-4 3.1-3.9zM144.2 9.1l3.8 3 2 2 3.3 4 1.2 2 1.7 3.4 1.1 4.6 .5 4.1 .2 4 -.2 4 -.5 4 -1.1 5 -1.6 3.1 -2.4 3.5 -2 2.3 -2 1.8 -2 1.4 -2 1 -2 .5 -2-.2 -4-1.1 -2-.4 -2 .2 -2.4 1 -5.6 5.8 -2 1.1 -2.1 .7 -2 .4 -6 .5 -6-.5 -4-1 -4-1.8 -2-1.4 -1.9-1.8 -1.6-2 -1.1-2 -.9-2 -1.1-4 -.3-2 -.2-6.1 .5-4 .6-2 .8-2 1.4-2 3.8-3.2 2.3-2.8 .6-2.1 -.1-2 -.8-2.8 -.5-1.2 -.4-2 .3-2 .9-2 1.4-2 1.9-2 2.4-2.2 2.8-1.9 3.2-1.7 4-1.2 6-1 8.1-.1 6 .8 4.3 1.2 1.7 .8zM80.1 61.5l2 0 4 4.5 6.6 6.4 4.5 4 2.9 2 -2.9 2 -4.5 4 -6.6 6.4 -4 4.5 -2 0 -4-4.5 -6.6-6.4 -4.5-4 -2.9-2 2.9-2 4.5-4 6.6-6.4zM64.1 89.3l2 1.4 1.9 1.8 1.6 2 1.1 2 .9 2 1.1 4 .5 4 0 4.1 -.5 4 -.6 2 -.8 2 -1.4 2 -3.8 3.2 -2.3 2.8 -.6 2.1 .1 2 .8 2.8 .5 1.2 .4 2 -.3 2 -.9 2 -1.7 2.4 -1.6 1.6 -2.4 2.2 -2.8 1.9 -3.2 1.7 -2 .7 -4 .9 -5.6 .7 -6 0 -2.5-.2 -4-.6 -4-1.1 -2-.9 -4-2.3 -4-3.1 -3.6-3.9 -1.5-2 -2.3-4 -.8-2 -.9-4 -.6-6.1 0-4 .3-4 .7-4 .7-3 1.6-3.1 1.3-2 3.1-3.8 2-1.8 2-1.4 2-1 2-.5 2 .2 4 1.1 2 .4 2-.2 2.4-1 5.6-5.8 2-1.1 2.1-.7 2-.4 6-.5 4 .3 4 .6 2 .6zM96.4 90.5l1.7-1.2 4-1.8 4-1 6-.5 6 .5 2 .4 2.1 .7 2 1.1 5.6 5.8 2.4 1 2 .2 2-.4 4-1.1 2-.2 2 .5 2 1 2 1.4 2 1.8 3.1 3.8 1.3 2 1.6 3.1 .7 3 .7 4 .3 4 0 4 -.6 6.1 -.9 4 -.8 2 -2.3 4 -1.5 2 -3.6 3.9 -4 3.1 -4 2.3 -1.7 .8 -2.3 .7 -4 .8 -6 .5 -4.5 0 -3.6-.4 -4-.7 -3.3-.9 -4.7-2.5 -2.1-1.6 -2.3-2 -1.9-2 -1.4-2 -.9-2 -.3-2 .4-2 .5-1.2 .8-2.8 .1-2 -.6-2.1 -2.3-2.8 -3.8-3.2 -1.4-2 -.8-2 -.9-4 -.2-4 .2-4.1 .3-2 1.1-4 .9-2 1.1-2 1.6-2z"/>
<path fill="#009dff" d="M16 12.2l4-2.8 4-2 2-.8 4-1 6-.5 6.1 .3 4 .7 4.9 1.9 3.4 2.1 2.5 2 1.8 2 1.3 2 .9 2 .4 2 -.3 6 .1 2 .5 2.1 1 2 1.5 1.9 3.7 4.1 1.2 2 .6 2 .7 4 .2 4.1 -.6 4 -.5 2 -.9 2 -1.1 2 -1.6 2 -1.7 1.6 -2 1.4 -4 1.8 -2 .5 -4 .5 -2 0 -4-.3 -4-1 -2.1-.9 -2-1.4 -4-3.4 -2-1.2 -2-.7 -2-.3 -6 .4 -2-.1 -2-.6 -2-.9 -2-1.3 -2-1.9 -2-2.4 -2-3.3 -1.8-4.6 -.4-2 -.4-4 0-6 .6-4.2 1.3-3.9 2-4 2.7-3.8 2-2.2zM142.2 9.4l3.8 2.7 2.2 2 3.4 4 1.3 2 2 4 1.3 3.9 .7 6.2 -.1 4 -.4 4 -.4 2 -1.6 4 -2.2 3.9 -2 2.4 -2 1.9 -2 1.3 -2 .9 -2 .6 -2 .1 -6-.4 -2 .3 -2 .7 -2 1.2 -4 3.4 -2 1.4 -2.1 .9 -2 .6 -2 .4 -4 .3 -4-.2 -2-.3 -4-1.3 -2-1 -2-1.4 -1.7-1.6 -1.6-2 -1.1-2 -.9-2 -.9-4 -.2-2 .2-4.1 .7-4 .6-2 1.2-2 3.7-4.1 1.5-1.9 1-2 .5-2.1 .1-2 -.3-6 .4-2 .9-2 1.3-2 1.8-2 2.5-2 3.4-2.1 4.9-1.9 4-.7 6.1-.3 6 .5 4 1 2 .8zM80.1 64.2l2 0 4 4.5 3.7 3.7 4.6 4 3 2 -3 2 -4.6 4 -3.7 3.7 -4 4.5 -2 0 -4-4.5 -3.7-3.7 -4.6-4 -3-2 3-2 4.6-4 3.7-3.7zM62.1 91.5l2 1.4 1.7 1.6 1.6 2 1.1 2 .9 2 .9 4 .2 2 -.2 4.1 -.7 4 -.6 2 -1.2 2 -3.7 4.1 -1.5 1.9 -1 2 -.5 2.1 -.1 2 .3 6 -.4 2 -.9 2 -1.3 2 -1.8 2 -2.5 2 -4.3 2.5 -4.1 1.6 -3.9 .6 -4.1 .3 -6-.3 -4-.6 -4-1.4 -4-2 -4-2.8 -2-1.9 -2-2.2 -2.7-3.8 -2-4 -1.3-3.9 -.6-4.2 0-6 .4-4 .4-2 1.8-4.6 2-3.3 2-2.4 2-1.9 2-1.3 2-.9 2-.6 2-.1 6 .4 2-.3 2-.7 2-1.2 4-3.4 2-1.4 2.1-.9 2-.6 2-.4 4-.3 4 .2 4 .8zM96.4 94.5l1.7-1.6 2-1.4 4-1.8 2-.5 4-.5 2 0 4 .3 4 1 2.1 .9 2 1.4 4 3.4 2 1.2 2 .7 2 .3 6-.4 2 .1 2.7 .9 1.3 .6 2 1.3 2 1.9 2 2.4 2.2 3.9 1.8 4.6 .6 5.4 0 6 -.6 4.1 -1.3 4 -2 4 -2.9 4 -3.8 3.9 -4 2.8 -4 2 -4 1.4 -4 .6 -4 .3 -4-.1 -6-.8 -5-2 -3.4-2.1 -2.5-2 -1.8-2 -1.3-2 -.9-2 -.4-2 .3-6 -.1-2 -.5-2.1 -1-2 -1.5-1.9 -3.7-4.1 -1.2-2 -.6-2 -.7-4 -.2-4.1 .6-4 .5-2 .9-2 1.1-2z"/>
<path fill="#00baff" d="M15.7 14.1l4.3-3.3 4-2.1 4-1.3 2-.5 4-.5 2-.1 4 .3 2.1 .4 3.8 1 4.2 2.2 4 3.3 2.2 2.6 1.3 2 .8 2 .4 2 .6 6 .7 2.5 2 3.6 3.2 4 1.1 2 .8 2 .5 2 .2 2 .1 4.1 -.6 4 -.7 2 -1 2 -1.6 2.3 -2 1.8 -2 1.3 -2 .9 -2 .6 -4 .6 -4-.1 -2-.2 -2-.4 -2-.7 -2.1-1 -4.3-3.1 -3.7-2.1 -2-.6 -2-.4 -6-.5 -2-.5 -2-.9 -1.6-1 -2.4-2 -2-2 -1.6-2.1 -2.4-4.6 -.9-3.4 -.3-2 -.2-4 .4-4 .4-2.1 1.3-4 2-4 1.4-2 1.6-2zM142.2 10.8l4 3 2 2 1.9 2.3 1.4 2 2 4 1.3 4 .4 2.1 .4 4 -.2 4 -.8 4 -.7 2 -1.7 3.4 -2 2.6 -2 2.1 -2 1.7 -2 1.3 -2 .9 -2 .5 -6 .5 -2 .4 -2 .6 -3.7 2.1 -4.3 3.1 -2.1 1 -2 .7 -4 .6 -4 .1 -2-.2 -4-1 -2-.9 -2.1-1.4 -2.1-2 -1.4-2 -1-2 -.7-2 -.6-4 .1-4.1 .2-2 .5-2 .8-2 1.1-2 3.2-4 1.3-2 .9-2 .5-2.1 .6-6 .4-2 .8-2 1.5-2.3 2-2.3 4.3-3.4 3.9-2.1 3.8-1 2.1-.4 4-.3 2 .1 4 .5 2 .5 4 1.3zM80.1 66.2l2 0 2 2.4 4 4.1 4.2 3.7 2.9 2 -2.9 2 -4.2 3.7 -4 4.1 -2 2.4 -2 0 -2-2.4 -4-4.1 -4.2-3.7 -2.9-2 2.9-2 4.2-3.7 4-4.1zM60.1 93.1l2 1.3 2 1.8 1.6 2.3 1 2 .7 2 .4 2 .2 2 -.1 4.1 -.7 4 -.8 2 -1.1 2 -3.2 4 -1.3 2 -.9 2 -.5 2.1 -.6 6 -.4 2 -.8 2 -1.3 2 -1.7 2 -2.1 2 -2.4 1.9 -4.2 2.2 -3.8 1 -2.1 .4 -4 .3 -2-.1 -4-.5 -4-1.1 -4-1.7 -2-1.1 -4-3 -2.3-2.3 -1.6-2 -2.5-4 -.9-2 -1.3-4 -.7-4.1 -.1-4 .2-2 .8-4 .7-2 1.7-3.4 2-2.7 2-2 2-1.7 2-1.3 2-.9 2-.5 6-.5 2-.4 2-.6 3.7-2.1 4.3-3.1 2.1-1 2-.7 4-.6 4-.1 4 .6 2 .6zM98.1 96.2l2-1.8 2-1.3 2-.9 2-.6 4-.6 4 .1 2 .2 2 .4 2 .7 2.1 1 4.3 3.1 3.7 2.1 2 .6 2 .4 6 .5 2 .5 2 .9 1.6 1 2.4 2 2 2 1.6 2.1 2.4 4.6 .9 3.4 .3 2 .2 4 -.4 4 -.4 2.1 -1.3 4 -2 4 -3 4 -2.3 2.3 -2 1.6 -4 2.5 -2 1 -4 1.3 -4 .8 -4 .3 -4-.3 -4.1-.9 -2-.6 -3.7-2 -2.7-2 -2.1-2 -1.5-1.7 -1.5-2.3 -.8-2 -.4-2 -.6-6 -.5-2.1 -.9-2 -1.3-2 -3.2-4 -1.1-2 -.8-2 -.7-4 -.1-4.1 .2-2 .4-2 .7-2 1-2z"/>
<path fill="#00d7ff" d="M17.4 14.1l2.6-1.9 2-1.2 4-1.7 2-.6 4-.7 4 0 4 .6 4.1 1.5 4 2.1 2 1.4 2 1.7 2 2.2 1.6 2.6 .8 2 1.4 6 .6 2.1 1.6 3.4 3.1 4.6 1.1 2 .8 2 .5 2 .3 4 -.3 4.1 -.6 2 -.8 2 -1.3 2 -.8 1 -2 1.7 -2 1.1 -2 .8 -4 .8 -4 0 -2-.2 -2-.5 -4.1-1.6 -4.9-3.1 -3.1-1.5 -2-.6 -6-1.3 -2.2-.6 -1.8-.8 -1.9-1.2 -2.3-2 -1.8-2.1 -1.6-2 -2.2-4 -1.3-4 -.4-2 -.2-4 .6-4.1 .5-2 1.6-4 2.5-4 1.8-2zM144.2 13.6l2 1.7 2 2.2 1.9 2.6 1.1 2 1.6 4 .5 2 .6 4.1 -.2 4 -.4 2 -1.3 4 -2.2 4 -1.6 2 -1.8 2.1 -2.3 2 -1.9 1.2 -1.8 .8 -2.2 .6 -6 1.3 -2 .6 -3.1 1.5 -4.9 3.1 -4.1 1.6 -2 .5 -2 .2 -4 0 -4-.8 -2-.8 -2-1.1 -2-1.7 -.8-1 -1.3-2 -.8-2 -.6-2 -.3-4.1 .3-4 .5-2 .8-2 1.1-2 3.1-4.6 1.6-3.4 .6-2.1 1.4-6 .8-2 1.2-2 1.7-2 2.7-2.5 4-2.6 2-1 4.1-1.4 4-.6 4 0 4 .7 2 .6 4 1.7zM80.1 67.9l2 0 2.1 2.5 4 4 2.4 2 2.8 2 -2.8 2 -2.4 2 -4 4 -2.1 2.5 -2 0 -2.1-2.5 -4-4 -2.4-2 -2.8-2 2.8-2 2.4-2 4-4zM60.1 95.8l2 1.7 .8 1 1.3 2 .8 2 .6 2 .3 2 0 4.1 -.3 2 -.5 2 -.8 2 -1.1 2 -3.1 4.6 -1.6 3.4 -.6 2.1 -1.4 6 -.8 2 -1.2 2 -1.7 2 -2.7 2.5 -2 1.4 -4 2.2 -4.1 1.4 -2 .4 -4 .3 -2-.1 -4-.7 -4-1.4 -4-2.1 -2-1.4 -2-1.7 -2.5-2.8 -1.4-2 -2-4 -1.2-4 -.6-4.1 0-2 .6-4 1.3-4 2.2-4 1.6-2 1.8-2.1 2.3-2 1.9-1.2 1.8-.8 2.2-.6 6-1.3 2-.6 3.1-1.5 4.9-3.1 4.1-1.6 4-.7 4 0 4 .8 2 .8zM100.1 97.5l2-1.7 2-1.1 2-.8 4-.8 4 0 2 .2 2 .5 4.1 1.6 4.9 3.1 3.1 1.5 2 .6 6 1.3 2.2 .6 1.8 .8 1.9 1.2 2.1 1.8 2 2.3 1.6 2 2.2 4 1.3 4 .6 4 0 2 -.6 4.1 -1.2 4 -2 4 -1.4 2 -1.8 2 -2.7 2.5 -2 1.4 -4 2.1 -4 1.4 -4 .7 -2 .1 -4-.3 -2-.4 -4.1-1.4 -4-2.2 -2-1.4 -2-1.7 -2-2.2 -1.6-2.6 -.8-2 -1.4-6 -.6-2.1 -1.6-3.4 -3.1-4.6 -1.1-2 -.8-2 -.5-2 -.3-4 .3-4.1 .6-2 .8-2 1.3-2z"/>
<path fill="#00f4ff" d="M16.8 16.1l3.2-2.6 4-2.2 4-1.2 4-.4 4 .3 4 1.1 4.1 1.7 2 1.1 2 1.3 2 1.6 2 2 2.2 3.3 3.6 10.1 3.5 6 1.8 4 .8 4 -.1 4.1 -.3 2 -.7 2 -1.1 2 -1.7 2 -2 1.6 -2 .9 -2 .7 -4 .4 -4-.2 -2-.5 -4.1-1.5 -6-3.4 -2-.8 -6-1.9 -3.5-1.3 -2.5-1.6 -2-1.7 -2.4-2.8 -2.6-4 -1.6-4 -.6-2 -.6-4 -.1-2 .2-2.1 1.1-4 2.1-4 1.4-2zM144.2 15l3.1 3.1 1.4 2 1.2 2 1.5 4 .7 4.1 -.1 2 -.6 4 -1.3 4 -2.1 4 -1.4 2 -1.6 2 -2.2 2.1 -3.1 2 -3.5 1.3 -6 1.9 -2 .8 -6 3.4 -4.1 1.5 -2 .5 -4 .2 -4-.4 -2-.7 -2-.9 -2-1.6 -1.7-2 -1.1-2 -.7-2 -.4-4.1 .3-4 .5-2 .7-2 4.6-8 3.6-10.1 1.2-2 1.7-2 3.3-2.9 4-2.4 4.1-1.7 2-.7 4-.6 4 0 4 .8 4 1.7 2 1.2zM80.1 69.5l2 0 4.6 4.9 2.2 2 2.8 2 -2.8 2 -2.2 2 -4.6 4.9 -2 0 -4.6-4.9 -2.2-2 -2.8-2 2.8-2 2.2-2zM58.1 96.9l2 1.6 1.7 2 1.1 2 .7 2 .3 2 .1 4.1 -.3 2 -.5 2 -.7 2 -4.6 8 -3.6 10.1 -1.2 2 -1.7 2 -3.3 2.9 -4 2.4 -4.1 1.7 -2 .7 -4 .6 -4 0 -2-.3 -4-1.2 -4-2.2 -3.2-2.6 -2.8-3.2 -1.7-2.8 -1.5-4 -.7-4.1 .1-2 .6-4 1.3-4 2.1-4 1.4-2 1.6-2 2.2-2.1 3.1-2 3.5-1.3 6-1.9 2-.8 6-3.4 4.1-1.5 4-.7 4 .1 2 .3 2 .7zM102.1 98.5l2-1.6 2-.9 2-.7 4-.4 4 .2 2 .5 4.1 1.5 6 3.4 2 .8 6 1.9 3.5 1.3 2.5 1.6 2 1.7 2.4 2.8 2.6 4 1.6 4 .6 2 .6 4 .1 2 -.2 2.1 -1.1 4 -2.1 4 -2.5 3.2 -2 1.9 -2 1.5 -4 2.2 -4 1.2 -4 .4 -4-.3 -4-1.1 -4.1-1.7 -2-1.1 -2-1.3 -2-1.6 -2-2 -2.2-3.3 -3.6-10.1 -3.5-6 -1.8-4 -.8-4 .1-4.1 .3-2 .7-2 1.1-2z"/>
<path fill="#0fe" d="M18 16.4l2-1.6 2-1.2 2-1 2-.6 4-.7 4 .1 4 1 4.1 1.8 4 2.4 2 1.5 2 1.8 2 2.4 1.1 1.8 3.4 8.1 3.2 6 1.8 4 .7 4 .1 2 -.1 2.1 -.4 2 -.8 2 -1.3 2 -2.4 2 -1.3 .8 -2 .7 -4 .5 -4-.2 -2-.4 -2-.7 -8.1-4 -8-3.1 -3.1-1.6 -2.5-2.1 -1.9-2 -1.5-2 -2.4-4 -1.8-4 -.8-4 0-4.1 .3-2 .5-2 .9-2 1.1-2 1.6-2zM144.2 16.4l1.6 1.7 1.6 2 1.1 2 .9 2 .5 2 .3 2 0 4.1 -.8 4 -1.8 4 -2.4 4 -1.5 2 -1.9 2 -2.5 2.1 -3.1 1.6 -8 3.1 -8.1 4 -2 .7 -2 .4 -4 .2 -4-.5 -2-.7 -1.3-.8 -2.4-2 -1.3-2 -.8-2 -.4-2 -.1-2.1 .1-2 .7-4 1.8-4 3.2-6 3.4-8.1 1.1-1.8 2-2.4 2-1.8 2-1.5 4-2.4 4.1-1.8 4-1 4-.1 4 .7 2 .6 2 1 2 1.2zM80.1 71.1l2 0 4 4.2 4 3.1 -4 3.1 -4 4.2 -2 0 -4-4.2 -4-3.1 4-3.1zM58.1 98.9l2 2 1 1.6 .8 2 .5 4.1 -.4 4 -.4 2 -.8 2 -4.2 8 -3.4 8.1 -1.1 1.8 -2 2.4 -2 1.8 -2 1.5 -4 2.4 -4.1 1.8 -4 1 -4 .1 -4-.7 -2-.6 -2-1 -2-1.2 -2-1.6 -2-2.1 -1.2-1.6 -1.1-2 -.9-2 -.5-2 -.4-4.1 .4-4 1.3-4 1-2 2.4-4 1.5-2 1.5-1.7 2.9-2.4 3.1-1.6 6-2.3 8-3.9 4.1-1.6 4-.6 4 .1 2 .4 2 .7zM104.1 98.9l2-1.2 2-.7 2-.4 4-.1 4 .6 4.1 1.6 8 3.9 6 2.3 3.1 1.6 2.9 2.4 1.5 1.7 1.5 2 2.4 4 1 2 1.3 4 .4 4 -.4 4.1 -.5 2 -.9 2 -1.1 2 -1.2 1.6 -2 2.1 -2 1.6 -2 1.2 -2 1 -2 .6 -4 .7 -4-.1 -4-1 -4.1-1.8 -4-2.4 -2-1.5 -2-1.8 -2-2.4 -1.1-1.8 -3.4-8.1 -4.2-8 -.8-2 -.4-2 -.4-4 .5-4.1 .8-2 1-1.6z"/>
<path fill="#00ffd2" d="M17.9 18.1l2.2-2 1.9-1.3 2-.9 2-.7 2-.4 4-.2 4 .7 4 1.7 4.7 3.1 3.4 2.7 2 2 2 2.9 7.3 14.5 1.3 4 .4 2 .1 2 -.1 2.1 -.5 2 -.9 2 -1.6 1.9 -2 1.5 -2 .8 -2 .5 -2 .2 -4-.4 -4-1.2 -8.1-3.9 -7.6-3.4 -2.4-1.6 -2-1.7 -2.4-2.8 -3.6-5.1 -1.4-2.9 -1.1-4 -.2-2 0-2.1 .3-2 .6-2 .8-2 1.2-2zM142.2 16.2l2.1 1.9 1.7 2 1.2 2 1.4 4 .3 2 0 2.1 -.2 2 -.4 2 -.7 2 -.9 2 -2.5 3.9 -3.3 4.1 -2.2 2 -2.9 2.1 -7.6 3.4 -8.1 3.9 -2 .6 -4 .9 -2 .1 -2-.2 -2-.5 -2-.8 -2-1.5 -1.6-1.9 -.9-2 -.5-2 -.1-2.1 .1-2 .4-2 1.3-4 4.2-8 2.9-6.1 1.3-2 1.6-2 1.3-1.3 3.4-2.7 4.7-3.1 4-1.7 2-.4 4-.3 4 .6 4 1.6zM73.7 78.4l2.7-2 3.7-3.8 2 0 3.7 3.8 2.7 2 -2.7 2 -3.7 3.8 -2 0 -3.7-3.8zM58 100.5l1.7 2 .9 2 .5 2 .1 2.1 -.1 2 -.4 2 -1.3 4 -7.3 14.5 -2 2.9 -2 2 -3.4 2.7 -4.7 3.1 -4 1.7 -4 .7 -4-.2 -2-.4 -2-.7 -2-.9 -1.9-1.3 -2.2-2 -1.7-2 -1.2-2 -.8-2 -.6-2 -.3-2 0-2.1 .2-2 1.1-4 1.4-2.9 3.6-5.1 2.4-2.8 2-1.7 2.4-1.6 7.6-3.4 8.1-3.9 4-1.2 4-.4 2 .2 2 .5 2 .8zM104.1 100.6l2-1.5 2-.8 2-.5 2-.2 4 .4 4 1.2 8.1 3.9 7.6 3.4 2.4 1.6 2 1.7 2.4 2.8 3.6 5.1 1.4 2.9 1.1 4 .2 2 0 2.1 -.3 2 -.6 2 -.8 2 -1.2 2 -1.7 2 -2.2 2 -1.9 1.3 -2 .9 -2 .7 -2 .4 -4 .2 -4-.7 -4-1.7 -4.7-3.1 -3.4-2.7 -2-2 -2-2.9 -7.3-14.5 -1.3-4 -.4-2 -.1-2 .1-2.1 .5-2 .9-2z"/>
<path fill="#00ffb7" d="M19.4 18.1l2.6-2 2-1.1 2-.7 4-.6 2 .1 2 .3 2 .6 2 .8 2 1.1 2 1.5 6.1 5.4 2 2.3 2 3 5.1 9.4 1.9 4 .6 2 .3 2 .1 2 -.1 2.1 -.4 2 -1.5 2.5 -2 1.8 -2 1 -2 .4 -2 .2 -4-.4 -2-.5 -4.1-1.7 -10.3-5.3 -3.3-2.1 -2.4-2 -4-4.4 -2.8-3.6 -1.9-4 -.6-2 -.2-2 0-2.1 .3-2 .6-2 .9-2 1.2-2zM142.2 17.5l2.5 2.6 1.2 2 .9 2 .6 2 .3 2 0 2.1 -.2 2 -.6 2 -1.9 4 -2.8 3.6 -4 4.4 -2.4 2 -3.3 2.1 -10.3 5.3 -4.1 1.7 -2 .5 -4 .4 -2-.2 -2-.4 -2-1 -2-1.8 -1.5-2.5 -.4-2 -.1-2.1 .1-2 .3-2 .6-2 1.9-4 5.1-9.4 2-3 2-2.3 6.1-5.4 2-1.5 2-1.1 2-.8 2-.6 2-.3 2-.1 4 .6 2 .7 2 1.1zM80.1 74.4l2 0 2 2 2.5 2 -2.5 2 -2 2 -2 0 -2-2 -2.5-2 2.5-2zM56.5 100.5l2 2 1.1 2 .4 2 .1 2.1 -.4 4 -.6 2 -1.9 4 -5.1 9.4 -2 3 -2 2.3 -6.1 5.4 -2 1.5 -2 1.1 -2 .8 -2 .6 -2 .3 -2 .1 -4-.6 -2-.7 -2-1.1 -2.6-2 -1.9-2 -1.2-2 -.9-2 -.6-2 -.3-2 0-2.1 .2-2 .6-2 1.9-4 2.8-3.6 4-4.4 2.4-2 3.3-2.1 10.3-5.3 4.1-1.7 2-.5 2-.3 4 .1 2 .4zM104.1 102l2-1.8 2-1 2-.4 2-.2 4 .4 2 .5 4.1 1.7 10.3 5.3 3.3 2.1 2.4 2 4 4.4 2.8 3.6 1.9 4 .6 2 .2 2 0 2.1 -.3 2 -.6 2 -.9 2 -1.7 2.6 -2 2 -2 1.4 -2 1.1 -2 .7 -4 .6 -2-.1 -2-.3 -2-.6 -2-.8 -2-1.1 -4.3-3.5 -3.8-3.4 -2.2-2.6 -1.8-2.7 -5.1-9.4 -1.9-4 -.6-2 -.3-2 -.1-2 .1-2.1 .4-2z"/>
<path fill="#00ff9b" d="M20 18.7l2-1.6 4-1.8 2-.4 2-.2 2 .1 2 .4 2 .6 2 1 2 1.3 2.3 2 1.8 2 4 4 2 2.4 7.2 11.7 1.6 4 .4 2 .2 2 -.2 2.1 -.6 2 -1.2 2 -1.4 1.4 -2 1.1 -2 .6 -2 .1 -2-.1 -2-.4 -4-1.4 -4.1-2.1 -8.7-5.3 -2.6-2 -6.7-6.5 -1.3-1.5 -1.3-2 -.9-2 -.6-2 -.3-2 -.1-2.1 .3-2 .6-2 .9-2 1.4-2zM142.2 18.7l1.3 1.4 1.4 2 .9 2 .6 2 .3 2 -.1 2.1 -.3 2 -.6 2 -.9 2 -1.3 2 -1.3 1.5 -6.7 6.5 -2.6 2 -8.7 5.3 -4.1 2.1 -4 1.4 -2 .4 -2 .1 -2-.1 -2-.6 -2-1.1 -1.4-1.4 -1.2-2 -.6-2 -.2-2.1 .2-2 .4-2 1.6-4 7.2-11.7 2-2.4 4-4 1.8-2 2.3-2 2-1.3 2-1 2-.6 2-.4 2-.1 2 .2 2 .4 4 1.8zM78 78.4l2.1-1.7 2 0 2.1 1.7 -2.1 1.7 -2 0zM56.1 101.1l1.4 1.4 1.2 2 .6 2 .2 2.1 -.2 2 -.4 2 -1.6 4 -7.2 11.7 -2 2.4 -4 4 -1.8 2 -2.3 2 -2 1.3 -2 1 -2 .6 -2 .4 -2 .1 -2-.2 -2-.4 -4-1.8 -2-1.6 -1.3-1.4 -1.4-2 -.9-2 -.6-2 -.3-2 .1-2.1 .3-2 .6-2 1.5-3 2-2.5 6.7-6.5 2.6-2 8.7-5.3 4.1-2.1 4-1.4 2-.4 2-.1 2 .1 2 .6zM104.7 102.5l1.4-1.4 2-1.1 2-.6 2-.1 2 .1 2 .4 4 1.4 4.1 2.1 8.7 5.3 2.6 2 6.7 6.5 2 2.5 1.5 3 .6 2 .3 2 .1 2.1 -.3 2 -.6 2 -.9 2 -1.4 2 -1.3 1.4 -2 1.6 -4 1.8 -2 .4 -2 .2 -2-.1 -2-.4 -2-.6 -2-1 -2-1.3 -2.3-2 -1.8-2 -4-4 -2-2.4 -7.2-11.7 -1.6-4 -.4-2 -.2-2 .2-2.1 .6-2z"/>
<path fill="#00ff80" d="M20 19.9l2-1.7 2-1.2 2-.8 2-.5 2-.1 2 .1 4 1.1 2.3 1.3 2.4 2 1.7 2 1.7 2.4 4 4.1 2 2.4 5.2 7.2 2.2 4 1.2 4 .2 2 -.2 2.1 -.8 2 -1.3 2 -2.5 1.7 -2 .7 -2 .2 -2-.1 -4-1 -4.1-2 -5.4-3.5 -5.3-4.1 -4.2-4 -3.1-2.3 -2-1.9 -1.4-1.8 -1.1-2 -.7-2 -.3-2 -.1-2.1 .3-2 .6-2 1-2zM142.2 19.9l1.7 2.2 1 2 .6 2 .3 2 -.1 2.1 -.3 2 -.7 2 -1.1 2 -1.4 1.8 -2 1.9 -3.1 2.3 -4.2 4 -5.3 4.1 -5.4 3.5 -4.1 2 -4 1 -2 .1 -2-.2 -2-.7 -2.5-1.7 -1.3-2 -.8-2 -.2-2.1 .2-2 1.2-4 2.2-4 5.2-7.2 2-2.4 4-4.1 1.7-2.4 1.7-2 2.4-2 2.3-1.3 4-1.1 2-.1 2 .1 2 .5 2 .8 2 1.2zM56.1 102l.5 .5 1.3 2 .8 2 .2 2.1 -.2 2 -1.2 4 -2.2 4 -5.2 7.2 -2 2.4 -4 4.1 -1.7 2.4 -1.7 2 -2.4 2 -2.3 1.3 -4 1.1 -2 .1 -2-.1 -2-.5 -2-.8 -2-1.2 -2-1.7 -1.7-2.2 -1-2 -.6-2 -.3-2 .1-2.1 .3-2 .7-2 1.1-2 1.6-2 1.8-1.7 3.1-2.3 4.2-4 2.6-2 5.7-4.1 4.5-2.6 2-.9 4-1 2-.1 2 .2 2 .7zM106.1 102l2-1.2 2-.7 2-.2 2 .1 4 1 2 .9 4.5 2.6 5.7 4.1 2.6 2 4.2 4 3.1 2.3 1.8 1.7 1.6 2 1.1 2 .7 2 .3 2 .1 2.1 -.3 2 -.6 2 -1 2 -1.7 2.2 -2 1.7 -2 1.2 -2 .8 -2 .5 -2 .1 -2-.1 -4-1.1 -2.3-1.3 -2.4-2 -1.7-2 -1.7-2.4 -4-4.1 -2-2.4 -5.2-7.2 -2.2-4 -1.2-4 -.2-2 .2-2.1 .8-2 1.3-2z"/>
<path fill="#00ff64" d="M20.9 20.1l1.1-1 1.6-1 2.4-1.1 2-.5 2-.1 2 .1 2 .5 2.5 1.1 2.8 2 1.8 2 3 4.9 4 3.6 4 4.2 2.5 3.4 2.4 4 .7 2 .6 4 -.3 2.1 -.6 2 -1.3 1.7 -2 1.5 -2 .6 -2 .2 -2-.1 -2-.4 -2-.6 -4.1-2 -2-1.4 -4.4-3.6 -5.9-6 -3.7-2.2 -2.4-1.8 -1.8-2 -1.3-2 -.7-2 -.5-2 0-2.1 .2-2 .7-2 1-2zM141.3 20.1l1.7 2 1 2 .7 2 .2 2 0 2.1 -.5 2 -.7 2 -1.3 2 -1.8 2 -2.4 1.8 -3.7 2.2 -5.9 6 -4.4 3.6 -2 1.4 -4.1 2 -2 .6 -2 .4 -2 .1 -2-.2 -2-.6 -2-1.5 -1.3-1.7 -.6-2 -.3-2.1 .6-4 .7-2 2.4-4 2.5-3.4 4-4.2 4-3.6 3-4.9 1.8-2 2.8-2 2.5-1.1 2-.5 2-.1 2 .1 2 .5 2.4 1.1 1.6 1zM55.8 102.5l1.6 2 .6 2 .3 2.1 -.6 4 -.7 2 -2.4 4 -2.5 3.4 -4 4.2 -4 3.6 -3 4.9 -1.8 2 -2.8 2 -2.5 1.1 -2 .5 -2 .1 -2-.1 -2-.5 -2.4-1.1 -1.6-1 -1.1-1 -1.7-2 -1-2 -.7-2 -.2-2 0-2.1 .5-2 .7-2 1.3-2 1.8-2 2.4-1.8 3.7-2.2 5.9-6 4.4-3.6 2-1.4 4.1-2 2-.6 4-.5 2 .2 2 .6zM106.1 102.8l2-1.5 2-.6 2-.2 2 .1 2 .4 2 .6 4.1 2 2 1.4 4.4 3.6 5.9 6 3.7 2.2 2.4 1.8 1.8 2 1.3 2 .7 2 .5 2 0 2.1 -.2 2 -.7 2 -1 2 -1.7 2 -1.1 1 -1.6 1 -2.4 1.1 -2 .5 -2 .1 -2-.1 -2-.5 -2.5-1.1 -2.8-2 -1.8-2 -3-4.9 -4-3.6 -4-4.2 -2.5-3.4 -2.4-4 -.7-2 -.6-4 .3-2.1 .6-2z"/>
<path fill="#00ff48" d="M21.9 20.1l2.1-1.5 2-.9 2-.5 2-.1 2 .2 2 .5 2 .9 2 1.4 2 2 1.3 2 1.9 4 6.9 5.6 2 2.1 3.3 4.4 1.8 4 .5 2 .1 2 -.2 2.1 -.8 2 -.7 .9 -2 1.7 -2 .8 -2 .2 -2-.1 -2-.4 -4-1.6 -4.1-2.6 -3.3-3 -1.9-2 -2.9-4 -1.9-1.3 -4-2 -2-1.5 -2-2.3 -1.4-2.9 -.5-2 0-2.1 .2-2 .7-2 1.1-2zM140.3 20.1l1.8 2 1.1 2 .7 2 .2 2 0 2.1 -.5 2 -1.4 2.9 -2 2.3 -2 1.5 -4 2 -1.9 1.3 -2.9 4 -1.9 2 -3.3 3 -4.1 2.6 -4 1.6 -2 .4 -2 .1 -2-.2 -2-.8 -2-1.7 -.7-.9 -.8-2 -.2-2.1 .1-2 .5-2 1.8-4 3.3-4.4 2-2.1 6.9-5.6 1.9-4 1.3-2 2-2 2-1.4 2-.9 2-.5 2-.2 2 .1 2 .5 2 .9zM55 102.5l1.8 2 .8 2 .2 2.1 -.1 2 -.5 2 -1.8 4 -3.3 4.4 -2 2.1 -6.9 5.6 -1.9 4 -1.3 2 -2 2 -2 1.4 -2 .9 -2 .5 -2 .2 -2-.1 -2-.5 -2-.9 -2.1-1.5 -1.8-2 -1.1-2 -.7-2 -.2-2 0-2.1 .5-2 1.4-2.9 2-2.3 2-1.5 4-2 1.9-1.3 2.9-4 1.9-2 3.3-3 4.1-2.6 4-1.6 2-.4 2-.1 2 .2 2 .8zM106.1 103.6l2-1.7 2-.8 2-.2 2 .1 2 .4 4 1.6 4.1 2.6 3.3 3 1.9 2 2.9 4 1.9 1.3 4 2 2 1.5 2 2.3 1.4 2.9 .5 2 0 2.1 -.2 2 -.7 2 -1.1 2 -1.8 2 -2.1 1.5 -2 .9 -2 .5 -2 .1 -2-.2 -2-.5 -2-.9 -2-1.4 -2-2 -1.3-2 -1.9-4 -6.9-5.6 -2-2.1 -3.3-4.4 -1.8-4 -.5-2 -.1-2 .2-2.1 .8-2z"/>
<path fill="#00ff2d" d="M22 20.9l2-1.5 2-1 2-.5 2-.1 2 .2 2 .6 2 1 2 1.6 .9 .9 1.3 2 1.9 4.7 1.4 1.4 2.6 1.2 2 1.4 2 1.7 3.4 3.7 1.4 2 1.9 4 .5 2 .1 2 -.3 2.1 -1 2.2 -2 1.8 -2 .9 -2 .3 -2-.1 -2-.4 -4-1.6 -4.1-2.9 -2.5-2.3 -3.1-4 -.4-.8 -2-2.9 -4-1.5 -2-1.1 -2-1.6 -1.7-2.1 -.9-2 -.6-2 -.1-2.1 .3-2 .7-2 1.2-2zM140.2 20.9l1.1 1.2 1.2 2 .7 2 .3 2 -.1 2.1 -.6 2 -.9 2 -1.7 2.1 -2 1.6 -2 1.1 -4 1.5 -2 2.9 -.4 .8 -3.1 4 -2.5 2.3 -4.1 2.9 -4 1.6 -2 .4 -2 .1 -2-.3 -2-.9 -2-1.8 -1-2.2 -.3-2.1 .1-2 .5-2 1.9-4 1.4-2 3.4-3.7 2-1.7 2-1.4 2.6-1.2 1.4-1.4 1.9-4.7 1.3-2 .9-.9 2-1.6 2-1 2-.6 2-.2 2 .1 2 .5 2 1zM54.2 102.5l2 2 .9 2 .3 2.1 -.1 2 -.5 2 -1.9 4 -1.4 2 -3.4 3.7 -2 1.7 -2 1.4 -2.6 1.2 -1.4 1.4 -1.9 4.7 -1.3 2 -.9 .9 -2 1.6 -2 1 -2 .6 -2 .2 -2-.1 -2-.5 -2-1 -2-1.5 -1.1-1.2 -1.2-2 -.7-2 -.3-2 .1-2.1 .6-2 .9-2 1.7-2.1 2-1.6 2-1.1 4-1.5 2-2.9 .4-.8 3.1-4 2.5-2.3 4.1-2.9 4-1.6 2-.4 2-.1 2 .3zM106.1 104.3l2-1.8 2-.9 2-.3 2 .1 2 .4 4 1.6 4.4 3.1 2.2 2.1 1.6 2 3.9 5.7 4 1.5 2 1.1 2 1.6 1.7 2.1 .9 2 .6 2 .1 2.1 -.3 2 -.7 2 -1.2 2 -1.1 1.2 -2 1.5 -2 1 -2 .5 -2 .1 -2-.2 -2-.6 -2.8-1.5 -2.1-2 -1.3-2 -1.9-4.7 -1.4-1.4 -2.6-1.2 -2-1.4 -2-1.7 -3.4-3.7 -1.4-2 -1.9-4 -.5-2 -.1-2 .3-2.1z"/>
<path fill="#0f1" d="M22 21.8l2-1.7 2-1 2-.5 2-.2 2 .3 2 .6 2 1.1 1.9 1.7 1.5 2 .8 2 .5 2 .9 2.1 2.5 .9 4 2.3 2 1.6 2 2.1 2.3 3.1 1.2 2 .8 2 .5 2 .1 2 -.3 2.1 -1 2 -1.6 1.5 -2 1 -2 .3 -2 0 -4-1.2 -2-1 -2.1-1.3 -1.7-1.3 -2.1-2.1 -1.7-2 -1.4-2 -1.1-2.5 -.9-1.5 -1.1-.9 -4-1.2 -2-1.1 -2-1.8 -.8-1 -1.1-2 -.6-2 -.1-2.1 .3-2 .7-2zM140.2 21.8l1.6 2.3 .7 2 .3 2 -.1 2.1 -.6 2 -1.1 2 -.8 1 -2 1.8 -2 1.1 -4 1.2 -1.1 .9 -.9 1.5 -1.1 2.5 -1.4 2 -1.7 2 -2.1 2.1 -1.7 1.3 -2.1 1.3 -2 1 -4 1.2 -2 0 -2-.3 -2-1 -1.6-1.5 -1-2 -.3-2.1 .1-2 .5-2 .8-2 1.2-2 2.3-3.1 2-2.1 2-1.6 4-2.3 2.5-.9 .9-2.1 .5-2 .8-2 1.5-2 1.9-1.7 2-1.1 2-.6 2-.3 2 .2 2 .5 2 1zM54.1 103l1.6 1.5 1 2 .3 2.1 -.1 2 -.5 2 -.8 2 -2.6 4 -2.9 3.2 -2 1.6 -4 2.3 -2.5 .9 -.9 2.1 -.5 2 -.8 2 -1.5 2 -1.9 1.7 -2 1.1 -2 .6 -2 .3 -2-.2 -2-.5 -2-1 -2-1.7 -1.6-2.3 -.7-2 -.3-2 .1-2.1 .6-2 1.1-2 .8-1 2-1.8 2-1.1 4-1.2 1.1-.9 .9-1.5 1.1-2.5 1.4-2 1.7-2 2.1-2.1 1.7-1.3 2.1-1.3 2-1 4-1.2 2 0 2 .3zM106.5 104.5l1.6-1.5 2-1 2-.3 2 0 4 1.2 2 1 2.1 1.3 1.7 1.3 2.1 2.1 1.7 2 1.4 2 1.1 2.5 .9 1.5 1.1 .9 4 1.2 2 1.1 2 1.8 .8 1 1.1 2 .6 2 .1 2.1 -.3 2 -.7 2 -1.4 2 -2.3 2 -1.9 1 -2 .5 -2 .2 -2-.3 -2-.6 -2-1.1 -1.9-1.7 -1.5-2 -.8-2 -.5-2 -.9-2.1 -2.5-.9 -4-2.3 -2-1.6 -2-2.1 -2.3-3.1 -1.2-2 -.8-2 -.5-2 -.1-2 .3-2.1z"/>
<path fill="#0f0" d="M22.6 22.1l1.4-1.2 2-1.1 2-.6 2-.2 2 .3 2 .7 2 1.3 1 .8 1.5 2 .9 2 .7 4.1 6 2.6 4 2.8 2.5 2.6 2.6 4 1.3 4 .2 2 -.4 2.1 -1.1 2 -1.1 1.1 -2 1 -2 .4 -2-.1 -4-1.1 -4.1-2.4 -2-1.6 -3-3.4 -2.2-4 -.8-2.6 -2-1.4 -2-.3 -2-.6 -2-1.2 -2-1.9 -1.2-2 -.6-2 -.1-2.1 .3-2 .7-2zM139.6 22.1l1.5 2 .7 2 .3 2 -.1 2.1 -.6 2 -1.2 2 -2 1.9 -2 1.2 -2 .6 -2 .3 -2 1.4 -.8 2.6 -2.2 4 -3 3.4 -2 1.6 -4.1 2.4 -4 1.1 -2 .1 -2-.4 -2-1 -1.1-1.1 -1.1-2 -.4-2.1 .2-2 1.3-4 2.6-4 2.5-2.6 4-2.8 6-2.6 .7-4.1 .9-2 1.5-2 1-.8 2-1.3 2-.7 2-.3 2 .2 2 .6 2 1.1zM54.1 103.4l1.1 1.1 .9 1.6 .6 2.5 -.2 2 -1.3 4 -2.6 4 -2.5 2.6 -4 2.8 -6 2.6 -.7 4.1 -.9 2 -1.5 2 -1 .8 -2 1.3 -2 .7 -2 .3 -2-.2 -2-.6 -2-1.1 -1.4-1.2 -1.5-2 -.7-2 -.3-2 .1-2.1 .6-2 1.2-2 2-1.9 2-1.2 2-.6 2-.3 2-1.4 .8-2.6 2.2-4 1.7-2 2.1-2.1 3.3-2.2 2-1.1 4-1.1 2-.1 2 .4zM107 104.5l1.1-1.1 2-1 2-.4 2 .1 4 1.1 4.1 2.4 2 1.6 3 3.4 2.2 4 .8 2.6 2 1.4 2 .3 2 .6 2 1.2 2 1.9 1.2 2 .6 2 .1 2.1 -.3 2 -.7 2 -1.5 2 -1.4 1.2 -2 1.1 -2 .6 -2 .2 -2-.3 -2-.7 -2-1.3 -1-.8 -1.5-2 -.9-2 -.7-4.1 -6-2.6 -4-2.8 -2.5-2.6 -2.6-4 -1.3-4 -.2-2 .4-2.1z"/>
<path fill="#0f0" d="M23.5 22.1l2.5-1.7 2-.6 2-.2 2 .3 2 .8 2.1 1.4 1.6 2 .9 2 .4 2 .2 2.1 .8 .9 6.1 2.1 2 1.3 2 1.7 2 2 1.6 2 1.2 2 .8 2 .5 2 .1 2 -.4 2.1 -1.2 2 -.6 .6 -2 1.1 -2 .4 -2-.1 -2-.4 -2-.6 -4.1-2.5 -2.8-2.6 -1.7-2 -1.2-2 -.9-2 -1.4-4.3 -4-.7 -2-.7 -2-1.2 -1.1-1.1 -1.3-2 -.7-2 -.2-2.1 .3-2 .8-2zM138.7 22.1l1.7 2 .8 2 .3 2 -.2 2.1 -.7 2 -1.3 2 -1.1 1.1 -2 1.2 -2 .7 -4 .7 -1.4 4.3 -.9 2 -1.2 2 -1.7 2 -2.8 2.6 -4.1 2.5 -2 .6 -2 .4 -2 .1 -2-.4 -2-1.1 -.6-.6 -1.2-2 -.4-2.1 .1-2 .5-2 .8-2 1.2-2 1.6-2 2-2 2-1.7 2-1.3 6.1-2.1 .8-.9 .2-2.1 .4-2 .9-2 1.6-2 2.1-1.4 2-.8 2-.3 2 .2 2 .6zM54.7 104.5l1.2 2 .4 2.1 -.1 2 -.5 2 -.8 2 -1.2 2 -1.6 2 -2 2 -2 1.7 -2 1.3 -6.1 2.1 -.8 .9 -.2 2.1 -.4 2 -.9 2 -1.6 2 -2.1 1.4 -2 .8 -2 .3 -2-.2 -2-.6 -2.5-1.7 -1.7-2 -.8-2 -.3-2 .2-2.1 .7-2 1.3-2 1.1-1.1 2-1.2 2-.7 4-.7 1.4-4.3 .9-2 1.2-2 1.7-2 2.8-2.6 4.1-2.5 2-.6 2-.4 2-.1 2 .4 2 1.1zM107.5 104.5l.6-.6 2-1.1 2-.4 2 .1 2 .4 2 .6 4.1 2.5 2.8 2.6 1.7 2 1.2 2 .9 2 1.4 4.3 4 .7 2 .7 2 1.2 1.1 1.1 1.3 2 .7 2 .2 2.1 -.3 2 -.8 2 -1.7 2 -2.5 1.7 -2 .6 -2 .2 -2-.3 -2-.8 -2.1-1.4 -1.6-2 -.9-2 -.4-2 -.2-2.1 -.8-.9 -6.1-2.1 -2-1.3 -2-1.7 -2-2 -1.6-2 -1.2-2 -.8-2 -.5-2 -.1-2 .4-2.1z"/>
<path fill="#10ff00" d="M24 22.4l2-1.3 2-.7 2-.1 2 .3 2 .8 1 .7 1.9 2 1 2 .4 2 -.1 2.1 1.8 1.9 4.1 .7 2 .9 2 1.2 2 1.6 1.6 1.7 1.7 2 1.2 2 .8 2 .5 2 0 2 -.4 2.1 -1.3 2 -2.1 1.3 -2 .5 -2-.1 -2-.3 -2-.8 -2-1 -2.3-1.6 -2.2-2.1 -2.9-4 -1.4-4 -.3-2 -1-1.4 -4-.3 -2-.7 -2-1.4 -1.7-2.2 -.8-2 -.2-2.1 .3-2 .9-2zM138.2 22.4l1.5 1.7 .9 2 .3 2 -.2 2.1 -.8 2 -1.7 2.2 -2 1.4 -2 .7 -4 .3 -1 1.4 -.3 2 -1.4 4 -2.9 4 -2.2 2.1 -2.3 1.6 -2 1 -2 .8 -2 .3 -2 .1 -2-.5 -2.1-1.3 -1.3-2 -.4-2.1 0-2 .5-2 .8-2 1.2-2 1.7-2 1.6-1.7 2-1.6 2-1.2 2-.9 4.1-.7 1.8-1.9 -.1-2.1 .4-2 1-2 1.9-2 1-.7 2-.8 2-.3 2 .1 2 .7zM54.1 104.4l1.4 2.1 .4 2.1 0 2 -.5 2 -.8 2 -1.2 2 -1.7 2 -1.6 1.7 -2 1.6 -2 1.2 -2 .9 -4.1 .7 -1.8 1.9 .1 2.1 -.4 2 -1 2 -1.9 2 -1 .7 -2 .8 -2 .3 -2-.1 -2-.7 -2-1.3 -1.5-1.7 -.9-2 -.3-2 .2-2.1 .8-2 1.7-2.2 2-1.4 2-.7 4-.3 1-1.4 .3-2 1.4-4 2.9-4 2.2-2.1 2.3-1.6 2-1 2-.8 2-.3 2-.1 2 .5zM108 104.5l2.1-1.3 2-.5 2 .1 2 .3 2 .8 2 1 2.3 1.6 2.2 2.1 2.9 4 1.4 4 .3 2 1 1.4 4 .3 2 .7 2 1.4 1.7 2.2 .8 2 .2 2.1 -.3 2 -.9 2 -1.5 1.7 -2 1.3 -2 .7 -2 .1 -2-.3 -2-.8 -1-.7 -1.9-2 -1-2 -.4-2 .1-2.1 -1.8-1.9 -4.1-.7 -2-.9 -2-1.2 -2-1.6 -1.6-1.7 -1.7-2 -1.2-2 -.8-2 -.5-2 0-2 .4-2.1z"/>
<path fill="#2bff00" d="M24 23.2l2-1.5 2-.7 2-.2 2 .4 2 .9 2.1 2 1.1 2 .4 2 -.2 4.1 .6 .3 4.1 .2 2 .5 4 2.1 2 1.6 2.9 3.3 1.2 2 .9 2 .5 2 0 2 -.5 2.1 -1 1.6 -2 1.4 -2 .5 -2 0 -2-.4 -2-.8 -2-1 -2.1-1.5 -1.9-1.9 -1.7-2 -1.3-2 -.8-2 -.4-2 -.5-4 -1.4-.4 -2 .2 -2-.2 -2-.8 -2-1.5 -1-1.3 -.9-2 -.2-2.1 .3-2 1.1-2zM138.2 23.2l.7 .9 1.1 2 .3 2 -.2 2.1 -.9 2 -1 1.3 -2 1.5 -2 .8 -2 .2 -2-.2 -1.4 .4 -.5 4 -.4 2 -.8 2 -1.3 2 -1.7 2 -1.9 1.9 -2.1 1.5 -2 1 -2 .8 -2 .4 -2 0 -2-.5 -2-1.4 -1-1.6 -.5-2.1 0-2 .5-2 .9-2 1.2-2 2.9-3.3 2-1.6 4-2.1 2-.5 4.1-.2 .6-.3 -.2-4.1 .4-2 1.1-2 2.1-2 2-.9 2-.4 2 .2 2 .7zM53.7 104.5l1.4 2 .5 2.1 0 2 -.5 2 -.9 2 -1.2 2 -2.9 3.3 -2 1.6 -4 2.1 -2 .5 -4.1 .2 -.6 .3 .2 4.1 -.4 2 -1.1 2 -2.1 2 -2 .9 -2 .4 -2-.2 -2-.7 -2-1.5 -.7-.9 -1.1-2 -.3-2 .2-2.1 .9-2 1-1.3 2-1.5 2-.8 2-.2 2 .2 1.4-.4 .5-4 .4-2 .8-2 1.3-2 1.7-2 1.9-1.9 2.1-1.5 2-1 2-.8 2-.4 2 0 2 .5zM108.1 104.9l2-1.4 2-.5 2 0 2 .4 2 .8 2 1 2.1 1.5 1.9 1.9 1.7 2 1.3 2 .8 2 .4 2 .5 4 1.4 .4 2-.2 2 .2 2 .8 2 1.5 1 1.3 .9 2 .2 2.1 -.3 2 -1.1 2 -.7 .9 -2 1.5 -2 .7 -2 .2 -2-.4 -2-.9 -2.1-2 -1.1-2 -.4-2 .2-4.1 -.6-.3 -4.1-.2 -2-.5 -4-2.1 -2-1.6 -2.9-3.3 -1.2-2 -.9-2 -.5-2 0-2 .5-2.1z"/>
<path fill="#45ff00" d="M24 24l2-1.6 2-.8 2-.2 2 .4 2 1.1 1.3 1.2 1.2 2 .4 2 -.2 2.1 -.7 2 0 2 2-1 2-.2 2.1 .1 2 .5 2 .9 2 1.1 2 1.6 2.6 3 1.2 2 .9 2 .5 2 0 2 -.5 2.1 -.7 1 -1 1 -1 .6 -2 .6 -2 0 -2-.4 -2-.8 -2-1 -2.1-1.5 -1.6-1.6 -1.7-2 -1.2-2 -.8-2 -.4-2 0-2 .3-2 -.6-1.8 -2 .6 -2 .3 -2-.2 -2-.8 -2.3-2.1 -.9-2 -.3-2.1 .4-2zM138.2 24l1.1 2.1 .4 2 -.3 2.1 -.9 2 -2.3 2.1 -2 .8 -2 .2 -2-.3 -2-.6 -.6 1.8 .3 2 0 2 -.4 2 -.8 2 -1.2 2 -1.7 2 -1.6 1.6 -2.1 1.5 -2 1 -2 .8 -2 .4 -2 0 -2-.6 -1-.6 -1-1 -.7-1 -.5-2.1 0-2 .5-2 .9-2 1.2-2 2.6-3 2-1.6 2-1.1 2-.9 2-.5 2.1-.1 2 .2 2 1 0-2 -.7-2 -.2-2.1 .4-2 1.2-2 1.3-1.2 2-1.1 2-.4 2 .2 2 .8zM53.1 104.5l1 1 .7 1 .5 2.1 0 2 -.5 2 -.9 2 -1.2 2 -2.6 3 -2 1.6 -2 1.1 -2 .9 -2 .5 -2.1 .1 -2-.2 -2-1 0 2 .7 2 .2 2.1 -.4 2 -1.2 2 -1.3 1.2 -2 1.1 -2 .4 -2-.2 -2-.8 -2-1.6 -1.1-2.1 -.4-2 .3-2.1 .9-2 2.3-2.1 2-.8 2-.2 2 .3 2 .6 .6-1.8 -.3-2 0-2 .4-2 .8-2 1.2-2 1.7-2 1.6-1.6 2.1-1.5 4-1.8 2-.4 2 0 2 .6zM108.1 105.5l1-1 1-.6 2-.6 2 0 2 .4 2 .8 2 1 2.1 1.5 1.6 1.6 1.7 2 1.2 2 .8 2 .4 2 0 2 -.3 2 .6 1.8 2-.6 2-.3 2 .2 2 .8 2.3 2.1 .9 2 .3 2.1 -.4 2 -1.1 2.1 -2 1.6 -2 .8 -2 .2 -2-.4 -2-1.1 -1.3-1.2 -1.2-2 -.4-2 .2-2.1 .7-2 0-2 -2 1 -2 .2 -2.1-.1 -2-.5 -2-.9 -2-1.1 -2-1.6 -2.6-3 -1.2-2 -.9-2 -.5-2 0-2 .5-2.1z"/>
<path fill="#5fff00" d="M30 22l2 .5 2.5 1.6 1.2 2 .5 2 -.3 2.1 -.9 2 -1 1 -2 1.1 -2 .3 -2-.2 -2-.9 -1.4-1.3 -1.2-2 -.2-2.1 .3-2 1.3-2 1.2-1 2-.9zM130.2 22.5l2-.5 2 .2 2 .9 1.2 1 1.3 2 .3 2 -.2 2.1 -1.2 2 -1.4 1.3 -2 .9 -2 .2 -2.3-.4 -1.7-1 -1-1 -.9-2 -.3-2.1 .5-2 1.2-2zM36 35.1l2-1.2 2-.5 2.1 .1 2 .5 2 .8 2 1.2 2 1.6 2.3 2.6 1.3 2 .9 2 .4 2 0 2 -.6 2.1 -.3 .5 -2 1.8 -2 .6 -2 0 -2-.4 -2-.8 -2-1 -2.1-1.5 -1.2-1.3 -1.8-2 -1.1-2 -.9-2 -.4-2 .1-2 .6-2zM126.2 35.1l.7 1.1 .6 2 .1 2 -.4 2 -.9 2 -1.1 2 -1.8 2 -1.2 1.3 -2.1 1.5 -2 1 -2 .8 -2 .4 -2 0 -2-.6 -2-1.8 -.3-.5 -.6-2.1 0-2 .4-2 .9-2 1.3-2 2.3-2.6 2-1.6 2-1.2 2-.8 2-.5 2.1-.1 2 .5zM52.5 104.5l1.9 2 .6 2.1 0 2 -.4 2 -.9 2 -1.3 2 -1.7 2 -2.6 2.2 -2 1.2 -2 .8 -2 .5 -2.1 .1 -2-.5 -2-1.2 -.7-1.1 -.6-2 -.1-2 .4-2 .9-2 1.1-2 1.8-2 3.3-2.8 2-1 2-.8 2-.4 2 0 2 .6zM108.1 106l2-1.8 2-.6 2 0 2 .4 2 .8 2 1 2.1 1.5 1.2 1.3 1.8 2 1.1 2 .9 2 .4 2 -.1 2 -.6 2 -.7 1.1 -2 1.2 -2 .5 -2.1-.1 -2-.5 -2-.8 -2-1.2 -2-1.6 -2.3-2.6 -1.3-2 -.9-2 -.4-2 0-2 .6-2.1zM28 122.4l2-.2 2.3 .4 1.7 1 1 1 .9 2 .3 2.1 -.5 2 -1.2 2 -2.5 1.6 -2 .5 -2-.2 -2-.9 -1.2-1 -1.3-2 -.3-2 .2-2.1 1.2-2 1.4-1.3zM128.2 123.6l2-1.1 2-.3 2 .2 2 .9 1.4 1.3 1.2 2 .2 2.1 -.3 2 -1.3 2 -1.2 1 -2 .9 -2 .2 -2-.5 -2.5-1.6 -1.2-2 -.5-2 .3-2.1 .9-2z"/>
<path fill="#7aff00" d="M25.7 24.1l2.3-1.2 2-.2 2 .5 1.5 .9 1.5 2 .5 2 -.3 2.1 -1.2 2 -2 1.3 -2 .4 -2-.2 -2-1 -.6-.5 -1.3-2 -.3-2.1 .4-2zM128.2 24.7l.5-.6 1.5-.9 2-.5 2 .2 2.3 1.2 1.5 2 .4 2 -.3 2.1 -1.3 2 -.6 .5 -2 1 -2 .2 -2-.4 -2-1.3 -1.2-2 -.3-2.1 .5-2zM36 36.1l2-1.7 2-.5 2.1 0 2 .5 2 .7 2 1.2 2 1.6 2 2.3 1.3 2 .9 2 .4 2 0 2 -.6 2.1 -2 1.9 -2 .7 -2 0 -2-.3 -2-.8 -2.6-1.5 -2.4-2.1 -1.7-2 -1.2-2 -.8-2 -.4-2 .1-2zM126.2 36.1l.9 2.1 .1 2 -.4 2 -.8 2 -1.2 2 -1.7 2 -2.4 2.1 -2.6 1.5 -2 .8 -2 .3 -2 0 -2-.7 -2-1.9 -.6-2.1 0-2 .4-2 .9-2 1.3-2 2-2.3 2-1.6 2-1.2 2-.7 2-.5 2.1 0 2 .5zM52.1 104.6l2 1.9 .6 2.1 0 2 -.4 2 -.9 2 -1.3 2 -1.8 2 -2.2 1.9 -2 1.2 -2 .7 -2 .5 -2.1 0 -2-.5 -2-1.7 -.9-2.1 -.1-2 .4-2 .8-2 1.2-2 1.7-2 3-2.5 2-1.1 2-.8 2-.3 2 0zM108.1 106.5l2-1.9 2-.7 2 0 2 .3 2 .8 2.6 1.5 2.4 2.1 1.7 2 1.2 2 .8 2 .4 2 -.1 2 -.9 2.1 -2 1.7 -2 .5 -2.1 0 -2-.5 -2-.7 -2-1.2 -2-1.6 -2-2.3 -1.3-2 -.9-2 -.4-2 0-2zM25.4 124.6l.6-.5 2-1 2-.2 2 .4 2 1.3 1.2 2 .3 2.1 -.5 2 -1 1.4 -.5 .6 -1.5 .9 -2 .5 -2-.2 -2.3-1.2 -1.5-2 -.4-2 .3-2.1zM128.2 124.6l2-1.3 2-.4 2 .2 2 1 .6 .5 1.3 2 .3 2.1 -.4 2 -1.5 2 -2.3 1.2 -2 .2 -2-.5 -1.5-.9 -1.5-2 -.5-2 .3-2.1z"/>
<path fill="#94ff00" d="M26 24.7l2-1.2 2-.2 2 .6 2 1.9 .7 2.3 -.3 2.1 -1.6 2 -.8 .5 -2 .5 -2-.2 -2-1.2 -1.1-1.6 -.4-2.1 .5-2zM129.8 24.1l2.4-.8 2 .2 2 1.2 1 1.4 .5 2 -.4 2.1 -1.1 1.6 -.5 .4 -1.5 .8 -2 .2 -2-.5 -.8-.5 -1.2-1.5 -.4-.5 -.3-2.1 .5-2zM36.5 36.2l1.5-1.3 2-.6 2.1 0 2 .3 2 .8 2 1.2 2 1.7 1.7 1.9 1.3 2 .9 2 .5 2 -.1 2 -.7 2.1 -1.6 1.5 -2 .8 -2 .1 -2-.4 -2-.8 -2-1.1 -2.1-1.6 -2.3-2.6 -1.2-2 -.8-2 -.3-2 .1-2zM124.2 34.9l1.5 1.3 1 2 .1 2 -.3 2 -.8 2 -1.2 2 -2.3 2.6 -2.1 1.6 -2 1.1 -2 .8 -2 .4 -2-.1 -2-.8 -1.6-1.5 -.7-2.1 -.1-2 .5-2 .9-2 1.3-2 1.8-2 1.9-1.6 2-1.2 2-.8 2-.3 2.1 0zM52.1 105l1.6 1.5 .7 2.1 .1 2 -.5 2 -.9 2 -1.3 2 -1.7 1.9 -2 1.7 -2 1.2 -2 .8 -2 .3 -2.1 0 -2-.6 -1.5-1.3 -1-2 -.1-2 .3-2 .8-2 1.2-2 1.7-2 2.7-2.2 2-1.1 2-.8 2-.4 2 .1zM110.1 105l2-.8 2-.1 2 .4 2 .8 2 1.1 2.7 2.2 1.7 2 1.2 2 .8 2 .3 2 -.1 2 -1 2 -1.5 1.3 -2 .6 -2.1 0 -2-.3 -2-.8 -2-1.2 -2-1.7 -1.7-1.9 -1.3-2 -.9-2 -.5-2 .1-2 .7-2.1zM26.5 124.6l1.5-.8 2-.2 2 .5 .8 .5 1.2 1.5 .4 .5 .3 2.1 -.5 2 -1.8 2 -2.4 .8 -2-.2 -2-1.2 -1-1.4 -.5-2 .4-2.1 1.1-1.6zM129.4 124.6l.8-.5 2-.5 2 .2 2 1.2 1.1 1.6 .4 2.1 -.5 2 -1 1.4 -2 1.2 -2 .2 -2-.6 -2-1.9 -.7-2.3 .3-2.1z"/>
<path fill="#aeff00" d="M30 24l2 .8 1.3 1.3 .7 2 -.5 2.1 -1.5 1.5 -2 .8 -2-.3 -2-1.5 -.3-.5 -.5-2.1 .6-2 .2-.3 2-1.6zM132.2 24l2 .2 2 1.6 .2 .3 .6 2 -.5 2.1 -.3 .5 -2 1.5 -2 .3 -2-.8 -1.5-1.5 -.5-2.1 .7-2 1.3-1.3zM37.1 36.2l.9-.8 2-.8 2.1 0 2 .3 2 .8 2 1.2 1.5 1.3 2.5 2.8 .8 1.2 .8 2 .5 2 -.1 2 -.8 2.1 -1.2 1.1 -2 .9 -2 .1 -2-.4 -2-.7 -2-1.2 -2.1-1.6 -2-2.3 -1.2-2 -.7-2 -.4-2 .3-2zM124.2 35.4l.9 .8 1.1 1.8 .3 2.2 -.4 2 -.7 2 -1.2 2 -1.8 2 -2.5 2.1 -1.8 1 -2 .7 -2 .4 -2-.1 -2-.9 -1.2-1.1 -.8-1.9 -.1-2.2 .5-2 .8-2 1.4-2 1.4-1.6 2-1.7 2-1.2 2-.8 2-.3 2.1 0zM52.1 105.4l1.2 1.1 .8 1.9 .1 2.2 -.5 2 -.8 2 -1.4 2 -1.4 1.6 -2 1.7 -2 1.2 -2 .8 -2 .3 -2.1 0 -2-.8 -.9-.8 -1.1-2 -.3-2 .4-2 .7-2 1.2-2 1.8-2 2.5-2.1 1.8-1 2-.7 2-.4 2 .1zM110.1 105.4l2-.9 2-.1 2 .4 2 .7 1.8 1 2.5 2.1 1.8 2 1.2 2 .7 2 .4 2 -.3 2 -1.1 2 -.9 .8 -2 .8 -2.1 0 -2-.3 -2-.8 -2-1.2 -2-1.7 -1.4-1.6 -1.4-2 -.8-2 -.5-2 .1-2.2 .8-1.9zM28 124.6l2-.3 2 .8 1.5 1.5 .5 2.1 -.7 2 -1.3 1.3 -2 .8 -2-.2 -2-1.6 -.2-.3 -.6-2 .5-2.1 .3-.5zM130.2 125.1l2-.8 2 .3 2 1.5 .3 .5 .5 2.1 -.6 2 -2.2 1.9 -2 .2 -2-.8 -1.3-1.3 -.7-2 .5-2.1z"/>
<path fill="#c9ff00" d="M26.8 26.1l1.2-.9 2-.3 2 .9 .3 .3 .7 2 -.5 2.1 -.5 .4 -2 1 -2-.4 -1.3-1 -.7-1.9 0-.3zM129.9 26.1l.3-.3 2-.9 2 .3 1.2 .9 .8 2 -.7 2.1 -1.3 1 -2 .4 -2-1 -.5-.4 -.5-2.1zM37.7 36.2l.3-.3 2-.9 2.1-.1 2 .3 2 .8 2 1.2 2 1.7 1.1 1.3 1.4 2 .9 2 .4 2 -.1 2 -.9 2.1 -.8 .7 -2 1 -2 .1 -2-.3 -2-.8 -2-1.2 -2-1.6 -2.1-2.4 -.9-1.6 -.8-2 -.2-2 .3-2zM124.2 35.9l.3 .3 1.3 2 .3 2 -.2 2 -.8 2 -1.2 2 -1.7 2 -2.7 2.1 -1.4 .7 -2 .8 -2 .3 -2-.1 -2-1 -.8-.7 -.9-2.1 -.1-2 .4-2 .9-2 1.4-2 1.1-1.3 2-1.7 2-1.2 2-.8 2-.3 2.1 .1zM52.1 105.8l.8 .7 .9 2.1 .1 2 -.4 2 -.9 2 -1.4 2 -1.1 1.3 -2 1.7 -2 1.2 -2 .8 -2 .3 -2.1-.1 -2-.9 -.3-.3 -1.3-2 -.3-2 .2-2 .8-2 1.2-2 1.7-2 2.7-2.1 1.4-.7 2-.8 2-.3 2 .1zM109.3 106.5l.8-.7 2-1 2-.1 2 .3 2 .8 2 1.2 2 1.6 2.1 2.4 .9 1.6 .8 2 .2 2 -.3 2 -1.3 2 -.3 .3 -2 .9 -2.1 .1 -2-.3 -2-.8 -2-1.2 -2-1.7 -1.1-1.3 -1.4-2 -.9-2 -.4-2 .1-2zM26.7 126.6l1.3-1 2-.4 2 1 .5 .4 .5 2.1 -.7 2 -.3 .3 -2 .9 -2-.3 -1.2-.9 -.8-2zM129.7 126.6l.5-.4 2-1 2 .4 1.3 1 .7 1.9 0 .3 -.8 1.9 -1.2 .9 -2 .3 -2-.9 -.3-.3 -.7-2z"/>
<path fill="#e3ff00" d="M28 26.3l2-.4 .6 .2 1.4 1.9 -1.2 2.2 -.8 .3 -2-.3 -.8-2.1zM131.6 26.1l.6-.2 2 .4 .8 1.8 -.8 2.1 -2 .3 -.8-.3 -1.2-1.9 0-.3zM38 36.3l2-1 2.1-.1 2 .3 2 .8 2 1.2 2 1.8 2.2 2.9 .9 2 .4 2 -.1 2 -1 2.1 -.4 .3 -2 1.1 -2 .1 -2-.3 -2-.7 -2-1.2 -1.6-1.4 -1.9-2 -1.2-2 -.8-2 -.2-2 .3-2zM124.2 36.3l1.3 1.9 .3 2 -.2 2 -.8 2 -1.2 2 -1.9 2 -1.6 1.4 -2 1.2 -2 .7 -2 .3 -2-.1 -2-1.1 -.4-.3 -1-2.1 -.1-2 .4-2 .9-2 2.2-2.9 2-1.8 2-1.2 2-.8 2-.3 2.1 .1zM52.1 106.2l.4 .3 1 2.1 .1 2 -.4 2 -.9 2 -2.2 2.9 -2 1.8 -2 1.2 -2 .8 -2 .3 -2.1-.1 -2-1 -1.3-1.9 -.3-2 .2-2 .8-2 1.2-2 1.4-1.6 2.1-1.8 1.1-.7 2.9-1.2 2-.3 2 .1zM109.7 106.5l.4-.3 2-1.1 2-.1 2 .3 2 .7 2 1.2 1.6 1.4 1.9 2 1.2 2 .8 2 .2 2 -.3 2 -1.3 1.9 -2 1 -2.1 .1 -2-.3 -2-.8 -2-1.2 -2-1.8 -2.2-2.9 -.9-2 -.4-2 .1-2zM28 126.6l2-.3 .8 .3 1.2 1.9 0 .3 -1.4 1.9 -.6 .2 -2-.4 -.8-1.8zM131.4 126.6l.8-.3 2 .3 .8 2.1 -.8 1.8 -2 .4 -.6-.2 -1.4-1.9z"/>
<path fill="#fdff00" d="M29.8 28.1l.3 0 -.1 .2zM132.1 28.1l.3 0 -.2 .2zM38 36.9l2-1.2 2.1-.2 2 .3 2 .8 2 1.2 2 1.8 1.9 2.6 .9 2 .4 2 -.2 2 -1 2.1 -2 1 -2 .3 -2-.3 -2-.8 -2-1.2 -1.3-1.1 -1.9-2 -1.2-2 -.8-2 -.2-2 .4-2zM124.2 36.9l.9 1.3 .4 2 -.2 2 -.8 2 -1.2 2 -1.9 2 -1.3 1.1 -2 1.2 -2 .8 -2 .3 -2-.3 -2-1 -1-2.1 -.2-2 .4-2 .9-2 1.9-2.6 2-1.8 2-1.2 2-.8 2-.3 2.1 .2zM52.1 106.5l1 2.1 .2 2 -.4 2 -.9 2 -1.9 2.6 -2 1.8 -2 1.2 -2 .8 -2 .3 -2.1-.2 -2-1.2 -.9-1.3 -.4-2 .2-2 .8-2 1.2-2 1.9-2 1.3-1.1 2-1.2 2-.8 2-.3 2 .3zM110.1 106.5l2-1 2-.3 2 .3 2 .8 2 1.2 1.3 1.1 1.9 2 1.2 2 .8 2 .2 2 -.4 2 -.9 1.3 -2 1.2 -2.1 .2 -2-.3 -2-.8 -2-1.2 -2-1.8 -1.9-2.6 -.9-2 -.4-2 .2-2zM29.8 128.7l.2-.2 .1 .2zM132.1 128.7l.1-.2 .2 .2z"/>
<path fill="#ffe200" d="M38 37.5l2-1.5 2.1-.2 2 .3 2 .8 2.1 1.3 2.1 2 1.4 2 1 2 .3 2 -.2 2 -.7 1.5 -.6 .6 -1.4 .7 -2 .3 -2-.3 -2-.7 -3-2.1 -1.9-2 -1.2-2 -.8-2 -.2-2 .5-2zM124.2 37.5l.5 .7 .5 2 -.2 2 -.8 2 -1.2 2 -1.9 2 -3 2.1 -2 .7 -2 .3 -2-.3 -1.4-.7 -.6-.6 -.7-1.5 -.2-2 .3-2 1-2 1.4-2 2.1-2 2.1-1.3 2-.8 2-.3 2.1 .2zM51.5 106.5l.6 .6 .7 1.5 .2 2 -.3 2 -.6 1.3 -2 3 -2 1.8 -2 1.2 -2 .8 -2 .3 -2.1-.2 -2-1.5 -.5-.7 -.5-2 .2-2 .8-2 1.2-2 1.9-2 3-2.1 2-.7 2-.3 2 .3zM110.1 107.1l.6-.6 1.4-.7 2-.3 2 .3 2 .7 3 2.1 1.9 2 1.2 2 .8 2 .2 2 -.5 2 -.5 .7 -2 1.5 -2.1 .2 -2-.3 -2-.8 -2.1-1.3 -2.1-2 -1.4-2 -1-2 -.3-2 .2-2z"/>
<path fill="#ffc400" d="M38 38l2-1.6 2.1-.3 2 .3 2 .7 2 1.3 2 1.8 1.4 2 .9 2 .4 2 -.3 2 -.4 .8 -1.2 1.3 -.8 .4 -2 .3 -2-.3 -1.3-.4 -2.7-1.6 -2.6-2.5 -1.5-2.5 -.5-1.5 -.2-2zM124.2 38l.7 2.2 -.2 2 -.5 1.5 -1.5 2.5 -2.6 2.5 -2.7 1.6 -1.3 .4 -2 .3 -2-.3 -.8-.4 -1.2-1.3 -.4-.8 -.3-2 .4-2 .9-2 1.4-2 2-1.8 2-1.3 2-.7 2-.3 2.1 .3zM50.9 106.5l1.2 1.3 .4 .8 .3 2 -.4 2 -.9 2 -1.5 2 -2.2 2 -1.7 1.1 -2 .7 -2 .3 -2.1-.3 -2-1.6 -.7-2.2 .2-2 .8-2 1.2-2 2-2 2.6-1.8 2-.7 2-.3 2 .3zM110.1 107.8l1.2-1.3 .8-.4 2-.3 2 .3 1.3 .4 2.7 1.6 2.6 2.5 1.5 2.5 .5 1.5 .2 2 -.7 2.2 -2 1.6 -2.1 .3 -2-.3 -2-.7 -2-1.3 -2-1.8 -1.4-2 -.9-2 -.4-2 .3-2z"/>
<path fill="#ffa500" d="M38.4 38.2l1.6-1.4 2.1-.4 2 .3 2 .7 2 1.3 2 2 1.1 1.5 .9 2 .4 2 -.4 2.2 -1.8 1.9 -2.2 .4 -2.6-.4 -1.4-.6 -2-1.3 -2.3-2.2 -1.2-2 -.8-2 -.1-2zM122.2 36.8l1.6 1.4 .7 2 -.1 2 -.8 2 -1.2 2 -2.3 2.2 -2 1.3 -1.4 .6 -2.6 .4 -2.2-.4 -1.8-1.9 -.4-2.2 .4-2 .9-2 1.1-1.5 2-2 2-1.3 2-.7 2-.3zM50.3 106.5l1.8 1.9 .4 2.2 -.4 2.1 -.9 1.9 -1.5 2 -2.4 2 -1.2 .8 -2 .7 -2 .3 -2.1-.4 -1.6-1.4 -.7-2 .1-2 .8-2 1.4-2.3 2.1-1.9 2-1.3 2-.8 2-.2zM110.1 108.4l1.8-1.9 2.2-.4 2.6 .4 1.4 .6 2 1.3 2.3 2.2 1.2 2 .8 2 .1 2 -.7 2 -1.6 1.4 -2.1 .4 -2-.3 -2-.7 -2-1.3 -2-2 -1.1-1.5 -.9-2 -.4-2z"/>
<path fill="#ff8700" d="M38.9 38.2l1.1-.9 2.1-.6 2 .3 2 .7 2 1.3 2 2.1 .8 1.1 .9 2 .4 2 -.5 2 -1.6 1.8 -2 .4 -2-.2 -2-.8 -2-1.3 -2.1-2 -1.1-1.9 -.8-2 -.1-2zM122.2 37.3l1.1 .9 .9 2 -.1 2 -.8 2 -1.2 2 -2.1 2 -1.9 1.2 -2 .8 -2 .2 -2-.4 -1.6-1.8 -.5-2 .4-2 .9-2 .8-1.1 2-2.1 2-1.3 2-.7 2-.3zM50.1 106.8l1.6 1.8 .5 2 -.4 2 -.9 2 -1.6 2 -2.4 2 -.8 .5 -2 .7 -2 .3 -2.1-.6 -1.1-.9 -.9-2 .1-2 .8-2 1.2-2 2.1-2 1.9-1.2 2-.8 2-.2zM112.1 106.8l2-.4 2 .2 2 .8 1.9 1.2 2.1 2 1.2 2 .8 2 .1 2 -.9 2 -1.1 .9 -2.1 .6 -2-.3 -2-.7 -.8-.5 -2.4-2 -1.6-2 -.9-2 -.4-2 .5-2z"/>
<path fill="#ff6800" d="M39.4 38.2l.6-.5 2.1-.6 2 .2 2 .7 2 1.4 2 2.1 1.4 2.7 .3 2 -.5 2 -1.2 1.3 -2 .6 -2-.2 -2-.8 -2-1.3 -2.1-2.2 -.8-1.4 -.7-2 -.1-2zM122.2 37.7l.6 .5 1 2 -.1 2 -.7 2 -1.3 2 -2.2 2 -1.4 .9 -2 .8 -2 .2 -2-.6 -1.2-1.3 -.5-2 .3-2 1.4-2.7 2-2.1 2-1.4 2-.7 2-.2zM50.1 107.3l1.2 1.3 .5 2 -.3 2 -.9 2 -1.6 2 -2.9 2.2 -2 .7 -2 .2 -2.1-.6 -.6-.5 -1-2 .1-2 .7-2 1.3-2 2.2-2 1.4-.9 2-.8 2-.2zM110.9 108.6l1.2-1.3 2-.6 2 .2 2 .8 2 1.3 2.1 2.2 .8 1.4 .7 2 .1 2 -1 2 -.6 .5 -2.1 .6 -2-.2 -2-.7 -2-1.4 -2-2.1 -1.4-2.7 -.3-2z"/>
<path fill="#ff4a00" d="M39.9 38.2l2.2-.8 2 .2 2 .7 2.5 1.9 1.7 2 .8 2 .3 2 -.6 2 -.7 .8 -2 .7 -2-.2 -2-.7 -.9-.6 -2.3-2 -1.4-2 -.7-2 0-2zM122.2 38.1l1.2 2.1 0 2 -.7 2 -1.4 2 -2.3 2 -.9 .6 -2 .7 -2 .2 -2-.7 -.7-.8 -.6-2 .3-2 .8-2 1.7-2 2.5-1.9 2-.7 2-.2zM50.1 107.8l.7 .8 .6 2 -.3 2 -.8 2 -1.7 2 -2.5 1.9 -2 .7 -2 .2 -2.2-.8 -1.1-2 0-2 .7-2 1.4-2 2.3-2 .9-.6 2-.7 2-.2zM112.1 107.8l2-.7 2 .2 2 .7 .9 .6 2.3 2 1.4 2 .7 2 0 2 -1.1 2 -2.2 .8 -2-.2 -2-.7 -2.5-1.9 -1.7-2 -.8-2 -.3-2 .6-2z"/>
<path fill="#ff2b00" d="M40 38.7l.8-.5 1.3-.4 2 .1 2 .8 2.2 1.5 1.6 2 .9 2 .2 2 -.7 2 -.2 .3 -2 .8 -2-.1 -2-.7 -2-1.5 -.8-.8 -1.5-2 -.6-2 0-2zM122.2 38.7l.8 1.5 0 2 -.6 2 -1.5 2 -.8 .8 -2 1.5 -2 .7 -2 .1 -2-.8 -.2-.3 -.7-2 .2-2 .9-2 1.6-2 2.2-1.5 2-.8 2-.1 1.3 .4zM50.1 108.3l.2 .3 .7 2 -.2 2 -.9 2 -1.6 2 -2.2 1.5 -2 .8 -2 .1 -1.3-.4 -.8-.5 -.8-1.5 0-2 .6-2 1.5-2 .8-.8 2-1.5 2-.7 2-.1zM111.9 108.6l.2-.3 2-.8 2 .1 2 .7 2 1.5 .8 .8 1.5 2 .6 2 0 2 -.8 1.5 -.8 .5 -1.3 .4 -2-.1 -2-.8 -2.2-1.5 -1.6-2 -.9-2 -.2-2z"/>
<path fill="#ff0d00" d="M40 39.4l2.1-1.3 2 .1 2 .9 1.7 1.1 1.7 2 1 2 .1 2 -.5 1.6 -.5 .4 -1.5 .7 -2-.1 -2-.7 -2-1.5 -2-2.4 -.6-2 .1-2zM122.2 39.4l.4 .8 .1 2 -.6 2 -2 2.4 -2 1.5 -2 .7 -2 .1 -1.5-.7 -.5-.4 -.5-1.6 .1-2 1-2 1.7-2 1.7-1.1 2-.9 2-.1zM49.6 108.6l.5 .4 .5 1.6 -.1 2 -1 2 -1.7 2 -1.7 1.1 -2 .9 -2 .1 -2.1-1.3 -.4-.8 -.1-2 .6-2 2-2.4 2-1.5 2-.7 2-.1zM112.1 109l.5-.4 1.5-.7 2 .1 2 .7 2 1.5 2 2.4 .6 2 -.1 2 -.4 .8 -2.1 1.3 -2-.1 -2-.9 -1.7-1.1 -1.7-2 -1-2 -.1-2z"/>
<path fill="#f00" d="M40 40.2l2.1-1.5 2 0 2 .8 1.1 .7 1.8 2 1.1 2 .1 2 -.1 .5 -1.5 1.5 -.5 .3 -2 0 -2-.9 -2.1-1.4 -1.4-2 -.7-2zM120.1 38.7l2.1 1.5 .1 2 -.7 2 -1.4 2 -2.1 1.4 -2 .9 -2 0 -.5-.3 -1.5-1.5 -.1-.5 .1-2 1.1-2 1.8-2 1.1-.7 2-.8zM48.6 108.6l1.5 1.5 .1 .5 -.1 2 -1.1 2 -.9 1.2 -2 1.5 -2 .8 -2 0 -2.1-1.5 -.1-2 .7-2 1.5-2.1 2-1.3 2-.9 2 0zM112.1 110.1l1.5-1.5 .5-.3 2 0 2 .9 2.1 1.4 1.4 2 .7 2 -.1 2 -2.1 1.5 -2 0 -2-.8 -1.1-.7 -1.8-2 -1.1-2 -.1-2z"/>
<path fill="#f00" d="M40.8 40.2l1.3-1 2 0 2 .6 .5 .4 2 2 .9 2 0 2 -1.4 1.6 -2 .1 -2-.8 -1.4-.9 -1.6-2 -.7-2zM121.4 40.2l.4 2 -.7 2 -1.6 2 -1.4 .9 -2 .8 -2-.1 -1.4-1.6 0-2 .9-2 2-2 .5-.4 2-.6 2 0zM48.1 109l1.4 1.6 0 2 -.9 2 -.5 .6 -2 1.8 -2 .6 -2 0 -1.3-1 -.4-2 .7-2 1-1.4 2-1.5 2-.8zM112.7 110.6l1.4-1.6 2-.1 2 .8 1.4 .9 1.6 2 .7 2 -.4 2 -1.3 1 -2 0 -2-.6 -.5-.4 -2-2 -.9-2z"/>
<path fill="#f00" d="M41.5 40.2l.6-.4 2-.1 1.8 .5 2.2 1.9 .7 2.1 -.1 2 -.6 .7 -2 .2 -2-.5 -2-1.7 -.5-.7 -.4-2zM120.7 40.2l.3 2 -.4 2 -.5 .7 -2 1.7 -2 .5 -2-.2 -.6-.7 -.1-2 .7-2.1 2.2-1.9 1.8-.5 2 .1zM48.1 109.9l.6 .7 .1 2 -.7 2.1 -2.2 1.9 -1.8 .5 -2-.1 -.6-.4 -.3-2 .4-2 .5-.7 2-1.7 2-.5zM114.1 109.9l2-.2 2 .5 2 1.7 .5 .7 .4 2 -.3 2 -.6 .4 -2 .1 -1.8-.5 -2.2-1.9 -.7-2.1 .1-2z"/>
</svg>
<path d="M462.0 398.6V241.8H624.2" fill="none" stroke="#0c0c50" stroke-width="1"/>
<path d="M624.2 241.8V398.6" fill="none" stroke="#3c3c46" stroke-width="0.9"/>
<ellipse cx="502.6" cy="280.5" rx="38.3" ry="37.6" fill="none" stroke="#fbfbea" stroke-opacity="0.92" stroke-width="1.2" stroke-dasharray="1.5 1.75"/>
<ellipse cx="502.6" cy="359.9" rx="38.3" ry="37.6" fill="none" stroke="#fbfbea" stroke-opacity="0.92" stroke-width="1.2" stroke-dasharray="1.5 1.75"/>
<ellipse cx="583.7" cy="280.5" rx="38.3" ry="37.6" fill="none" stroke="#fbfbea" stroke-opacity="0.92" stroke-width="1.2" stroke-dasharray="1.5 1.75"/>
<ellipse cx="583.7" cy="359.9" rx="38.3" ry="37.6" fill="none" stroke="#fbfbea" stroke-opacity="0.92" stroke-width="1.2" stroke-dasharray="1.5 1.75"/>
<path d="M542.9 240.3V399.4M461.2 320.2H625.7" stroke="#0a0a26" stroke-width="0.95" stroke-dasharray="4.1 1.1 1.1 1.1" fill="none"/>
<rect x="626.0" y="241.6" width="12.6" height="3.4" fill="#858585"/>
<rect x="626.0" y="244.8" width="12.6" height="153.8" fill="url(#cb)"/>
<path d="M626.0 241.6V398.6M638.6 241.6V398.6" stroke="#5a5a5a" stroke-width="0.7" fill="none"/>
<text transform="translate(640.0 245.7) scale(1.045 1)" font-size="13.8">-296.0</text>
<text transform="translate(640.0 323.7) scale(1.045 1)" font-size="13.8">-136.0</text>
<text transform="translate(640.0 393.0) scale(1.045 1)" font-size="13.8">-0.0</text>
<text transform="translate(617.4 232.1) scale(1.045 1)" font-size="13.6">10<tspan dy="-4.3" font-size="9.4">3</tspan></text>
<text id="cap5" transform="translate(558.7 420.6) scale(1.045 1)" font-size="16.1" text-anchor="middle">ABHs (<tspan font-style="italic">f</tspan><tspan font-style="italic" font-size="10.2" dy="3">cut</tspan><tspan dy="-3">-3k Hz)</tspan></text>
</svg></body></html>
